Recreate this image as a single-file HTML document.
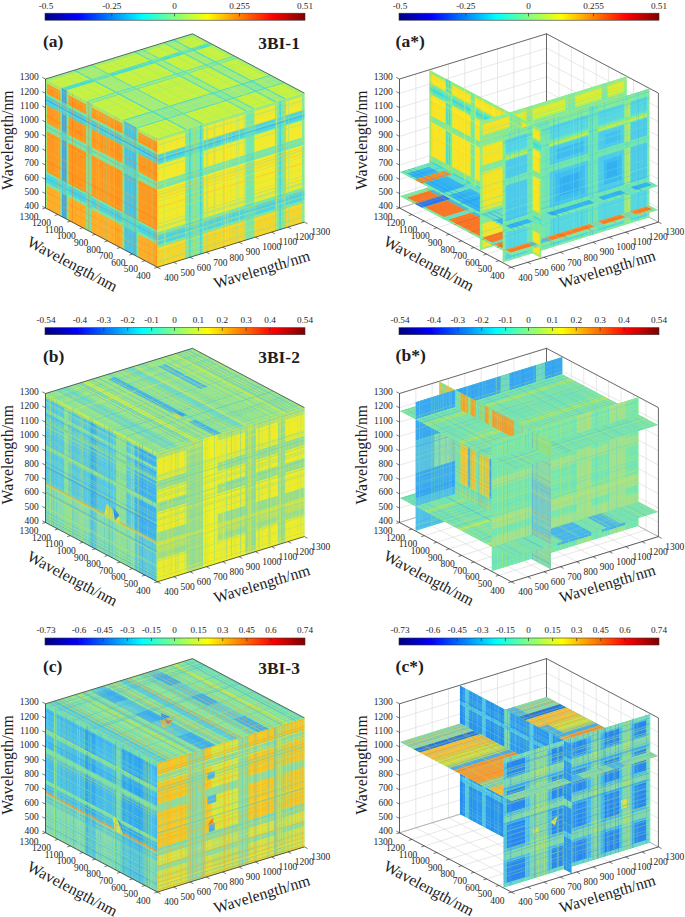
<!DOCTYPE html>
<html><head><meta charset="utf-8"><style>
html,body{margin:0;padding:0;background:#fff;}
svg{display:block;font-family:"Liberation Serif", serif;}
</style></head><body>
<svg width="685" height="917" viewBox="0 0 685 917">
<defs><linearGradient id="jetgrad" x1="0" x2="1" y1="0" y2="0"><stop offset="0" stop-color="#000080"/><stop offset="0.016" stop-color="#00008f"/><stop offset="0.031" stop-color="#00009f"/><stop offset="0.047" stop-color="#0000af"/><stop offset="0.062" stop-color="#0000bf"/><stop offset="0.078" stop-color="#0000cf"/><stop offset="0.094" stop-color="#0000df"/><stop offset="0.109" stop-color="#0000ef"/><stop offset="0.125" stop-color="#0000ff"/><stop offset="0.141" stop-color="#0010ff"/><stop offset="0.156" stop-color="#0020ff"/><stop offset="0.172" stop-color="#0030ff"/><stop offset="0.188" stop-color="#0040ff"/><stop offset="0.203" stop-color="#0050ff"/><stop offset="0.219" stop-color="#0060ff"/><stop offset="0.234" stop-color="#0070ff"/><stop offset="0.25" stop-color="#0080ff"/><stop offset="0.266" stop-color="#008fff"/><stop offset="0.281" stop-color="#009fff"/><stop offset="0.297" stop-color="#00afff"/><stop offset="0.312" stop-color="#00bfff"/><stop offset="0.328" stop-color="#00cfff"/><stop offset="0.344" stop-color="#00dfff"/><stop offset="0.359" stop-color="#00efff"/><stop offset="0.375" stop-color="#00ffff"/><stop offset="0.391" stop-color="#10ffef"/><stop offset="0.406" stop-color="#20ffdf"/><stop offset="0.422" stop-color="#30ffcf"/><stop offset="0.438" stop-color="#40ffbf"/><stop offset="0.453" stop-color="#50ffaf"/><stop offset="0.469" stop-color="#60ff9f"/><stop offset="0.484" stop-color="#70ff8f"/><stop offset="0.5" stop-color="#80ff80"/><stop offset="0.516" stop-color="#8fff70"/><stop offset="0.531" stop-color="#9fff60"/><stop offset="0.547" stop-color="#afff50"/><stop offset="0.562" stop-color="#bfff40"/><stop offset="0.578" stop-color="#cfff30"/><stop offset="0.594" stop-color="#dfff20"/><stop offset="0.609" stop-color="#efff10"/><stop offset="0.625" stop-color="#ffff00"/><stop offset="0.641" stop-color="#ffef00"/><stop offset="0.656" stop-color="#ffdf00"/><stop offset="0.672" stop-color="#ffcf00"/><stop offset="0.688" stop-color="#ffbf00"/><stop offset="0.703" stop-color="#ffaf00"/><stop offset="0.719" stop-color="#ff9f00"/><stop offset="0.734" stop-color="#ff8f00"/><stop offset="0.75" stop-color="#ff8000"/><stop offset="0.766" stop-color="#ff7000"/><stop offset="0.781" stop-color="#ff6000"/><stop offset="0.797" stop-color="#ff5000"/><stop offset="0.812" stop-color="#ff4000"/><stop offset="0.828" stop-color="#ff3000"/><stop offset="0.844" stop-color="#ff2000"/><stop offset="0.859" stop-color="#ff1000"/><stop offset="0.875" stop-color="#ff0000"/><stop offset="0.891" stop-color="#ef0000"/><stop offset="0.906" stop-color="#df0000"/><stop offset="0.922" stop-color="#cf0000"/><stop offset="0.938" stop-color="#bf0000"/><stop offset="0.953" stop-color="#af0000"/><stop offset="0.969" stop-color="#9f0000"/><stop offset="0.984" stop-color="#8f0000"/><stop offset="1" stop-color="#800000"/></linearGradient>
<g id="t1"><rect x="0" y="0" width="1" height="1" fill="#80ff80"/><rect x="0" y="0" width="0.012" height="0.03" fill="#a8ee70"/><rect x="0" y="0.03" width="0.012" height="0.08" fill="#a8ee70"/><rect x="0" y="0.11" width="0.012" height="0.015" fill="#74e6b0"/><rect x="0" y="0.125" width="0.012" height="0.075" fill="#4cd4e2"/><rect x="0" y="0.2" width="0.012" height="0.14" fill="#a8ee70"/><rect x="0" y="0.34" width="0.012" height="0.06" fill="#74e6b0"/><rect x="0" y="0.4" width="0.012" height="0.315" fill="#a8ee70"/><rect x="0" y="0.715" width="0.012" height="0.015" fill="#74e6b0"/><rect x="0" y="0.73" width="0.012" height="0.07" fill="#4cd4e2"/><rect x="0" y="0.8" width="0.012" height="0.02" fill="#74e6b0"/><rect x="0" y="0.82" width="0.012" height="0.18" fill="#a8ee70"/><rect x="0.012" y="0" width="0.123" height="0.03" fill="#a8ee70"/><rect x="0.012" y="0.03" width="0.123" height="0.08" fill="#ff9820"/><rect x="0.012" y="0.11" width="0.123" height="0.015" fill="#74e6b0"/><rect x="0.012" y="0.125" width="0.123" height="0.075" fill="#4cd4e2"/><rect x="0.012" y="0.2" width="0.123" height="0.14" fill="#ff9820"/><rect x="0.012" y="0.34" width="0.123" height="0.06" fill="#74e6b0"/><rect x="0.012" y="0.4" width="0.123" height="0.315" fill="#ff9820"/><rect x="0.012" y="0.715" width="0.123" height="0.015" fill="#74e6b0"/><rect x="0.012" y="0.73" width="0.123" height="0.07" fill="#4cd4e2"/><rect x="0.012" y="0.8" width="0.123" height="0.02" fill="#74e6b0"/><rect x="0.012" y="0.82" width="0.123" height="0.18" fill="#ffac28"/><rect x="0.135" y="0" width="0.012" height="0.03" fill="#74e6b0"/><rect x="0.135" y="0.03" width="0.012" height="0.08" fill="#74e6b0"/><rect x="0.135" y="0.11" width="0.012" height="0.015" fill="#5edcc4"/><rect x="0.135" y="0.125" width="0.012" height="0.075" fill="#60dcc8"/><rect x="0.135" y="0.2" width="0.012" height="0.14" fill="#74e6b0"/><rect x="0.135" y="0.34" width="0.012" height="0.06" fill="#5edcc4"/><rect x="0.135" y="0.4" width="0.012" height="0.315" fill="#74e6b0"/><rect x="0.135" y="0.715" width="0.012" height="0.015" fill="#5edcc4"/><rect x="0.135" y="0.73" width="0.012" height="0.07" fill="#60dcc8"/><rect x="0.135" y="0.8" width="0.012" height="0.02" fill="#5edcc4"/><rect x="0.135" y="0.82" width="0.012" height="0.18" fill="#74e6b0"/><rect x="0.147" y="0" width="0.043" height="0.03" fill="#2f9cf2"/><rect x="0.147" y="0.03" width="0.043" height="0.08" fill="#2f9cf2"/><rect x="0.147" y="0.11" width="0.043" height="0.015" fill="#48c8e8"/><rect x="0.147" y="0.125" width="0.043" height="0.075" fill="#48c8e8"/><rect x="0.147" y="0.2" width="0.043" height="0.14" fill="#2f9cf2"/><rect x="0.147" y="0.34" width="0.043" height="0.06" fill="#48c8e8"/><rect x="0.147" y="0.4" width="0.043" height="0.315" fill="#2f9cf2"/><rect x="0.147" y="0.715" width="0.043" height="0.015" fill="#48c8e8"/><rect x="0.147" y="0.73" width="0.043" height="0.07" fill="#48c8e8"/><rect x="0.147" y="0.8" width="0.043" height="0.02" fill="#48c8e8"/><rect x="0.147" y="0.82" width="0.043" height="0.18" fill="#2f9cf2"/><rect x="0.19" y="0" width="0.015" height="0.03" fill="#74e6b0"/><rect x="0.19" y="0.03" width="0.015" height="0.08" fill="#74e6b0"/><rect x="0.19" y="0.11" width="0.015" height="0.015" fill="#5edcc4"/><rect x="0.19" y="0.125" width="0.015" height="0.075" fill="#60dcc8"/><rect x="0.19" y="0.2" width="0.015" height="0.14" fill="#74e6b0"/><rect x="0.19" y="0.34" width="0.015" height="0.06" fill="#5edcc4"/><rect x="0.19" y="0.4" width="0.015" height="0.315" fill="#74e6b0"/><rect x="0.19" y="0.715" width="0.015" height="0.015" fill="#5edcc4"/><rect x="0.19" y="0.73" width="0.015" height="0.07" fill="#60dcc8"/><rect x="0.19" y="0.8" width="0.015" height="0.02" fill="#5edcc4"/><rect x="0.19" y="0.82" width="0.015" height="0.18" fill="#74e6b0"/><rect x="0.205" y="0" width="0.16" height="0.03" fill="#a8ee70"/><rect x="0.205" y="0.03" width="0.16" height="0.08" fill="#ff9820"/><rect x="0.205" y="0.11" width="0.16" height="0.015" fill="#74e6b0"/><rect x="0.205" y="0.125" width="0.16" height="0.075" fill="#4cd4e2"/><rect x="0.205" y="0.2" width="0.16" height="0.14" fill="#ff9820"/><rect x="0.205" y="0.34" width="0.16" height="0.06" fill="#74e6b0"/><rect x="0.205" y="0.4" width="0.16" height="0.315" fill="#ff9820"/><rect x="0.205" y="0.715" width="0.16" height="0.015" fill="#74e6b0"/><rect x="0.205" y="0.73" width="0.16" height="0.07" fill="#4cd4e2"/><rect x="0.205" y="0.8" width="0.16" height="0.02" fill="#74e6b0"/><rect x="0.205" y="0.82" width="0.16" height="0.18" fill="#ffac28"/><rect x="0.365" y="0" width="0.05" height="0.03" fill="#74e6b0"/><rect x="0.365" y="0.03" width="0.05" height="0.08" fill="#74e6b0"/><rect x="0.365" y="0.11" width="0.05" height="0.015" fill="#5edcc4"/><rect x="0.365" y="0.125" width="0.05" height="0.075" fill="#60dcc8"/><rect x="0.365" y="0.2" width="0.05" height="0.14" fill="#74e6b0"/><rect x="0.365" y="0.34" width="0.05" height="0.06" fill="#5edcc4"/><rect x="0.365" y="0.4" width="0.05" height="0.315" fill="#74e6b0"/><rect x="0.365" y="0.715" width="0.05" height="0.015" fill="#5edcc4"/><rect x="0.365" y="0.73" width="0.05" height="0.07" fill="#60dcc8"/><rect x="0.365" y="0.8" width="0.05" height="0.02" fill="#5edcc4"/><rect x="0.365" y="0.82" width="0.05" height="0.18" fill="#74e6b0"/><rect x="0.415" y="0" width="0.275" height="0.03" fill="#a8ee70"/><rect x="0.415" y="0.03" width="0.275" height="0.08" fill="#ff9820"/><rect x="0.415" y="0.11" width="0.275" height="0.015" fill="#74e6b0"/><rect x="0.415" y="0.125" width="0.275" height="0.075" fill="#4cd4e2"/><rect x="0.415" y="0.2" width="0.275" height="0.14" fill="#ff9820"/><rect x="0.415" y="0.34" width="0.275" height="0.06" fill="#74e6b0"/><rect x="0.415" y="0.4" width="0.275" height="0.315" fill="#ff9820"/><rect x="0.415" y="0.715" width="0.275" height="0.015" fill="#74e6b0"/><rect x="0.415" y="0.73" width="0.275" height="0.07" fill="#4cd4e2"/><rect x="0.415" y="0.8" width="0.275" height="0.02" fill="#74e6b0"/><rect x="0.415" y="0.82" width="0.275" height="0.18" fill="#ffac28"/><rect x="0.69" y="0" width="0.015" height="0.03" fill="#74e6b0"/><rect x="0.69" y="0.03" width="0.015" height="0.08" fill="#74e6b0"/><rect x="0.69" y="0.11" width="0.015" height="0.015" fill="#5edcc4"/><rect x="0.69" y="0.125" width="0.015" height="0.075" fill="#60dcc8"/><rect x="0.69" y="0.2" width="0.015" height="0.14" fill="#74e6b0"/><rect x="0.69" y="0.34" width="0.015" height="0.06" fill="#5edcc4"/><rect x="0.69" y="0.4" width="0.015" height="0.315" fill="#74e6b0"/><rect x="0.69" y="0.715" width="0.015" height="0.015" fill="#5edcc4"/><rect x="0.69" y="0.73" width="0.015" height="0.07" fill="#60dcc8"/><rect x="0.69" y="0.8" width="0.015" height="0.02" fill="#5edcc4"/><rect x="0.69" y="0.82" width="0.015" height="0.18" fill="#74e6b0"/><rect x="0.705" y="0" width="0.11" height="0.03" fill="#40c4ee"/><rect x="0.705" y="0.03" width="0.11" height="0.08" fill="#40c4ee"/><rect x="0.705" y="0.11" width="0.11" height="0.015" fill="#58d8d0"/><rect x="0.705" y="0.125" width="0.11" height="0.075" fill="#58d8d0"/><rect x="0.705" y="0.2" width="0.11" height="0.14" fill="#40c4ee"/><rect x="0.705" y="0.34" width="0.11" height="0.06" fill="#58d8d0"/><rect x="0.705" y="0.4" width="0.11" height="0.315" fill="#40c4ee"/><rect x="0.705" y="0.715" width="0.11" height="0.015" fill="#58d8d0"/><rect x="0.705" y="0.73" width="0.11" height="0.07" fill="#58d8d0"/><rect x="0.705" y="0.8" width="0.11" height="0.02" fill="#58d8d0"/><rect x="0.705" y="0.82" width="0.11" height="0.18" fill="#40c4ee"/><rect x="0.815" y="0" width="0.015" height="0.03" fill="#74e6b0"/><rect x="0.815" y="0.03" width="0.015" height="0.08" fill="#74e6b0"/><rect x="0.815" y="0.11" width="0.015" height="0.015" fill="#5edcc4"/><rect x="0.815" y="0.125" width="0.015" height="0.075" fill="#60dcc8"/><rect x="0.815" y="0.2" width="0.015" height="0.14" fill="#74e6b0"/><rect x="0.815" y="0.34" width="0.015" height="0.06" fill="#5edcc4"/><rect x="0.815" y="0.4" width="0.015" height="0.315" fill="#74e6b0"/><rect x="0.815" y="0.715" width="0.015" height="0.015" fill="#5edcc4"/><rect x="0.815" y="0.73" width="0.015" height="0.07" fill="#60dcc8"/><rect x="0.815" y="0.8" width="0.015" height="0.02" fill="#5edcc4"/><rect x="0.815" y="0.82" width="0.015" height="0.18" fill="#74e6b0"/><rect x="0.83" y="0" width="0.17" height="0.03" fill="#a8ee70"/><rect x="0.83" y="0.03" width="0.17" height="0.08" fill="#ff9820"/><rect x="0.83" y="0.11" width="0.17" height="0.015" fill="#74e6b0"/><rect x="0.83" y="0.125" width="0.17" height="0.075" fill="#4cd4e2"/><rect x="0.83" y="0.2" width="0.17" height="0.14" fill="#ff9820"/><rect x="0.83" y="0.34" width="0.17" height="0.06" fill="#74e6b0"/><rect x="0.83" y="0.4" width="0.17" height="0.315" fill="#ff9820"/><rect x="0.83" y="0.715" width="0.17" height="0.015" fill="#74e6b0"/><rect x="0.83" y="0.73" width="0.17" height="0.07" fill="#4cd4e2"/><rect x="0.83" y="0.8" width="0.17" height="0.02" fill="#74e6b0"/><rect x="0.83" y="0.82" width="0.17" height="0.18" fill="#ffac28"/><rect x="0" y="0.155" width="1" height="0.01" fill="#34a8f0"/><rect x="0" y="0.76" width="1" height="0.01" fill="#40c4ea"/><rect x="0" y="0.36" width="1" height="0.01" fill="#50d8d0"/><g opacity="0.5"><rect x="0.452" y="0" width="0.005" height="1" fill="#ffc040"/><rect x="0.855" y="0" width="0.003" height="1" fill="#80e8a0"/><rect x="0.614" y="0" width="0.003" height="1" fill="#ffc040"/><rect x="0" y="0.091" width="1" height="0.006" fill="#ff8010"/><rect x="0" y="0.396" width="1" height="0.004" fill="#80e8a0"/><rect x="0.623" y="0" width="0.006" height="1" fill="#ff8010"/><rect x="0" y="0.19" width="1" height="0.003" fill="#ff8010"/><rect x="0" y="0.326" width="1" height="0.005" fill="#ffb030"/><rect x="0.64" y="0" width="0.004" height="1" fill="#ff8010"/><rect x="0" y="0.278" width="1" height="0.007" fill="#ff8010"/><rect x="0.315" y="0" width="0.003" height="1" fill="#ff7808"/><rect x="0" y="0.563" width="1" height="0.003" fill="#ff8010"/><rect x="0.387" y="0" width="0.007" height="1" fill="#ff8010"/><rect x="0" y="0.927" width="1" height="0.002" fill="#ffc040"/><rect x="0" y="0.397" width="1" height="0.002" fill="#ffb030"/><rect x="0.27" y="0" width="0.002" height="1" fill="#ff7808"/><rect x="0.41" y="0" width="0.007" height="1" fill="#ffb030"/><rect x="0.101" y="0" width="0.002" height="1" fill="#ffc040"/><rect x="0" y="0.559" width="1" height="0.004" fill="#ffb030"/><rect x="0.77" y="0" width="0.004" height="1" fill="#ffc040"/><rect x="0" y="0.421" width="1" height="0.003" fill="#ff7808"/><rect x="0.975" y="0" width="0.005" height="1" fill="#ff8010"/><rect x="0.394" y="0" width="0.006" height="1" fill="#80e8a0"/><rect x="0.989" y="0" width="0.003" height="1" fill="#ff7808"/><rect x="0.61" y="0" width="0.006" height="1" fill="#ffc040"/><rect x="0.09" y="0" width="0.005" height="1" fill="#ffb030"/><rect x="0" y="0.369" width="1" height="0.005" fill="#ffb030"/><rect x="0.484" y="0" width="0.005" height="1" fill="#ffc040"/><rect x="0.154" y="0" width="0.007" height="1" fill="#80e8a0"/><rect x="0.19" y="0" width="0.006" height="1" fill="#80e8a0"/><rect x="0.95" y="0" width="0.006" height="1" fill="#80e8a0"/><rect x="0" y="0.047" width="1" height="0.003" fill="#80e8a0"/><rect x="0.238" y="0" width="0.006" height="1" fill="#ff7808"/><rect x="0.905" y="0" width="0.004" height="1" fill="#80e8a0"/><rect x="0.72" y="0" width="0.002" height="1" fill="#ffb030"/><rect x="0.654" y="0" width="0.005" height="1" fill="#ff8010"/><rect x="0.917" y="0" width="0.003" height="1" fill="#ff8010"/><rect x="0.411" y="0" width="0.003" height="1" fill="#ff8010"/><rect x="0.369" y="0" width="0.005" height="1" fill="#ffb030"/><rect x="0" y="0.138" width="1" height="0.004" fill="#ff7808"/><rect x="0" y="0.691" width="1" height="0.005" fill="#ffb030"/><rect x="0" y="0.924" width="1" height="0.004" fill="#ff7808"/><rect x="0.963" y="0" width="0.002" height="1" fill="#ff8010"/><rect x="0.73" y="0" width="0.004" height="1" fill="#ff8010"/><rect x="0" y="0.546" width="1" height="0.006" fill="#ffb030"/><rect x="0" y="0.915" width="1" height="0.004" fill="#ffc040"/><rect x="0" y="0.871" width="1" height="0.004" fill="#ff8010"/><rect x="0.573" y="0" width="0.005" height="1" fill="#ffc040"/><rect x="0" y="0.012" width="1" height="0.002" fill="#ff8010"/><rect x="0.993" y="0" width="0.006" height="1" fill="#ff7808"/><rect x="0.735" y="0" width="0.005" height="1" fill="#ffc040"/><rect x="0.541" y="0" width="0.005" height="1" fill="#80e8a0"/><rect x="0" y="0.601" width="1" height="0.004" fill="#ffb030"/><rect x="0.113" y="0" width="0.006" height="1" fill="#ffc040"/><rect x="0.011" y="0" width="0.004" height="1" fill="#80e8a0"/><rect x="0.17" y="0" width="0.007" height="1" fill="#ffc040"/><rect x="0.241" y="0" width="0.004" height="1" fill="#ff7808"/><rect x="0" y="0.431" width="1" height="0.006" fill="#ffb030"/><rect x="0.384" y="0" width="0.005" height="1" fill="#ff7808"/><rect x="0" y="0.135" width="1" height="0.004" fill="#ff8010"/><rect x="0.95" y="0" width="0.003" height="1" fill="#ffb030"/><rect x="0.471" y="0" width="0.007" height="1" fill="#ffc040"/><rect x="0.52" y="0" width="0.005" height="1" fill="#80e8a0"/><rect x="0.075" y="0" width="0.002" height="1" fill="#80e8a0"/><rect x="0" y="0.709" width="1" height="0.005" fill="#ff7808"/><rect x="0.564" y="0" width="0.005" height="1" fill="#ffc040"/><rect x="0" y="0.025" width="1" height="0.006" fill="#ffb030"/><rect x="0.797" y="0" width="0.007" height="1" fill="#ff8010"/><rect x="0" y="0.63" width="1" height="0.005" fill="#ff7808"/><rect x="0.684" y="0" width="0.003" height="1" fill="#ffc040"/></g></g>
<g id="t2"><rect x="0" y="0" width="1" height="1" fill="#80ff80"/><rect x="0" y="0" width="0.19" height="0.02" fill="#90e890"/><rect x="0" y="0.02" width="0.19" height="0.11" fill="#f2ea2c"/><rect x="0" y="0.13" width="0.19" height="0.07" fill="#4cd4e2"/><rect x="0" y="0.2" width="0.19" height="0.01" fill="#74e6b0"/><rect x="0" y="0.21" width="0.19" height="0.13" fill="#f2ea2c"/><rect x="0" y="0.34" width="0.19" height="0.06" fill="#74e6b0"/><rect x="0" y="0.4" width="0.19" height="0.33" fill="#f2ea2c"/><rect x="0" y="0.73" width="0.19" height="0.02" fill="#74e6b0"/><rect x="0" y="0.75" width="0.19" height="0.08" fill="#4cd4e2"/><rect x="0" y="0.83" width="0.19" height="0.02" fill="#74e6b0"/><rect x="0" y="0.85" width="0.19" height="0.15" fill="#f8d428"/><rect x="0.19" y="0" width="0.125" height="0.02" fill="#74e6b0"/><rect x="0.19" y="0.02" width="0.125" height="0.11" fill="#74e6b0"/><rect x="0.19" y="0.13" width="0.125" height="0.07" fill="#60dcc8"/><rect x="0.19" y="0.2" width="0.125" height="0.01" fill="#5edcc4"/><rect x="0.19" y="0.21" width="0.125" height="0.13" fill="#74e6b0"/><rect x="0.19" y="0.34" width="0.125" height="0.06" fill="#5edcc4"/><rect x="0.19" y="0.4" width="0.125" height="0.33" fill="#74e6b0"/><rect x="0.19" y="0.73" width="0.125" height="0.02" fill="#5edcc4"/><rect x="0.19" y="0.75" width="0.125" height="0.08" fill="#60dcc8"/><rect x="0.19" y="0.83" width="0.125" height="0.02" fill="#5edcc4"/><rect x="0.19" y="0.85" width="0.125" height="0.15" fill="#74e6b0"/><rect x="0.315" y="0" width="0.285" height="0.02" fill="#90e890"/><rect x="0.315" y="0.02" width="0.285" height="0.11" fill="#f2ea2c"/><rect x="0.315" y="0.13" width="0.285" height="0.07" fill="#4cd4e2"/><rect x="0.315" y="0.2" width="0.285" height="0.01" fill="#74e6b0"/><rect x="0.315" y="0.21" width="0.285" height="0.13" fill="#f2ea2c"/><rect x="0.315" y="0.34" width="0.285" height="0.06" fill="#74e6b0"/><rect x="0.315" y="0.4" width="0.285" height="0.33" fill="#f2ea2c"/><rect x="0.315" y="0.73" width="0.285" height="0.02" fill="#74e6b0"/><rect x="0.315" y="0.75" width="0.285" height="0.08" fill="#4cd4e2"/><rect x="0.315" y="0.83" width="0.285" height="0.02" fill="#74e6b0"/><rect x="0.315" y="0.85" width="0.285" height="0.15" fill="#f8d428"/><rect x="0.6" y="0" width="0.06" height="0.02" fill="#74e6b0"/><rect x="0.6" y="0.02" width="0.06" height="0.11" fill="#74e6b0"/><rect x="0.6" y="0.13" width="0.06" height="0.07" fill="#60dcc8"/><rect x="0.6" y="0.2" width="0.06" height="0.01" fill="#5edcc4"/><rect x="0.6" y="0.21" width="0.06" height="0.13" fill="#74e6b0"/><rect x="0.6" y="0.34" width="0.06" height="0.06" fill="#5edcc4"/><rect x="0.6" y="0.4" width="0.06" height="0.33" fill="#74e6b0"/><rect x="0.6" y="0.73" width="0.06" height="0.02" fill="#5edcc4"/><rect x="0.6" y="0.75" width="0.06" height="0.08" fill="#60dcc8"/><rect x="0.6" y="0.83" width="0.06" height="0.02" fill="#5edcc4"/><rect x="0.6" y="0.85" width="0.06" height="0.15" fill="#74e6b0"/><rect x="0.66" y="0" width="0.14" height="0.02" fill="#90e890"/><rect x="0.66" y="0.02" width="0.14" height="0.11" fill="#f2ea2c"/><rect x="0.66" y="0.13" width="0.14" height="0.07" fill="#4cd4e2"/><rect x="0.66" y="0.2" width="0.14" height="0.01" fill="#74e6b0"/><rect x="0.66" y="0.21" width="0.14" height="0.13" fill="#f2ea2c"/><rect x="0.66" y="0.34" width="0.14" height="0.06" fill="#74e6b0"/><rect x="0.66" y="0.4" width="0.14" height="0.33" fill="#f2ea2c"/><rect x="0.66" y="0.73" width="0.14" height="0.02" fill="#74e6b0"/><rect x="0.66" y="0.75" width="0.14" height="0.08" fill="#4cd4e2"/><rect x="0.66" y="0.83" width="0.14" height="0.02" fill="#74e6b0"/><rect x="0.66" y="0.85" width="0.14" height="0.15" fill="#f8d428"/><rect x="0.8" y="0" width="0.075" height="0.02" fill="#74e6b0"/><rect x="0.8" y="0.02" width="0.075" height="0.11" fill="#74e6b0"/><rect x="0.8" y="0.13" width="0.075" height="0.07" fill="#60dcc8"/><rect x="0.8" y="0.2" width="0.075" height="0.01" fill="#5edcc4"/><rect x="0.8" y="0.21" width="0.075" height="0.13" fill="#74e6b0"/><rect x="0.8" y="0.34" width="0.075" height="0.06" fill="#5edcc4"/><rect x="0.8" y="0.4" width="0.075" height="0.33" fill="#74e6b0"/><rect x="0.8" y="0.73" width="0.075" height="0.02" fill="#5edcc4"/><rect x="0.8" y="0.75" width="0.075" height="0.08" fill="#60dcc8"/><rect x="0.8" y="0.83" width="0.075" height="0.02" fill="#5edcc4"/><rect x="0.8" y="0.85" width="0.075" height="0.15" fill="#74e6b0"/><rect x="0.875" y="0" width="0.11" height="0.02" fill="#90e890"/><rect x="0.875" y="0.02" width="0.11" height="0.11" fill="#f2ea2c"/><rect x="0.875" y="0.13" width="0.11" height="0.07" fill="#4cd4e2"/><rect x="0.875" y="0.2" width="0.11" height="0.01" fill="#74e6b0"/><rect x="0.875" y="0.21" width="0.11" height="0.13" fill="#f2ea2c"/><rect x="0.875" y="0.34" width="0.11" height="0.06" fill="#74e6b0"/><rect x="0.875" y="0.4" width="0.11" height="0.33" fill="#f2ea2c"/><rect x="0.875" y="0.73" width="0.11" height="0.02" fill="#74e6b0"/><rect x="0.875" y="0.75" width="0.11" height="0.08" fill="#4cd4e2"/><rect x="0.875" y="0.83" width="0.11" height="0.02" fill="#74e6b0"/><rect x="0.875" y="0.85" width="0.11" height="0.15" fill="#f8d428"/><rect x="0.985" y="0" width="0.015" height="0.02" fill="#90e890"/><rect x="0.985" y="0.02" width="0.015" height="0.11" fill="#90e890"/><rect x="0.985" y="0.13" width="0.015" height="0.07" fill="#4cd4e2"/><rect x="0.985" y="0.2" width="0.015" height="0.01" fill="#74e6b0"/><rect x="0.985" y="0.21" width="0.015" height="0.13" fill="#90e890"/><rect x="0.985" y="0.34" width="0.015" height="0.06" fill="#74e6b0"/><rect x="0.985" y="0.4" width="0.015" height="0.33" fill="#90e890"/><rect x="0.985" y="0.73" width="0.015" height="0.02" fill="#74e6b0"/><rect x="0.985" y="0.75" width="0.015" height="0.08" fill="#4cd4e2"/><rect x="0.985" y="0.83" width="0.015" height="0.02" fill="#74e6b0"/><rect x="0.985" y="0.85" width="0.015" height="0.15" fill="#90e890"/><rect x="0.215" y="0" width="0.01" height="1" fill="#3cd4e4"/><rect x="0.29" y="0" width="0.01" height="1" fill="#3cd4e4"/><rect x="0.83" y="0" width="0.01" height="1" fill="#3cd4e4"/><rect x="0" y="0.165" width="1" height="0.01" fill="#3cb4ee"/><rect x="0" y="0.78" width="1" height="0.01" fill="#44c8e8"/><g opacity="0.55"><rect x="0.475" y="0" width="0.005" height="1" fill="#80e4a8"/><rect x="0.382" y="0" width="0.007" height="1" fill="#ffc028"/><rect x="0.81" y="0" width="0.005" height="1" fill="#88e4a8"/><rect x="0.002" y="0" width="0.005" height="1" fill="#ffc028"/><rect x="0" y="0.34" width="1" height="0.003" fill="#88e4a8"/><rect x="0" y="0.075" width="1" height="0.005" fill="#c8ec50"/><rect x="0" y="0.798" width="1" height="0.002" fill="#ffd020"/><rect x="0" y="0.662" width="1" height="0.003" fill="#ffc028"/><rect x="0" y="0.113" width="1" height="0.004" fill="#f8f038"/><rect x="0" y="0.882" width="1" height="0.005" fill="#80e4a8"/><rect x="0.555" y="0" width="0.005" height="1" fill="#ffd020"/><rect x="0" y="0.419" width="1" height="0.005" fill="#ffc028"/><rect x="0" y="0.541" width="1" height="0.005" fill="#ffd020"/><rect x="0" y="0.976" width="1" height="0.005" fill="#c8ec50"/><rect x="0.866" y="0" width="0.004" height="1" fill="#c8ec50"/><rect x="0" y="0.235" width="1" height="0.004" fill="#88e4a8"/><rect x="0" y="0.765" width="1" height="0.003" fill="#ffc028"/><rect x="0" y="0.43" width="1" height="0.005" fill="#f8f038"/><rect x="0.043" y="0" width="0.003" height="1" fill="#88e4a8"/><rect x="0.55" y="0" width="0.003" height="1" fill="#80e4a8"/><rect x="0" y="0.433" width="1" height="0.004" fill="#88e4a8"/><rect x="0.052" y="0" width="0.004" height="1" fill="#f8f038"/><rect x="0.456" y="0" width="0.005" height="1" fill="#ffc028"/><rect x="0.989" y="0" width="0.004" height="1" fill="#88e4a8"/><rect x="0.189" y="0" width="0.006" height="1" fill="#88e4a8"/><rect x="0.268" y="0" width="0.006" height="1" fill="#c8ec50"/><rect x="0" y="0.795" width="1" height="0.005" fill="#f8f038"/><rect x="0.984" y="0" width="0.007" height="1" fill="#88e4a8"/><rect x="0" y="0.928" width="1" height="0.006" fill="#80e4a8"/><rect x="0" y="0.639" width="1" height="0.003" fill="#88e4a8"/><rect x="0" y="0.49" width="1" height="0.004" fill="#80e4a8"/><rect x="0" y="0.894" width="1" height="0.003" fill="#c8ec50"/><rect x="0" y="0.046" width="1" height="0.004" fill="#88e4a8"/><rect x="0.445" y="0" width="0.006" height="1" fill="#80e4a8"/><rect x="0.255" y="0" width="0.005" height="1" fill="#80e4a8"/><rect x="0.558" y="0" width="0.003" height="1" fill="#f8f038"/><rect x="0" y="0.435" width="1" height="0.007" fill="#88e4a8"/><rect x="0" y="0.719" width="1" height="0.007" fill="#c8ec50"/><rect x="0" y="0.418" width="1" height="0.005" fill="#ffc028"/><rect x="0" y="0.58" width="1" height="0.004" fill="#c8ec50"/><rect x="0" y="0.385" width="1" height="0.003" fill="#80e4a8"/><rect x="0" y="0.904" width="1" height="0.006" fill="#ffd020"/><rect x="0" y="0.535" width="1" height="0.006" fill="#ffc028"/><rect x="0" y="0.71" width="1" height="0.003" fill="#c8ec50"/><rect x="0" y="0.689" width="1" height="0.005" fill="#88e4a8"/><rect x="0.212" y="0" width="0.005" height="1" fill="#80e4a8"/><rect x="0.246" y="0" width="0.004" height="1" fill="#c8ec50"/><rect x="0.332" y="0" width="0.005" height="1" fill="#80e4a8"/><rect x="0" y="0.696" width="1" height="0.006" fill="#80e4a8"/><rect x="0.436" y="0" width="0.003" height="1" fill="#f8f038"/><rect x="0" y="0.444" width="1" height="0.003" fill="#80e4a8"/><rect x="0" y="0.457" width="1" height="0.006" fill="#ffd020"/><rect x="0" y="0.008" width="1" height="0.004" fill="#c8ec50"/><rect x="0" y="0.688" width="1" height="0.003" fill="#88e4a8"/><rect x="0" y="0.501" width="1" height="0.005" fill="#f8f038"/><rect x="0.389" y="0" width="0.005" height="1" fill="#80e4a8"/><rect x="0.46" y="0" width="0.006" height="1" fill="#f8f038"/><rect x="0" y="0.699" width="1" height="0.006" fill="#88e4a8"/><rect x="0" y="0.663" width="1" height="0.007" fill="#88e4a8"/><rect x="0.312" y="0" width="0.006" height="1" fill="#ffd020"/><rect x="0.5" y="0" width="0.004" height="1" fill="#c8ec50"/><rect x="0.477" y="0" width="0.006" height="1" fill="#f8f038"/><rect x="0.046" y="0" width="0.006" height="1" fill="#c8ec50"/><rect x="0.627" y="0" width="0.003" height="1" fill="#88e4a8"/><rect x="0" y="0.126" width="1" height="0.005" fill="#80e4a8"/><rect x="0" y="0.784" width="1" height="0.004" fill="#88e4a8"/><rect x="0.34" y="0" width="0.006" height="1" fill="#ffc028"/><rect x="0" y="0.4" width="1" height="0.006" fill="#f8f038"/><rect x="0" y="0.836" width="1" height="0.003" fill="#c8ec50"/><rect x="0" y="0.053" width="1" height="0.006" fill="#80e4a8"/><rect x="0" y="0.359" width="1" height="0.006" fill="#c8ec50"/><rect x="0" y="0.859" width="1" height="0.004" fill="#f8f038"/><rect x="0.86" y="0" width="0.005" height="1" fill="#ffd020"/><rect x="0" y="0.171" width="1" height="0.003" fill="#80e4a8"/><rect x="0" y="0.927" width="1" height="0.007" fill="#c8ec50"/><rect x="0" y="0.022" width="1" height="0.007" fill="#c8ec50"/><rect x="0.536" y="0" width="0.004" height="1" fill="#88e4a8"/><rect x="0" y="0.127" width="1" height="0.004" fill="#ffc028"/><rect x="0" y="0.467" width="1" height="0.005" fill="#ffc028"/><rect x="0.893" y="0" width="0.002" height="1" fill="#c8ec50"/><rect x="0" y="0.155" width="1" height="0.006" fill="#c8ec50"/><rect x="0" y="0.956" width="1" height="0.005" fill="#ffc028"/><rect x="0" y="0.963" width="1" height="0.004" fill="#ffd020"/><rect x="0.129" y="0" width="0.002" height="1" fill="#ffd020"/><rect x="0.806" y="0" width="0.006" height="1" fill="#f8f038"/><rect x="0" y="0.687" width="1" height="0.005" fill="#80e4a8"/><rect x="0" y="0.747" width="1" height="0.007" fill="#ffd020"/><rect x="0.587" y="0" width="0.006" height="1" fill="#80e4a8"/><rect x="0" y="0.757" width="1" height="0.004" fill="#88e4a8"/><rect x="0" y="0.8" width="1" height="0.004" fill="#80e4a8"/><rect x="0" y="0.953" width="1" height="0.007" fill="#80e4a8"/><rect x="0" y="0.362" width="1" height="0.003" fill="#ffc028"/><rect x="0.669" y="0" width="0.002" height="1" fill="#f8f038"/><rect x="0" y="0.436" width="1" height="0.004" fill="#ffc028"/><rect x="0.34" y="0" width="0.004" height="1" fill="#ffc028"/><rect x="0.889" y="0" width="0.005" height="1" fill="#88e4a8"/><rect x="0" y="0.231" width="1" height="0.004" fill="#88e4a8"/><rect x="0" y="0.838" width="1" height="0.005" fill="#ffc028"/><rect x="0.252" y="0" width="0.004" height="1" fill="#ffd020"/><rect x="0" y="0.587" width="1" height="0.004" fill="#c8ec50"/></g></g>
<g id="t3"><rect x="0" y="0" width="1" height="1" fill="#80ff80"/><rect x="0" y="0" width="0.19" height="0.174" fill="#c6f244"/><rect x="0" y="0.174" width="0.19" height="0.133" fill="#a0ec80"/><rect x="0" y="0.307" width="0.19" height="0.283" fill="#c6f244"/><rect x="0" y="0.59" width="0.19" height="0.04" fill="#a0ec80"/><rect x="0" y="0.63" width="0.19" height="0.18" fill="#c6f244"/><rect x="0" y="0.81" width="0.19" height="0.043" fill="#40dcd8"/><rect x="0" y="0.853" width="0.19" height="0.117" fill="#c6f244"/><rect x="0" y="0.97" width="0.19" height="0.03" fill="#a0ec80"/><rect x="0.19" y="0" width="0.125" height="0.174" fill="#a0ec80"/><rect x="0.19" y="0.174" width="0.125" height="0.133" fill="#88e8a0"/><rect x="0.19" y="0.307" width="0.125" height="0.283" fill="#a0ec80"/><rect x="0.19" y="0.59" width="0.125" height="0.04" fill="#88e8a0"/><rect x="0.19" y="0.63" width="0.125" height="0.18" fill="#a0ec80"/><rect x="0.19" y="0.81" width="0.125" height="0.043" fill="#60e0c0"/><rect x="0.19" y="0.853" width="0.125" height="0.117" fill="#a0ec80"/><rect x="0.19" y="0.97" width="0.125" height="0.03" fill="#88e8a0"/><rect x="0.315" y="0" width="0.285" height="0.174" fill="#c6f244"/><rect x="0.315" y="0.174" width="0.285" height="0.133" fill="#a0ec80"/><rect x="0.315" y="0.307" width="0.285" height="0.283" fill="#c6f244"/><rect x="0.315" y="0.59" width="0.285" height="0.04" fill="#a0ec80"/><rect x="0.315" y="0.63" width="0.285" height="0.18" fill="#c6f244"/><rect x="0.315" y="0.81" width="0.285" height="0.043" fill="#40dcd8"/><rect x="0.315" y="0.853" width="0.285" height="0.117" fill="#c6f244"/><rect x="0.315" y="0.97" width="0.285" height="0.03" fill="#a0ec80"/><rect x="0.6" y="0" width="0.06" height="0.174" fill="#a0ec80"/><rect x="0.6" y="0.174" width="0.06" height="0.133" fill="#88e8a0"/><rect x="0.6" y="0.307" width="0.06" height="0.283" fill="#a0ec80"/><rect x="0.6" y="0.59" width="0.06" height="0.04" fill="#88e8a0"/><rect x="0.6" y="0.63" width="0.06" height="0.18" fill="#a0ec80"/><rect x="0.6" y="0.81" width="0.06" height="0.043" fill="#60e0c0"/><rect x="0.6" y="0.853" width="0.06" height="0.117" fill="#a0ec80"/><rect x="0.6" y="0.97" width="0.06" height="0.03" fill="#88e8a0"/><rect x="0.66" y="0" width="0.14" height="0.174" fill="#c6f244"/><rect x="0.66" y="0.174" width="0.14" height="0.133" fill="#a0ec80"/><rect x="0.66" y="0.307" width="0.14" height="0.283" fill="#c6f244"/><rect x="0.66" y="0.59" width="0.14" height="0.04" fill="#a0ec80"/><rect x="0.66" y="0.63" width="0.14" height="0.18" fill="#c6f244"/><rect x="0.66" y="0.81" width="0.14" height="0.043" fill="#40dcd8"/><rect x="0.66" y="0.853" width="0.14" height="0.117" fill="#c6f244"/><rect x="0.66" y="0.97" width="0.14" height="0.03" fill="#a0ec80"/><rect x="0.8" y="0" width="0.075" height="0.174" fill="#a0ec80"/><rect x="0.8" y="0.174" width="0.075" height="0.133" fill="#88e8a0"/><rect x="0.8" y="0.307" width="0.075" height="0.283" fill="#a0ec80"/><rect x="0.8" y="0.59" width="0.075" height="0.04" fill="#88e8a0"/><rect x="0.8" y="0.63" width="0.075" height="0.18" fill="#a0ec80"/><rect x="0.8" y="0.81" width="0.075" height="0.043" fill="#60e0c0"/><rect x="0.8" y="0.853" width="0.075" height="0.117" fill="#a0ec80"/><rect x="0.8" y="0.97" width="0.075" height="0.03" fill="#88e8a0"/><rect x="0.875" y="0" width="0.11" height="0.174" fill="#c6f244"/><rect x="0.875" y="0.174" width="0.11" height="0.133" fill="#a0ec80"/><rect x="0.875" y="0.307" width="0.11" height="0.283" fill="#c6f244"/><rect x="0.875" y="0.59" width="0.11" height="0.04" fill="#a0ec80"/><rect x="0.875" y="0.63" width="0.11" height="0.18" fill="#c6f244"/><rect x="0.875" y="0.81" width="0.11" height="0.043" fill="#40dcd8"/><rect x="0.875" y="0.853" width="0.11" height="0.117" fill="#c6f244"/><rect x="0.875" y="0.97" width="0.11" height="0.03" fill="#a0ec80"/><rect x="0.985" y="0" width="0.015" height="0.174" fill="#a0ec80"/><rect x="0.985" y="0.174" width="0.015" height="0.133" fill="#88e8a0"/><rect x="0.985" y="0.307" width="0.015" height="0.283" fill="#a0ec80"/><rect x="0.985" y="0.59" width="0.015" height="0.04" fill="#88e8a0"/><rect x="0.985" y="0.63" width="0.015" height="0.18" fill="#a0ec80"/><rect x="0.985" y="0.81" width="0.015" height="0.043" fill="#60e0c0"/><rect x="0.985" y="0.853" width="0.015" height="0.117" fill="#a0ec80"/><rect x="0.985" y="0.97" width="0.015" height="0.03" fill="#88e8a0"/><rect x="0.19" y="0" width="0.01" height="1" fill="#50d8c8"/><rect x="0.305" y="0" width="0.01" height="1" fill="#50d8c8"/><rect x="0.6" y="0" width="0.01" height="1" fill="#58dcc0"/><rect x="0.65" y="0" width="0.01" height="1" fill="#58dcc0"/><rect x="0.8" y="0" width="0.01" height="1" fill="#50d8c8"/><rect x="0.865" y="0" width="0.01" height="1" fill="#50d8c8"/><rect x="0" y="0.174" width="1" height="0.01" fill="#50d8c8"/><rect x="0" y="0.297" width="1" height="0.01" fill="#50d8c8"/><rect x="0" y="0.59" width="1" height="0.01" fill="#58dcc0"/><rect x="0" y="0.62" width="1" height="0.01" fill="#58dcc0"/><g opacity="0.5"><rect x="0" y="0.259" width="1" height="0.005" fill="#a8ee68"/><rect x="0.666" y="0" width="0.005" height="1" fill="#a8ee68"/><rect x="0.531" y="0" width="0.003" height="1" fill="#d8f038"/><rect x="0" y="0.126" width="1" height="0.005" fill="#d0f040"/><rect x="0" y="0.834" width="1" height="0.002" fill="#d8f038"/><rect x="0.745" y="0" width="0.006" height="1" fill="#d8f038"/><rect x="0" y="0.234" width="1" height="0.006" fill="#70e4b0"/><rect x="0.889" y="0" width="0.005" height="1" fill="#d0f040"/><rect x="0" y="0.595" width="1" height="0.005" fill="#d8f038"/><rect x="0.554" y="0" width="0.005" height="1" fill="#a8ee68"/><rect x="0.729" y="0" width="0.004" height="1" fill="#d8f038"/><rect x="0.523" y="0" width="0.003" height="1" fill="#70e4b0"/><rect x="0" y="0.28" width="1" height="0.006" fill="#70e4b0"/><rect x="0.565" y="0" width="0.006" height="1" fill="#d8f038"/><rect x="0.43" y="0" width="0.005" height="1" fill="#70e4b0"/><rect x="0.719" y="0" width="0.006" height="1" fill="#d0f040"/><rect x="0" y="0.498" width="1" height="0.005" fill="#70e4b0"/><rect x="0" y="0.16" width="1" height="0.004" fill="#d8f038"/><rect x="0" y="0.803" width="1" height="0.003" fill="#d8f038"/><rect x="0" y="0.657" width="1" height="0.006" fill="#a8ee68"/><rect x="0.212" y="0" width="0.004" height="1" fill="#d0f040"/><rect x="0.728" y="0" width="0.003" height="1" fill="#d8f038"/><rect x="0.787" y="0" width="0.004" height="1" fill="#a8ee68"/><rect x="0" y="0.429" width="1" height="0.004" fill="#d0f040"/><rect x="0.825" y="0" width="0.005" height="1" fill="#d0f040"/><rect x="0" y="0.311" width="1" height="0.004" fill="#d8f038"/><rect x="0" y="0.699" width="1" height="0.006" fill="#d8f038"/><rect x="0.036" y="0" width="0.003" height="1" fill="#a8ee68"/><rect x="0.97" y="0" width="0.004" height="1" fill="#70e4b0"/><rect x="0" y="0.207" width="1" height="0.005" fill="#70e4b0"/><rect x="0.91" y="0" width="0.005" height="1" fill="#d8f038"/><rect x="0" y="0.824" width="1" height="0.003" fill="#70e4b0"/><rect x="0.356" y="0" width="0.003" height="1" fill="#d8f038"/><rect x="0.641" y="0" width="0.004" height="1" fill="#d8f038"/><rect x="0" y="0.087" width="1" height="0.005" fill="#d0f040"/><rect x="0.306" y="0" width="0.004" height="1" fill="#70e4b0"/><rect x="0.289" y="0" width="0.004" height="1" fill="#a8ee68"/><rect x="0.053" y="0" width="0.003" height="1" fill="#a8ee68"/><rect x="0.303" y="0" width="0.004" height="1" fill="#d0f040"/><rect x="0.1" y="0" width="0.004" height="1" fill="#70e4b0"/><rect x="0.535" y="0" width="0.003" height="1" fill="#d0f040"/><rect x="0" y="0.893" width="1" height="0.004" fill="#a8ee68"/><rect x="0.895" y="0" width="0.006" height="1" fill="#a8ee68"/><rect x="0" y="0.932" width="1" height="0.002" fill="#d8f038"/><rect x="0" y="0.214" width="1" height="0.005" fill="#a8ee68"/><rect x="0" y="0.92" width="1" height="0.004" fill="#70e4b0"/><rect x="0" y="0.84" width="1" height="0.006" fill="#d0f040"/><rect x="0" y="0.943" width="1" height="0.005" fill="#d8f038"/><rect x="0.3" y="0" width="0.006" height="1" fill="#d8f038"/><rect x="0" y="0.373" width="1" height="0.006" fill="#a8ee68"/><rect x="0" y="0.107" width="1" height="0.005" fill="#d0f040"/><rect x="0" y="0.809" width="1" height="0.004" fill="#d8f038"/><rect x="0" y="0.041" width="1" height="0.002" fill="#70e4b0"/><rect x="0.471" y="0" width="0.003" height="1" fill="#a8ee68"/><rect x="0.004" y="0" width="0.002" height="1" fill="#d8f038"/><rect x="0.226" y="0" width="0.006" height="1" fill="#d8f038"/><rect x="0.993" y="0" width="0.005" height="1" fill="#70e4b0"/><rect x="0.155" y="0" width="0.004" height="1" fill="#70e4b0"/><rect x="0.376" y="0" width="0.004" height="1" fill="#a8ee68"/><rect x="0.906" y="0" width="0.004" height="1" fill="#a8ee68"/><rect x="0" y="0.006" width="1" height="0.003" fill="#d0f040"/><rect x="0.497" y="0" width="0.004" height="1" fill="#d0f040"/><rect x="0.745" y="0" width="0.005" height="1" fill="#70e4b0"/><rect x="0.532" y="0" width="0.005" height="1" fill="#a8ee68"/><rect x="0" y="0.619" width="1" height="0.005" fill="#70e4b0"/><rect x="0.257" y="0" width="0.004" height="1" fill="#d0f040"/><rect x="0" y="0.53" width="1" height="0.002" fill="#70e4b0"/><rect x="0" y="0.907" width="1" height="0.005" fill="#d0f040"/><rect x="0.993" y="0" width="0.003" height="1" fill="#d0f040"/><rect x="0" y="0.914" width="1" height="0.006" fill="#d8f038"/></g></g>
<g id="t4"><rect x="0" y="0" width="1" height="1" fill="#80ff80"/><rect x="0" y="0" width="0.17" height="0.035" fill="#c0ea58"/><rect x="0" y="0.035" width="0.17" height="0.085" fill="#58c8e4"/><rect x="0" y="0.12" width="0.17" height="0.02" fill="#90e098"/><rect x="0" y="0.14" width="0.17" height="0.06" fill="#58c8e4"/><rect x="0" y="0.2" width="0.17" height="0.025" fill="#90e098"/><rect x="0" y="0.225" width="0.17" height="0.175" fill="#58c8e4"/><rect x="0" y="0.4" width="0.17" height="0.03" fill="#90e098"/><rect x="0" y="0.43" width="0.17" height="0.26" fill="#58c8e4"/><rect x="0" y="0.69" width="0.17" height="0.015" fill="#f0a040"/><rect x="0" y="0.705" width="0.17" height="0.295" fill="#86dcb0"/><rect x="0.17" y="0" width="0.03" height="0.035" fill="#c0ea58"/><rect x="0.17" y="0.035" width="0.03" height="0.085" fill="#90e098"/><rect x="0.17" y="0.12" width="0.03" height="0.02" fill="#90e098"/><rect x="0.17" y="0.14" width="0.03" height="0.06" fill="#90e098"/><rect x="0.17" y="0.2" width="0.03" height="0.025" fill="#90e098"/><rect x="0.17" y="0.225" width="0.03" height="0.175" fill="#90e098"/><rect x="0.17" y="0.4" width="0.03" height="0.03" fill="#90e098"/><rect x="0.17" y="0.43" width="0.03" height="0.26" fill="#90e098"/><rect x="0.17" y="0.69" width="0.03" height="0.015" fill="#f0a040"/><rect x="0.17" y="0.705" width="0.03" height="0.295" fill="#90e098"/><rect x="0.2" y="0" width="0.2" height="0.035" fill="#c0ea58"/><rect x="0.2" y="0.035" width="0.2" height="0.085" fill="#58c8e4"/><rect x="0.2" y="0.12" width="0.2" height="0.02" fill="#90e098"/><rect x="0.2" y="0.14" width="0.2" height="0.06" fill="#58c8e4"/><rect x="0.2" y="0.2" width="0.2" height="0.025" fill="#90e098"/><rect x="0.2" y="0.225" width="0.2" height="0.175" fill="#58c8e4"/><rect x="0.2" y="0.4" width="0.2" height="0.03" fill="#90e098"/><rect x="0.2" y="0.43" width="0.2" height="0.26" fill="#58c8e4"/><rect x="0.2" y="0.69" width="0.2" height="0.015" fill="#f0a040"/><rect x="0.2" y="0.705" width="0.2" height="0.295" fill="#86dcb0"/><rect x="0.4" y="0" width="0.06" height="0.035" fill="#c0ea58"/><rect x="0.4" y="0.035" width="0.06" height="0.085" fill="#40b0f0"/><rect x="0.4" y="0.12" width="0.06" height="0.02" fill="#90e098"/><rect x="0.4" y="0.14" width="0.06" height="0.06" fill="#40b0f0"/><rect x="0.4" y="0.2" width="0.06" height="0.025" fill="#90e098"/><rect x="0.4" y="0.225" width="0.06" height="0.175" fill="#40b0f0"/><rect x="0.4" y="0.4" width="0.06" height="0.03" fill="#90e098"/><rect x="0.4" y="0.43" width="0.06" height="0.26" fill="#40b0f0"/><rect x="0.4" y="0.69" width="0.06" height="0.015" fill="#f0a040"/><rect x="0.4" y="0.705" width="0.06" height="0.295" fill="#60c8dc"/><rect x="0.46" y="0" width="0.17" height="0.035" fill="#c0ea58"/><rect x="0.46" y="0.035" width="0.17" height="0.085" fill="#58c8e4"/><rect x="0.46" y="0.12" width="0.17" height="0.02" fill="#90e098"/><rect x="0.46" y="0.14" width="0.17" height="0.06" fill="#58c8e4"/><rect x="0.46" y="0.2" width="0.17" height="0.025" fill="#90e098"/><rect x="0.46" y="0.225" width="0.17" height="0.175" fill="#58c8e4"/><rect x="0.46" y="0.4" width="0.17" height="0.03" fill="#90e098"/><rect x="0.46" y="0.43" width="0.17" height="0.26" fill="#58c8e4"/><rect x="0.46" y="0.69" width="0.17" height="0.015" fill="#f0a040"/><rect x="0.46" y="0.705" width="0.17" height="0.295" fill="#86dcb0"/><rect x="0.63" y="0" width="0.09" height="0.035" fill="#c0ea58"/><rect x="0.63" y="0.035" width="0.09" height="0.085" fill="#90e098"/><rect x="0.63" y="0.12" width="0.09" height="0.02" fill="#90e098"/><rect x="0.63" y="0.14" width="0.09" height="0.06" fill="#90e098"/><rect x="0.63" y="0.2" width="0.09" height="0.025" fill="#90e098"/><rect x="0.63" y="0.225" width="0.09" height="0.175" fill="#90e098"/><rect x="0.63" y="0.4" width="0.09" height="0.03" fill="#90e098"/><rect x="0.63" y="0.43" width="0.09" height="0.26" fill="#90e098"/><rect x="0.63" y="0.69" width="0.09" height="0.015" fill="#f0a040"/><rect x="0.63" y="0.705" width="0.09" height="0.295" fill="#90e098"/><rect x="0.72" y="0" width="0.08" height="0.035" fill="#c0ea58"/><rect x="0.72" y="0.035" width="0.08" height="0.085" fill="#58c8e4"/><rect x="0.72" y="0.12" width="0.08" height="0.02" fill="#90e098"/><rect x="0.72" y="0.14" width="0.08" height="0.06" fill="#58c8e4"/><rect x="0.72" y="0.2" width="0.08" height="0.025" fill="#90e098"/><rect x="0.72" y="0.225" width="0.08" height="0.175" fill="#58c8e4"/><rect x="0.72" y="0.4" width="0.08" height="0.03" fill="#90e098"/><rect x="0.72" y="0.43" width="0.08" height="0.26" fill="#58c8e4"/><rect x="0.72" y="0.69" width="0.08" height="0.015" fill="#f0a040"/><rect x="0.72" y="0.705" width="0.08" height="0.295" fill="#86dcb0"/><rect x="0.8" y="0" width="0.19" height="0.035" fill="#c0ea58"/><rect x="0.8" y="0.035" width="0.19" height="0.085" fill="#40b0f0"/><rect x="0.8" y="0.12" width="0.19" height="0.02" fill="#90e098"/><rect x="0.8" y="0.14" width="0.19" height="0.06" fill="#40b0f0"/><rect x="0.8" y="0.2" width="0.19" height="0.025" fill="#90e098"/><rect x="0.8" y="0.225" width="0.19" height="0.175" fill="#40b0f0"/><rect x="0.8" y="0.4" width="0.19" height="0.03" fill="#90e098"/><rect x="0.8" y="0.43" width="0.19" height="0.26" fill="#40b0f0"/><rect x="0.8" y="0.69" width="0.19" height="0.015" fill="#f0a040"/><rect x="0.8" y="0.705" width="0.19" height="0.295" fill="#60c8dc"/><rect x="0.99" y="0" width="0.01" height="0.035" fill="#c0ea58"/><rect x="0.99" y="0.035" width="0.01" height="0.085" fill="#58c8e4"/><rect x="0.99" y="0.12" width="0.01" height="0.02" fill="#90e098"/><rect x="0.99" y="0.14" width="0.01" height="0.06" fill="#58c8e4"/><rect x="0.99" y="0.2" width="0.01" height="0.025" fill="#90e098"/><rect x="0.99" y="0.225" width="0.01" height="0.175" fill="#58c8e4"/><rect x="0.99" y="0.4" width="0.01" height="0.03" fill="#90e098"/><rect x="0.99" y="0.43" width="0.01" height="0.26" fill="#58c8e4"/><rect x="0.99" y="0.69" width="0.01" height="0.015" fill="#f0a040"/><rect x="0.99" y="0.705" width="0.01" height="0.295" fill="#86dcb0"/><polygon points="0.55,0.6 0.66,0.66 0.66,0.705 0.52,0.7" fill="#f0e030"/><polygon points="0.6,0.6 0.66,0.64 0.62,0.7" fill="#2a90f0"/><g opacity="0.55"><rect x="0.012" y="0" width="0.003" height="1" fill="#40c0f0"/><rect x="0.043" y="0" width="0.007" height="1" fill="#d8e848"/><rect x="0.758" y="0" width="0.003" height="1" fill="#88e0a8"/><rect x="0" y="0.061" width="1" height="0.003" fill="#88e0a8"/><rect x="0.413" y="0" width="0.007" height="1" fill="#2a9cf0"/><rect x="0.77" y="0" width="0.006" height="1" fill="#c8ec50"/><rect x="0.33" y="0" width="0.004" height="1" fill="#98e090"/><rect x="0.217" y="0" width="0.005" height="1" fill="#d8e848"/><rect x="0.052" y="0" width="0.003" height="1" fill="#98e090"/><rect x="0.836" y="0" width="0.007" height="1" fill="#2a9cf0"/><rect x="0.531" y="0" width="0.004" height="1" fill="#98e090"/><rect x="0" y="0.432" width="1" height="0.004" fill="#c8ec50"/><rect x="0.219" y="0" width="0.002" height="1" fill="#c8ec50"/><rect x="0" y="0.572" width="1" height="0.004" fill="#88e0a8"/><rect x="0" y="0.961" width="1" height="0.007" fill="#2a9cf0"/><rect x="0" y="0.306" width="1" height="0.003" fill="#d8e848"/><rect x="0.838" y="0" width="0.003" height="1" fill="#98e090"/><rect x="0" y="0.921" width="1" height="0.005" fill="#88e0a8"/><rect x="0" y="0.67" width="1" height="0.003" fill="#c8ec50"/><rect x="0.992" y="0" width="0.003" height="1" fill="#40c0f0"/><rect x="0" y="0.334" width="1" height="0.004" fill="#2a9cf0"/><rect x="0.118" y="0" width="0.002" height="1" fill="#88e0a8"/><rect x="0" y="0.194" width="1" height="0.004" fill="#88e0a8"/><rect x="0" y="0.152" width="1" height="0.002" fill="#d8e848"/><rect x="0" y="0.278" width="1" height="0.004" fill="#d8e848"/><rect x="0.591" y="0" width="0.006" height="1" fill="#40c0f0"/><rect x="0.725" y="0" width="0.005" height="1" fill="#2a9cf0"/><rect x="0.765" y="0" width="0.007" height="1" fill="#c8ec50"/><rect x="0.097" y="0" width="0.005" height="1" fill="#40c0f0"/><rect x="0.045" y="0" width="0.003" height="1" fill="#d8e848"/><rect x="0" y="0.614" width="1" height="0.003" fill="#98e090"/><rect x="0" y="0.867" width="1" height="0.005" fill="#d8e848"/><rect x="0" y="0.695" width="1" height="0.005" fill="#d8e848"/><rect x="0.524" y="0" width="0.006" height="1" fill="#40c0f0"/><rect x="0.819" y="0" width="0.004" height="1" fill="#c8ec50"/><rect x="0" y="0.783" width="1" height="0.006" fill="#c8ec50"/><rect x="0.58" y="0" width="0.003" height="1" fill="#88e0a8"/><rect x="0" y="0.425" width="1" height="0.003" fill="#40c0f0"/><rect x="0" y="0.205" width="1" height="0.006" fill="#c8ec50"/><rect x="0" y="0.243" width="1" height="0.006" fill="#88e0a8"/><rect x="0.038" y="0" width="0.004" height="1" fill="#c8ec50"/><rect x="0.202" y="0" width="0.006" height="1" fill="#c8ec50"/><rect x="0.033" y="0" width="0.004" height="1" fill="#88e0a8"/><rect x="0" y="0.214" width="1" height="0.004" fill="#88e0a8"/><rect x="0" y="0.112" width="1" height="0.003" fill="#98e090"/><rect x="0" y="0.694" width="1" height="0.006" fill="#40c0f0"/><rect x="0.277" y="0" width="0.003" height="1" fill="#2a9cf0"/><rect x="0" y="0.154" width="1" height="0.006" fill="#2a9cf0"/><rect x="0.277" y="0" width="0.003" height="1" fill="#c8ec50"/><rect x="0" y="0.913" width="1" height="0.005" fill="#40c0f0"/><rect x="0" y="0.969" width="1" height="0.003" fill="#98e090"/><rect x="0" y="0.541" width="1" height="0.004" fill="#2a9cf0"/><rect x="0" y="0.708" width="1" height="0.002" fill="#d8e848"/><rect x="0.306" y="0" width="0.004" height="1" fill="#c8ec50"/><rect x="0" y="0.388" width="1" height="0.005" fill="#d8e848"/><rect x="0.767" y="0" width="0.002" height="1" fill="#d8e848"/><rect x="0" y="0.706" width="1" height="0.002" fill="#40c0f0"/><rect x="0.324" y="0" width="0.007" height="1" fill="#d8e848"/><rect x="0.248" y="0" width="0.004" height="1" fill="#40c0f0"/><rect x="0" y="0.048" width="1" height="0.004" fill="#2a9cf0"/><rect x="0.225" y="0" width="0.006" height="1" fill="#d8e848"/><rect x="0.023" y="0" width="0.006" height="1" fill="#40c0f0"/><rect x="0" y="0.759" width="1" height="0.005" fill="#2a9cf0"/><rect x="0.827" y="0" width="0.006" height="1" fill="#c8ec50"/><rect x="0.993" y="0" width="0.004" height="1" fill="#c8ec50"/><rect x="0" y="0.569" width="1" height="0.007" fill="#c8ec50"/><rect x="0" y="0.202" width="1" height="0.003" fill="#2a9cf0"/><rect x="0" y="0.839" width="1" height="0.002" fill="#88e0a8"/><rect x="0" y="0.752" width="1" height="0.003" fill="#88e0a8"/><rect x="0" y="0.956" width="1" height="0.005" fill="#c8ec50"/><rect x="0.556" y="0" width="0.006" height="1" fill="#40c0f0"/><rect x="0" y="0.871" width="1" height="0.004" fill="#88e0a8"/><rect x="0.125" y="0" width="0.004" height="1" fill="#98e090"/><rect x="0" y="0.341" width="1" height="0.007" fill="#c8ec50"/><rect x="0.598" y="0" width="0.006" height="1" fill="#40c0f0"/><rect x="0" y="0.186" width="1" height="0.003" fill="#c8ec50"/><rect x="0" y="0.965" width="1" height="0.003" fill="#2a9cf0"/><rect x="0" y="0.31" width="1" height="0.005" fill="#40c0f0"/><rect x="0" y="0.078" width="1" height="0.002" fill="#d8e848"/><rect x="0" y="0.477" width="1" height="0.003" fill="#40c0f0"/><rect x="0" y="0.062" width="1" height="0.005" fill="#c8ec50"/><rect x="0.308" y="0" width="0.002" height="1" fill="#c8ec50"/><rect x="0" y="0.707" width="1" height="0.005" fill="#88e0a8"/><rect x="0.551" y="0" width="0.005" height="1" fill="#98e090"/><rect x="0" y="0.545" width="1" height="0.006" fill="#d8e848"/><rect x="0.318" y="0" width="0.005" height="1" fill="#88e0a8"/><rect x="0" y="0.075" width="1" height="0.005" fill="#98e090"/><rect x="0" y="0.143" width="1" height="0.007" fill="#88e0a8"/><rect x="0" y="0.87" width="1" height="0.003" fill="#40c0f0"/><rect x="0" y="0.172" width="1" height="0.005" fill="#88e0a8"/><rect x="0" y="0.356" width="1" height="0.004" fill="#98e090"/><rect x="0" y="0.336" width="1" height="0.004" fill="#88e0a8"/><rect x="0.721" y="0" width="0.004" height="1" fill="#c8ec50"/><rect x="0" y="0.708" width="1" height="0.006" fill="#d8e848"/><rect x="0" y="0.942" width="1" height="0.003" fill="#2a9cf0"/><rect x="0.907" y="0" width="0.005" height="1" fill="#98e090"/><rect x="0" y="0.019" width="1" height="0.002" fill="#c8ec50"/><rect x="0.238" y="0" width="0.004" height="1" fill="#40c0f0"/><rect x="0.052" y="0" width="0.003" height="1" fill="#2a9cf0"/><rect x="0" y="0.404" width="1" height="0.005" fill="#98e090"/><rect x="0" y="0.344" width="1" height="0.005" fill="#40c0f0"/><rect x="0.862" y="0" width="0.006" height="1" fill="#2a9cf0"/><rect x="0" y="0.249" width="1" height="0.006" fill="#d8e848"/><rect x="0" y="0.776" width="1" height="0.005" fill="#40c0f0"/><rect x="0" y="0.882" width="1" height="0.003" fill="#c8ec50"/><rect x="0" y="0.632" width="1" height="0.003" fill="#98e090"/><rect x="0" y="0.149" width="1" height="0.005" fill="#88e0a8"/><rect x="0" y="0.898" width="1" height="0.003" fill="#98e090"/><rect x="0" y="0.344" width="1" height="0.003" fill="#40c0f0"/><rect x="0" y="0.939" width="1" height="0.003" fill="#c8ec50"/><rect x="0.954" y="0" width="0.007" height="1" fill="#40c0f0"/><rect x="0" y="0.646" width="1" height="0.003" fill="#40c0f0"/><rect x="0" y="0.981" width="1" height="0.002" fill="#40c0f0"/><rect x="0" y="0.53" width="1" height="0.005" fill="#40c0f0"/><rect x="0" y="0.511" width="1" height="0.006" fill="#88e0a8"/><rect x="0" y="0.767" width="1" height="0.004" fill="#d8e848"/><rect x="0.027" y="0" width="0.003" height="1" fill="#88e0a8"/><rect x="0.394" y="0" width="0.006" height="1" fill="#40c0f0"/><rect x="0.453" y="0" width="0.003" height="1" fill="#d8e848"/><rect x="0.187" y="0" width="0.004" height="1" fill="#98e090"/><rect x="0.657" y="0" width="0.005" height="1" fill="#c8ec50"/><rect x="0" y="0.26" width="1" height="0.003" fill="#88e0a8"/><rect x="0" y="0.026" width="1" height="0.004" fill="#2a9cf0"/><rect x="0" y="0.556" width="1" height="0.004" fill="#d8e848"/><rect x="0.678" y="0" width="0.006" height="1" fill="#98e090"/><rect x="0.371" y="0" width="0.003" height="1" fill="#c8ec50"/><rect x="0" y="0.881" width="1" height="0.003" fill="#c8ec50"/><rect x="0.068" y="0" width="0.003" height="1" fill="#2a9cf0"/><rect x="0.44" y="0" width="0.003" height="1" fill="#88e0a8"/><rect x="0.569" y="0" width="0.005" height="1" fill="#2a9cf0"/><rect x="0" y="0.566" width="1" height="0.003" fill="#2a9cf0"/><rect x="0.081" y="0" width="0.002" height="1" fill="#98e090"/><rect x="0.781" y="0" width="0.007" height="1" fill="#c8ec50"/><rect x="0" y="0.768" width="1" height="0.006" fill="#2a9cf0"/><rect x="0" y="0.877" width="1" height="0.006" fill="#d8e848"/><rect x="0" y="0.497" width="1" height="0.005" fill="#88e0a8"/><rect x="0" y="0.564" width="1" height="0.005" fill="#2a9cf0"/><rect x="0" y="0.697" width="1" height="0.006" fill="#d8e848"/><rect x="0" y="0.624" width="1" height="0.003" fill="#40c0f0"/><rect x="0" y="0.571" width="1" height="0.005" fill="#2a9cf0"/><rect x="0" y="0.392" width="1" height="0.005" fill="#2a9cf0"/><rect x="0" y="0.482" width="1" height="0.005" fill="#c8ec50"/><rect x="0.604" y="0" width="0.004" height="1" fill="#c8ec50"/><rect x="0" y="0.561" width="1" height="0.003" fill="#2a9cf0"/><rect x="0.815" y="0" width="0.003" height="1" fill="#40c0f0"/><rect x="0" y="0.777" width="1" height="0.005" fill="#d8e848"/><rect x="0" y="0.704" width="1" height="0.004" fill="#c8ec50"/><rect x="0" y="0.397" width="1" height="0.003" fill="#d8e848"/><rect x="0" y="0.211" width="1" height="0.004" fill="#2a9cf0"/><rect x="0" y="0.683" width="1" height="0.005" fill="#88e0a8"/></g></g>
<g id="t5"><rect x="0" y="0" width="1" height="1" fill="#80ff80"/><rect x="0" y="0" width="0.2" height="0.05" fill="#98dc90"/><rect x="0" y="0.05" width="0.2" height="0.17" fill="#eeec2a"/><rect x="0" y="0.22" width="0.2" height="0.07" fill="#98dc90"/><rect x="0" y="0.29" width="0.2" height="0.1" fill="#eeec2a"/><rect x="0" y="0.39" width="0.2" height="0.07" fill="#98dc90"/><rect x="0" y="0.46" width="0.2" height="0.16" fill="#eeec2a"/><rect x="0" y="0.62" width="0.2" height="0.07" fill="#98dc90"/><rect x="0" y="0.69" width="0.2" height="0.09" fill="#b8e068"/><rect x="0" y="0.78" width="0.2" height="0.05" fill="#98dc90"/><rect x="0" y="0.83" width="0.2" height="0.17" fill="#eeec2a"/><rect x="0.2" y="0" width="0.11" height="0.05" fill="#98dc90"/><rect x="0.2" y="0.05" width="0.11" height="0.17" fill="#98dc90"/><rect x="0.2" y="0.22" width="0.11" height="0.07" fill="#98dc90"/><rect x="0.2" y="0.29" width="0.11" height="0.1" fill="#98dc90"/><rect x="0.2" y="0.39" width="0.11" height="0.07" fill="#98dc90"/><rect x="0.2" y="0.46" width="0.11" height="0.16" fill="#98dc90"/><rect x="0.2" y="0.62" width="0.11" height="0.07" fill="#98dc90"/><rect x="0.2" y="0.69" width="0.11" height="0.09" fill="#98dc90"/><rect x="0.2" y="0.78" width="0.11" height="0.05" fill="#98dc90"/><rect x="0.2" y="0.83" width="0.11" height="0.17" fill="#98dc90"/><rect x="0.31" y="0" width="0.1" height="0.05" fill="#f4f020"/><rect x="0.31" y="0.05" width="0.1" height="0.17" fill="#f4f020"/><rect x="0.31" y="0.22" width="0.1" height="0.07" fill="#f4f020"/><rect x="0.31" y="0.29" width="0.1" height="0.1" fill="#f4f020"/><rect x="0.31" y="0.39" width="0.1" height="0.07" fill="#f4f020"/><rect x="0.31" y="0.46" width="0.1" height="0.16" fill="#f4f020"/><rect x="0.31" y="0.62" width="0.1" height="0.07" fill="#f4f020"/><rect x="0.31" y="0.69" width="0.1" height="0.09" fill="#f4f020"/><rect x="0.31" y="0.78" width="0.1" height="0.05" fill="#f4f020"/><rect x="0.31" y="0.83" width="0.1" height="0.17" fill="#f4f020"/><rect x="0.41" y="0" width="0.19" height="0.05" fill="#98dc90"/><rect x="0.41" y="0.05" width="0.19" height="0.17" fill="#eeec2a"/><rect x="0.41" y="0.22" width="0.19" height="0.07" fill="#98dc90"/><rect x="0.41" y="0.29" width="0.19" height="0.1" fill="#eeec2a"/><rect x="0.41" y="0.39" width="0.19" height="0.07" fill="#98dc90"/><rect x="0.41" y="0.46" width="0.19" height="0.16" fill="#eeec2a"/><rect x="0.41" y="0.62" width="0.19" height="0.07" fill="#98dc90"/><rect x="0.41" y="0.69" width="0.19" height="0.09" fill="#b8e068"/><rect x="0.41" y="0.78" width="0.19" height="0.05" fill="#98dc90"/><rect x="0.41" y="0.83" width="0.19" height="0.17" fill="#eeec2a"/><rect x="0.6" y="0" width="0.07" height="0.05" fill="#98dc90"/><rect x="0.6" y="0.05" width="0.07" height="0.17" fill="#98dc90"/><rect x="0.6" y="0.22" width="0.07" height="0.07" fill="#98dc90"/><rect x="0.6" y="0.29" width="0.07" height="0.1" fill="#98dc90"/><rect x="0.6" y="0.39" width="0.07" height="0.07" fill="#98dc90"/><rect x="0.6" y="0.46" width="0.07" height="0.16" fill="#98dc90"/><rect x="0.6" y="0.62" width="0.07" height="0.07" fill="#98dc90"/><rect x="0.6" y="0.69" width="0.07" height="0.09" fill="#98dc90"/><rect x="0.6" y="0.78" width="0.07" height="0.05" fill="#98dc90"/><rect x="0.6" y="0.83" width="0.07" height="0.17" fill="#98dc90"/><rect x="0.67" y="0" width="0.15" height="0.05" fill="#98dc90"/><rect x="0.67" y="0.05" width="0.15" height="0.17" fill="#eeec2a"/><rect x="0.67" y="0.22" width="0.15" height="0.07" fill="#98dc90"/><rect x="0.67" y="0.29" width="0.15" height="0.1" fill="#eeec2a"/><rect x="0.67" y="0.39" width="0.15" height="0.07" fill="#98dc90"/><rect x="0.67" y="0.46" width="0.15" height="0.16" fill="#eeec2a"/><rect x="0.67" y="0.62" width="0.15" height="0.07" fill="#98dc90"/><rect x="0.67" y="0.69" width="0.15" height="0.09" fill="#b8e068"/><rect x="0.67" y="0.78" width="0.15" height="0.05" fill="#98dc90"/><rect x="0.67" y="0.83" width="0.15" height="0.17" fill="#eeec2a"/><rect x="0.82" y="0" width="0.05" height="0.05" fill="#98dc90"/><rect x="0.82" y="0.05" width="0.05" height="0.17" fill="#98dc90"/><rect x="0.82" y="0.22" width="0.05" height="0.07" fill="#98dc90"/><rect x="0.82" y="0.29" width="0.05" height="0.1" fill="#98dc90"/><rect x="0.82" y="0.39" width="0.05" height="0.07" fill="#98dc90"/><rect x="0.82" y="0.46" width="0.05" height="0.16" fill="#98dc90"/><rect x="0.82" y="0.62" width="0.05" height="0.07" fill="#98dc90"/><rect x="0.82" y="0.69" width="0.05" height="0.09" fill="#98dc90"/><rect x="0.82" y="0.78" width="0.05" height="0.05" fill="#98dc90"/><rect x="0.82" y="0.83" width="0.05" height="0.17" fill="#98dc90"/><rect x="0.87" y="0" width="0.13" height="0.05" fill="#98dc90"/><rect x="0.87" y="0.05" width="0.13" height="0.17" fill="#eeec2a"/><rect x="0.87" y="0.22" width="0.13" height="0.07" fill="#98dc90"/><rect x="0.87" y="0.29" width="0.13" height="0.1" fill="#eeec2a"/><rect x="0.87" y="0.39" width="0.13" height="0.07" fill="#98dc90"/><rect x="0.87" y="0.46" width="0.13" height="0.16" fill="#eeec2a"/><rect x="0.87" y="0.62" width="0.13" height="0.07" fill="#98dc90"/><rect x="0.87" y="0.69" width="0.13" height="0.09" fill="#b8e068"/><rect x="0.87" y="0.78" width="0.13" height="0.05" fill="#98dc90"/><rect x="0.87" y="0.83" width="0.13" height="0.17" fill="#eeec2a"/><g opacity="0.55"><rect x="0" y="0.077" width="1" height="0.003" fill="#a0e080"/><rect x="0.238" y="0" width="0.002" height="1" fill="#70d8b8"/><rect x="0" y="0.509" width="1" height="0.006" fill="#e0e830"/><rect x="0.993" y="0" width="0.004" height="1" fill="#e0e830"/><rect x="0.755" y="0" width="0.003" height="1" fill="#70d8b8"/><rect x="0" y="0.773" width="1" height="0.003" fill="#a0e080"/><rect x="0.202" y="0" width="0.002" height="1" fill="#70d8b8"/><rect x="0.525" y="0" width="0.006" height="1" fill="#60d0c8"/><rect x="0.049" y="0" width="0.002" height="1" fill="#a0e080"/><rect x="0.468" y="0" width="0.006" height="1" fill="#60d0c8"/><rect x="0" y="0.814" width="1" height="0.006" fill="#e0e830"/><rect x="0.082" y="0" width="0.002" height="1" fill="#a0e080"/><rect x="0" y="0.329" width="1" height="0.003" fill="#60d0c8"/><rect x="0.289" y="0" width="0.005" height="1" fill="#60d0c8"/><rect x="0" y="0.18" width="1" height="0.003" fill="#70d8b8"/><rect x="0.132" y="0" width="0.003" height="1" fill="#e0e830"/><rect x="0.385" y="0" width="0.003" height="1" fill="#70d8b8"/><rect x="0" y="0.504" width="1" height="0.005" fill="#a0e080"/><rect x="0" y="0.492" width="1" height="0.007" fill="#f8f028"/><rect x="0.525" y="0" width="0.005" height="1" fill="#f8f028"/><rect x="0.581" y="0" width="0.004" height="1" fill="#e0e830"/><rect x="0.684" y="0" width="0.004" height="1" fill="#a0e080"/><rect x="0.248" y="0" width="0.002" height="1" fill="#70d8b8"/><rect x="0" y="0.001" width="1" height="0.006" fill="#f8f028"/><rect x="0.316" y="0" width="0.007" height="1" fill="#f8f028"/><rect x="0" y="0.083" width="1" height="0.004" fill="#f8f028"/><rect x="0" y="0.303" width="1" height="0.007" fill="#e0e830"/><rect x="0.211" y="0" width="0.006" height="1" fill="#e0e830"/><rect x="0" y="0.68" width="1" height="0.004" fill="#70d8b8"/><rect x="0" y="0.035" width="1" height="0.007" fill="#f8f028"/><rect x="0" y="0.048" width="1" height="0.005" fill="#f8f028"/><rect x="0.766" y="0" width="0.004" height="1" fill="#70d8b8"/><rect x="0.191" y="0" width="0.005" height="1" fill="#f8f028"/><rect x="0.442" y="0" width="0.004" height="1" fill="#70d8b8"/><rect x="0.829" y="0" width="0.003" height="1" fill="#e0e830"/><rect x="0" y="0.348" width="1" height="0.006" fill="#70d8b8"/><rect x="0.972" y="0" width="0.006" height="1" fill="#70d8b8"/><rect x="0.182" y="0" width="0.003" height="1" fill="#70d8b8"/><rect x="0.955" y="0" width="0.002" height="1" fill="#70d8b8"/><rect x="0.318" y="0" width="0.006" height="1" fill="#e0e830"/><rect x="0.616" y="0" width="0.002" height="1" fill="#a0e080"/><rect x="0.561" y="0" width="0.002" height="1" fill="#f8f028"/><rect x="0.682" y="0" width="0.005" height="1" fill="#f8f028"/><rect x="0" y="0.473" width="1" height="0.005" fill="#e0e830"/><rect x="0.447" y="0" width="0.006" height="1" fill="#f8f028"/><rect x="0.657" y="0" width="0.006" height="1" fill="#70d8b8"/><rect x="0" y="0.963" width="1" height="0.006" fill="#a0e080"/><rect x="0" y="0.842" width="1" height="0.003" fill="#a0e080"/><rect x="0.123" y="0" width="0.005" height="1" fill="#60d0c8"/><rect x="0.966" y="0" width="0.003" height="1" fill="#f8f028"/><rect x="0.447" y="0" width="0.003" height="1" fill="#f8f028"/><rect x="0" y="0.086" width="1" height="0.007" fill="#e0e830"/><rect x="0.767" y="0" width="0.003" height="1" fill="#f8f028"/><rect x="0" y="0.524" width="1" height="0.004" fill="#60d0c8"/><rect x="0.563" y="0" width="0.006" height="1" fill="#60d0c8"/><rect x="0" y="0.711" width="1" height="0.007" fill="#f8f028"/><rect x="0.35" y="0" width="0.003" height="1" fill="#a0e080"/><rect x="0" y="0.198" width="1" height="0.005" fill="#70d8b8"/><rect x="0" y="0.601" width="1" height="0.005" fill="#e0e830"/><rect x="0.851" y="0" width="0.005" height="1" fill="#a0e080"/><rect x="0.612" y="0" width="0.006" height="1" fill="#a0e080"/><rect x="0" y="0.017" width="1" height="0.003" fill="#60d0c8"/><rect x="0.696" y="0" width="0.002" height="1" fill="#e0e830"/><rect x="0.973" y="0" width="0.003" height="1" fill="#f8f028"/><rect x="0" y="0.74" width="1" height="0.006" fill="#e0e830"/><rect x="0" y="0.404" width="1" height="0.006" fill="#70d8b8"/><rect x="0.833" y="0" width="0.005" height="1" fill="#f8f028"/><rect x="0" y="0.409" width="1" height="0.005" fill="#60d0c8"/><rect x="0" y="0.186" width="1" height="0.005" fill="#60d0c8"/><rect x="0" y="0.865" width="1" height="0.002" fill="#f8f028"/><rect x="0.268" y="0" width="0.003" height="1" fill="#f8f028"/><rect x="0.138" y="0" width="0.005" height="1" fill="#70d8b8"/><rect x="0.411" y="0" width="0.003" height="1" fill="#f8f028"/><rect x="0.67" y="0" width="0.004" height="1" fill="#e0e830"/><rect x="0.464" y="0" width="0.003" height="1" fill="#f8f028"/><rect x="0.041" y="0" width="0.004" height="1" fill="#a0e080"/><rect x="0" y="0.518" width="1" height="0.005" fill="#60d0c8"/><rect x="0.091" y="0" width="0.007" height="1" fill="#a0e080"/><rect x="0.101" y="0" width="0.004" height="1" fill="#e0e830"/><rect x="0" y="0.471" width="1" height="0.007" fill="#70d8b8"/><rect x="0" y="0.45" width="1" height="0.006" fill="#70d8b8"/><rect x="0" y="0.952" width="1" height="0.006" fill="#f8f028"/><rect x="0.325" y="0" width="0.003" height="1" fill="#60d0c8"/><rect x="0.843" y="0" width="0.006" height="1" fill="#70d8b8"/><rect x="0.687" y="0" width="0.007" height="1" fill="#70d8b8"/><rect x="0" y="0.092" width="1" height="0.003" fill="#f8f028"/><rect x="0.303" y="0" width="0.004" height="1" fill="#70d8b8"/><rect x="0.671" y="0" width="0.002" height="1" fill="#f8f028"/><rect x="0.068" y="0" width="0.007" height="1" fill="#e0e830"/><rect x="0.194" y="0" width="0.003" height="1" fill="#60d0c8"/><rect x="0" y="0.207" width="1" height="0.002" fill="#60d0c8"/><rect x="0.71" y="0" width="0.004" height="1" fill="#a0e080"/><rect x="0.761" y="0" width="0.004" height="1" fill="#60d0c8"/><rect x="0" y="0.699" width="1" height="0.006" fill="#e0e830"/><rect x="0.072" y="0" width="0.003" height="1" fill="#e0e830"/><rect x="0.892" y="0" width="0.003" height="1" fill="#e0e830"/><rect x="0.774" y="0" width="0.002" height="1" fill="#e0e830"/><rect x="0.599" y="0" width="0.006" height="1" fill="#70d8b8"/><rect x="0.442" y="0" width="0.003" height="1" fill="#70d8b8"/><rect x="0.619" y="0" width="0.006" height="1" fill="#f8f028"/><rect x="0.008" y="0" width="0.005" height="1" fill="#e0e830"/><rect x="0" y="0.839" width="1" height="0.003" fill="#60d0c8"/><rect x="0" y="0.226" width="1" height="0.004" fill="#70d8b8"/><rect x="0" y="0.022" width="1" height="0.006" fill="#f8f028"/><rect x="0.759" y="0" width="0.002" height="1" fill="#60d0c8"/><rect x="0.12" y="0" width="0.004" height="1" fill="#a0e080"/><rect x="0.386" y="0" width="0.005" height="1" fill="#70d8b8"/><rect x="0" y="0.99" width="1" height="0.004" fill="#60d0c8"/><rect x="0.806" y="0" width="0.004" height="1" fill="#f8f028"/><rect x="0" y="0.438" width="1" height="0.005" fill="#a0e080"/><rect x="0" y="0.175" width="1" height="0.003" fill="#70d8b8"/><rect x="0" y="0.899" width="1" height="0.006" fill="#a0e080"/><rect x="0" y="0.299" width="1" height="0.006" fill="#a0e080"/><rect x="0" y="0.145" width="1" height="0.003" fill="#f8f028"/><rect x="0" y="0.992" width="1" height="0.007" fill="#f8f028"/><rect x="0" y="0.57" width="1" height="0.003" fill="#60d0c8"/><rect x="0" y="0.704" width="1" height="0.006" fill="#e0e830"/><rect x="0" y="0.301" width="1" height="0.004" fill="#60d0c8"/><rect x="0.292" y="0" width="0.004" height="1" fill="#e0e830"/><rect x="0" y="0.736" width="1" height="0.003" fill="#e0e830"/><rect x="0.501" y="0" width="0.005" height="1" fill="#60d0c8"/><rect x="0.398" y="0" width="0.005" height="1" fill="#e0e830"/><rect x="0" y="0.255" width="1" height="0.005" fill="#a0e080"/><rect x="0.336" y="0" width="0.003" height="1" fill="#60d0c8"/><rect x="0" y="0.978" width="1" height="0.006" fill="#f8f028"/><rect x="0" y="0.519" width="1" height="0.003" fill="#70d8b8"/><rect x="0.457" y="0" width="0.006" height="1" fill="#e0e830"/><rect x="0.438" y="0" width="0.005" height="1" fill="#f8f028"/><rect x="0.244" y="0" width="0.003" height="1" fill="#a0e080"/><rect x="0" y="0.735" width="1" height="0.005" fill="#a0e080"/><rect x="0.63" y="0" width="0.005" height="1" fill="#f8f028"/><rect x="0" y="0.197" width="1" height="0.004" fill="#f8f028"/><rect x="0.918" y="0" width="0.002" height="1" fill="#f8f028"/><rect x="0.427" y="0" width="0.004" height="1" fill="#e0e830"/><rect x="0" y="0.336" width="1" height="0.006" fill="#a0e080"/><rect x="0" y="0.733" width="1" height="0.003" fill="#70d8b8"/><rect x="0" y="0.987" width="1" height="0.006" fill="#f8f028"/><rect x="0.748" y="0" width="0.005" height="1" fill="#e0e830"/><rect x="0" y="0.248" width="1" height="0.007" fill="#60d0c8"/><rect x="0" y="0.522" width="1" height="0.004" fill="#e0e830"/></g></g>
<g id="t6"><rect x="0" y="0" width="1" height="1" fill="#80ff80"/><rect x="0" y="0" width="0.08" height="0.23" fill="#98e490"/><rect x="0" y="0.23" width="0.08" height="0.07" fill="#98e490"/><rect x="0" y="0.3" width="0.08" height="0.24" fill="#98e490"/><rect x="0" y="0.54" width="0.08" height="0.38" fill="#98e490"/><rect x="0" y="0.92" width="0.08" height="0.03" fill="#98e490"/><rect x="0" y="0.95" width="0.08" height="0.05" fill="#98e490"/><rect x="0.08" y="0" width="0.06" height="0.23" fill="#70d8c8"/><rect x="0.08" y="0.23" width="0.06" height="0.07" fill="#70d8c8"/><rect x="0.08" y="0.3" width="0.06" height="0.24" fill="#70d8c8"/><rect x="0.08" y="0.54" width="0.06" height="0.38" fill="#70d8c8"/><rect x="0.08" y="0.92" width="0.06" height="0.03" fill="#70d8c8"/><rect x="0.08" y="0.95" width="0.06" height="0.05" fill="#70d8c8"/><rect x="0.14" y="0" width="0.11" height="0.23" fill="#98e490"/><rect x="0.14" y="0.23" width="0.11" height="0.07" fill="#98e490"/><rect x="0.14" y="0.3" width="0.11" height="0.24" fill="#98e490"/><rect x="0.14" y="0.54" width="0.11" height="0.38" fill="#98e490"/><rect x="0.14" y="0.92" width="0.11" height="0.03" fill="#98e490"/><rect x="0.14" y="0.95" width="0.11" height="0.05" fill="#98e490"/><rect x="0.25" y="0" width="0.03" height="0.23" fill="#c8ea50"/><rect x="0.25" y="0.23" width="0.03" height="0.07" fill="#c8ea50"/><rect x="0.25" y="0.3" width="0.03" height="0.24" fill="#c8ea50"/><rect x="0.25" y="0.54" width="0.03" height="0.38" fill="#c8ea50"/><rect x="0.25" y="0.92" width="0.03" height="0.03" fill="#c8ea50"/><rect x="0.25" y="0.95" width="0.03" height="0.05" fill="#c8ea50"/><rect x="0.28" y="0" width="0.105" height="0.23" fill="#98e490"/><rect x="0.28" y="0.23" width="0.105" height="0.07" fill="#98e490"/><rect x="0.28" y="0.3" width="0.105" height="0.24" fill="#98e490"/><rect x="0.28" y="0.54" width="0.105" height="0.38" fill="#98e490"/><rect x="0.28" y="0.92" width="0.105" height="0.03" fill="#98e490"/><rect x="0.28" y="0.95" width="0.105" height="0.05" fill="#98e490"/><rect x="0.385" y="0" width="0.05" height="0.23" fill="#3eaaf0"/><rect x="0.385" y="0.23" width="0.05" height="0.07" fill="#98e490"/><rect x="0.385" y="0.3" width="0.05" height="0.24" fill="#3eaaf0"/><rect x="0.385" y="0.54" width="0.05" height="0.38" fill="#3eaaf0"/><rect x="0.385" y="0.92" width="0.05" height="0.03" fill="#3eaaf0"/><rect x="0.385" y="0.95" width="0.05" height="0.05" fill="#98e490"/><rect x="0.435" y="0" width="0.115" height="0.23" fill="#98e490"/><rect x="0.435" y="0.23" width="0.115" height="0.07" fill="#98e490"/><rect x="0.435" y="0.3" width="0.115" height="0.24" fill="#98e490"/><rect x="0.435" y="0.54" width="0.115" height="0.38" fill="#98e490"/><rect x="0.435" y="0.92" width="0.115" height="0.03" fill="#98e490"/><rect x="0.435" y="0.95" width="0.115" height="0.05" fill="#98e490"/><rect x="0.55" y="0" width="0.05" height="0.23" fill="#70d8c8"/><rect x="0.55" y="0.23" width="0.05" height="0.07" fill="#70d8c8"/><rect x="0.55" y="0.3" width="0.05" height="0.24" fill="#70d8c8"/><rect x="0.55" y="0.54" width="0.05" height="0.38" fill="#70d8c8"/><rect x="0.55" y="0.92" width="0.05" height="0.03" fill="#70d8c8"/><rect x="0.55" y="0.95" width="0.05" height="0.05" fill="#70d8c8"/><rect x="0.6" y="0" width="0.105" height="0.23" fill="#98e490"/><rect x="0.6" y="0.23" width="0.105" height="0.07" fill="#98e490"/><rect x="0.6" y="0.3" width="0.105" height="0.24" fill="#98e490"/><rect x="0.6" y="0.54" width="0.105" height="0.38" fill="#98e490"/><rect x="0.6" y="0.92" width="0.105" height="0.03" fill="#98e490"/><rect x="0.6" y="0.95" width="0.105" height="0.05" fill="#98e490"/><rect x="0.705" y="0" width="0.05" height="0.23" fill="#98e490"/><rect x="0.705" y="0.23" width="0.05" height="0.07" fill="#98e490"/><rect x="0.705" y="0.3" width="0.05" height="0.24" fill="#98e490"/><rect x="0.705" y="0.54" width="0.05" height="0.38" fill="#48b4ee"/><rect x="0.705" y="0.92" width="0.05" height="0.03" fill="#98e490"/><rect x="0.705" y="0.95" width="0.05" height="0.05" fill="#98e490"/><rect x="0.755" y="0" width="0.105" height="0.23" fill="#98e490"/><rect x="0.755" y="0.23" width="0.105" height="0.07" fill="#98e490"/><rect x="0.755" y="0.3" width="0.105" height="0.24" fill="#98e490"/><rect x="0.755" y="0.54" width="0.105" height="0.38" fill="#98e490"/><rect x="0.755" y="0.92" width="0.105" height="0.03" fill="#98e490"/><rect x="0.755" y="0.95" width="0.105" height="0.05" fill="#98e490"/><rect x="0.86" y="0" width="0.03" height="0.23" fill="#c8ea50"/><rect x="0.86" y="0.23" width="0.03" height="0.07" fill="#c8ea50"/><rect x="0.86" y="0.3" width="0.03" height="0.24" fill="#c8ea50"/><rect x="0.86" y="0.54" width="0.03" height="0.38" fill="#c8ea50"/><rect x="0.86" y="0.92" width="0.03" height="0.03" fill="#c8ea50"/><rect x="0.86" y="0.95" width="0.03" height="0.05" fill="#c8ea50"/><rect x="0.89" y="0" width="0.11" height="0.23" fill="#98e490"/><rect x="0.89" y="0.23" width="0.11" height="0.07" fill="#98e490"/><rect x="0.89" y="0.3" width="0.11" height="0.24" fill="#98e490"/><rect x="0.89" y="0.54" width="0.11" height="0.38" fill="#98e490"/><rect x="0.89" y="0.92" width="0.11" height="0.03" fill="#98e490"/><rect x="0.89" y="0.95" width="0.11" height="0.05" fill="#98e490"/><polygon points="0.36,0.3 0.4,0.3 0.4,0.4" fill="#f0e030"/><polygon points="0.4,0.3 0.44,0.33 0.4,0.4" fill="#2a90f0"/><g opacity="0.65"><rect x="0.57" y="0" width="0.005" height="1" fill="#60d8d0"/><rect x="0.88" y="0" width="0.004" height="1" fill="#58c8e0"/><rect x="0.652" y="0" width="0.004" height="1" fill="#58c8e0"/><rect x="0" y="0.687" width="1" height="0.004" fill="#60d8d0"/><rect x="0.636" y="0" width="0.003" height="1" fill="#60d8d0"/><rect x="0.899" y="0" width="0.005" height="1" fill="#88e0a0"/><rect x="0.815" y="0" width="0.003" height="1" fill="#60d8d0"/><rect x="0.681" y="0" width="0.002" height="1" fill="#40b0f0"/><rect x="0.888" y="0" width="0.006" height="1" fill="#40b0f0"/><rect x="0.123" y="0" width="0.003" height="1" fill="#d0ec48"/><rect x="0.32" y="0" width="0.003" height="1" fill="#88e0a0"/><rect x="0" y="0.394" width="1" height="0.003" fill="#40b0f0"/><rect x="0.365" y="0" width="0.005" height="1" fill="#88e0a0"/><rect x="0" y="0.124" width="1" height="0.003" fill="#40b0f0"/><rect x="0.003" y="0" width="0.004" height="1" fill="#60d8d0"/><rect x="0.193" y="0" width="0.005" height="1" fill="#e8e840"/><rect x="0.79" y="0" width="0.004" height="1" fill="#e8e840"/><rect x="0.308" y="0" width="0.002" height="1" fill="#e8e840"/><rect x="0" y="0.758" width="1" height="0.003" fill="#88e0a0"/><rect x="0.015" y="0" width="0.004" height="1" fill="#e8e840"/><rect x="0" y="0.873" width="1" height="0.005" fill="#d0ec48"/><rect x="0.729" y="0" width="0.004" height="1" fill="#88e0a0"/><rect x="0.602" y="0" width="0.005" height="1" fill="#e8e840"/><rect x="0" y="0.947" width="1" height="0.004" fill="#e8e840"/><rect x="0.962" y="0" width="0.004" height="1" fill="#40b0f0"/><rect x="0.318" y="0" width="0.006" height="1" fill="#d0ec48"/><rect x="0" y="0.185" width="1" height="0.005" fill="#58c8e0"/><rect x="0" y="0.908" width="1" height="0.003" fill="#88e0a0"/><rect x="0" y="0.831" width="1" height="0.004" fill="#60d8d0"/><rect x="0.869" y="0" width="0.005" height="1" fill="#58c8e0"/><rect x="0.035" y="0" width="0.005" height="1" fill="#88e0a0"/><rect x="0.481" y="0" width="0.005" height="1" fill="#58c8e0"/><rect x="0" y="0.117" width="1" height="0.005" fill="#d0ec48"/><rect x="0.072" y="0" width="0.006" height="1" fill="#40b0f0"/><rect x="0" y="0.996" width="1" height="0.005" fill="#40b0f0"/><rect x="0" y="0.156" width="1" height="0.002" fill="#40b0f0"/><rect x="0.138" y="0" width="0.002" height="1" fill="#40b0f0"/><rect x="0.21" y="0" width="0.004" height="1" fill="#88e0a0"/><rect x="0.366" y="0" width="0.005" height="1" fill="#88e0a0"/><rect x="0" y="0.309" width="1" height="0.002" fill="#88e0a0"/><rect x="0.016" y="0" width="0.002" height="1" fill="#60d8d0"/><rect x="0.327" y="0" width="0.003" height="1" fill="#60d8d0"/><rect x="0.387" y="0" width="0.005" height="1" fill="#60d8d0"/><rect x="0.082" y="0" width="0.003" height="1" fill="#d0ec48"/><rect x="0" y="0.174" width="1" height="0.004" fill="#d0ec48"/><rect x="0.545" y="0" width="0.004" height="1" fill="#88e0a0"/><rect x="0.007" y="0" width="0.002" height="1" fill="#d0ec48"/><rect x="0.361" y="0" width="0.003" height="1" fill="#60d8d0"/><rect x="0.815" y="0" width="0.004" height="1" fill="#58c8e0"/><rect x="0.282" y="0" width="0.005" height="1" fill="#d0ec48"/><rect x="0.286" y="0" width="0.004" height="1" fill="#40b0f0"/><rect x="0" y="0.117" width="1" height="0.006" fill="#88e0a0"/><rect x="0.383" y="0" width="0.003" height="1" fill="#e8e840"/><rect x="0.238" y="0" width="0.005" height="1" fill="#58c8e0"/><rect x="0" y="0.916" width="1" height="0.004" fill="#40b0f0"/><rect x="0" y="0.498" width="1" height="0.005" fill="#e8e840"/><rect x="0" y="0.708" width="1" height="0.003" fill="#e8e840"/><rect x="0.627" y="0" width="0.003" height="1" fill="#88e0a0"/><rect x="0.379" y="0" width="0.004" height="1" fill="#88e0a0"/><rect x="0.099" y="0" width="0.005" height="1" fill="#d0ec48"/><rect x="0.825" y="0" width="0.002" height="1" fill="#d0ec48"/><rect x="0.477" y="0" width="0.003" height="1" fill="#e8e840"/><rect x="0.237" y="0" width="0.005" height="1" fill="#58c8e0"/><rect x="0.147" y="0" width="0.006" height="1" fill="#58c8e0"/><rect x="0.874" y="0" width="0.006" height="1" fill="#58c8e0"/><rect x="0.383" y="0" width="0.004" height="1" fill="#e8e840"/><rect x="0" y="0.507" width="1" height="0.003" fill="#58c8e0"/><rect x="0.433" y="0" width="0.004" height="1" fill="#88e0a0"/><rect x="0.254" y="0" width="0.003" height="1" fill="#e8e840"/><rect x="0" y="0.827" width="1" height="0.006" fill="#60d8d0"/><rect x="0.195" y="0" width="0.004" height="1" fill="#d0ec48"/><rect x="0.434" y="0" width="0.004" height="1" fill="#60d8d0"/><rect x="0.119" y="0" width="0.002" height="1" fill="#60d8d0"/><rect x="0.727" y="0" width="0.005" height="1" fill="#88e0a0"/><rect x="0.97" y="0" width="0.004" height="1" fill="#88e0a0"/><rect x="0.029" y="0" width="0.005" height="1" fill="#d0ec48"/><rect x="0.9" y="0" width="0.002" height="1" fill="#88e0a0"/><rect x="0" y="0.824" width="1" height="0.004" fill="#60d8d0"/><rect x="0" y="0.433" width="1" height="0.004" fill="#60d8d0"/><rect x="0.351" y="0" width="0.006" height="1" fill="#58c8e0"/><rect x="0.55" y="0" width="0.005" height="1" fill="#88e0a0"/><rect x="0.449" y="0" width="0.003" height="1" fill="#60d8d0"/><rect x="0.334" y="0" width="0.003" height="1" fill="#d0ec48"/><rect x="0.131" y="0" width="0.003" height="1" fill="#60d8d0"/><rect x="0.75" y="0" width="0.003" height="1" fill="#88e0a0"/><rect x="0.312" y="0" width="0.004" height="1" fill="#40b0f0"/><rect x="0" y="0.732" width="1" height="0.005" fill="#d0ec48"/><rect x="0.928" y="0" width="0.005" height="1" fill="#e8e840"/><rect x="0.965" y="0" width="0.005" height="1" fill="#58c8e0"/><rect x="0.532" y="0" width="0.003" height="1" fill="#88e0a0"/><rect x="0.124" y="0" width="0.004" height="1" fill="#58c8e0"/><rect x="0.337" y="0" width="0.005" height="1" fill="#58c8e0"/><rect x="0.755" y="0" width="0.003" height="1" fill="#60d8d0"/><rect x="0.665" y="0" width="0.002" height="1" fill="#58c8e0"/><rect x="0.028" y="0" width="0.003" height="1" fill="#d0ec48"/><rect x="0.4" y="0" width="0.005" height="1" fill="#88e0a0"/><rect x="0.201" y="0" width="0.002" height="1" fill="#58c8e0"/><rect x="0" y="0.557" width="1" height="0.004" fill="#40b0f0"/><rect x="0" y="0.365" width="1" height="0.005" fill="#40b0f0"/><rect x="0.91" y="0" width="0.005" height="1" fill="#e8e840"/><rect x="0.977" y="0" width="0.003" height="1" fill="#60d8d0"/><rect x="0.517" y="0" width="0.005" height="1" fill="#d0ec48"/><rect x="0" y="0.139" width="1" height="0.002" fill="#58c8e0"/><rect x="0.789" y="0" width="0.006" height="1" fill="#d0ec48"/><rect x="0.209" y="0" width="0.004" height="1" fill="#e8e840"/><rect x="0.688" y="0" width="0.003" height="1" fill="#e8e840"/><rect x="0.506" y="0" width="0.002" height="1" fill="#60d8d0"/><rect x="0" y="0.274" width="1" height="0.005" fill="#40b0f0"/><rect x="0.651" y="0" width="0.004" height="1" fill="#58c8e0"/><rect x="0.817" y="0" width="0.004" height="1" fill="#58c8e0"/><rect x="0.03" y="0" width="0.004" height="1" fill="#60d8d0"/><rect x="0.365" y="0" width="0.006" height="1" fill="#d0ec48"/><rect x="0.52" y="0" width="0.004" height="1" fill="#40b0f0"/><rect x="0.913" y="0" width="0.004" height="1" fill="#40b0f0"/><rect x="0" y="0.853" width="1" height="0.004" fill="#e8e840"/><rect x="0.978" y="0" width="0.004" height="1" fill="#e8e840"/><rect x="0.197" y="0" width="0.006" height="1" fill="#58c8e0"/><rect x="0.723" y="0" width="0.006" height="1" fill="#e8e840"/><rect x="0" y="0.371" width="1" height="0.002" fill="#88e0a0"/><rect x="0.873" y="0" width="0.003" height="1" fill="#e8e840"/><rect x="0.302" y="0" width="0.003" height="1" fill="#60d8d0"/><rect x="0" y="0.206" width="1" height="0.003" fill="#88e0a0"/><rect x="0" y="0.592" width="1" height="0.004" fill="#58c8e0"/><rect x="0.224" y="0" width="0.005" height="1" fill="#40b0f0"/><rect x="0.541" y="0" width="0.005" height="1" fill="#58c8e0"/><rect x="0" y="0.822" width="1" height="0.005" fill="#60d8d0"/><rect x="0" y="0.583" width="1" height="0.003" fill="#d0ec48"/><rect x="0" y="0.02" width="1" height="0.006" fill="#e8e840"/><rect x="0.809" y="0" width="0.004" height="1" fill="#d0ec48"/><rect x="0.891" y="0" width="0.005" height="1" fill="#60d8d0"/><rect x="0" y="0.007" width="1" height="0.004" fill="#58c8e0"/><rect x="0.836" y="0" width="0.002" height="1" fill="#d0ec48"/><rect x="0" y="0.176" width="1" height="0.004" fill="#40b0f0"/><rect x="0.018" y="0" width="0.004" height="1" fill="#60d8d0"/><rect x="0.888" y="0" width="0.003" height="1" fill="#58c8e0"/><rect x="0.714" y="0" width="0.004" height="1" fill="#88e0a0"/><rect x="0.774" y="0" width="0.005" height="1" fill="#60d8d0"/><rect x="0" y="0.894" width="1" height="0.006" fill="#60d8d0"/><rect x="0.479" y="0" width="0.002" height="1" fill="#58c8e0"/><rect x="0" y="0.163" width="1" height="0.002" fill="#88e0a0"/><rect x="0.728" y="0" width="0.003" height="1" fill="#60d8d0"/><rect x="0" y="0.155" width="1" height="0.004" fill="#88e0a0"/><rect x="0" y="0.002" width="1" height="0.004" fill="#d0ec48"/><rect x="0" y="0.732" width="1" height="0.005" fill="#e8e840"/><rect x="0.934" y="0" width="0.003" height="1" fill="#40b0f0"/><rect x="0.51" y="0" width="0.003" height="1" fill="#e8e840"/><rect x="0.415" y="0" width="0.005" height="1" fill="#60d8d0"/><rect x="0.873" y="0" width="0.006" height="1" fill="#88e0a0"/><rect x="0.462" y="0" width="0.004" height="1" fill="#88e0a0"/><rect x="0.426" y="0" width="0.003" height="1" fill="#58c8e0"/><rect x="0.384" y="0" width="0.004" height="1" fill="#60d8d0"/><rect x="0.334" y="0" width="0.006" height="1" fill="#e8e840"/><rect x="0.012" y="0" width="0.002" height="1" fill="#60d8d0"/><rect x="0" y="0.153" width="1" height="0.004" fill="#58c8e0"/><rect x="0" y="0.278" width="1" height="0.003" fill="#40b0f0"/><rect x="0.936" y="0" width="0.002" height="1" fill="#40b0f0"/><rect x="0.4" y="0" width="0.004" height="1" fill="#e8e840"/><rect x="0.323" y="0" width="0.003" height="1" fill="#88e0a0"/><rect x="0.766" y="0" width="0.002" height="1" fill="#60d8d0"/><rect x="0.867" y="0" width="0.006" height="1" fill="#d0ec48"/><rect x="0.428" y="0" width="0.004" height="1" fill="#58c8e0"/><rect x="0.76" y="0" width="0.005" height="1" fill="#e8e840"/><rect x="0" y="0.043" width="1" height="0.006" fill="#60d8d0"/><rect x="0.27" y="0" width="0.005" height="1" fill="#d0ec48"/><rect x="0.602" y="0" width="0.005" height="1" fill="#e8e840"/><rect x="0.363" y="0" width="0.004" height="1" fill="#d0ec48"/><rect x="0.593" y="0" width="0.005" height="1" fill="#e8e840"/><rect x="0.257" y="0" width="0.003" height="1" fill="#e8e840"/><rect x="0.925" y="0" width="0.002" height="1" fill="#d0ec48"/><rect x="0.263" y="0" width="0.004" height="1" fill="#60d8d0"/></g></g>
<g id="t7"><rect x="0" y="0" width="1" height="1" fill="#80ff80"/><rect x="0" y="0" width="0.08" height="0.03" fill="#78dcb0"/><rect x="0" y="0.03" width="0.08" height="0.17" fill="#48bcee"/><rect x="0" y="0.2" width="0.08" height="0.03" fill="#78dcb0"/><rect x="0" y="0.23" width="0.08" height="0.11" fill="#48bcee"/><rect x="0" y="0.34" width="0.08" height="0.04" fill="#78dcb0"/><rect x="0" y="0.38" width="0.08" height="0.21" fill="#48bcee"/><rect x="0" y="0.59" width="0.08" height="0.03" fill="#78dcb0"/><rect x="0" y="0.62" width="0.08" height="0.06" fill="#48bcee"/><rect x="0" y="0.68" width="0.08" height="0.015" fill="#f09048"/><rect x="0" y="0.695" width="0.08" height="0.305" fill="#84dab4"/><rect x="0.08" y="0" width="0.02" height="0.03" fill="#78dcb0"/><rect x="0.08" y="0.03" width="0.02" height="0.17" fill="#78dcb0"/><rect x="0.08" y="0.2" width="0.02" height="0.03" fill="#78dcb0"/><rect x="0.08" y="0.23" width="0.02" height="0.11" fill="#78dcb0"/><rect x="0.08" y="0.34" width="0.02" height="0.04" fill="#78dcb0"/><rect x="0.08" y="0.38" width="0.02" height="0.21" fill="#78dcb0"/><rect x="0.08" y="0.59" width="0.02" height="0.03" fill="#78dcb0"/><rect x="0.08" y="0.62" width="0.02" height="0.06" fill="#78dcb0"/><rect x="0.08" y="0.68" width="0.02" height="0.015" fill="#f09048"/><rect x="0.08" y="0.695" width="0.02" height="0.305" fill="#78dcb0"/><rect x="0.1" y="0" width="0.25" height="0.03" fill="#78dcb0"/><rect x="0.1" y="0.03" width="0.25" height="0.17" fill="#48bcee"/><rect x="0.1" y="0.2" width="0.25" height="0.03" fill="#78dcb0"/><rect x="0.1" y="0.23" width="0.25" height="0.11" fill="#48bcee"/><rect x="0.1" y="0.34" width="0.25" height="0.04" fill="#78dcb0"/><rect x="0.1" y="0.38" width="0.25" height="0.21" fill="#48bcee"/><rect x="0.1" y="0.59" width="0.25" height="0.03" fill="#78dcb0"/><rect x="0.1" y="0.62" width="0.25" height="0.06" fill="#48bcee"/><rect x="0.1" y="0.68" width="0.25" height="0.015" fill="#f09048"/><rect x="0.1" y="0.695" width="0.25" height="0.305" fill="#84dab4"/><rect x="0.35" y="0" width="0.1" height="0.03" fill="#78dcb0"/><rect x="0.35" y="0.03" width="0.1" height="0.17" fill="#34a8f0"/><rect x="0.35" y="0.2" width="0.1" height="0.03" fill="#78dcb0"/><rect x="0.35" y="0.23" width="0.1" height="0.11" fill="#34a8f0"/><rect x="0.35" y="0.34" width="0.1" height="0.04" fill="#78dcb0"/><rect x="0.35" y="0.38" width="0.1" height="0.21" fill="#34a8f0"/><rect x="0.35" y="0.59" width="0.1" height="0.03" fill="#78dcb0"/><rect x="0.35" y="0.62" width="0.1" height="0.06" fill="#34a8f0"/><rect x="0.35" y="0.68" width="0.1" height="0.015" fill="#f09048"/><rect x="0.35" y="0.695" width="0.1" height="0.305" fill="#58c4dc"/><rect x="0.45" y="0" width="0.18" height="0.03" fill="#78dcb0"/><rect x="0.45" y="0.03" width="0.18" height="0.17" fill="#48bcee"/><rect x="0.45" y="0.2" width="0.18" height="0.03" fill="#78dcb0"/><rect x="0.45" y="0.23" width="0.18" height="0.11" fill="#48bcee"/><rect x="0.45" y="0.34" width="0.18" height="0.04" fill="#78dcb0"/><rect x="0.45" y="0.38" width="0.18" height="0.21" fill="#48bcee"/><rect x="0.45" y="0.59" width="0.18" height="0.03" fill="#78dcb0"/><rect x="0.45" y="0.62" width="0.18" height="0.06" fill="#48bcee"/><rect x="0.45" y="0.68" width="0.18" height="0.015" fill="#f09048"/><rect x="0.45" y="0.695" width="0.18" height="0.305" fill="#84dab4"/><rect x="0.63" y="0" width="0.05" height="0.03" fill="#78dcb0"/><rect x="0.63" y="0.03" width="0.05" height="0.17" fill="#78dcb0"/><rect x="0.63" y="0.2" width="0.05" height="0.03" fill="#78dcb0"/><rect x="0.63" y="0.23" width="0.05" height="0.11" fill="#78dcb0"/><rect x="0.63" y="0.34" width="0.05" height="0.04" fill="#78dcb0"/><rect x="0.63" y="0.38" width="0.05" height="0.21" fill="#78dcb0"/><rect x="0.63" y="0.59" width="0.05" height="0.03" fill="#78dcb0"/><rect x="0.63" y="0.62" width="0.05" height="0.06" fill="#78dcb0"/><rect x="0.63" y="0.68" width="0.05" height="0.015" fill="#f09048"/><rect x="0.63" y="0.695" width="0.05" height="0.305" fill="#78dcb0"/><rect x="0.68" y="0" width="0.24" height="0.03" fill="#78dcb0"/><rect x="0.68" y="0.03" width="0.24" height="0.17" fill="#34a8f0"/><rect x="0.68" y="0.2" width="0.24" height="0.03" fill="#78dcb0"/><rect x="0.68" y="0.23" width="0.24" height="0.11" fill="#34a8f0"/><rect x="0.68" y="0.34" width="0.24" height="0.04" fill="#78dcb0"/><rect x="0.68" y="0.38" width="0.24" height="0.21" fill="#34a8f0"/><rect x="0.68" y="0.59" width="0.24" height="0.03" fill="#78dcb0"/><rect x="0.68" y="0.62" width="0.24" height="0.06" fill="#34a8f0"/><rect x="0.68" y="0.68" width="0.24" height="0.015" fill="#f09048"/><rect x="0.68" y="0.695" width="0.24" height="0.305" fill="#58c4dc"/><rect x="0.92" y="0" width="0.08" height="0.03" fill="#78dcb0"/><rect x="0.92" y="0.03" width="0.08" height="0.17" fill="#48bcee"/><rect x="0.92" y="0.2" width="0.08" height="0.03" fill="#78dcb0"/><rect x="0.92" y="0.23" width="0.08" height="0.11" fill="#48bcee"/><rect x="0.92" y="0.34" width="0.08" height="0.04" fill="#78dcb0"/><rect x="0.92" y="0.38" width="0.08" height="0.21" fill="#48bcee"/><rect x="0.92" y="0.59" width="0.08" height="0.03" fill="#78dcb0"/><rect x="0.92" y="0.62" width="0.08" height="0.06" fill="#48bcee"/><rect x="0.92" y="0.68" width="0.08" height="0.015" fill="#f09048"/><rect x="0.92" y="0.695" width="0.08" height="0.305" fill="#84dab4"/><polygon points="0.6,0.6 0.64,0.6 0.7,0.7 0.62,0.7" fill="#e8e040"/><polygon points="0.64,0.6 0.68,0.62 0.7,0.7" fill="#3090f0"/><g opacity="0.55"><rect x="0" y="0.381" width="1" height="0.003" fill="#80e0a8"/><rect x="0" y="0.386" width="1" height="0.006" fill="#c0e858"/><rect x="0.384" y="0" width="0.006" height="1" fill="#60d4d0"/><rect x="0.249" y="0" width="0.007" height="1" fill="#2a98f0"/><rect x="0.155" y="0" width="0.003" height="1" fill="#d0e848"/><rect x="0.258" y="0" width="0.005" height="1" fill="#60d4d0"/><rect x="0" y="0.784" width="1" height="0.002" fill="#c0e858"/><rect x="0" y="0.216" width="1" height="0.006" fill="#d0e848"/><rect x="0" y="0.555" width="1" height="0.002" fill="#2a98f0"/><rect x="0.689" y="0" width="0.007" height="1" fill="#2a98f0"/><rect x="0.225" y="0" width="0.002" height="1" fill="#60d4d0"/><rect x="0.888" y="0" width="0.006" height="1" fill="#c0e858"/><rect x="0" y="0.107" width="1" height="0.002" fill="#2a98f0"/><rect x="0.493" y="0" width="0.004" height="1" fill="#2a98f0"/><rect x="0.078" y="0" width="0.007" height="1" fill="#40bcf0"/><rect x="0" y="0.744" width="1" height="0.005" fill="#2a98f0"/><rect x="0" y="0.322" width="1" height="0.003" fill="#2a98f0"/><rect x="0" y="0.72" width="1" height="0.005" fill="#2a98f0"/><rect x="0" y="0.705" width="1" height="0.006" fill="#40bcf0"/><rect x="0" y="0.75" width="1" height="0.005" fill="#40bcf0"/><rect x="0.099" y="0" width="0.007" height="1" fill="#80e0a8"/><rect x="0" y="0.733" width="1" height="0.005" fill="#40bcf0"/><rect x="0.083" y="0" width="0.005" height="1" fill="#60d4d0"/><rect x="0.686" y="0" width="0.003" height="1" fill="#d0e848"/><rect x="0" y="0.925" width="1" height="0.004" fill="#c0e858"/><rect x="0.732" y="0" width="0.003" height="1" fill="#80e0a8"/><rect x="0.226" y="0" width="0.004" height="1" fill="#80e0a8"/><rect x="0" y="0.237" width="1" height="0.005" fill="#80e0a8"/><rect x="0.122" y="0" width="0.004" height="1" fill="#d0e848"/><rect x="0.998" y="0" width="0.005" height="1" fill="#d0e848"/><rect x="0" y="0.774" width="1" height="0.004" fill="#c0e858"/><rect x="0" y="0.822" width="1" height="0.002" fill="#60d4d0"/><rect x="0" y="0.154" width="1" height="0.003" fill="#60d4d0"/><rect x="0.177" y="0" width="0.006" height="1" fill="#2a98f0"/><rect x="0" y="0.666" width="1" height="0.005" fill="#80e0a8"/><rect x="0.922" y="0" width="0.007" height="1" fill="#c0e858"/><rect x="0" y="0.259" width="1" height="0.004" fill="#80e0a8"/><rect x="0.869" y="0" width="0.003" height="1" fill="#60d4d0"/><rect x="0.403" y="0" width="0.004" height="1" fill="#80e0a8"/><rect x="0.47" y="0" width="0.004" height="1" fill="#40bcf0"/><rect x="0" y="0.474" width="1" height="0.002" fill="#40bcf0"/><rect x="0" y="0.569" width="1" height="0.004" fill="#60d4d0"/><rect x="0" y="0.716" width="1" height="0.006" fill="#2a98f0"/><rect x="0.63" y="0" width="0.004" height="1" fill="#40bcf0"/><rect x="0.367" y="0" width="0.003" height="1" fill="#2a98f0"/><rect x="0.873" y="0" width="0.005" height="1" fill="#80e0a8"/><rect x="0" y="0.59" width="1" height="0.004" fill="#80e0a8"/><rect x="0" y="0.271" width="1" height="0.002" fill="#60d4d0"/><rect x="0.386" y="0" width="0.003" height="1" fill="#60d4d0"/><rect x="0" y="0.51" width="1" height="0.003" fill="#2a98f0"/><rect x="0.721" y="0" width="0.003" height="1" fill="#80e0a8"/><rect x="0.087" y="0" width="0.005" height="1" fill="#40bcf0"/><rect x="0" y="0.31" width="1" height="0.004" fill="#2a98f0"/><rect x="0" y="0.892" width="1" height="0.004" fill="#40bcf0"/><rect x="0.372" y="0" width="0.006" height="1" fill="#2a98f0"/><rect x="0.389" y="0" width="0.003" height="1" fill="#40bcf0"/><rect x="0.159" y="0" width="0.002" height="1" fill="#2a98f0"/><rect x="0.903" y="0" width="0.004" height="1" fill="#2a98f0"/><rect x="0.902" y="0" width="0.007" height="1" fill="#d0e848"/><rect x="0.016" y="0" width="0.003" height="1" fill="#d0e848"/><rect x="0" y="0.85" width="1" height="0.006" fill="#c0e858"/><rect x="0" y="0.753" width="1" height="0.006" fill="#60d4d0"/><rect x="0" y="0.404" width="1" height="0.005" fill="#d0e848"/><rect x="0.532" y="0" width="0.003" height="1" fill="#d0e848"/><rect x="0" y="0.938" width="1" height="0.006" fill="#2a98f0"/><rect x="0.522" y="0" width="0.003" height="1" fill="#d0e848"/><rect x="0.284" y="0" width="0.007" height="1" fill="#c0e858"/><rect x="0.092" y="0" width="0.006" height="1" fill="#60d4d0"/><rect x="0.405" y="0" width="0.005" height="1" fill="#d0e848"/><rect x="0" y="0.648" width="1" height="0.003" fill="#40bcf0"/><rect x="0.665" y="0" width="0.004" height="1" fill="#80e0a8"/><rect x="0.203" y="0" width="0.003" height="1" fill="#c0e858"/><rect x="0" y="0.495" width="1" height="0.005" fill="#60d4d0"/><rect x="0.963" y="0" width="0.006" height="1" fill="#60d4d0"/><rect x="0" y="0.846" width="1" height="0.003" fill="#40bcf0"/><rect x="0.082" y="0" width="0.006" height="1" fill="#d0e848"/><rect x="0.758" y="0" width="0.005" height="1" fill="#2a98f0"/><rect x="0.682" y="0" width="0.003" height="1" fill="#40bcf0"/><rect x="0" y="0.895" width="1" height="0.003" fill="#60d4d0"/><rect x="0.926" y="0" width="0.006" height="1" fill="#60d4d0"/><rect x="0" y="0.354" width="1" height="0.003" fill="#d0e848"/><rect x="0" y="0.919" width="1" height="0.006" fill="#60d4d0"/><rect x="0.159" y="0" width="0.005" height="1" fill="#80e0a8"/><rect x="0" y="0.985" width="1" height="0.003" fill="#c0e858"/><rect x="0.736" y="0" width="0.003" height="1" fill="#80e0a8"/><rect x="0" y="0.829" width="1" height="0.002" fill="#c0e858"/><rect x="0.326" y="0" width="0.003" height="1" fill="#80e0a8"/><rect x="0.252" y="0" width="0.003" height="1" fill="#60d4d0"/><rect x="0" y="0.494" width="1" height="0.002" fill="#60d4d0"/><rect x="0.112" y="0" width="0.004" height="1" fill="#80e0a8"/><rect x="0.986" y="0" width="0.004" height="1" fill="#2a98f0"/><rect x="0.299" y="0" width="0.007" height="1" fill="#d0e848"/><rect x="0.717" y="0" width="0.003" height="1" fill="#80e0a8"/><rect x="0" y="0.219" width="1" height="0.002" fill="#60d4d0"/><rect x="0" y="0.497" width="1" height="0.004" fill="#c0e858"/><rect x="0.624" y="0" width="0.004" height="1" fill="#2a98f0"/><rect x="0" y="0.152" width="1" height="0.004" fill="#40bcf0"/><rect x="0.946" y="0" width="0.006" height="1" fill="#c0e858"/><rect x="0.346" y="0" width="0.003" height="1" fill="#c0e858"/><rect x="0" y="0.856" width="1" height="0.007" fill="#80e0a8"/><rect x="0" y="0.515" width="1" height="0.006" fill="#60d4d0"/><rect x="0" y="0.864" width="1" height="0.006" fill="#40bcf0"/><rect x="0" y="0.594" width="1" height="0.005" fill="#80e0a8"/><rect x="0.613" y="0" width="0.003" height="1" fill="#d0e848"/><rect x="0" y="0.952" width="1" height="0.002" fill="#40bcf0"/><rect x="0" y="0.195" width="1" height="0.007" fill="#c0e858"/><rect x="0.399" y="0" width="0.006" height="1" fill="#40bcf0"/><rect x="0.397" y="0" width="0.004" height="1" fill="#d0e848"/><rect x="0" y="0.897" width="1" height="0.003" fill="#d0e848"/><rect x="0" y="0.171" width="1" height="0.006" fill="#60d4d0"/><rect x="0.402" y="0" width="0.002" height="1" fill="#40bcf0"/><rect x="0" y="0.599" width="1" height="0.006" fill="#c0e858"/><rect x="0.671" y="0" width="0.004" height="1" fill="#40bcf0"/><rect x="0" y="0.115" width="1" height="0.006" fill="#60d4d0"/><rect x="0.09" y="0" width="0.003" height="1" fill="#2a98f0"/><rect x="0" y="0.357" width="1" height="0.006" fill="#d0e848"/><rect x="0" y="0.032" width="1" height="0.004" fill="#40bcf0"/><rect x="0" y="0.828" width="1" height="0.004" fill="#80e0a8"/><rect x="0.931" y="0" width="0.003" height="1" fill="#2a98f0"/><rect x="0" y="0.402" width="1" height="0.006" fill="#d0e848"/><rect x="0" y="0.127" width="1" height="0.005" fill="#60d4d0"/><rect x="0" y="0.638" width="1" height="0.007" fill="#40bcf0"/><rect x="0" y="0.05" width="1" height="0.005" fill="#2a98f0"/><rect x="0.132" y="0" width="0.005" height="1" fill="#60d4d0"/><rect x="0" y="0.838" width="1" height="0.003" fill="#40bcf0"/><rect x="0" y="0.157" width="1" height="0.006" fill="#80e0a8"/><rect x="0.837" y="0" width="0.005" height="1" fill="#2a98f0"/><rect x="0.078" y="0" width="0.007" height="1" fill="#c0e858"/><rect x="0.186" y="0" width="0.003" height="1" fill="#40bcf0"/><rect x="0.941" y="0" width="0.004" height="1" fill="#80e0a8"/><rect x="0" y="0.995" width="1" height="0.002" fill="#40bcf0"/><rect x="0.596" y="0" width="0.007" height="1" fill="#60d4d0"/><rect x="0" y="0.196" width="1" height="0.007" fill="#d0e848"/><rect x="0" y="0.699" width="1" height="0.003" fill="#d0e848"/><rect x="0" y="0.639" width="1" height="0.004" fill="#80e0a8"/><rect x="0" y="0.758" width="1" height="0.003" fill="#40bcf0"/><rect x="0" y="0.771" width="1" height="0.003" fill="#80e0a8"/><rect x="0.068" y="0" width="0.002" height="1" fill="#c0e858"/><rect x="0" y="0.64" width="1" height="0.004" fill="#2a98f0"/><rect x="0" y="0.287" width="1" height="0.005" fill="#2a98f0"/><rect x="0.172" y="0" width="0.006" height="1" fill="#d0e848"/><rect x="0" y="0.637" width="1" height="0.006" fill="#c0e858"/><rect x="0.787" y="0" width="0.005" height="1" fill="#40bcf0"/><rect x="0" y="0.426" width="1" height="0.003" fill="#d0e848"/><rect x="0" y="0.547" width="1" height="0.006" fill="#60d4d0"/><rect x="0.777" y="0" width="0.007" height="1" fill="#60d4d0"/><rect x="0" y="0.351" width="1" height="0.007" fill="#c0e858"/><rect x="0" y="0.335" width="1" height="0.005" fill="#80e0a8"/><rect x="0.886" y="0" width="0.006" height="1" fill="#c0e858"/><rect x="0" y="0.355" width="1" height="0.007" fill="#80e0a8"/></g></g>
<g id="t8"><rect x="0" y="0" width="1" height="1" fill="#80ff80"/><rect x="0" y="0" width="0.2" height="0.1" fill="#f8c824"/><rect x="0" y="0.1" width="0.2" height="0.05" fill="#90dca0"/><rect x="0" y="0.15" width="0.2" height="0.17" fill="#f8c824"/><rect x="0" y="0.32" width="0.2" height="0.06" fill="#90dca0"/><rect x="0" y="0.38" width="0.2" height="0.28" fill="#f8c824"/><rect x="0" y="0.66" width="0.2" height="0.06" fill="#90dca0"/><rect x="0" y="0.72" width="0.2" height="0.08" fill="#d8e048"/><rect x="0" y="0.8" width="0.2" height="0.04" fill="#90dca0"/><rect x="0" y="0.84" width="0.2" height="0.16" fill="#d8e048"/><rect x="0.2" y="0" width="0.13" height="0.1" fill="#90dca0"/><rect x="0.2" y="0.1" width="0.13" height="0.05" fill="#90dca0"/><rect x="0.2" y="0.15" width="0.13" height="0.17" fill="#90dca0"/><rect x="0.2" y="0.32" width="0.13" height="0.06" fill="#90dca0"/><rect x="0.2" y="0.38" width="0.13" height="0.28" fill="#90dca0"/><rect x="0.2" y="0.66" width="0.13" height="0.06" fill="#90dca0"/><rect x="0.2" y="0.72" width="0.13" height="0.08" fill="#98dca0"/><rect x="0.2" y="0.8" width="0.13" height="0.04" fill="#90dca0"/><rect x="0.2" y="0.84" width="0.13" height="0.16" fill="#98dca0"/><rect x="0.33" y="0" width="0.04" height="0.1" fill="#f8c824"/><rect x="0.33" y="0.1" width="0.04" height="0.05" fill="#90dca0"/><rect x="0.33" y="0.15" width="0.04" height="0.17" fill="#f8c824"/><rect x="0.33" y="0.32" width="0.04" height="0.06" fill="#90dca0"/><rect x="0.33" y="0.38" width="0.04" height="0.28" fill="#f8c824"/><rect x="0.33" y="0.66" width="0.04" height="0.06" fill="#90dca0"/><rect x="0.33" y="0.72" width="0.04" height="0.08" fill="#d8e048"/><rect x="0.33" y="0.8" width="0.04" height="0.04" fill="#90dca0"/><rect x="0.33" y="0.84" width="0.04" height="0.16" fill="#d8e048"/><rect x="0.37" y="0" width="0.18" height="0.1" fill="#d8e840"/><rect x="0.37" y="0.1" width="0.18" height="0.05" fill="#90dca0"/><rect x="0.37" y="0.15" width="0.18" height="0.17" fill="#d8e840"/><rect x="0.37" y="0.32" width="0.18" height="0.06" fill="#90dca0"/><rect x="0.37" y="0.38" width="0.18" height="0.28" fill="#d8e840"/><rect x="0.37" y="0.66" width="0.18" height="0.06" fill="#90dca0"/><rect x="0.37" y="0.72" width="0.18" height="0.08" fill="#c0e060"/><rect x="0.37" y="0.8" width="0.18" height="0.04" fill="#90dca0"/><rect x="0.37" y="0.84" width="0.18" height="0.16" fill="#c0e060"/><rect x="0.55" y="0" width="0.07" height="0.1" fill="#90dca0"/><rect x="0.55" y="0.1" width="0.07" height="0.05" fill="#90dca0"/><rect x="0.55" y="0.15" width="0.07" height="0.17" fill="#90dca0"/><rect x="0.55" y="0.32" width="0.07" height="0.06" fill="#90dca0"/><rect x="0.55" y="0.38" width="0.07" height="0.28" fill="#90dca0"/><rect x="0.55" y="0.66" width="0.07" height="0.06" fill="#90dca0"/><rect x="0.55" y="0.72" width="0.07" height="0.08" fill="#98dca0"/><rect x="0.55" y="0.8" width="0.07" height="0.04" fill="#90dca0"/><rect x="0.55" y="0.84" width="0.07" height="0.16" fill="#98dca0"/><rect x="0.62" y="0" width="0.18" height="0.1" fill="#f8c824"/><rect x="0.62" y="0.1" width="0.18" height="0.05" fill="#90dca0"/><rect x="0.62" y="0.15" width="0.18" height="0.17" fill="#f8c824"/><rect x="0.62" y="0.32" width="0.18" height="0.06" fill="#90dca0"/><rect x="0.62" y="0.38" width="0.18" height="0.28" fill="#f8c824"/><rect x="0.62" y="0.66" width="0.18" height="0.06" fill="#90dca0"/><rect x="0.62" y="0.72" width="0.18" height="0.08" fill="#d8e048"/><rect x="0.62" y="0.8" width="0.18" height="0.04" fill="#90dca0"/><rect x="0.62" y="0.84" width="0.18" height="0.16" fill="#d8e048"/><rect x="0.8" y="0" width="0.05" height="0.1" fill="#90dca0"/><rect x="0.8" y="0.1" width="0.05" height="0.05" fill="#90dca0"/><rect x="0.8" y="0.15" width="0.05" height="0.17" fill="#90dca0"/><rect x="0.8" y="0.32" width="0.05" height="0.06" fill="#90dca0"/><rect x="0.8" y="0.38" width="0.05" height="0.28" fill="#90dca0"/><rect x="0.8" y="0.66" width="0.05" height="0.06" fill="#90dca0"/><rect x="0.8" y="0.72" width="0.05" height="0.08" fill="#98dca0"/><rect x="0.8" y="0.8" width="0.05" height="0.04" fill="#90dca0"/><rect x="0.8" y="0.84" width="0.05" height="0.16" fill="#98dca0"/><rect x="0.85" y="0" width="0.15" height="0.1" fill="#f8c824"/><rect x="0.85" y="0.1" width="0.15" height="0.05" fill="#90dca0"/><rect x="0.85" y="0.15" width="0.15" height="0.17" fill="#f8c824"/><rect x="0.85" y="0.32" width="0.15" height="0.06" fill="#90dca0"/><rect x="0.85" y="0.38" width="0.15" height="0.28" fill="#f8c824"/><rect x="0.85" y="0.66" width="0.15" height="0.06" fill="#90dca0"/><rect x="0.85" y="0.72" width="0.15" height="0.08" fill="#d8e048"/><rect x="0.85" y="0.8" width="0.15" height="0.04" fill="#90dca0"/><rect x="0.85" y="0.84" width="0.15" height="0.16" fill="#d8e048"/><rect x="0.34" y="0.2" width="0.05" height="0.05" fill="#40b0f0"/><rect x="0.34" y="0.38" width="0.06" height="0.06" fill="#48b8f0"/><rect x="0.35" y="0.6" width="0.04" height="0.06" fill="#40b0f0"/><polygon points="0.34,0.6 0.38,0.55 0.38,0.6" fill="#f08020"/><g opacity="0.55"><rect x="0.639" y="0" width="0.002" height="1" fill="#70d8b8"/><rect x="0" y="0.14" width="1" height="0.003" fill="#40c0e8"/><rect x="0.087" y="0" width="0.004" height="1" fill="#ffb020"/><rect x="0.233" y="0" width="0.005" height="1" fill="#a0e080"/><rect x="0.65" y="0" width="0.005" height="1" fill="#f8e830"/><rect x="0" y="0.278" width="1" height="0.006" fill="#f8e830"/><rect x="0.34" y="0" width="0.003" height="1" fill="#70d8b8"/><rect x="0" y="0.38" width="1" height="0.004" fill="#70d8b8"/><rect x="0.807" y="0" width="0.006" height="1" fill="#a0e080"/><rect x="0" y="0.922" width="1" height="0.002" fill="#70d8b8"/><rect x="0.619" y="0" width="0.006" height="1" fill="#a0e080"/><rect x="0" y="0.07" width="1" height="0.005" fill="#70d8b8"/><rect x="0.855" y="0" width="0.006" height="1" fill="#ff9818"/><rect x="0.636" y="0" width="0.004" height="1" fill="#70d8b8"/><rect x="0" y="0.67" width="1" height="0.006" fill="#40c0e8"/><rect x="0.609" y="0" width="0.003" height="1" fill="#40c0e8"/><rect x="0" y="0.462" width="1" height="0.003" fill="#40c0e8"/><rect x="0.22" y="0" width="0.004" height="1" fill="#ffb020"/><rect x="0.032" y="0" width="0.004" height="1" fill="#70d8b8"/><rect x="0.913" y="0" width="0.005" height="1" fill="#40c0e8"/><rect x="0.655" y="0" width="0.004" height="1" fill="#40c0e8"/><rect x="0" y="0.265" width="1" height="0.003" fill="#a0e080"/><rect x="0.747" y="0" width="0.004" height="1" fill="#a0e080"/><rect x="0.219" y="0" width="0.007" height="1" fill="#a0e080"/><rect x="0" y="0.756" width="1" height="0.006" fill="#f8e830"/><rect x="0.792" y="0" width="0.004" height="1" fill="#ffb020"/><rect x="0" y="0.596" width="1" height="0.004" fill="#70d8b8"/><rect x="0.861" y="0" width="0.002" height="1" fill="#40c0e8"/><rect x="0.885" y="0" width="0.006" height="1" fill="#40c0e8"/><rect x="0" y="0.294" width="1" height="0.003" fill="#ffb020"/><rect x="0" y="0.876" width="1" height="0.003" fill="#a0e080"/><rect x="0.508" y="0" width="0.003" height="1" fill="#40c0e8"/><rect x="0.639" y="0" width="0.005" height="1" fill="#f8e830"/><rect x="0" y="0.162" width="1" height="0.007" fill="#a0e080"/><rect x="0" y="0.599" width="1" height="0.004" fill="#ffb020"/><rect x="0.879" y="0" width="0.006" height="1" fill="#70d8b8"/><rect x="0.241" y="0" width="0.005" height="1" fill="#ffb020"/><rect x="0" y="0.486" width="1" height="0.002" fill="#a0e080"/><rect x="0.128" y="0" width="0.004" height="1" fill="#a0e080"/><rect x="0" y="0.528" width="1" height="0.005" fill="#f8e830"/><rect x="0.755" y="0" width="0.005" height="1" fill="#40c0e8"/><rect x="0" y="0.995" width="1" height="0.005" fill="#ff9818"/><rect x="0.451" y="0" width="0.003" height="1" fill="#ffb020"/><rect x="0.588" y="0" width="0.003" height="1" fill="#f8e830"/><rect x="0" y="0.708" width="1" height="0.002" fill="#ffb020"/><rect x="0.86" y="0" width="0.002" height="1" fill="#f8e830"/><rect x="0" y="0.485" width="1" height="0.005" fill="#40c0e8"/><rect x="0" y="0.571" width="1" height="0.004" fill="#ff9818"/><rect x="0.19" y="0" width="0.002" height="1" fill="#ff9818"/><rect x="0" y="0.411" width="1" height="0.006" fill="#ffb020"/><rect x="0" y="0.984" width="1" height="0.002" fill="#ff9818"/><rect x="0.801" y="0" width="0.003" height="1" fill="#f8e830"/><rect x="0.449" y="0" width="0.004" height="1" fill="#70d8b8"/><rect x="0.874" y="0" width="0.002" height="1" fill="#a0e080"/><rect x="0" y="0.652" width="1" height="0.005" fill="#ffb020"/><rect x="0.926" y="0" width="0.006" height="1" fill="#f8e830"/><rect x="0.481" y="0" width="0.006" height="1" fill="#ffb020"/><rect x="0.002" y="0" width="0.004" height="1" fill="#ff9818"/><rect x="0" y="0.697" width="1" height="0.006" fill="#a0e080"/><rect x="0" y="0.487" width="1" height="0.003" fill="#f8e830"/><rect x="0.579" y="0" width="0.005" height="1" fill="#40c0e8"/><rect x="0.05" y="0" width="0.004" height="1" fill="#a0e080"/><rect x="0.961" y="0" width="0.002" height="1" fill="#f8e830"/><rect x="0.068" y="0" width="0.006" height="1" fill="#ff9818"/><rect x="0.89" y="0" width="0.003" height="1" fill="#a0e080"/><rect x="0" y="0.082" width="1" height="0.005" fill="#a0e080"/><rect x="0.935" y="0" width="0.003" height="1" fill="#40c0e8"/><rect x="0.266" y="0" width="0.003" height="1" fill="#40c0e8"/><rect x="0.316" y="0" width="0.006" height="1" fill="#ffb020"/><rect x="0.621" y="0" width="0.005" height="1" fill="#ffb020"/><rect x="0" y="0.213" width="1" height="0.003" fill="#70d8b8"/><rect x="0.879" y="0" width="0.004" height="1" fill="#f8e830"/><rect x="0" y="0.543" width="1" height="0.004" fill="#40c0e8"/><rect x="0.668" y="0" width="0.005" height="1" fill="#40c0e8"/><rect x="0" y="0.878" width="1" height="0.003" fill="#ffb020"/><rect x="0" y="0.155" width="1" height="0.003" fill="#f8e830"/><rect x="0" y="0.204" width="1" height="0.005" fill="#70d8b8"/><rect x="0.251" y="0" width="0.007" height="1" fill="#ffb020"/><rect x="0.424" y="0" width="0.003" height="1" fill="#ffb020"/><rect x="0" y="0.131" width="1" height="0.007" fill="#f8e830"/><rect x="0.552" y="0" width="0.004" height="1" fill="#ffb020"/><rect x="0" y="0.945" width="1" height="0.005" fill="#f8e830"/><rect x="0.835" y="0" width="0.005" height="1" fill="#f8e830"/><rect x="0" y="0.042" width="1" height="0.004" fill="#ffb020"/><rect x="0.21" y="0" width="0.003" height="1" fill="#ffb020"/><rect x="0" y="0.56" width="1" height="0.006" fill="#a0e080"/><rect x="0" y="0.926" width="1" height="0.003" fill="#f8e830"/><rect x="0.811" y="0" width="0.006" height="1" fill="#ffb020"/><rect x="0" y="0.924" width="1" height="0.006" fill="#ff9818"/><rect x="0.864" y="0" width="0.006" height="1" fill="#70d8b8"/><rect x="0" y="0.701" width="1" height="0.004" fill="#ffb020"/><rect x="0.222" y="0" width="0.006" height="1" fill="#ff9818"/><rect x="0.821" y="0" width="0.006" height="1" fill="#f8e830"/><rect x="0" y="0.193" width="1" height="0.004" fill="#ffb020"/><rect x="0" y="0.279" width="1" height="0.005" fill="#ff9818"/><rect x="0.844" y="0" width="0.004" height="1" fill="#ffb020"/><rect x="0.97" y="0" width="0.003" height="1" fill="#70d8b8"/><rect x="0.597" y="0" width="0.004" height="1" fill="#70d8b8"/><rect x="0.984" y="0" width="0.003" height="1" fill="#a0e080"/><rect x="0" y="0.044" width="1" height="0.004" fill="#a0e080"/><rect x="0" y="0.538" width="1" height="0.006" fill="#40c0e8"/><rect x="0" y="0.197" width="1" height="0.004" fill="#40c0e8"/><rect x="0" y="0.623" width="1" height="0.005" fill="#ffb020"/><rect x="0.3" y="0" width="0.004" height="1" fill="#ff9818"/><rect x="0.697" y="0" width="0.005" height="1" fill="#f8e830"/><rect x="0" y="0.94" width="1" height="0.005" fill="#f8e830"/><rect x="0.301" y="0" width="0.005" height="1" fill="#ffb020"/><rect x="0" y="0.21" width="1" height="0.006" fill="#a0e080"/><rect x="0" y="0.465" width="1" height="0.004" fill="#f8e830"/><rect x="0.794" y="0" width="0.007" height="1" fill="#40c0e8"/><rect x="0" y="0.085" width="1" height="0.005" fill="#40c0e8"/><rect x="0" y="0.093" width="1" height="0.007" fill="#f8e830"/><rect x="0.225" y="0" width="0.003" height="1" fill="#ffb020"/><rect x="0.984" y="0" width="0.005" height="1" fill="#ffb020"/><rect x="0" y="0.886" width="1" height="0.005" fill="#40c0e8"/><rect x="0" y="0.494" width="1" height="0.003" fill="#40c0e8"/><rect x="0" y="0.893" width="1" height="0.006" fill="#ffb020"/><rect x="0" y="0.219" width="1" height="0.006" fill="#40c0e8"/><rect x="0.05" y="0" width="0.003" height="1" fill="#ffb020"/><rect x="0" y="0.801" width="1" height="0.005" fill="#a0e080"/><rect x="0" y="0.95" width="1" height="0.006" fill="#a0e080"/><rect x="0.892" y="0" width="0.004" height="1" fill="#a0e080"/><rect x="0.159" y="0" width="0.006" height="1" fill="#ff9818"/><rect x="0.247" y="0" width="0.005" height="1" fill="#a0e080"/><rect x="0.239" y="0" width="0.004" height="1" fill="#40c0e8"/><rect x="0.272" y="0" width="0.004" height="1" fill="#a0e080"/><rect x="0" y="0.151" width="1" height="0.004" fill="#f8e830"/><rect x="0.064" y="0" width="0.004" height="1" fill="#a0e080"/><rect x="0" y="0.062" width="1" height="0.006" fill="#ff9818"/><rect x="0.584" y="0" width="0.005" height="1" fill="#a0e080"/><rect x="0" y="0.006" width="1" height="0.004" fill="#ff9818"/><rect x="0" y="0.953" width="1" height="0.004" fill="#40c0e8"/><rect x="0.8" y="0" width="0.006" height="1" fill="#ff9818"/><rect x="0" y="0.436" width="1" height="0.002" fill="#70d8b8"/><rect x="0" y="0.798" width="1" height="0.006" fill="#ff9818"/><rect x="0" y="0.981" width="1" height="0.005" fill="#ff9818"/><rect x="0.663" y="0" width="0.002" height="1" fill="#ff9818"/><rect x="0.462" y="0" width="0.002" height="1" fill="#ff9818"/><rect x="0.455" y="0" width="0.004" height="1" fill="#ff9818"/><rect x="0.951" y="0" width="0.004" height="1" fill="#ffb020"/><rect x="0.749" y="0" width="0.002" height="1" fill="#70d8b8"/><rect x="0" y="0.069" width="1" height="0.007" fill="#ffb020"/><rect x="0" y="0.95" width="1" height="0.003" fill="#ffb020"/><rect x="0" y="0.239" width="1" height="0.004" fill="#ffb020"/><rect x="0.218" y="0" width="0.005" height="1" fill="#70d8b8"/><rect x="0" y="0.607" width="1" height="0.006" fill="#ffb020"/><rect x="0.164" y="0" width="0.004" height="1" fill="#a0e080"/><rect x="0.312" y="0" width="0.005" height="1" fill="#ff9818"/><rect x="0" y="0.715" width="1" height="0.002" fill="#40c0e8"/><rect x="0" y="0.243" width="1" height="0.005" fill="#70d8b8"/></g></g>
<g id="t9"><rect x="0" y="0" width="1" height="1" fill="#80ff80"/><rect x="0" y="0" width="0.06" height="0.22" fill="#5cd0dc"/><rect x="0" y="0.22" width="0.06" height="0.23" fill="#5cd0dc"/><rect x="0" y="0.45" width="0.06" height="0.15" fill="#5cd0dc"/><rect x="0" y="0.6" width="0.06" height="0.18" fill="#5cd0dc"/><rect x="0" y="0.78" width="0.06" height="0.17" fill="#5cd0dc"/><rect x="0" y="0.95" width="0.06" height="0.05" fill="#5cd0dc"/><rect x="0.06" y="0" width="0.14" height="0.22" fill="#84e4a8"/><rect x="0.06" y="0.22" width="0.14" height="0.23" fill="#84e4a8"/><rect x="0.06" y="0.45" width="0.14" height="0.15" fill="#84e4a8"/><rect x="0.06" y="0.6" width="0.14" height="0.18" fill="#84e4a8"/><rect x="0.06" y="0.78" width="0.14" height="0.17" fill="#84e4a8"/><rect x="0.06" y="0.95" width="0.14" height="0.05" fill="#84e4a8"/><rect x="0.2" y="0" width="0.03" height="0.22" fill="#c0e858"/><rect x="0.2" y="0.22" width="0.03" height="0.23" fill="#c0e858"/><rect x="0.2" y="0.45" width="0.03" height="0.15" fill="#c0e858"/><rect x="0.2" y="0.6" width="0.03" height="0.18" fill="#c0e858"/><rect x="0.2" y="0.78" width="0.03" height="0.17" fill="#c0e858"/><rect x="0.2" y="0.95" width="0.03" height="0.05" fill="#c0e858"/><rect x="0.23" y="0" width="0.07" height="0.22" fill="#84e4a8"/><rect x="0.23" y="0.22" width="0.07" height="0.23" fill="#84e4a8"/><rect x="0.23" y="0.45" width="0.07" height="0.15" fill="#84e4a8"/><rect x="0.23" y="0.6" width="0.07" height="0.18" fill="#84e4a8"/><rect x="0.23" y="0.78" width="0.07" height="0.17" fill="#84e4a8"/><rect x="0.23" y="0.95" width="0.07" height="0.05" fill="#84e4a8"/><rect x="0.3" y="0" width="0.1" height="0.22" fill="#40acf0"/><rect x="0.3" y="0.22" width="0.1" height="0.23" fill="#66d0d8"/><rect x="0.3" y="0.45" width="0.1" height="0.15" fill="#40acf0"/><rect x="0.3" y="0.6" width="0.1" height="0.18" fill="#66d0d8"/><rect x="0.3" y="0.78" width="0.1" height="0.17" fill="#40acf0"/><rect x="0.3" y="0.95" width="0.1" height="0.05" fill="#66d0d8"/><rect x="0.4" y="0" width="0.1" height="0.22" fill="#84e4a8"/><rect x="0.4" y="0.22" width="0.1" height="0.23" fill="#84e4a8"/><rect x="0.4" y="0.45" width="0.1" height="0.15" fill="#84e4a8"/><rect x="0.4" y="0.6" width="0.1" height="0.18" fill="#84e4a8"/><rect x="0.4" y="0.78" width="0.1" height="0.17" fill="#84e4a8"/><rect x="0.4" y="0.95" width="0.1" height="0.05" fill="#84e4a8"/><rect x="0.5" y="0" width="0.05" height="0.22" fill="#5cd0dc"/><rect x="0.5" y="0.22" width="0.05" height="0.23" fill="#5cd0dc"/><rect x="0.5" y="0.45" width="0.05" height="0.15" fill="#5cd0dc"/><rect x="0.5" y="0.6" width="0.05" height="0.18" fill="#5cd0dc"/><rect x="0.5" y="0.78" width="0.05" height="0.17" fill="#5cd0dc"/><rect x="0.5" y="0.95" width="0.05" height="0.05" fill="#5cd0dc"/><rect x="0.55" y="0" width="0.13" height="0.22" fill="#84e4a8"/><rect x="0.55" y="0.22" width="0.13" height="0.23" fill="#84e4a8"/><rect x="0.55" y="0.45" width="0.13" height="0.15" fill="#84e4a8"/><rect x="0.55" y="0.6" width="0.13" height="0.18" fill="#84e4a8"/><rect x="0.55" y="0.78" width="0.13" height="0.17" fill="#84e4a8"/><rect x="0.55" y="0.95" width="0.13" height="0.05" fill="#84e4a8"/><rect x="0.68" y="0" width="0.08" height="0.22" fill="#40acf0"/><rect x="0.68" y="0.22" width="0.08" height="0.23" fill="#66d0d8"/><rect x="0.68" y="0.45" width="0.08" height="0.15" fill="#40acf0"/><rect x="0.68" y="0.6" width="0.08" height="0.18" fill="#66d0d8"/><rect x="0.68" y="0.78" width="0.08" height="0.17" fill="#40acf0"/><rect x="0.68" y="0.95" width="0.08" height="0.05" fill="#66d0d8"/><rect x="0.76" y="0" width="0.1" height="0.22" fill="#84e4a8"/><rect x="0.76" y="0.22" width="0.1" height="0.23" fill="#84e4a8"/><rect x="0.76" y="0.45" width="0.1" height="0.15" fill="#84e4a8"/><rect x="0.76" y="0.6" width="0.1" height="0.18" fill="#84e4a8"/><rect x="0.76" y="0.78" width="0.1" height="0.17" fill="#84e4a8"/><rect x="0.76" y="0.95" width="0.1" height="0.05" fill="#84e4a8"/><rect x="0.86" y="0" width="0.03" height="0.22" fill="#c0e858"/><rect x="0.86" y="0.22" width="0.03" height="0.23" fill="#c0e858"/><rect x="0.86" y="0.45" width="0.03" height="0.15" fill="#c0e858"/><rect x="0.86" y="0.6" width="0.03" height="0.18" fill="#c0e858"/><rect x="0.86" y="0.78" width="0.03" height="0.17" fill="#c0e858"/><rect x="0.86" y="0.95" width="0.03" height="0.05" fill="#c0e858"/><rect x="0.89" y="0" width="0.11" height="0.22" fill="#84e4a8"/><rect x="0.89" y="0.22" width="0.11" height="0.23" fill="#84e4a8"/><rect x="0.89" y="0.45" width="0.11" height="0.15" fill="#84e4a8"/><rect x="0.89" y="0.6" width="0.11" height="0.18" fill="#84e4a8"/><rect x="0.89" y="0.78" width="0.11" height="0.17" fill="#84e4a8"/><rect x="0.89" y="0.95" width="0.11" height="0.05" fill="#84e4a8"/><polygon points="0.31,0.36 0.37,0.36 0.42,0.45 0.36,0.45" fill="#f8c030"/><polygon points="0.36,0.38 0.41,0.4 0.39,0.45" fill="#f06028"/><polygon points="0.37,0.45 0.43,0.45 0.42,0.52" fill="#2a88f0"/><g opacity="0.65"><rect x="0" y="0.039" width="1" height="0.005" fill="#d0ea48"/><rect x="0.37" y="0" width="0.005" height="1" fill="#3aa8f0"/><rect x="0.498" y="0" width="0.002" height="1" fill="#e8e040"/><rect x="0.625" y="0" width="0.006" height="1" fill="#e8e040"/><rect x="0.058" y="0" width="0.002" height="1" fill="#3aa8f0"/><rect x="0.096" y="0" width="0.004" height="1" fill="#e8e040"/><rect x="0.387" y="0" width="0.006" height="1" fill="#60d8d0"/><rect x="0.377" y="0" width="0.002" height="1" fill="#3aa8f0"/><rect x="0" y="0.061" width="1" height="0.003" fill="#60d8d0"/><rect x="0.522" y="0" width="0.002" height="1" fill="#48b8e8"/><rect x="0.65" y="0" width="0.002" height="1" fill="#48b8e8"/><rect x="0.647" y="0" width="0.005" height="1" fill="#60d8d0"/><rect x="0.701" y="0" width="0.003" height="1" fill="#3aa8f0"/><rect x="0.05" y="0" width="0.004" height="1" fill="#60d8d0"/><rect x="0.672" y="0" width="0.002" height="1" fill="#48b8e8"/><rect x="0" y="0.297" width="1" height="0.006" fill="#f0a040"/><rect x="0.715" y="0" width="0.002" height="1" fill="#e8e040"/><rect x="0" y="0.084" width="1" height="0.003" fill="#3aa8f0"/><rect x="0.731" y="0" width="0.004" height="1" fill="#60d8d0"/><rect x="0.535" y="0" width="0.004" height="1" fill="#3aa8f0"/><rect x="0.106" y="0" width="0.005" height="1" fill="#3aa8f0"/><rect x="0.017" y="0" width="0.005" height="1" fill="#60d8d0"/><rect x="0.532" y="0" width="0.003" height="1" fill="#f0a040"/><rect x="0.34" y="0" width="0.006" height="1" fill="#3aa8f0"/><rect x="0.093" y="0" width="0.003" height="1" fill="#f0a040"/><rect x="0.685" y="0" width="0.004" height="1" fill="#60d8d0"/><rect x="0.409" y="0" width="0.005" height="1" fill="#e8e040"/><rect x="0.186" y="0" width="0.003" height="1" fill="#d0ea48"/><rect x="0.965" y="0" width="0.005" height="1" fill="#60d8d0"/><rect x="0" y="0.188" width="1" height="0.003" fill="#e8e040"/><rect x="0.389" y="0" width="0.002" height="1" fill="#48b8e8"/><rect x="0" y="0.027" width="1" height="0.004" fill="#48b8e8"/><rect x="0" y="0.888" width="1" height="0.004" fill="#48b8e8"/><rect x="0.579" y="0" width="0.003" height="1" fill="#d0ea48"/><rect x="0.391" y="0" width="0.003" height="1" fill="#3aa8f0"/><rect x="0.125" y="0" width="0.004" height="1" fill="#d0ea48"/><rect x="0.106" y="0" width="0.003" height="1" fill="#3aa8f0"/><rect x="0.261" y="0" width="0.003" height="1" fill="#48b8e8"/><rect x="0.243" y="0" width="0.003" height="1" fill="#3aa8f0"/><rect x="0.699" y="0" width="0.003" height="1" fill="#f0a040"/><rect x="0.482" y="0" width="0.003" height="1" fill="#60d8d0"/><rect x="0.73" y="0" width="0.004" height="1" fill="#f0a040"/><rect x="0.569" y="0" width="0.004" height="1" fill="#f0a040"/><rect x="0.444" y="0" width="0.006" height="1" fill="#f0a040"/><rect x="0.845" y="0" width="0.004" height="1" fill="#f0a040"/><rect x="0" y="0.815" width="1" height="0.002" fill="#48b8e8"/><rect x="0.639" y="0" width="0.005" height="1" fill="#48b8e8"/><rect x="0.646" y="0" width="0.005" height="1" fill="#f0a040"/><rect x="0.904" y="0" width="0.006" height="1" fill="#d0ea48"/><rect x="0.197" y="0" width="0.005" height="1" fill="#48b8e8"/><rect x="0.17" y="0" width="0.006" height="1" fill="#e8e040"/><rect x="0.342" y="0" width="0.004" height="1" fill="#60d8d0"/><rect x="0.114" y="0" width="0.003" height="1" fill="#60d8d0"/><rect x="0.783" y="0" width="0.005" height="1" fill="#e8e040"/><rect x="0.836" y="0" width="0.003" height="1" fill="#e8e040"/><rect x="0.301" y="0" width="0.004" height="1" fill="#48b8e8"/><rect x="0" y="0.637" width="1" height="0.006" fill="#60d8d0"/><rect x="0.789" y="0" width="0.003" height="1" fill="#d0ea48"/><rect x="0" y="0.642" width="1" height="0.004" fill="#f0a040"/><rect x="0.261" y="0" width="0.004" height="1" fill="#48b8e8"/><rect x="0.255" y="0" width="0.006" height="1" fill="#f0a040"/><rect x="0.134" y="0" width="0.005" height="1" fill="#60d8d0"/><rect x="0.986" y="0" width="0.002" height="1" fill="#48b8e8"/><rect x="0.393" y="0" width="0.004" height="1" fill="#e8e040"/><rect x="0.562" y="0" width="0.004" height="1" fill="#3aa8f0"/><rect x="0.718" y="0" width="0.004" height="1" fill="#3aa8f0"/><rect x="0.667" y="0" width="0.003" height="1" fill="#f0a040"/><rect x="0" y="0.675" width="1" height="0.004" fill="#d0ea48"/><rect x="0" y="0.359" width="1" height="0.002" fill="#60d8d0"/><rect x="0.089" y="0" width="0.004" height="1" fill="#60d8d0"/><rect x="0.629" y="0" width="0.003" height="1" fill="#3aa8f0"/><rect x="0.059" y="0" width="0.005" height="1" fill="#3aa8f0"/><rect x="0.104" y="0" width="0.003" height="1" fill="#d0ea48"/><rect x="0.775" y="0" width="0.002" height="1" fill="#3aa8f0"/><rect x="0.026" y="0" width="0.004" height="1" fill="#48b8e8"/><rect x="0.808" y="0" width="0.005" height="1" fill="#d0ea48"/><rect x="0.398" y="0" width="0.003" height="1" fill="#d0ea48"/><rect x="0" y="0.321" width="1" height="0.005" fill="#e8e040"/><rect x="0.706" y="0" width="0.004" height="1" fill="#60d8d0"/><rect x="0.591" y="0" width="0.003" height="1" fill="#e8e040"/><rect x="0" y="0.911" width="1" height="0.005" fill="#48b8e8"/><rect x="0.155" y="0" width="0.002" height="1" fill="#48b8e8"/><rect x="0.867" y="0" width="0.002" height="1" fill="#3aa8f0"/><rect x="0" y="0.123" width="1" height="0.005" fill="#60d8d0"/><rect x="0.655" y="0" width="0.005" height="1" fill="#e8e040"/><rect x="0.763" y="0" width="0.002" height="1" fill="#60d8d0"/><rect x="0.391" y="0" width="0.003" height="1" fill="#48b8e8"/><rect x="0.656" y="0" width="0.005" height="1" fill="#3aa8f0"/><rect x="0.202" y="0" width="0.005" height="1" fill="#48b8e8"/><rect x="0.43" y="0" width="0.004" height="1" fill="#3aa8f0"/><rect x="0.885" y="0" width="0.003" height="1" fill="#60d8d0"/><rect x="0.543" y="0" width="0.004" height="1" fill="#f0a040"/><rect x="0.613" y="0" width="0.002" height="1" fill="#e8e040"/><rect x="0.845" y="0" width="0.004" height="1" fill="#3aa8f0"/><rect x="0.307" y="0" width="0.002" height="1" fill="#f0a040"/><rect x="0.783" y="0" width="0.005" height="1" fill="#3aa8f0"/><rect x="0.793" y="0" width="0.003" height="1" fill="#3aa8f0"/><rect x="0.36" y="0" width="0.004" height="1" fill="#3aa8f0"/><rect x="0.503" y="0" width="0.003" height="1" fill="#3aa8f0"/><rect x="0.433" y="0" width="0.003" height="1" fill="#f0a040"/><rect x="0.267" y="0" width="0.004" height="1" fill="#e8e040"/><rect x="0.315" y="0" width="0.003" height="1" fill="#48b8e8"/><rect x="0.706" y="0" width="0.005" height="1" fill="#e8e040"/><rect x="0.777" y="0" width="0.005" height="1" fill="#e8e040"/><rect x="0.859" y="0" width="0.002" height="1" fill="#f0a040"/><rect x="0" y="0.169" width="1" height="0.003" fill="#60d8d0"/><rect x="0.651" y="0" width="0.003" height="1" fill="#48b8e8"/><rect x="0" y="0.92" width="1" height="0.004" fill="#60d8d0"/><rect x="0.25" y="0" width="0.003" height="1" fill="#48b8e8"/><rect x="0.009" y="0" width="0.006" height="1" fill="#d0ea48"/><rect x="0.711" y="0" width="0.003" height="1" fill="#3aa8f0"/><rect x="0.746" y="0" width="0.003" height="1" fill="#f0a040"/><rect x="0.681" y="0" width="0.002" height="1" fill="#60d8d0"/><rect x="0" y="0.441" width="1" height="0.004" fill="#3aa8f0"/><rect x="0.092" y="0" width="0.003" height="1" fill="#f0a040"/><rect x="0.135" y="0" width="0.005" height="1" fill="#60d8d0"/><rect x="0.069" y="0" width="0.004" height="1" fill="#f0a040"/><rect x="0.081" y="0" width="0.006" height="1" fill="#48b8e8"/><rect x="0.11" y="0" width="0.003" height="1" fill="#e8e040"/><rect x="0" y="0.272" width="1" height="0.004" fill="#f0a040"/><rect x="0" y="0.594" width="1" height="0.005" fill="#48b8e8"/><rect x="0.999" y="0" width="0.004" height="1" fill="#60d8d0"/><rect x="0" y="0.935" width="1" height="0.004" fill="#d0ea48"/><rect x="0.897" y="0" width="0.006" height="1" fill="#60d8d0"/><rect x="0.547" y="0" width="0.006" height="1" fill="#f0a040"/><rect x="0.381" y="0" width="0.006" height="1" fill="#48b8e8"/><rect x="0.199" y="0" width="0.004" height="1" fill="#48b8e8"/><rect x="0.328" y="0" width="0.005" height="1" fill="#60d8d0"/><rect x="0" y="0.888" width="1" height="0.003" fill="#3aa8f0"/><rect x="0.696" y="0" width="0.002" height="1" fill="#3aa8f0"/><rect x="0.99" y="0" width="0.003" height="1" fill="#3aa8f0"/><rect x="0" y="0.852" width="1" height="0.005" fill="#60d8d0"/><rect x="0.058" y="0" width="0.004" height="1" fill="#3aa8f0"/><rect x="0.132" y="0" width="0.002" height="1" fill="#f0a040"/><rect x="0" y="0.57" width="1" height="0.005" fill="#3aa8f0"/><rect x="0.249" y="0" width="0.005" height="1" fill="#3aa8f0"/><rect x="0.785" y="0" width="0.003" height="1" fill="#f0a040"/><rect x="0" y="0.421" width="1" height="0.004" fill="#f0a040"/><rect x="0.353" y="0" width="0.003" height="1" fill="#3aa8f0"/><rect x="0.312" y="0" width="0.005" height="1" fill="#60d8d0"/><rect x="0.469" y="0" width="0.006" height="1" fill="#f0a040"/><rect x="0.047" y="0" width="0.002" height="1" fill="#60d8d0"/><rect x="0.456" y="0" width="0.006" height="1" fill="#d0ea48"/><rect x="0" y="0.731" width="1" height="0.004" fill="#3aa8f0"/><rect x="0.931" y="0" width="0.003" height="1" fill="#e8e040"/><rect x="0.017" y="0" width="0.003" height="1" fill="#60d8d0"/><rect x="0.416" y="0" width="0.004" height="1" fill="#3aa8f0"/><rect x="0.789" y="0" width="0.005" height="1" fill="#e8e040"/><rect x="0.71" y="0" width="0.003" height="1" fill="#f0a040"/><rect x="0.27" y="0" width="0.005" height="1" fill="#60d8d0"/><rect x="0" y="0.874" width="1" height="0.004" fill="#48b8e8"/><rect x="0" y="0.577" width="1" height="0.005" fill="#48b8e8"/><rect x="0" y="0.385" width="1" height="0.003" fill="#60d8d0"/><rect x="0.359" y="0" width="0.003" height="1" fill="#48b8e8"/><rect x="0" y="0.952" width="1" height="0.004" fill="#3aa8f0"/><rect x="0.16" y="0" width="0.002" height="1" fill="#e8e040"/><rect x="0.568" y="0" width="0.006" height="1" fill="#f0a040"/><rect x="0.032" y="0" width="0.006" height="1" fill="#e8e040"/><rect x="0.959" y="0" width="0.003" height="1" fill="#48b8e8"/><rect x="0.217" y="0" width="0.003" height="1" fill="#48b8e8"/><rect x="0.089" y="0" width="0.002" height="1" fill="#60d8d0"/><rect x="0.935" y="0" width="0.003" height="1" fill="#3aa8f0"/><rect x="0.033" y="0" width="0.002" height="1" fill="#3aa8f0"/><rect x="0.298" y="0" width="0.002" height="1" fill="#f0a040"/><rect x="0.264" y="0" width="0.002" height="1" fill="#60d8d0"/><rect x="0.938" y="0" width="0.006" height="1" fill="#3aa8f0"/><rect x="0" y="0.216" width="1" height="0.005" fill="#48b8e8"/><rect x="0.196" y="0" width="0.003" height="1" fill="#60d8d0"/><rect x="0" y="0.08" width="1" height="0.005" fill="#d0ea48"/><rect x="0" y="0.998" width="1" height="0.003" fill="#e8e040"/></g></g>
<g id="t10"><rect x="0" y="0" width="1" height="1" fill="#80ff80"/><rect x="0" y="0" width="0.02" height="0.025" fill="#90ec80"/><rect x="0" y="0.025" width="0.02" height="0.075" fill="#90ec80"/><rect x="0" y="0.1" width="0.02" height="0.02" fill="#78e8a0"/><rect x="0" y="0.12" width="0.02" height="0.05" fill="#38dce0"/><rect x="0" y="0.17" width="0.02" height="0.015" fill="#78e8a0"/><rect x="0" y="0.185" width="0.02" height="0.165" fill="#90ec80"/><rect x="0" y="0.35" width="0.02" height="0.05" fill="#78e8a0"/><rect x="0" y="0.4" width="0.02" height="0.26" fill="#90ec80"/><rect x="0" y="0.66" width="0.02" height="0.04" fill="#78e8a0"/><rect x="0" y="0.7" width="0.02" height="0.04" fill="#38dce0"/><rect x="0" y="0.74" width="0.02" height="0.08" fill="#78e8a0"/><rect x="0" y="0.82" width="0.02" height="0.165" fill="#90ec80"/><rect x="0" y="0.985" width="0.02" height="0.015" fill="#90ec80"/><rect x="0.02" y="0" width="0.127" height="0.025" fill="#90ec80"/><rect x="0.02" y="0.025" width="0.127" height="0.075" fill="#f8e424"/><rect x="0.02" y="0.1" width="0.127" height="0.02" fill="#78e8a0"/><rect x="0.02" y="0.12" width="0.127" height="0.05" fill="#38dce0"/><rect x="0.02" y="0.17" width="0.127" height="0.015" fill="#78e8a0"/><rect x="0.02" y="0.185" width="0.127" height="0.165" fill="#f8e424"/><rect x="0.02" y="0.35" width="0.127" height="0.05" fill="#78e8a0"/><rect x="0.02" y="0.4" width="0.127" height="0.26" fill="#f8e424"/><rect x="0.02" y="0.66" width="0.127" height="0.04" fill="#78e8a0"/><rect x="0.02" y="0.7" width="0.127" height="0.04" fill="#38dce0"/><rect x="0.02" y="0.74" width="0.127" height="0.08" fill="#78e8a0"/><rect x="0.02" y="0.82" width="0.127" height="0.165" fill="#f8e424"/><rect x="0.02" y="0.985" width="0.127" height="0.015" fill="#90ec80"/><rect x="0.147" y="0" width="0.043" height="0.025" fill="#38dce0"/><rect x="0.147" y="0.025" width="0.043" height="0.075" fill="#38dce0"/><rect x="0.147" y="0.1" width="0.043" height="0.02" fill="#78e8a0"/><rect x="0.147" y="0.12" width="0.043" height="0.05" fill="#38dce0"/><rect x="0.147" y="0.17" width="0.043" height="0.015" fill="#78e8a0"/><rect x="0.147" y="0.185" width="0.043" height="0.165" fill="#38dce0"/><rect x="0.147" y="0.35" width="0.043" height="0.05" fill="#78e8a0"/><rect x="0.147" y="0.4" width="0.043" height="0.26" fill="#38dce0"/><rect x="0.147" y="0.66" width="0.043" height="0.04" fill="#78e8a0"/><rect x="0.147" y="0.7" width="0.043" height="0.04" fill="#38dce0"/><rect x="0.147" y="0.74" width="0.043" height="0.08" fill="#78e8a0"/><rect x="0.147" y="0.82" width="0.043" height="0.165" fill="#38dce0"/><rect x="0.147" y="0.985" width="0.043" height="0.015" fill="#38dce0"/><rect x="0.19" y="0" width="0.015" height="0.025" fill="#78e8a0"/><rect x="0.19" y="0.025" width="0.015" height="0.075" fill="#78e8a0"/><rect x="0.19" y="0.1" width="0.015" height="0.02" fill="#78e8a0"/><rect x="0.19" y="0.12" width="0.015" height="0.05" fill="#78e8a0"/><rect x="0.19" y="0.17" width="0.015" height="0.015" fill="#78e8a0"/><rect x="0.19" y="0.185" width="0.015" height="0.165" fill="#78e8a0"/><rect x="0.19" y="0.35" width="0.015" height="0.05" fill="#78e8a0"/><rect x="0.19" y="0.4" width="0.015" height="0.26" fill="#78e8a0"/><rect x="0.19" y="0.66" width="0.015" height="0.04" fill="#78e8a0"/><rect x="0.19" y="0.7" width="0.015" height="0.04" fill="#78e8a0"/><rect x="0.19" y="0.74" width="0.015" height="0.08" fill="#78e8a0"/><rect x="0.19" y="0.82" width="0.015" height="0.165" fill="#78e8a0"/><rect x="0.19" y="0.985" width="0.015" height="0.015" fill="#78e8a0"/><rect x="0.205" y="0" width="0.165" height="0.025" fill="#90ec80"/><rect x="0.205" y="0.025" width="0.165" height="0.075" fill="#f8e424"/><rect x="0.205" y="0.1" width="0.165" height="0.02" fill="#78e8a0"/><rect x="0.205" y="0.12" width="0.165" height="0.05" fill="#38dce0"/><rect x="0.205" y="0.17" width="0.165" height="0.015" fill="#78e8a0"/><rect x="0.205" y="0.185" width="0.165" height="0.165" fill="#f8e424"/><rect x="0.205" y="0.35" width="0.165" height="0.05" fill="#78e8a0"/><rect x="0.205" y="0.4" width="0.165" height="0.26" fill="#f8e424"/><rect x="0.205" y="0.66" width="0.165" height="0.04" fill="#78e8a0"/><rect x="0.205" y="0.7" width="0.165" height="0.04" fill="#38dce0"/><rect x="0.205" y="0.74" width="0.165" height="0.08" fill="#78e8a0"/><rect x="0.205" y="0.82" width="0.165" height="0.165" fill="#f8e424"/><rect x="0.205" y="0.985" width="0.165" height="0.015" fill="#90ec80"/><rect x="0.37" y="0" width="0.04" height="0.025" fill="#78e8a0"/><rect x="0.37" y="0.025" width="0.04" height="0.075" fill="#78e8a0"/><rect x="0.37" y="0.1" width="0.04" height="0.02" fill="#78e8a0"/><rect x="0.37" y="0.12" width="0.04" height="0.05" fill="#78e8a0"/><rect x="0.37" y="0.17" width="0.04" height="0.015" fill="#78e8a0"/><rect x="0.37" y="0.185" width="0.04" height="0.165" fill="#78e8a0"/><rect x="0.37" y="0.35" width="0.04" height="0.05" fill="#78e8a0"/><rect x="0.37" y="0.4" width="0.04" height="0.26" fill="#78e8a0"/><rect x="0.37" y="0.66" width="0.04" height="0.04" fill="#78e8a0"/><rect x="0.37" y="0.7" width="0.04" height="0.04" fill="#78e8a0"/><rect x="0.37" y="0.74" width="0.04" height="0.08" fill="#78e8a0"/><rect x="0.37" y="0.82" width="0.04" height="0.165" fill="#78e8a0"/><rect x="0.37" y="0.985" width="0.04" height="0.015" fill="#78e8a0"/><rect x="0.41" y="0" width="0.28" height="0.025" fill="#90ec80"/><rect x="0.41" y="0.025" width="0.28" height="0.075" fill="#f8e424"/><rect x="0.41" y="0.1" width="0.28" height="0.02" fill="#78e8a0"/><rect x="0.41" y="0.12" width="0.28" height="0.05" fill="#38dce0"/><rect x="0.41" y="0.17" width="0.28" height="0.015" fill="#78e8a0"/><rect x="0.41" y="0.185" width="0.28" height="0.165" fill="#f8e424"/><rect x="0.41" y="0.35" width="0.28" height="0.05" fill="#78e8a0"/><rect x="0.41" y="0.4" width="0.28" height="0.26" fill="#f8e424"/><rect x="0.41" y="0.66" width="0.28" height="0.04" fill="#78e8a0"/><rect x="0.41" y="0.7" width="0.28" height="0.04" fill="#38dce0"/><rect x="0.41" y="0.74" width="0.28" height="0.08" fill="#78e8a0"/><rect x="0.41" y="0.82" width="0.28" height="0.165" fill="#f8e424"/><rect x="0.41" y="0.985" width="0.28" height="0.015" fill="#90ec80"/><rect x="0.69" y="0" width="0.14" height="0.025" fill="#78e8a0"/><rect x="0.69" y="0.025" width="0.14" height="0.075" fill="#78e8a0"/><rect x="0.69" y="0.1" width="0.14" height="0.02" fill="#78e8a0"/><rect x="0.69" y="0.12" width="0.14" height="0.05" fill="#78e8a0"/><rect x="0.69" y="0.17" width="0.14" height="0.015" fill="#78e8a0"/><rect x="0.69" y="0.185" width="0.14" height="0.165" fill="#78e8a0"/><rect x="0.69" y="0.35" width="0.14" height="0.05" fill="#78e8a0"/><rect x="0.69" y="0.4" width="0.14" height="0.26" fill="#78e8a0"/><rect x="0.69" y="0.66" width="0.14" height="0.04" fill="#78e8a0"/><rect x="0.69" y="0.7" width="0.14" height="0.04" fill="#78e8a0"/><rect x="0.69" y="0.74" width="0.14" height="0.08" fill="#78e8a0"/><rect x="0.69" y="0.82" width="0.14" height="0.165" fill="#78e8a0"/><rect x="0.69" y="0.985" width="0.14" height="0.015" fill="#78e8a0"/><rect x="0.83" y="0" width="0.155" height="0.025" fill="#90ec80"/><rect x="0.83" y="0.025" width="0.155" height="0.075" fill="#f8e424"/><rect x="0.83" y="0.1" width="0.155" height="0.02" fill="#78e8a0"/><rect x="0.83" y="0.12" width="0.155" height="0.05" fill="#38dce0"/><rect x="0.83" y="0.17" width="0.155" height="0.015" fill="#78e8a0"/><rect x="0.83" y="0.185" width="0.155" height="0.165" fill="#f8e424"/><rect x="0.83" y="0.35" width="0.155" height="0.05" fill="#78e8a0"/><rect x="0.83" y="0.4" width="0.155" height="0.26" fill="#f8e424"/><rect x="0.83" y="0.66" width="0.155" height="0.04" fill="#78e8a0"/><rect x="0.83" y="0.7" width="0.155" height="0.04" fill="#38dce0"/><rect x="0.83" y="0.74" width="0.155" height="0.08" fill="#78e8a0"/><rect x="0.83" y="0.82" width="0.155" height="0.165" fill="#f8e424"/><rect x="0.83" y="0.985" width="0.155" height="0.015" fill="#90ec80"/><rect x="0.985" y="0" width="0.015" height="0.025" fill="#90ec80"/><rect x="0.985" y="0.025" width="0.015" height="0.075" fill="#90ec80"/><rect x="0.985" y="0.1" width="0.015" height="0.02" fill="#78e8a0"/><rect x="0.985" y="0.12" width="0.015" height="0.05" fill="#38dce0"/><rect x="0.985" y="0.17" width="0.015" height="0.015" fill="#78e8a0"/><rect x="0.985" y="0.185" width="0.015" height="0.165" fill="#90ec80"/><rect x="0.985" y="0.35" width="0.015" height="0.05" fill="#78e8a0"/><rect x="0.985" y="0.4" width="0.015" height="0.26" fill="#90ec80"/><rect x="0.985" y="0.66" width="0.015" height="0.04" fill="#78e8a0"/><rect x="0.985" y="0.7" width="0.015" height="0.04" fill="#38dce0"/><rect x="0.985" y="0.74" width="0.015" height="0.08" fill="#78e8a0"/><rect x="0.985" y="0.82" width="0.015" height="0.165" fill="#90ec80"/><rect x="0.985" y="0.985" width="0.015" height="0.015" fill="#90ec80"/><g opacity="0.5"><rect x="0.165" y="0" width="0.006" height="1" fill="#e8e838"/><rect x="0" y="0.216" width="1" height="0.007" fill="#fff040"/><rect x="0" y="0.236" width="1" height="0.002" fill="#e8e838"/><rect x="0" y="0.428" width="1" height="0.003" fill="#fff040"/><rect x="0" y="0.694" width="1" height="0.005" fill="#f8c828"/><rect x="0" y="0.034" width="1" height="0.004" fill="#f8c828"/><rect x="0.649" y="0" width="0.008" height="1" fill="#f0d020"/><rect x="0.818" y="0" width="0.003" height="1" fill="#f0d020"/><rect x="0.552" y="0" width="0.004" height="1" fill="#f8c828"/><rect x="0.665" y="0" width="0.005" height="1" fill="#fff040"/><rect x="0.197" y="0" width="0.006" height="1" fill="#f0d020"/><rect x="0.476" y="0" width="0.007" height="1" fill="#fff040"/><rect x="0.146" y="0" width="0.005" height="1" fill="#e8e838"/><rect x="0.451" y="0" width="0.004" height="1" fill="#f8c828"/><rect x="0.027" y="0" width="0.003" height="1" fill="#f8c828"/><rect x="0" y="0.07" width="1" height="0.006" fill="#fff040"/><rect x="0.319" y="0" width="0.008" height="1" fill="#f0d020"/><rect x="0.17" y="0" width="0.004" height="1" fill="#e8e838"/><rect x="0.597" y="0" width="0.004" height="1" fill="#f0d020"/><rect x="0.923" y="0" width="0.003" height="1" fill="#f8c828"/><rect x="0.683" y="0" width="0.006" height="1" fill="#fff040"/><rect x="0" y="0.989" width="1" height="0.008" fill="#f0d020"/><rect x="0" y="0.491" width="1" height="0.004" fill="#fff040"/><rect x="0" y="0.246" width="1" height="0.005" fill="#f8c828"/><rect x="0.774" y="0" width="0.005" height="1" fill="#e8e838"/><rect x="0.258" y="0" width="0.004" height="1" fill="#f8c828"/><rect x="0" y="0.395" width="1" height="0.007" fill="#fff040"/><rect x="0.746" y="0" width="0.005" height="1" fill="#e8e838"/><rect x="0.65" y="0" width="0.007" height="1" fill="#f8c828"/><rect x="0" y="0.212" width="1" height="0.007" fill="#fff040"/><rect x="0.601" y="0" width="0.005" height="1" fill="#f8c828"/><rect x="0.534" y="0" width="0.004" height="1" fill="#f0d020"/><rect x="0" y="0.126" width="1" height="0.006" fill="#e8e838"/><rect x="0.644" y="0" width="0.007" height="1" fill="#f8c828"/><rect x="0.406" y="0" width="0.008" height="1" fill="#fff040"/><rect x="0" y="0.095" width="1" height="0.003" fill="#f0d020"/><rect x="0" y="0.786" width="1" height="0.002" fill="#f0d020"/><rect x="0.127" y="0" width="0.005" height="1" fill="#e8e838"/><rect x="0.888" y="0" width="0.006" height="1" fill="#fff040"/><rect x="0" y="0.378" width="1" height="0.006" fill="#f0d020"/><rect x="0" y="0.505" width="1" height="0.006" fill="#f0d020"/><rect x="0.008" y="0" width="0.005" height="1" fill="#f0d020"/><rect x="0.567" y="0" width="0.007" height="1" fill="#fff040"/><rect x="0.697" y="0" width="0.004" height="1" fill="#f0d020"/><rect x="0" y="0.156" width="1" height="0.006" fill="#e8e838"/><rect x="0" y="0.803" width="1" height="0.005" fill="#f0d020"/><rect x="0" y="0.06" width="1" height="0.006" fill="#e8e838"/><rect x="0.31" y="0" width="0.006" height="1" fill="#fff040"/><rect x="0.815" y="0" width="0.008" height="1" fill="#e8e838"/><rect x="0" y="0.658" width="1" height="0.005" fill="#f0d020"/></g></g>
<g id="t11"><rect x="0" y="0" width="1" height="1" fill="#80ff80"/><rect x="0" y="0" width="0.02" height="0.055" fill="#88ea98"/><rect x="0" y="0.055" width="0.02" height="0.115" fill="#88ea98"/><rect x="0" y="0.17" width="0.02" height="0.015" fill="#74e6b0"/><rect x="0" y="0.185" width="0.02" height="0.025" fill="#88ea98"/><rect x="0" y="0.21" width="0.02" height="0.01" fill="#74e6b0"/><rect x="0" y="0.22" width="0.02" height="0.14" fill="#88ea98"/><rect x="0" y="0.36" width="0.02" height="0.05" fill="#74e6b0"/><rect x="0" y="0.41" width="0.02" height="0.28" fill="#88ea98"/><rect x="0" y="0.69" width="0.02" height="0.08" fill="#74e6b0"/><rect x="0" y="0.77" width="0.02" height="0.215" fill="#88ea98"/><rect x="0" y="0.985" width="0.02" height="0.015" fill="#88ea98"/><rect x="0.02" y="0" width="0.15" height="0.055" fill="#88ea98"/><rect x="0.02" y="0.055" width="0.15" height="0.115" fill="#58d8e0"/><rect x="0.02" y="0.17" width="0.15" height="0.015" fill="#74e6b0"/><rect x="0.02" y="0.185" width="0.15" height="0.025" fill="#c8f040"/><rect x="0.02" y="0.21" width="0.15" height="0.01" fill="#74e6b0"/><rect x="0.02" y="0.22" width="0.15" height="0.14" fill="#50cce8"/><rect x="0.02" y="0.36" width="0.15" height="0.05" fill="#74e6b0"/><rect x="0.02" y="0.41" width="0.15" height="0.28" fill="#50cce8"/><rect x="0.02" y="0.69" width="0.15" height="0.08" fill="#74e6b0"/><rect x="0.02" y="0.77" width="0.15" height="0.215" fill="#58d8e0"/><rect x="0.02" y="0.985" width="0.15" height="0.015" fill="#88ea98"/><rect x="0.17" y="0" width="0.15" height="0.055" fill="#74e6b0"/><rect x="0.17" y="0.055" width="0.15" height="0.115" fill="#74e6b0"/><rect x="0.17" y="0.17" width="0.15" height="0.015" fill="#74e6b0"/><rect x="0.17" y="0.185" width="0.15" height="0.025" fill="#74e6b0"/><rect x="0.17" y="0.21" width="0.15" height="0.01" fill="#74e6b0"/><rect x="0.17" y="0.22" width="0.15" height="0.14" fill="#74e6b0"/><rect x="0.17" y="0.36" width="0.15" height="0.05" fill="#74e6b0"/><rect x="0.17" y="0.41" width="0.15" height="0.28" fill="#74e6b0"/><rect x="0.17" y="0.69" width="0.15" height="0.08" fill="#74e6b0"/><rect x="0.17" y="0.77" width="0.15" height="0.215" fill="#74e6b0"/><rect x="0.17" y="0.985" width="0.15" height="0.015" fill="#74e6b0"/><rect x="0.32" y="0" width="0.265" height="0.055" fill="#88ea98"/><rect x="0.32" y="0.055" width="0.265" height="0.115" fill="#58d8e0"/><rect x="0.32" y="0.17" width="0.265" height="0.015" fill="#74e6b0"/><rect x="0.32" y="0.185" width="0.265" height="0.025" fill="#c8f040"/><rect x="0.32" y="0.21" width="0.265" height="0.01" fill="#74e6b0"/><rect x="0.32" y="0.22" width="0.265" height="0.14" fill="#50cce8"/><rect x="0.32" y="0.36" width="0.265" height="0.05" fill="#74e6b0"/><rect x="0.32" y="0.41" width="0.265" height="0.28" fill="#50cce8"/><rect x="0.32" y="0.69" width="0.265" height="0.08" fill="#74e6b0"/><rect x="0.32" y="0.77" width="0.265" height="0.215" fill="#58d8e0"/><rect x="0.32" y="0.985" width="0.265" height="0.015" fill="#88ea98"/><rect x="0.585" y="0" width="0.065" height="0.055" fill="#74e6b0"/><rect x="0.585" y="0.055" width="0.065" height="0.115" fill="#74e6b0"/><rect x="0.585" y="0.17" width="0.065" height="0.015" fill="#74e6b0"/><rect x="0.585" y="0.185" width="0.065" height="0.025" fill="#74e6b0"/><rect x="0.585" y="0.21" width="0.065" height="0.01" fill="#74e6b0"/><rect x="0.585" y="0.22" width="0.065" height="0.14" fill="#74e6b0"/><rect x="0.585" y="0.36" width="0.065" height="0.05" fill="#74e6b0"/><rect x="0.585" y="0.41" width="0.065" height="0.28" fill="#74e6b0"/><rect x="0.585" y="0.69" width="0.065" height="0.08" fill="#74e6b0"/><rect x="0.585" y="0.77" width="0.065" height="0.215" fill="#74e6b0"/><rect x="0.585" y="0.985" width="0.065" height="0.015" fill="#74e6b0"/><rect x="0.65" y="0" width="0.18" height="0.055" fill="#88ea98"/><rect x="0.65" y="0.055" width="0.18" height="0.115" fill="#58d8e0"/><rect x="0.65" y="0.17" width="0.18" height="0.015" fill="#74e6b0"/><rect x="0.65" y="0.185" width="0.18" height="0.025" fill="#c8f040"/><rect x="0.65" y="0.21" width="0.18" height="0.01" fill="#74e6b0"/><rect x="0.65" y="0.22" width="0.18" height="0.14" fill="#50cce8"/><rect x="0.65" y="0.36" width="0.18" height="0.05" fill="#74e6b0"/><rect x="0.65" y="0.41" width="0.18" height="0.28" fill="#50cce8"/><rect x="0.65" y="0.69" width="0.18" height="0.08" fill="#74e6b0"/><rect x="0.65" y="0.77" width="0.18" height="0.215" fill="#58d8e0"/><rect x="0.65" y="0.985" width="0.18" height="0.015" fill="#88ea98"/><rect x="0.83" y="0" width="0.04" height="0.055" fill="#88ea98"/><rect x="0.83" y="0.055" width="0.04" height="0.115" fill="#b8ea60"/><rect x="0.83" y="0.17" width="0.04" height="0.015" fill="#74e6b0"/><rect x="0.83" y="0.185" width="0.04" height="0.025" fill="#c8f040"/><rect x="0.83" y="0.21" width="0.04" height="0.01" fill="#74e6b0"/><rect x="0.83" y="0.22" width="0.04" height="0.14" fill="#b8ea60"/><rect x="0.83" y="0.36" width="0.04" height="0.05" fill="#74e6b0"/><rect x="0.83" y="0.41" width="0.04" height="0.28" fill="#b8ea60"/><rect x="0.83" y="0.69" width="0.04" height="0.08" fill="#74e6b0"/><rect x="0.83" y="0.77" width="0.04" height="0.215" fill="#b8ea60"/><rect x="0.83" y="0.985" width="0.04" height="0.015" fill="#88ea98"/><rect x="0.87" y="0" width="0.115" height="0.055" fill="#88ea98"/><rect x="0.87" y="0.055" width="0.115" height="0.115" fill="#58d8e0"/><rect x="0.87" y="0.17" width="0.115" height="0.015" fill="#74e6b0"/><rect x="0.87" y="0.185" width="0.115" height="0.025" fill="#c8f040"/><rect x="0.87" y="0.21" width="0.115" height="0.01" fill="#74e6b0"/><rect x="0.87" y="0.22" width="0.115" height="0.14" fill="#50cce8"/><rect x="0.87" y="0.36" width="0.115" height="0.05" fill="#74e6b0"/><rect x="0.87" y="0.41" width="0.115" height="0.28" fill="#50cce8"/><rect x="0.87" y="0.69" width="0.115" height="0.08" fill="#74e6b0"/><rect x="0.87" y="0.77" width="0.115" height="0.215" fill="#58d8e0"/><rect x="0.87" y="0.985" width="0.115" height="0.015" fill="#88ea98"/><rect x="0.985" y="0" width="0.015" height="0.055" fill="#88ea98"/><rect x="0.985" y="0.055" width="0.015" height="0.115" fill="#88ea98"/><rect x="0.985" y="0.17" width="0.015" height="0.015" fill="#74e6b0"/><rect x="0.985" y="0.185" width="0.015" height="0.025" fill="#88ea98"/><rect x="0.985" y="0.21" width="0.015" height="0.01" fill="#74e6b0"/><rect x="0.985" y="0.22" width="0.015" height="0.14" fill="#88ea98"/><rect x="0.985" y="0.36" width="0.015" height="0.05" fill="#74e6b0"/><rect x="0.985" y="0.41" width="0.015" height="0.28" fill="#88ea98"/><rect x="0.985" y="0.69" width="0.015" height="0.08" fill="#74e6b0"/><rect x="0.985" y="0.77" width="0.015" height="0.215" fill="#88ea98"/><rect x="0.985" y="0.985" width="0.015" height="0.015" fill="#88ea98"/><rect x="0.36" y="0.44" width="0.2" height="0.22" fill="#40bff0"/><rect x="0.39" y="0.48" width="0.14" height="0.14" fill="#34b0f2"/><rect x="0.69" y="0.45" width="0.12" height="0.19" fill="#3cbcf0"/><rect x="0.71" y="0.48" width="0.08" height="0.12" fill="#34b0f2"/><rect x="0.37" y="0.25" width="0.18" height="0.08" fill="#40bcf0"/><rect x="0.7" y="0.25" width="0.1" height="0.08" fill="#44c0f0"/><g opacity="0.45"><rect x="0" y="0.958" width="1" height="0.003" fill="#30b0f0"/><rect x="0" y="0.447" width="1" height="0.005" fill="#40c0f0"/><rect x="0.08" y="0" width="0.003" height="1" fill="#30b0f0"/><rect x="0" y="0.601" width="1" height="0.006" fill="#88ecb0"/><rect x="0.048" y="0" width="0.006" height="1" fill="#40c0f0"/><rect x="0" y="0.19" width="1" height="0.005" fill="#30b0f0"/><rect x="0.612" y="0" width="0.003" height="1" fill="#88ecb0"/><rect x="0.781" y="0" width="0.006" height="1" fill="#60e0d0"/><rect x="0.271" y="0" width="0.005" height="1" fill="#88ecb0"/><rect x="0" y="0.532" width="1" height="0.002" fill="#40c0f0"/><rect x="0.517" y="0" width="0.004" height="1" fill="#60e0d0"/><rect x="0" y="0.374" width="1" height="0.004" fill="#40c0f0"/><rect x="0.561" y="0" width="0.004" height="1" fill="#88ecb0"/><rect x="0" y="0.996" width="1" height="0.003" fill="#88ecb0"/><rect x="0" y="0.058" width="1" height="0.005" fill="#60e0d0"/><rect x="0.401" y="0" width="0.002" height="1" fill="#60e0d0"/><rect x="0" y="0.547" width="1" height="0.003" fill="#40c0f0"/><rect x="0" y="0.63" width="1" height="0.004" fill="#30b0f0"/><rect x="0" y="0.796" width="1" height="0.005" fill="#60e0d0"/><rect x="0" y="0.101" width="1" height="0.003" fill="#30b0f0"/><rect x="0.921" y="0" width="0.004" height="1" fill="#30b0f0"/><rect x="0.524" y="0" width="0.004" height="1" fill="#88ecb0"/><rect x="0" y="0.066" width="1" height="0.005" fill="#30b0f0"/><rect x="0.608" y="0" width="0.006" height="1" fill="#30b0f0"/><rect x="0.35" y="0" width="0.002" height="1" fill="#30b0f0"/><rect x="0.692" y="0" width="0.004" height="1" fill="#40c0f0"/><rect x="0" y="0.076" width="1" height="0.003" fill="#30b0f0"/><rect x="0.534" y="0" width="0.004" height="1" fill="#30b0f0"/><rect x="0" y="0.276" width="1" height="0.002" fill="#88ecb0"/><rect x="0.403" y="0" width="0.002" height="1" fill="#60e0d0"/><rect x="0.378" y="0" width="0.005" height="1" fill="#30b0f0"/><rect x="0" y="0.754" width="1" height="0.005" fill="#30b0f0"/><rect x="0" y="0.718" width="1" height="0.004" fill="#60e0d0"/><rect x="0.113" y="0" width="0.006" height="1" fill="#60e0d0"/><rect x="0.962" y="0" width="0.003" height="1" fill="#30b0f0"/><rect x="0" y="0.604" width="1" height="0.002" fill="#88ecb0"/><rect x="0" y="0.277" width="1" height="0.005" fill="#60e0d0"/><rect x="0.986" y="0" width="0.005" height="1" fill="#60e0d0"/><rect x="0" y="0.43" width="1" height="0.003" fill="#40c0f0"/><rect x="0" y="0.818" width="1" height="0.002" fill="#88ecb0"/><rect x="0.107" y="0" width="0.005" height="1" fill="#40c0f0"/><rect x="0.844" y="0" width="0.003" height="1" fill="#40c0f0"/><rect x="0" y="0.159" width="1" height="0.005" fill="#88ecb0"/><rect x="0.817" y="0" width="0.006" height="1" fill="#60e0d0"/><rect x="0.343" y="0" width="0.006" height="1" fill="#30b0f0"/><rect x="0.656" y="0" width="0.003" height="1" fill="#60e0d0"/><rect x="0" y="0.921" width="1" height="0.003" fill="#30b0f0"/><rect x="0" y="0.97" width="1" height="0.003" fill="#40c0f0"/><rect x="0.598" y="0" width="0.004" height="1" fill="#30b0f0"/><rect x="0.507" y="0" width="0.002" height="1" fill="#30b0f0"/><rect x="0" y="0.067" width="1" height="0.003" fill="#40c0f0"/><rect x="0.909" y="0" width="0.004" height="1" fill="#40c0f0"/><rect x="0" y="0.676" width="1" height="0.005" fill="#30b0f0"/><rect x="0" y="0.801" width="1" height="0.005" fill="#40c0f0"/><rect x="0" y="0.003" width="1" height="0.003" fill="#30b0f0"/><rect x="0.298" y="0" width="0.002" height="1" fill="#40c0f0"/><rect x="0.907" y="0" width="0.005" height="1" fill="#60e0d0"/><rect x="0" y="0.284" width="1" height="0.004" fill="#60e0d0"/><rect x="0" y="0.307" width="1" height="0.004" fill="#40c0f0"/><rect x="0.464" y="0" width="0.003" height="1" fill="#60e0d0"/><rect x="0.823" y="0" width="0.005" height="1" fill="#60e0d0"/><rect x="0.257" y="0" width="0.003" height="1" fill="#60e0d0"/><rect x="0.481" y="0" width="0.005" height="1" fill="#88ecb0"/><rect x="0.34" y="0" width="0.004" height="1" fill="#88ecb0"/><rect x="0" y="0.539" width="1" height="0.004" fill="#88ecb0"/><rect x="0" y="0.671" width="1" height="0.003" fill="#40c0f0"/><rect x="0" y="0.936" width="1" height="0.002" fill="#88ecb0"/><rect x="0" y="0.08" width="1" height="0.004" fill="#40c0f0"/><rect x="0" y="0.021" width="1" height="0.006" fill="#40c0f0"/><rect x="0" y="0.586" width="1" height="0.003" fill="#40c0f0"/></g></g>
<g id="t12"><rect x="0" y="0" width="1" height="1" fill="#80ff80"/><rect x="0" y="0" width="0.02" height="0.03" fill="#90ec90"/><rect x="0" y="0.03" width="0.02" height="0.09" fill="#90ec90"/><rect x="0" y="0.12" width="0.02" height="0.08" fill="#80e8a0"/><rect x="0" y="0.2" width="0.02" height="0.15" fill="#90ec90"/><rect x="0" y="0.35" width="0.02" height="0.05" fill="#80e8a0"/><rect x="0" y="0.4" width="0.02" height="0.3" fill="#90ec90"/><rect x="0" y="0.7" width="0.02" height="0.1" fill="#80e8a0"/><rect x="0" y="0.8" width="0.02" height="0.185" fill="#90ec90"/><rect x="0" y="0.985" width="0.02" height="0.015" fill="#90ec90"/><rect x="0.02" y="0" width="0.183" height="0.03" fill="#90ec90"/><rect x="0.02" y="0.03" width="0.183" height="0.09" fill="#f4e428"/><rect x="0.02" y="0.12" width="0.183" height="0.08" fill="#80e8a0"/><rect x="0.02" y="0.2" width="0.183" height="0.15" fill="#f4e428"/><rect x="0.02" y="0.35" width="0.183" height="0.05" fill="#80e8a0"/><rect x="0.02" y="0.4" width="0.183" height="0.3" fill="#f4e428"/><rect x="0.02" y="0.7" width="0.183" height="0.1" fill="#80e8a0"/><rect x="0.02" y="0.8" width="0.183" height="0.185" fill="#f4e428"/><rect x="0.02" y="0.985" width="0.183" height="0.015" fill="#90ec90"/><rect x="0.203" y="0" width="0.117" height="0.03" fill="#90ec90"/><rect x="0.203" y="0.03" width="0.117" height="0.09" fill="#d4f038"/><rect x="0.203" y="0.12" width="0.117" height="0.08" fill="#80e8a0"/><rect x="0.203" y="0.2" width="0.117" height="0.15" fill="#d4f038"/><rect x="0.203" y="0.35" width="0.117" height="0.05" fill="#80e8a0"/><rect x="0.203" y="0.4" width="0.117" height="0.3" fill="#d4f038"/><rect x="0.203" y="0.7" width="0.117" height="0.1" fill="#80e8a0"/><rect x="0.203" y="0.8" width="0.117" height="0.185" fill="#d4f038"/><rect x="0.203" y="0.985" width="0.117" height="0.015" fill="#90ec90"/><rect x="0.32" y="0" width="0.04" height="0.03" fill="#80e8a0"/><rect x="0.32" y="0.03" width="0.04" height="0.09" fill="#80e8a0"/><rect x="0.32" y="0.12" width="0.04" height="0.08" fill="#80e8a0"/><rect x="0.32" y="0.2" width="0.04" height="0.15" fill="#80e8a0"/><rect x="0.32" y="0.35" width="0.04" height="0.05" fill="#80e8a0"/><rect x="0.32" y="0.4" width="0.04" height="0.3" fill="#80e8a0"/><rect x="0.32" y="0.7" width="0.04" height="0.1" fill="#80e8a0"/><rect x="0.32" y="0.8" width="0.04" height="0.185" fill="#80e8a0"/><rect x="0.32" y="0.985" width="0.04" height="0.015" fill="#80e8a0"/><rect x="0.36" y="0" width="0.225" height="0.03" fill="#90ec90"/><rect x="0.36" y="0.03" width="0.225" height="0.09" fill="#d4f038"/><rect x="0.36" y="0.12" width="0.225" height="0.08" fill="#80e8a0"/><rect x="0.36" y="0.2" width="0.225" height="0.15" fill="#d4f038"/><rect x="0.36" y="0.35" width="0.225" height="0.05" fill="#80e8a0"/><rect x="0.36" y="0.4" width="0.225" height="0.3" fill="#d4f038"/><rect x="0.36" y="0.7" width="0.225" height="0.1" fill="#80e8a0"/><rect x="0.36" y="0.8" width="0.225" height="0.185" fill="#d4f038"/><rect x="0.36" y="0.985" width="0.225" height="0.015" fill="#90ec90"/><rect x="0.585" y="0" width="0.065" height="0.03" fill="#80e8a0"/><rect x="0.585" y="0.03" width="0.065" height="0.09" fill="#80e8a0"/><rect x="0.585" y="0.12" width="0.065" height="0.08" fill="#80e8a0"/><rect x="0.585" y="0.2" width="0.065" height="0.15" fill="#80e8a0"/><rect x="0.585" y="0.35" width="0.065" height="0.05" fill="#80e8a0"/><rect x="0.585" y="0.4" width="0.065" height="0.3" fill="#80e8a0"/><rect x="0.585" y="0.7" width="0.065" height="0.1" fill="#80e8a0"/><rect x="0.585" y="0.8" width="0.065" height="0.185" fill="#80e8a0"/><rect x="0.585" y="0.985" width="0.065" height="0.015" fill="#80e8a0"/><rect x="0.65" y="0" width="0.18" height="0.03" fill="#90ec90"/><rect x="0.65" y="0.03" width="0.18" height="0.09" fill="#d4f038"/><rect x="0.65" y="0.12" width="0.18" height="0.08" fill="#80e8a0"/><rect x="0.65" y="0.2" width="0.18" height="0.15" fill="#d4f038"/><rect x="0.65" y="0.35" width="0.18" height="0.05" fill="#80e8a0"/><rect x="0.65" y="0.4" width="0.18" height="0.3" fill="#d4f038"/><rect x="0.65" y="0.7" width="0.18" height="0.1" fill="#80e8a0"/><rect x="0.65" y="0.8" width="0.18" height="0.185" fill="#d4f038"/><rect x="0.65" y="0.985" width="0.18" height="0.015" fill="#90ec90"/><rect x="0.83" y="0" width="0.04" height="0.03" fill="#80e8a0"/><rect x="0.83" y="0.03" width="0.04" height="0.09" fill="#80e8a0"/><rect x="0.83" y="0.12" width="0.04" height="0.08" fill="#80e8a0"/><rect x="0.83" y="0.2" width="0.04" height="0.15" fill="#80e8a0"/><rect x="0.83" y="0.35" width="0.04" height="0.05" fill="#80e8a0"/><rect x="0.83" y="0.4" width="0.04" height="0.3" fill="#80e8a0"/><rect x="0.83" y="0.7" width="0.04" height="0.1" fill="#80e8a0"/><rect x="0.83" y="0.8" width="0.04" height="0.185" fill="#80e8a0"/><rect x="0.83" y="0.985" width="0.04" height="0.015" fill="#80e8a0"/><rect x="0.87" y="0" width="0.115" height="0.03" fill="#90ec90"/><rect x="0.87" y="0.03" width="0.115" height="0.09" fill="#d4f038"/><rect x="0.87" y="0.12" width="0.115" height="0.08" fill="#80e8a0"/><rect x="0.87" y="0.2" width="0.115" height="0.15" fill="#d4f038"/><rect x="0.87" y="0.35" width="0.115" height="0.05" fill="#80e8a0"/><rect x="0.87" y="0.4" width="0.115" height="0.3" fill="#d4f038"/><rect x="0.87" y="0.7" width="0.115" height="0.1" fill="#80e8a0"/><rect x="0.87" y="0.8" width="0.115" height="0.185" fill="#d4f038"/><rect x="0.87" y="0.985" width="0.115" height="0.015" fill="#90ec90"/><rect x="0.985" y="0" width="0.015" height="0.03" fill="#90ec90"/><rect x="0.985" y="0.03" width="0.015" height="0.09" fill="#90ec90"/><rect x="0.985" y="0.12" width="0.015" height="0.08" fill="#80e8a0"/><rect x="0.985" y="0.2" width="0.015" height="0.15" fill="#90ec90"/><rect x="0.985" y="0.35" width="0.015" height="0.05" fill="#80e8a0"/><rect x="0.985" y="0.4" width="0.015" height="0.3" fill="#90ec90"/><rect x="0.985" y="0.7" width="0.015" height="0.1" fill="#80e8a0"/><rect x="0.985" y="0.8" width="0.015" height="0.185" fill="#90ec90"/><rect x="0.985" y="0.985" width="0.015" height="0.015" fill="#90ec90"/><g opacity="0.5"><rect x="0.925" y="0" width="0.008" height="1" fill="#f0e030"/><rect x="0.307" y="0" width="0.004" height="1" fill="#60e0c0"/><rect x="0" y="0.192" width="1" height="0.005" fill="#c0f050"/><rect x="0.902" y="0" width="0.003" height="1" fill="#f8d020"/><rect x="0" y="0.513" width="1" height="0.006" fill="#60e0c0"/><rect x="0" y="0.206" width="1" height="0.002" fill="#60e0c0"/><rect x="0" y="0.621" width="1" height="0.008" fill="#60e0c0"/><rect x="0" y="0.86" width="1" height="0.008" fill="#60e0c0"/><rect x="0.314" y="0" width="0.003" height="1" fill="#f8d020"/><rect x="0.483" y="0" width="0.007" height="1" fill="#c0f050"/><rect x="0" y="0.179" width="1" height="0.004" fill="#c0f050"/><rect x="0" y="0.082" width="1" height="0.005" fill="#60e0c0"/><rect x="0.281" y="0" width="0.006" height="1" fill="#f0e030"/><rect x="0" y="0.288" width="1" height="0.004" fill="#f8d020"/><rect x="0" y="0.258" width="1" height="0.003" fill="#f0e030"/><rect x="0" y="0.829" width="1" height="0.003" fill="#c0f050"/><rect x="0.593" y="0" width="0.008" height="1" fill="#c0f050"/><rect x="0.034" y="0" width="0.006" height="1" fill="#f8d020"/><rect x="0" y="0.81" width="1" height="0.006" fill="#c0f050"/><rect x="0" y="0.949" width="1" height="0.005" fill="#f8d020"/><rect x="0.346" y="0" width="0.008" height="1" fill="#f8d020"/><rect x="0" y="0.037" width="1" height="0.004" fill="#c0f050"/><rect x="0.459" y="0" width="0.004" height="1" fill="#f0e030"/><rect x="0.529" y="0" width="0.003" height="1" fill="#c0f050"/><rect x="0" y="0.422" width="1" height="0.007" fill="#f8d020"/><rect x="0" y="0.657" width="1" height="0.004" fill="#c0f050"/><rect x="0" y="0.688" width="1" height="0.004" fill="#c0f050"/><rect x="0" y="0.425" width="1" height="0.004" fill="#f0e030"/><rect x="0" y="0.108" width="1" height="0.006" fill="#60e0c0"/><rect x="0" y="0.729" width="1" height="0.005" fill="#c0f050"/><rect x="0.079" y="0" width="0.005" height="1" fill="#f0e030"/><rect x="0" y="0.561" width="1" height="0.005" fill="#f8d020"/><rect x="0" y="0.272" width="1" height="0.004" fill="#f0e030"/><rect x="0" y="0.142" width="1" height="0.007" fill="#c0f050"/><rect x="0" y="0.03" width="1" height="0.006" fill="#f8d020"/><rect x="0" y="0.42" width="1" height="0.004" fill="#c0f050"/><rect x="0.298" y="0" width="0.007" height="1" fill="#f0e030"/><rect x="0" y="0.062" width="1" height="0.007" fill="#f8d020"/><rect x="0" y="0.673" width="1" height="0.006" fill="#60e0c0"/><rect x="0" y="0.407" width="1" height="0.007" fill="#60e0c0"/><rect x="0" y="0.341" width="1" height="0.004" fill="#f8d020"/><rect x="0" y="0.668" width="1" height="0.007" fill="#60e0c0"/><rect x="0" y="0.691" width="1" height="0.004" fill="#60e0c0"/><rect x="0" y="0.146" width="1" height="0.004" fill="#f8d020"/><rect x="0" y="0.278" width="1" height="0.007" fill="#f0e030"/><rect x="0" y="0.259" width="1" height="0.007" fill="#c0f050"/><rect x="0" y="0.564" width="1" height="0.005" fill="#f8d020"/><rect x="0" y="0.276" width="1" height="0.004" fill="#c0f050"/><rect x="0" y="0.78" width="1" height="0.003" fill="#f8d020"/><rect x="0.361" y="0" width="0.008" height="1" fill="#c0f050"/></g></g>
<g id="t13"><rect x="0" y="0" width="1" height="1" fill="#80ff80"/><rect x="0" y="0" width="0.02" height="0.03" fill="#78e8b0"/><rect x="0" y="0.03" width="0.02" height="0.14" fill="#78e8b0"/><rect x="0" y="0.17" width="0.02" height="0.14" fill="#70e0c0"/><rect x="0" y="0.31" width="0.02" height="0.28" fill="#78e8b0"/><rect x="0" y="0.59" width="0.02" height="0.04" fill="#70e0c0"/><rect x="0" y="0.63" width="0.02" height="0.17" fill="#78e8b0"/><rect x="0" y="0.8" width="0.02" height="0.07" fill="#f88c28"/><rect x="0" y="0.87" width="0.02" height="0.09" fill="#78e8b0"/><rect x="0" y="0.96" width="0.02" height="0.04" fill="#78e8b0"/><rect x="0.02" y="0" width="0.15" height="0.03" fill="#78e8b0"/><rect x="0.02" y="0.03" width="0.15" height="0.14" fill="#34b4f0"/><rect x="0.02" y="0.17" width="0.15" height="0.14" fill="#70e0c0"/><rect x="0.02" y="0.31" width="0.15" height="0.28" fill="#34b4f0"/><rect x="0.02" y="0.59" width="0.15" height="0.04" fill="#70e0c0"/><rect x="0.02" y="0.63" width="0.15" height="0.17" fill="#34b4f0"/><rect x="0.02" y="0.8" width="0.15" height="0.07" fill="#f88c28"/><rect x="0.02" y="0.87" width="0.15" height="0.09" fill="#34b4f0"/><rect x="0.02" y="0.96" width="0.15" height="0.04" fill="#78e8b0"/><rect x="0.17" y="0" width="0.13" height="0.03" fill="#70e0c0"/><rect x="0.17" y="0.03" width="0.13" height="0.14" fill="#70e0c0"/><rect x="0.17" y="0.17" width="0.13" height="0.14" fill="#70e0c0"/><rect x="0.17" y="0.31" width="0.13" height="0.28" fill="#70e0c0"/><rect x="0.17" y="0.59" width="0.13" height="0.04" fill="#70e0c0"/><rect x="0.17" y="0.63" width="0.13" height="0.17" fill="#70e0c0"/><rect x="0.17" y="0.8" width="0.13" height="0.07" fill="#f88c28"/><rect x="0.17" y="0.87" width="0.13" height="0.09" fill="#70e0c0"/><rect x="0.17" y="0.96" width="0.13" height="0.04" fill="#70e0c0"/><rect x="0.3" y="0" width="0.29" height="0.03" fill="#78e8b0"/><rect x="0.3" y="0.03" width="0.29" height="0.14" fill="#34b4f0"/><rect x="0.3" y="0.17" width="0.29" height="0.14" fill="#70e0c0"/><rect x="0.3" y="0.31" width="0.29" height="0.28" fill="#34b4f0"/><rect x="0.3" y="0.59" width="0.29" height="0.04" fill="#70e0c0"/><rect x="0.3" y="0.63" width="0.29" height="0.17" fill="#34b4f0"/><rect x="0.3" y="0.8" width="0.29" height="0.07" fill="#f88c28"/><rect x="0.3" y="0.87" width="0.29" height="0.09" fill="#34b4f0"/><rect x="0.3" y="0.96" width="0.29" height="0.04" fill="#78e8b0"/><rect x="0.59" y="0" width="0.06" height="0.03" fill="#70e0c0"/><rect x="0.59" y="0.03" width="0.06" height="0.14" fill="#70e0c0"/><rect x="0.59" y="0.17" width="0.06" height="0.14" fill="#70e0c0"/><rect x="0.59" y="0.31" width="0.06" height="0.28" fill="#70e0c0"/><rect x="0.59" y="0.59" width="0.06" height="0.04" fill="#70e0c0"/><rect x="0.59" y="0.63" width="0.06" height="0.17" fill="#70e0c0"/><rect x="0.59" y="0.8" width="0.06" height="0.07" fill="#f88c28"/><rect x="0.59" y="0.87" width="0.06" height="0.09" fill="#70e0c0"/><rect x="0.59" y="0.96" width="0.06" height="0.04" fill="#70e0c0"/><rect x="0.65" y="0" width="0.15" height="0.03" fill="#78e8b0"/><rect x="0.65" y="0.03" width="0.15" height="0.14" fill="#34b4f0"/><rect x="0.65" y="0.17" width="0.15" height="0.14" fill="#70e0c0"/><rect x="0.65" y="0.31" width="0.15" height="0.28" fill="#34b4f0"/><rect x="0.65" y="0.59" width="0.15" height="0.04" fill="#70e0c0"/><rect x="0.65" y="0.63" width="0.15" height="0.17" fill="#34b4f0"/><rect x="0.65" y="0.8" width="0.15" height="0.07" fill="#f88c28"/><rect x="0.65" y="0.87" width="0.15" height="0.09" fill="#34b4f0"/><rect x="0.65" y="0.96" width="0.15" height="0.04" fill="#78e8b0"/><rect x="0.8" y="0" width="0.07" height="0.03" fill="#70e0c0"/><rect x="0.8" y="0.03" width="0.07" height="0.14" fill="#70e0c0"/><rect x="0.8" y="0.17" width="0.07" height="0.14" fill="#70e0c0"/><rect x="0.8" y="0.31" width="0.07" height="0.28" fill="#70e0c0"/><rect x="0.8" y="0.59" width="0.07" height="0.04" fill="#70e0c0"/><rect x="0.8" y="0.63" width="0.07" height="0.17" fill="#70e0c0"/><rect x="0.8" y="0.8" width="0.07" height="0.07" fill="#f88c28"/><rect x="0.8" y="0.87" width="0.07" height="0.09" fill="#70e0c0"/><rect x="0.8" y="0.96" width="0.07" height="0.04" fill="#70e0c0"/><rect x="0.87" y="0" width="0.11" height="0.03" fill="#78e8b0"/><rect x="0.87" y="0.03" width="0.11" height="0.14" fill="#34b4f0"/><rect x="0.87" y="0.17" width="0.11" height="0.14" fill="#70e0c0"/><rect x="0.87" y="0.31" width="0.11" height="0.28" fill="#34b4f0"/><rect x="0.87" y="0.59" width="0.11" height="0.04" fill="#70e0c0"/><rect x="0.87" y="0.63" width="0.11" height="0.17" fill="#34b4f0"/><rect x="0.87" y="0.8" width="0.11" height="0.07" fill="#f88c28"/><rect x="0.87" y="0.87" width="0.11" height="0.09" fill="#34b4f0"/><rect x="0.87" y="0.96" width="0.11" height="0.04" fill="#78e8b0"/><rect x="0.98" y="0" width="0.02" height="0.03" fill="#78e8b0"/><rect x="0.98" y="0.03" width="0.02" height="0.14" fill="#78e8b0"/><rect x="0.98" y="0.17" width="0.02" height="0.14" fill="#70e0c0"/><rect x="0.98" y="0.31" width="0.02" height="0.28" fill="#78e8b0"/><rect x="0.98" y="0.59" width="0.02" height="0.04" fill="#70e0c0"/><rect x="0.98" y="0.63" width="0.02" height="0.17" fill="#78e8b0"/><rect x="0.98" y="0.8" width="0.02" height="0.07" fill="#f88c28"/><rect x="0.98" y="0.87" width="0.02" height="0.09" fill="#78e8b0"/><rect x="0.98" y="0.96" width="0.02" height="0.04" fill="#78e8b0"/><g opacity="0.5"><rect x="0.712" y="0" width="0.007" height="1" fill="#40c8f0"/><rect x="0" y="0.167" width="1" height="0.003" fill="#2090f0"/><rect x="0" y="0.999" width="1" height="0.007" fill="#60d8e0"/><rect x="0.766" y="0" width="0.005" height="1" fill="#2090f0"/><rect x="0" y="0.169" width="1" height="0.005" fill="#1e88ff"/><rect x="0" y="0.5" width="1" height="0.008" fill="#60d8e0"/><rect x="0.158" y="0" width="0.004" height="1" fill="#60d8e0"/><rect x="0" y="0.649" width="1" height="0.006" fill="#2090f0"/><rect x="0.316" y="0" width="0.007" height="1" fill="#2090f0"/><rect x="0" y="0.246" width="1" height="0.006" fill="#40c8f0"/><rect x="0" y="0.992" width="1" height="0.007" fill="#60d8e0"/><rect x="0" y="0.274" width="1" height="0.003" fill="#1e88ff"/><rect x="0" y="0.653" width="1" height="0.004" fill="#40c8f0"/><rect x="0" y="0.974" width="1" height="0.003" fill="#60d8e0"/><rect x="0.765" y="0" width="0.005" height="1" fill="#40c8f0"/><rect x="0.137" y="0" width="0.004" height="1" fill="#40c8f0"/><rect x="0.795" y="0" width="0.004" height="1" fill="#1e88ff"/><rect x="0.326" y="0" width="0.007" height="1" fill="#1e88ff"/><rect x="0.886" y="0" width="0.007" height="1" fill="#2090f0"/><rect x="0" y="0.451" width="1" height="0.004" fill="#1e88ff"/><rect x="0" y="0.09" width="1" height="0.002" fill="#60d8e0"/><rect x="0" y="0.811" width="1" height="0.005" fill="#1e88ff"/><rect x="0.838" y="0" width="0.004" height="1" fill="#60d8e0"/><rect x="0" y="0.336" width="1" height="0.007" fill="#2090f0"/><rect x="0.925" y="0" width="0.002" height="1" fill="#1e88ff"/><rect x="0.393" y="0" width="0.004" height="1" fill="#1e88ff"/><rect x="0.76" y="0" width="0.004" height="1" fill="#2090f0"/><rect x="0.019" y="0" width="0.005" height="1" fill="#2090f0"/><rect x="0" y="0.232" width="1" height="0.003" fill="#40c8f0"/><rect x="0" y="0.134" width="1" height="0.007" fill="#2090f0"/><rect x="0.052" y="0" width="0.008" height="1" fill="#1e88ff"/><rect x="0" y="0.907" width="1" height="0.007" fill="#2090f0"/><rect x="0" y="0.111" width="1" height="0.007" fill="#2090f0"/><rect x="0.523" y="0" width="0.005" height="1" fill="#60d8e0"/><rect x="0.654" y="0" width="0.005" height="1" fill="#1e88ff"/><rect x="0.99" y="0" width="0.007" height="1" fill="#40c8f0"/><rect x="0.191" y="0" width="0.003" height="1" fill="#40c8f0"/><rect x="0" y="0.341" width="1" height="0.008" fill="#40c8f0"/><rect x="0" y="0.135" width="1" height="0.003" fill="#40c8f0"/><rect x="0" y="0.462" width="1" height="0.003" fill="#1e88ff"/><rect x="0" y="0.564" width="1" height="0.005" fill="#60d8e0"/><rect x="0" y="0.455" width="1" height="0.007" fill="#2090f0"/><rect x="0.169" y="0" width="0.003" height="1" fill="#40c8f0"/><rect x="0" y="0.276" width="1" height="0.005" fill="#40c8f0"/><rect x="0" y="0.264" width="1" height="0.004" fill="#1e88ff"/><rect x="0" y="0.94" width="1" height="0.003" fill="#60d8e0"/><rect x="0.364" y="0" width="0.003" height="1" fill="#1e88ff"/><rect x="0.085" y="0" width="0.005" height="1" fill="#1e88ff"/><rect x="0.449" y="0" width="0.005" height="1" fill="#40c8f0"/><rect x="0" y="0.163" width="1" height="0.002" fill="#60d8e0"/></g></g>
<g id="t14"><rect x="0" y="0" width="1" height="1" fill="#80ff80"/><rect x="0" y="0" width="0.02" height="0.03" fill="#80e8a8"/><rect x="0" y="0.03" width="0.02" height="0.14" fill="#80e8a8"/><rect x="0" y="0.17" width="0.02" height="0.03" fill="#68e0c8"/><rect x="0" y="0.2" width="0.02" height="0.39" fill="#80e8a8"/><rect x="0" y="0.59" width="0.02" height="0.04" fill="#68e0c8"/><rect x="0" y="0.63" width="0.02" height="0.17" fill="#80e8a8"/><rect x="0" y="0.8" width="0.02" height="0.07" fill="#2a78f0"/><rect x="0" y="0.87" width="0.02" height="0.09" fill="#80e8a8"/><rect x="0" y="0.96" width="0.02" height="0.04" fill="#80e8a8"/><rect x="0.02" y="0" width="0.15" height="0.03" fill="#80e8a8"/><rect x="0.02" y="0.03" width="0.15" height="0.14" fill="#f87828"/><rect x="0.02" y="0.17" width="0.15" height="0.03" fill="#68e0c8"/><rect x="0.02" y="0.2" width="0.15" height="0.39" fill="#f87828"/><rect x="0.02" y="0.59" width="0.15" height="0.04" fill="#68e0c8"/><rect x="0.02" y="0.63" width="0.15" height="0.17" fill="#f87828"/><rect x="0.02" y="0.8" width="0.15" height="0.07" fill="#2a78f0"/><rect x="0.02" y="0.87" width="0.15" height="0.09" fill="#f87828"/><rect x="0.02" y="0.96" width="0.15" height="0.04" fill="#80e8a8"/><rect x="0.17" y="0" width="0.13" height="0.03" fill="#80e8a8"/><rect x="0.17" y="0.03" width="0.13" height="0.14" fill="#40c0f0"/><rect x="0.17" y="0.17" width="0.13" height="0.03" fill="#68e0c8"/><rect x="0.17" y="0.2" width="0.13" height="0.39" fill="#40c0f0"/><rect x="0.17" y="0.59" width="0.13" height="0.04" fill="#68e0c8"/><rect x="0.17" y="0.63" width="0.13" height="0.17" fill="#40c0f0"/><rect x="0.17" y="0.8" width="0.13" height="0.07" fill="#2a78f0"/><rect x="0.17" y="0.87" width="0.13" height="0.09" fill="#40c0f0"/><rect x="0.17" y="0.96" width="0.13" height="0.04" fill="#80e8a8"/><rect x="0.3" y="0" width="0.29" height="0.03" fill="#80e8a8"/><rect x="0.3" y="0.03" width="0.29" height="0.14" fill="#f87828"/><rect x="0.3" y="0.17" width="0.29" height="0.03" fill="#68e0c8"/><rect x="0.3" y="0.2" width="0.29" height="0.39" fill="#f87828"/><rect x="0.3" y="0.59" width="0.29" height="0.04" fill="#68e0c8"/><rect x="0.3" y="0.63" width="0.29" height="0.17" fill="#f87828"/><rect x="0.3" y="0.8" width="0.29" height="0.07" fill="#2a78f0"/><rect x="0.3" y="0.87" width="0.29" height="0.09" fill="#f87828"/><rect x="0.3" y="0.96" width="0.29" height="0.04" fill="#80e8a8"/><rect x="0.59" y="0" width="0.06" height="0.03" fill="#68e0c8"/><rect x="0.59" y="0.03" width="0.06" height="0.14" fill="#68e0c8"/><rect x="0.59" y="0.17" width="0.06" height="0.03" fill="#68e0c8"/><rect x="0.59" y="0.2" width="0.06" height="0.39" fill="#68e0c8"/><rect x="0.59" y="0.59" width="0.06" height="0.04" fill="#68e0c8"/><rect x="0.59" y="0.63" width="0.06" height="0.17" fill="#68e0c8"/><rect x="0.59" y="0.8" width="0.06" height="0.07" fill="#2a78f0"/><rect x="0.59" y="0.87" width="0.06" height="0.09" fill="#68e0c8"/><rect x="0.59" y="0.96" width="0.06" height="0.04" fill="#68e0c8"/><rect x="0.65" y="0" width="0.15" height="0.03" fill="#80e8a8"/><rect x="0.65" y="0.03" width="0.15" height="0.14" fill="#f87828"/><rect x="0.65" y="0.17" width="0.15" height="0.03" fill="#68e0c8"/><rect x="0.65" y="0.2" width="0.15" height="0.39" fill="#f87828"/><rect x="0.65" y="0.59" width="0.15" height="0.04" fill="#68e0c8"/><rect x="0.65" y="0.63" width="0.15" height="0.17" fill="#f87828"/><rect x="0.65" y="0.8" width="0.15" height="0.07" fill="#2a78f0"/><rect x="0.65" y="0.87" width="0.15" height="0.09" fill="#f87828"/><rect x="0.65" y="0.96" width="0.15" height="0.04" fill="#80e8a8"/><rect x="0.8" y="0" width="0.07" height="0.03" fill="#68e0c8"/><rect x="0.8" y="0.03" width="0.07" height="0.14" fill="#68e0c8"/><rect x="0.8" y="0.17" width="0.07" height="0.03" fill="#68e0c8"/><rect x="0.8" y="0.2" width="0.07" height="0.39" fill="#68e0c8"/><rect x="0.8" y="0.59" width="0.07" height="0.04" fill="#68e0c8"/><rect x="0.8" y="0.63" width="0.07" height="0.17" fill="#68e0c8"/><rect x="0.8" y="0.8" width="0.07" height="0.07" fill="#2a78f0"/><rect x="0.8" y="0.87" width="0.07" height="0.09" fill="#68e0c8"/><rect x="0.8" y="0.96" width="0.07" height="0.04" fill="#68e0c8"/><rect x="0.87" y="0" width="0.11" height="0.03" fill="#80e8a8"/><rect x="0.87" y="0.03" width="0.11" height="0.14" fill="#f87828"/><rect x="0.87" y="0.17" width="0.11" height="0.03" fill="#68e0c8"/><rect x="0.87" y="0.2" width="0.11" height="0.39" fill="#f87828"/><rect x="0.87" y="0.59" width="0.11" height="0.04" fill="#68e0c8"/><rect x="0.87" y="0.63" width="0.11" height="0.17" fill="#f87828"/><rect x="0.87" y="0.8" width="0.11" height="0.07" fill="#2a78f0"/><rect x="0.87" y="0.87" width="0.11" height="0.09" fill="#f87828"/><rect x="0.87" y="0.96" width="0.11" height="0.04" fill="#80e8a8"/><rect x="0.98" y="0" width="0.02" height="0.03" fill="#80e8a8"/><rect x="0.98" y="0.03" width="0.02" height="0.14" fill="#80e8a8"/><rect x="0.98" y="0.17" width="0.02" height="0.03" fill="#68e0c8"/><rect x="0.98" y="0.2" width="0.02" height="0.39" fill="#80e8a8"/><rect x="0.98" y="0.59" width="0.02" height="0.04" fill="#68e0c8"/><rect x="0.98" y="0.63" width="0.02" height="0.17" fill="#80e8a8"/><rect x="0.98" y="0.8" width="0.02" height="0.07" fill="#2a78f0"/><rect x="0.98" y="0.87" width="0.02" height="0.09" fill="#80e8a8"/><rect x="0.98" y="0.96" width="0.02" height="0.04" fill="#80e8a8"/><g opacity="0.5"><rect x="0.377" y="0" width="0.008" height="1" fill="#f04818"/><rect x="0" y="0.872" width="1" height="0.006" fill="#f04818"/><rect x="0.757" y="0" width="0.002" height="1" fill="#ffb040"/><rect x="0" y="0.859" width="1" height="0.005" fill="#ff9030"/><rect x="0" y="0.794" width="1" height="0.006" fill="#ff9030"/><rect x="0" y="0.514" width="1" height="0.005" fill="#f04818"/><rect x="0" y="0.356" width="1" height="0.004" fill="#ff9030"/><rect x="0" y="0.072" width="1" height="0.004" fill="#f04818"/><rect x="0" y="0.127" width="1" height="0.007" fill="#f04818"/><rect x="0" y="0.077" width="1" height="0.005" fill="#ffb040"/><rect x="0.447" y="0" width="0.007" height="1" fill="#ffb040"/><rect x="0.82" y="0" width="0.005" height="1" fill="#ff9030"/><rect x="0.408" y="0" width="0.007" height="1" fill="#ffb040"/><rect x="0" y="0.938" width="1" height="0.005" fill="#f86020"/><rect x="0" y="0.839" width="1" height="0.003" fill="#ff9030"/><rect x="0" y="0.882" width="1" height="0.007" fill="#ff9030"/><rect x="0.884" y="0" width="0.007" height="1" fill="#ff9030"/><rect x="0.571" y="0" width="0.006" height="1" fill="#ffb040"/><rect x="0" y="0.363" width="1" height="0.005" fill="#ffb040"/><rect x="0" y="0.448" width="1" height="0.004" fill="#f04818"/><rect x="0" y="0.264" width="1" height="0.004" fill="#f04818"/><rect x="0" y="0.566" width="1" height="0.006" fill="#ff9030"/><rect x="0" y="0.176" width="1" height="0.006" fill="#f04818"/><rect x="0" y="0.26" width="1" height="0.007" fill="#f04818"/><rect x="0" y="0.164" width="1" height="0.007" fill="#f86020"/><rect x="0.174" y="0" width="0.004" height="1" fill="#f04818"/><rect x="0" y="0.966" width="1" height="0.006" fill="#ff9030"/><rect x="0" y="0.127" width="1" height="0.008" fill="#f04818"/><rect x="0.217" y="0" width="0.005" height="1" fill="#ff9030"/><rect x="0" y="0.615" width="1" height="0.002" fill="#ff9030"/><rect x="0" y="0.23" width="1" height="0.002" fill="#f04818"/><rect x="0" y="0.293" width="1" height="0.005" fill="#f86020"/><rect x="0" y="0.365" width="1" height="0.004" fill="#f04818"/><rect x="0.276" y="0" width="0.005" height="1" fill="#f86020"/><rect x="0.287" y="0" width="0.006" height="1" fill="#ff9030"/><rect x="0.477" y="0" width="0.002" height="1" fill="#ffb040"/><rect x="0.818" y="0" width="0.002" height="1" fill="#ffb040"/><rect x="0.913" y="0" width="0.007" height="1" fill="#f86020"/><rect x="0" y="0.237" width="1" height="0.006" fill="#ff9030"/><rect x="0" y="0.394" width="1" height="0.002" fill="#ff9030"/><rect x="0.71" y="0" width="0.007" height="1" fill="#f86020"/><rect x="0.542" y="0" width="0.007" height="1" fill="#f04818"/><rect x="0" y="0.375" width="1" height="0.008" fill="#f04818"/><rect x="0.815" y="0" width="0.002" height="1" fill="#ffb040"/><rect x="0.97" y="0" width="0.002" height="1" fill="#f04818"/><rect x="0" y="0.066" width="1" height="0.008" fill="#ffb040"/><rect x="0.892" y="0" width="0.006" height="1" fill="#ff9030"/><rect x="0.367" y="0" width="0.003" height="1" fill="#f04818"/><rect x="0.936" y="0" width="0.005" height="1" fill="#ff9030"/><rect x="0.503" y="0" width="0.003" height="1" fill="#ffb040"/><rect x="0.648" y="0" width="0.007" height="1" fill="#ffb040"/><rect x="0.788" y="0" width="0.003" height="1" fill="#ff9030"/><rect x="0.884" y="0" width="0.006" height="1" fill="#ff9030"/><rect x="0.871" y="0" width="0.005" height="1" fill="#ff9030"/><rect x="0.346" y="0" width="0.008" height="1" fill="#ff9030"/><rect x="0" y="0.039" width="1" height="0.005" fill="#ff9030"/><rect x="0.34" y="0" width="0.005" height="1" fill="#ffb040"/><rect x="0" y="0.865" width="1" height="0.003" fill="#ffb040"/><rect x="0" y="0.513" width="1" height="0.006" fill="#f04818"/><rect x="0" y="0.261" width="1" height="0.007" fill="#ff9030"/></g></g>
<clipPath id="c15"><rect x="0" y="0.907" width="0.717" height="0.093"/></clipPath>
<clipPath id="c16"><rect x="0.203" y="0.907" width="0.797" height="0.093"/></clipPath>
<clipPath id="c17"><rect x="0.203" y="0.283" width="0.797" height="0.717"/></clipPath>
<clipPath id="c18"><rect x="0.717" y="0.907" width="0.204" height="0.093"/></clipPath>
<clipPath id="c19"><rect x="0" y="0.72" width="0.717" height="0.187"/></clipPath>
<clipPath id="c20"><rect x="0.203" y="0.907" width="0.797" height="0.093"/></clipPath>
<clipPath id="c21"><rect x="0" y="0.907" width="0.203" height="0.093"/></clipPath>
<clipPath id="c22"><rect x="0.203" y="0.72" width="0.797" height="0.187"/></clipPath>
<clipPath id="c23"><rect x="0" y="0.283" width="0.203" height="0.717"/></clipPath>
<clipPath id="c24"><rect x="0.203" y="0.079" width="0.797" height="0.204"/></clipPath>
<clipPath id="c25"><rect x="0.203" y="0.283" width="0.797" height="0.717"/></clipPath>
<clipPath id="c26"><rect x="0.921" y="0.907" width="0.079" height="0.093"/></clipPath>
<clipPath id="c27"><rect x="0.717" y="0.72" width="0.204" height="0.187"/></clipPath>
<clipPath id="c28"><rect x="0" y="0" width="0.717" height="0.72"/></clipPath>
<clipPath id="c29"><rect x="0" y="0.907" width="0.203" height="0.093"/></clipPath>
<clipPath id="c30"><rect x="0.203" y="0.72" width="0.797" height="0.187"/></clipPath>
<clipPath id="c31"><rect x="0" y="0.72" width="0.203" height="0.187"/></clipPath>
<clipPath id="c32"><rect x="0.203" y="0" width="0.797" height="0.72"/></clipPath>
<clipPath id="c33"><rect x="0" y="0.079" width="0.203" height="0.204"/></clipPath>
<clipPath id="c34"><rect x="0.203" y="0" width="0.797" height="0.079"/></clipPath>
<clipPath id="c35"><rect x="0" y="0.283" width="0.203" height="0.717"/></clipPath>
<clipPath id="c36"><rect x="0.203" y="0.079" width="0.797" height="0.204"/></clipPath>
<clipPath id="c37"><rect x="0.921" y="0.72" width="0.079" height="0.187"/></clipPath>
<clipPath id="c38"><rect x="0.717" y="0" width="0.204" height="0.72"/></clipPath>
<clipPath id="c39"><rect x="0" y="0.72" width="0.203" height="0.187"/></clipPath>
<clipPath id="c40"><rect x="0.203" y="0" width="0.797" height="0.72"/></clipPath>
<clipPath id="c41"><rect x="0" y="0" width="0.203" height="0.72"/></clipPath>
<clipPath id="c42"><rect x="0" y="0" width="0.203" height="0.079"/></clipPath>
<clipPath id="c43"><rect x="0" y="0.079" width="0.203" height="0.204"/></clipPath>
<clipPath id="c44"><rect x="0.203" y="0" width="0.797" height="0.079"/></clipPath>
<clipPath id="c45"><rect x="0.921" y="0" width="0.079" height="0.72"/></clipPath>
<clipPath id="c46"><rect x="0" y="0" width="0.203" height="0.72"/></clipPath>
<clipPath id="c47"><rect x="0" y="0" width="0.203" height="0.079"/></clipPath>
<g id="t48"><rect x="0" y="0" width="1" height="1" fill="#80ff80"/><rect x="0" y="0" width="0.03" height="0.14" fill="#e8c040"/><rect x="0" y="0.14" width="0.03" height="0.24" fill="#7ae0b0"/><rect x="0" y="0.38" width="0.03" height="0.32" fill="#7ae0b0"/><rect x="0" y="0.7" width="0.03" height="0.11" fill="#7ae0b0"/><rect x="0" y="0.81" width="0.03" height="0.19" fill="#7ae0b0"/><rect x="0.03" y="0" width="0.02" height="0.14" fill="#78e0b0"/><rect x="0.03" y="0.14" width="0.02" height="0.24" fill="#7ae0b0"/><rect x="0.03" y="0.38" width="0.02" height="0.32" fill="#7ae0b0"/><rect x="0.03" y="0.7" width="0.02" height="0.11" fill="#7ae0b0"/><rect x="0.03" y="0.81" width="0.02" height="0.19" fill="#7ae0b0"/><rect x="0.05" y="0" width="0.08" height="0.14" fill="#e8c040"/><rect x="0.05" y="0.14" width="0.08" height="0.24" fill="#7ae0b0"/><rect x="0.05" y="0.38" width="0.08" height="0.32" fill="#7ae0b0"/><rect x="0.05" y="0.7" width="0.08" height="0.11" fill="#7ae0b0"/><rect x="0.05" y="0.81" width="0.08" height="0.19" fill="#7ae0b0"/><rect x="0.13" y="0" width="0.06" height="0.14" fill="#78e0b0"/><rect x="0.13" y="0.14" width="0.06" height="0.24" fill="#7ae0b0"/><rect x="0.13" y="0.38" width="0.06" height="0.32" fill="#7ae0b0"/><rect x="0.13" y="0.7" width="0.06" height="0.11" fill="#7ae0b0"/><rect x="0.13" y="0.81" width="0.06" height="0.19" fill="#7ae0b0"/><rect x="0.19" y="0" width="0.07" height="0.14" fill="#f0a030"/><rect x="0.19" y="0.14" width="0.07" height="0.24" fill="#7ae0b0"/><rect x="0.19" y="0.38" width="0.07" height="0.32" fill="#f0c038"/><rect x="0.19" y="0.7" width="0.07" height="0.11" fill="#7ae0b0"/><rect x="0.19" y="0.81" width="0.07" height="0.19" fill="#7ae0b0"/><rect x="0.26" y="0" width="0.02" height="0.14" fill="#90e088"/><rect x="0.26" y="0.14" width="0.02" height="0.24" fill="#7ae0b0"/><rect x="0.26" y="0.38" width="0.02" height="0.32" fill="#3a9ef0"/><rect x="0.26" y="0.7" width="0.02" height="0.11" fill="#7ae0b0"/><rect x="0.26" y="0.81" width="0.02" height="0.19" fill="#7ae0b0"/><rect x="0.28" y="0" width="0.05" height="0.14" fill="#f0a030"/><rect x="0.28" y="0.14" width="0.05" height="0.24" fill="#7ae0b0"/><rect x="0.28" y="0.38" width="0.05" height="0.32" fill="#f0c038"/><rect x="0.28" y="0.7" width="0.05" height="0.11" fill="#7ae0b0"/><rect x="0.28" y="0.81" width="0.05" height="0.19" fill="#7ae0b0"/><rect x="0.33" y="0" width="0.03" height="0.14" fill="#78e0b0"/><rect x="0.33" y="0.14" width="0.03" height="0.24" fill="#7ae0b0"/><rect x="0.33" y="0.38" width="0.03" height="0.32" fill="#7ae0b0"/><rect x="0.33" y="0.7" width="0.03" height="0.11" fill="#7ae0b0"/><rect x="0.33" y="0.81" width="0.03" height="0.19" fill="#7ae0b0"/><rect x="0.36" y="0" width="0.05" height="0.14" fill="#90e088"/><rect x="0.36" y="0.14" width="0.05" height="0.24" fill="#7ae0b0"/><rect x="0.36" y="0.38" width="0.05" height="0.32" fill="#d8d848"/><rect x="0.36" y="0.7" width="0.05" height="0.11" fill="#7ae0b0"/><rect x="0.36" y="0.81" width="0.05" height="0.19" fill="#7ae0b0"/><rect x="0.41" y="0" width="0.04" height="0.14" fill="#f0a030"/><rect x="0.41" y="0.14" width="0.04" height="0.24" fill="#7ae0b0"/><rect x="0.41" y="0.38" width="0.04" height="0.32" fill="#f0c038"/><rect x="0.41" y="0.7" width="0.04" height="0.11" fill="#7ae0b0"/><rect x="0.41" y="0.81" width="0.04" height="0.19" fill="#7ae0b0"/><rect x="0.45" y="0" width="0.02" height="0.14" fill="#90e088"/><rect x="0.45" y="0.14" width="0.02" height="0.24" fill="#7ae0b0"/><rect x="0.45" y="0.38" width="0.02" height="0.32" fill="#3a9ef0"/><rect x="0.45" y="0.7" width="0.02" height="0.11" fill="#7ae0b0"/><rect x="0.45" y="0.81" width="0.02" height="0.19" fill="#7ae0b0"/><rect x="0.47" y="0" width="0.2" height="0.14" fill="#f0a030"/><rect x="0.47" y="0.14" width="0.2" height="0.24" fill="#7ae0b0"/><rect x="0.47" y="0.38" width="0.2" height="0.32" fill="#f0c038"/><rect x="0.47" y="0.7" width="0.2" height="0.11" fill="#7ae0b0"/><rect x="0.47" y="0.81" width="0.2" height="0.19" fill="#7ae0b0"/><rect x="0.67" y="0" width="0.153" height="0.14" fill="#78e0b0"/><rect x="0.67" y="0.14" width="0.153" height="0.24" fill="#7ae0b0"/><rect x="0.67" y="0.38" width="0.153" height="0.32" fill="#7ae0b0"/><rect x="0.67" y="0.7" width="0.153" height="0.11" fill="#7ae0b0"/><rect x="0.67" y="0.81" width="0.153" height="0.19" fill="#7ae0b0"/><rect x="0.823" y="0" width="0.177" height="0.14" fill="#90e088"/><rect x="0.823" y="0.14" width="0.177" height="0.24" fill="#8cd8a8"/><rect x="0.823" y="0.38" width="0.177" height="0.32" fill="#78c8c8"/><rect x="0.823" y="0.7" width="0.177" height="0.11" fill="#78c8c8"/><rect x="0.823" y="0.81" width="0.177" height="0.19" fill="#8cd8a8"/><g opacity="0.5"><rect x="0.244" y="0" width="0.004" height="1" fill="#f0e040"/><rect x="0" y="0.994" width="1" height="0.005" fill="#88e4a0"/><rect x="0" y="0.397" width="1" height="0.006" fill="#c8e850"/><rect x="0.524" y="0" width="0.003" height="1" fill="#c8e850"/><rect x="0" y="0.997" width="1" height="0.004" fill="#3aa0f0"/><rect x="0" y="0.028" width="1" height="0.003" fill="#60d8c8"/><rect x="0.943" y="0" width="0.003" height="1" fill="#88e4a0"/><rect x="0.786" y="0" width="0.006" height="1" fill="#c8e850"/><rect x="0.76" y="0" width="0.004" height="1" fill="#f0e040"/><rect x="0" y="0.907" width="1" height="0.006" fill="#c8e850"/><rect x="0" y="0.592" width="1" height="0.003" fill="#60d8c8"/><rect x="0" y="0.683" width="1" height="0.006" fill="#f0e040"/><rect x="0" y="0.37" width="1" height="0.004" fill="#f09030"/><rect x="0.589" y="0" width="0.006" height="1" fill="#60d8c8"/><rect x="0" y="0.763" width="1" height="0.005" fill="#60d8c8"/><rect x="0" y="0.786" width="1" height="0.006" fill="#f09030"/><rect x="0" y="0.539" width="1" height="0.004" fill="#88e4a0"/><rect x="0.831" y="0" width="0.005" height="1" fill="#3aa0f0"/><rect x="0.529" y="0" width="0.006" height="1" fill="#f09030"/><rect x="0.895" y="0" width="0.003" height="1" fill="#c8e850"/><rect x="0.484" y="0" width="0.005" height="1" fill="#f09030"/><rect x="0.465" y="0" width="0.004" height="1" fill="#f09030"/><rect x="0.203" y="0" width="0.003" height="1" fill="#c8e850"/><rect x="0" y="0.481" width="1" height="0.003" fill="#c8e850"/><rect x="0.885" y="0" width="0.003" height="1" fill="#88e4a0"/><rect x="0.959" y="0" width="0.002" height="1" fill="#c8e850"/><rect x="0" y="0.421" width="1" height="0.002" fill="#f09030"/><rect x="0" y="0.959" width="1" height="0.003" fill="#c8e850"/><rect x="0.438" y="0" width="0.004" height="1" fill="#60d8c8"/><rect x="0" y="0.775" width="1" height="0.003" fill="#c8e850"/><rect x="0.777" y="0" width="0.004" height="1" fill="#c8e850"/><rect x="0" y="0.32" width="1" height="0.004" fill="#c8e850"/><rect x="0" y="0.33" width="1" height="0.004" fill="#f09030"/><rect x="0" y="0.324" width="1" height="0.004" fill="#3aa0f0"/><rect x="0.392" y="0" width="0.006" height="1" fill="#60d8c8"/><rect x="0" y="0.391" width="1" height="0.004" fill="#3aa0f0"/><rect x="0.033" y="0" width="0.003" height="1" fill="#3aa0f0"/><rect x="0" y="0.452" width="1" height="0.004" fill="#c8e850"/><rect x="0.783" y="0" width="0.003" height="1" fill="#88e4a0"/><rect x="0.485" y="0" width="0.004" height="1" fill="#3aa0f0"/><rect x="0" y="0.77" width="1" height="0.003" fill="#3aa0f0"/><rect x="0" y="0.939" width="1" height="0.005" fill="#3aa0f0"/><rect x="0" y="0.615" width="1" height="0.005" fill="#f0e040"/><rect x="0.77" y="0" width="0.004" height="1" fill="#f0e040"/><rect x="0.523" y="0" width="0.004" height="1" fill="#f0e040"/><rect x="0.054" y="0" width="0.004" height="1" fill="#60d8c8"/><rect x="0.984" y="0" width="0.002" height="1" fill="#f09030"/><rect x="0" y="0.194" width="1" height="0.003" fill="#3aa0f0"/><rect x="0.513" y="0" width="0.006" height="1" fill="#60d8c8"/><rect x="0.795" y="0" width="0.006" height="1" fill="#60d8c8"/><rect x="0.67" y="0" width="0.004" height="1" fill="#f09030"/><rect x="0.804" y="0" width="0.003" height="1" fill="#f0e040"/><rect x="0" y="0.896" width="1" height="0.004" fill="#60d8c8"/><rect x="0.471" y="0" width="0.002" height="1" fill="#f0e040"/><rect x="0.831" y="0" width="0.003" height="1" fill="#3aa0f0"/><rect x="0.867" y="0" width="0.005" height="1" fill="#3aa0f0"/><rect x="0.186" y="0" width="0.004" height="1" fill="#88e4a0"/><rect x="0" y="0.761" width="1" height="0.005" fill="#f09030"/><rect x="0.288" y="0" width="0.005" height="1" fill="#60d8c8"/><rect x="0.589" y="0" width="0.004" height="1" fill="#3aa0f0"/><rect x="0.487" y="0" width="0.002" height="1" fill="#f09030"/><rect x="0" y="0.638" width="1" height="0.006" fill="#c8e850"/><rect x="0" y="0.481" width="1" height="0.002" fill="#f09030"/><rect x="0" y="0.416" width="1" height="0.002" fill="#88e4a0"/><rect x="0" y="0.681" width="1" height="0.002" fill="#60d8c8"/><rect x="0" y="0.942" width="1" height="0.003" fill="#60d8c8"/><rect x="0.752" y="0" width="0.005" height="1" fill="#c8e850"/><rect x="0.807" y="0" width="0.006" height="1" fill="#3aa0f0"/><rect x="0.4" y="0" width="0.003" height="1" fill="#60d8c8"/><rect x="0" y="0.768" width="1" height="0.005" fill="#c8e850"/><rect x="0" y="0.648" width="1" height="0.002" fill="#3aa0f0"/><rect x="0" y="0.932" width="1" height="0.003" fill="#3aa0f0"/><rect x="0" y="0.939" width="1" height="0.005" fill="#f0e040"/><rect x="0" y="0.784" width="1" height="0.005" fill="#c8e850"/><rect x="0" y="0.213" width="1" height="0.002" fill="#c8e850"/><rect x="0.353" y="0" width="0.005" height="1" fill="#3aa0f0"/><rect x="0" y="0.051" width="1" height="0.003" fill="#88e4a0"/><rect x="0.876" y="0" width="0.002" height="1" fill="#60d8c8"/><rect x="0.463" y="0" width="0.004" height="1" fill="#c8e850"/><rect x="0.25" y="0" width="0.005" height="1" fill="#60d8c8"/><rect x="0.231" y="0" width="0.005" height="1" fill="#f0e040"/><rect x="0" y="0.713" width="1" height="0.006" fill="#3aa0f0"/><rect x="0.268" y="0" width="0.005" height="1" fill="#88e4a0"/><rect x="0.554" y="0" width="0.006" height="1" fill="#88e4a0"/><rect x="0" y="0.718" width="1" height="0.005" fill="#60d8c8"/><rect x="0" y="0.652" width="1" height="0.005" fill="#88e4a0"/><rect x="0.173" y="0" width="0.003" height="1" fill="#60d8c8"/><rect x="0" y="0.373" width="1" height="0.005" fill="#3aa0f0"/><rect x="0.274" y="0" width="0.004" height="1" fill="#c8e850"/><rect x="0.875" y="0" width="0.005" height="1" fill="#60d8c8"/><rect x="0" y="0.065" width="1" height="0.002" fill="#60d8c8"/><rect x="0.674" y="0" width="0.003" height="1" fill="#88e4a0"/><rect x="0" y="0.274" width="1" height="0.003" fill="#60d8c8"/><rect x="0.879" y="0" width="0.006" height="1" fill="#60d8c8"/><rect x="0" y="0.849" width="1" height="0.003" fill="#c8e850"/><rect x="0.371" y="0" width="0.004" height="1" fill="#f09030"/><rect x="0" y="0.96" width="1" height="0.006" fill="#3aa0f0"/><rect x="0.327" y="0" width="0.003" height="1" fill="#c8e850"/><rect x="0" y="0.178" width="1" height="0.003" fill="#88e4a0"/><rect x="0" y="0.854" width="1" height="0.002" fill="#f0e040"/><rect x="0.474" y="0" width="0.004" height="1" fill="#88e4a0"/><rect x="0.316" y="0" width="0.003" height="1" fill="#f0e040"/><rect x="0" y="0.815" width="1" height="0.004" fill="#88e4a0"/><rect x="0" y="0.972" width="1" height="0.004" fill="#88e4a0"/><rect x="0" y="0.548" width="1" height="0.003" fill="#60d8c8"/><rect x="0" y="0.932" width="1" height="0.005" fill="#88e4a0"/><rect x="0.534" y="0" width="0.004" height="1" fill="#88e4a0"/><rect x="0" y="0.466" width="1" height="0.006" fill="#f0e040"/><rect x="0" y="0.006" width="1" height="0.004" fill="#88e4a0"/><rect x="0.982" y="0" width="0.002" height="1" fill="#60d8c8"/><rect x="0" y="0.035" width="1" height="0.004" fill="#f0e040"/><rect x="0" y="0.953" width="1" height="0.003" fill="#3aa0f0"/><rect x="0" y="0.738" width="1" height="0.003" fill="#3aa0f0"/><rect x="0" y="0.355" width="1" height="0.003" fill="#3aa0f0"/><rect x="0" y="0.983" width="1" height="0.004" fill="#60d8c8"/><rect x="0.587" y="0" width="0.003" height="1" fill="#f09030"/><rect x="0.744" y="0" width="0.004" height="1" fill="#f09030"/><rect x="0.405" y="0" width="0.005" height="1" fill="#c8e850"/><rect x="0" y="0.566" width="1" height="0.003" fill="#88e4a0"/><rect x="0.791" y="0" width="0.005" height="1" fill="#60d8c8"/><rect x="0" y="0.293" width="1" height="0.006" fill="#c8e850"/><rect x="0.563" y="0" width="0.002" height="1" fill="#3aa0f0"/><rect x="0.057" y="0" width="0.006" height="1" fill="#60d8c8"/><rect x="0.016" y="0" width="0.002" height="1" fill="#f09030"/><rect x="0" y="0.288" width="1" height="0.003" fill="#60d8c8"/><rect x="0.436" y="0" width="0.005" height="1" fill="#c8e850"/><rect x="0.401" y="0" width="0.003" height="1" fill="#3aa0f0"/><rect x="0" y="0.821" width="1" height="0.003" fill="#60d8c8"/><rect x="0" y="0.62" width="1" height="0.006" fill="#f09030"/><rect x="0.209" y="0" width="0.003" height="1" fill="#f0e040"/><rect x="0.811" y="0" width="0.003" height="1" fill="#60d8c8"/><rect x="0.844" y="0" width="0.004" height="1" fill="#88e4a0"/><rect x="0.824" y="0" width="0.003" height="1" fill="#3aa0f0"/><rect x="0.867" y="0" width="0.003" height="1" fill="#88e4a0"/><rect x="0.377" y="0" width="0.004" height="1" fill="#f09030"/><rect x="0" y="0.59" width="1" height="0.004" fill="#60d8c8"/><rect x="0" y="0.072" width="1" height="0.003" fill="#f09030"/><rect x="0" y="0.413" width="1" height="0.003" fill="#3aa0f0"/><rect x="0.282" y="0" width="0.005" height="1" fill="#60d8c8"/><rect x="0.76" y="0" width="0.003" height="1" fill="#88e4a0"/></g></g>
<g id="t49"><rect x="0" y="0" width="1" height="1" fill="#80ff80"/><rect x="0" y="0" width="0.13" height="0.135" fill="#3aa8f0"/><rect x="0" y="0.135" width="0.13" height="0.165" fill="#3aa8f0"/><rect x="0" y="0.3" width="0.13" height="0.25" fill="#58c0e0"/><rect x="0" y="0.55" width="0.13" height="0.2" fill="#3aa8f0"/><rect x="0" y="0.75" width="0.13" height="0.25" fill="#50c0e8"/><rect x="0.13" y="0" width="0.14" height="0.135" fill="#3aa8f0"/><rect x="0.13" y="0.135" width="0.14" height="0.165" fill="#3aa8f0"/><rect x="0.13" y="0.3" width="0.14" height="0.25" fill="#98dca0"/><rect x="0.13" y="0.55" width="0.14" height="0.2" fill="#3aa8f0"/><rect x="0.13" y="0.75" width="0.14" height="0.25" fill="#50c0e8"/><rect x="0.27" y="0" width="0.31" height="0.135" fill="#3aa6f0"/><rect x="0.27" y="0.135" width="0.31" height="0.165" fill="#48b4ee"/><rect x="0.27" y="0.3" width="0.31" height="0.25" fill="#48b4ee"/><rect x="0.27" y="0.55" width="0.31" height="0.2" fill="#48b4ee"/><rect x="0.27" y="0.75" width="0.31" height="0.25" fill="#48b4ee"/><rect x="0.58" y="0" width="0.06" height="0.135" fill="#70d8c0"/><rect x="0.58" y="0.135" width="0.06" height="0.165" fill="#7ce0b0"/><rect x="0.58" y="0.3" width="0.06" height="0.25" fill="#7ce0b0"/><rect x="0.58" y="0.55" width="0.06" height="0.2" fill="#7ce0b0"/><rect x="0.58" y="0.75" width="0.06" height="0.25" fill="#7ce0b0"/><rect x="0.64" y="0" width="0.18" height="0.135" fill="#3aa6f0"/><rect x="0.64" y="0.135" width="0.18" height="0.165" fill="#48b4ee"/><rect x="0.64" y="0.3" width="0.18" height="0.25" fill="#48b4ee"/><rect x="0.64" y="0.55" width="0.18" height="0.2" fill="#48b4ee"/><rect x="0.64" y="0.75" width="0.18" height="0.25" fill="#48b4ee"/><rect x="0.82" y="0" width="0.06" height="0.135" fill="#70d8c0"/><rect x="0.82" y="0.135" width="0.06" height="0.165" fill="#7ce0b0"/><rect x="0.82" y="0.3" width="0.06" height="0.25" fill="#7ce0b0"/><rect x="0.82" y="0.55" width="0.06" height="0.2" fill="#7ce0b0"/><rect x="0.82" y="0.75" width="0.06" height="0.25" fill="#7ce0b0"/><rect x="0.88" y="0" width="0.12" height="0.135" fill="#3aa6f0"/><rect x="0.88" y="0.135" width="0.12" height="0.165" fill="#48b4ee"/><rect x="0.88" y="0.3" width="0.12" height="0.25" fill="#48b4ee"/><rect x="0.88" y="0.55" width="0.12" height="0.2" fill="#48b4ee"/><rect x="0.88" y="0.75" width="0.12" height="0.25" fill="#48b4ee"/><g opacity="0.5"><rect x="0" y="0.978" width="1" height="0.002" fill="#48b8f0"/><rect x="0.371" y="0" width="0.002" height="1" fill="#60d0e0"/><rect x="0" y="0.995" width="1" height="0.004" fill="#60d0e0"/><rect x="0.44" y="0" width="0.002" height="1" fill="#48b8f0"/><rect x="0.237" y="0" width="0.003" height="1" fill="#48b8f0"/><rect x="0.274" y="0" width="0.005" height="1" fill="#48b8f0"/><rect x="0" y="0.034" width="1" height="0.004" fill="#48b8f0"/><rect x="0" y="0.576" width="1" height="0.005" fill="#a0e080"/><rect x="0.142" y="0" width="0.004" height="1" fill="#60d0e0"/><rect x="0" y="0.322" width="1" height="0.005" fill="#48b8f0"/><rect x="0.657" y="0" width="0.004" height="1" fill="#2a98f0"/><rect x="0.204" y="0" width="0.005" height="1" fill="#48b8f0"/><rect x="0.172" y="0" width="0.002" height="1" fill="#60d0e0"/><rect x="0" y="0.631" width="1" height="0.003" fill="#60d0e0"/><rect x="0.429" y="0" width="0.004" height="1" fill="#60d0e0"/><rect x="0" y="0.96" width="1" height="0.005" fill="#48b8f0"/><rect x="0" y="0.154" width="1" height="0.006" fill="#48b8f0"/><rect x="0.671" y="0" width="0.002" height="1" fill="#60d0e0"/><rect x="0.622" y="0" width="0.002" height="1" fill="#a0e080"/><rect x="0.043" y="0" width="0.004" height="1" fill="#60d0e0"/><rect x="0.735" y="0" width="0.004" height="1" fill="#2a98f0"/><rect x="0" y="0.458" width="1" height="0.002" fill="#60d0e0"/><rect x="0.154" y="0" width="0.005" height="1" fill="#60d0e0"/><rect x="0.208" y="0" width="0.003" height="1" fill="#60d0e0"/><rect x="0" y="0.776" width="1" height="0.003" fill="#2a98f0"/><rect x="0.848" y="0" width="0.003" height="1" fill="#a0e080"/><rect x="0" y="0.875" width="1" height="0.003" fill="#60d0e0"/><rect x="0.258" y="0" width="0.004" height="1" fill="#2a98f0"/><rect x="0.185" y="0" width="0.006" height="1" fill="#a0e080"/><rect x="0" y="0.431" width="1" height="0.005" fill="#48b8f0"/><rect x="0.581" y="0" width="0.005" height="1" fill="#48b8f0"/><rect x="0.656" y="0" width="0.004" height="1" fill="#2a98f0"/><rect x="0" y="0.21" width="1" height="0.006" fill="#a0e080"/><rect x="0" y="0.609" width="1" height="0.002" fill="#a0e080"/><rect x="0.171" y="0" width="0.002" height="1" fill="#60d0e0"/><rect x="0" y="0.649" width="1" height="0.004" fill="#60d0e0"/><rect x="0" y="0.83" width="1" height="0.002" fill="#60d0e0"/><rect x="0" y="0.778" width="1" height="0.003" fill="#a0e080"/><rect x="0.999" y="0" width="0.006" height="1" fill="#48b8f0"/><rect x="0.025" y="0" width="0.004" height="1" fill="#60d0e0"/><rect x="0.243" y="0" width="0.005" height="1" fill="#60d0e0"/><rect x="0" y="0.123" width="1" height="0.005" fill="#48b8f0"/><rect x="0.16" y="0" width="0.004" height="1" fill="#60d0e0"/><rect x="0" y="0.412" width="1" height="0.004" fill="#48b8f0"/><rect x="0" y="0.082" width="1" height="0.004" fill="#48b8f0"/><rect x="0" y="0.69" width="1" height="0.004" fill="#60d0e0"/><rect x="0" y="0.11" width="1" height="0.006" fill="#a0e080"/><rect x="0" y="0.697" width="1" height="0.005" fill="#2a98f0"/><rect x="0.54" y="0" width="0.006" height="1" fill="#48b8f0"/><rect x="0" y="0.636" width="1" height="0.004" fill="#a0e080"/><rect x="0" y="0.003" width="1" height="0.004" fill="#48b8f0"/><rect x="0" y="0.173" width="1" height="0.003" fill="#48b8f0"/><rect x="0.272" y="0" width="0.002" height="1" fill="#a0e080"/><rect x="0.027" y="0" width="0.003" height="1" fill="#a0e080"/><rect x="0.442" y="0" width="0.004" height="1" fill="#2a98f0"/><rect x="0.931" y="0" width="0.002" height="1" fill="#2a98f0"/><rect x="0.253" y="0" width="0.003" height="1" fill="#2a98f0"/><rect x="0" y="0.964" width="1" height="0.006" fill="#60d0e0"/><rect x="0" y="0.975" width="1" height="0.004" fill="#2a98f0"/><rect x="0" y="0.614" width="1" height="0.003" fill="#48b8f0"/><rect x="0" y="0.395" width="1" height="0.005" fill="#60d0e0"/><rect x="0.383" y="0" width="0.004" height="1" fill="#2a98f0"/><rect x="0" y="0.646" width="1" height="0.004" fill="#48b8f0"/><rect x="0" y="0.955" width="1" height="0.004" fill="#a0e080"/><rect x="0.79" y="0" width="0.004" height="1" fill="#2a98f0"/><rect x="0.343" y="0" width="0.004" height="1" fill="#a0e080"/><rect x="0" y="0.345" width="1" height="0.005" fill="#2a98f0"/><rect x="0" y="0.24" width="1" height="0.003" fill="#60d0e0"/><rect x="0.341" y="0" width="0.005" height="1" fill="#2a98f0"/><rect x="0" y="0.036" width="1" height="0.004" fill="#48b8f0"/><rect x="0.477" y="0" width="0.003" height="1" fill="#60d0e0"/><rect x="0" y="0.393" width="1" height="0.005" fill="#60d0e0"/><rect x="0" y="0.468" width="1" height="0.003" fill="#a0e080"/><rect x="0" y="0.808" width="1" height="0.002" fill="#48b8f0"/><rect x="0" y="0.74" width="1" height="0.002" fill="#2a98f0"/><rect x="0.64" y="0" width="0.002" height="1" fill="#2a98f0"/><rect x="0.864" y="0" width="0.003" height="1" fill="#48b8f0"/><rect x="0" y="0.001" width="1" height="0.003" fill="#60d0e0"/><rect x="0.335" y="0" width="0.004" height="1" fill="#2a98f0"/><rect x="0.547" y="0" width="0.006" height="1" fill="#a0e080"/><rect x="0.586" y="0" width="0.006" height="1" fill="#a0e080"/><rect x="0" y="0.082" width="1" height="0.003" fill="#48b8f0"/><rect x="0" y="0.468" width="1" height="0.004" fill="#60d0e0"/><rect x="0.166" y="0" width="0.004" height="1" fill="#60d0e0"/><rect x="0.726" y="0" width="0.005" height="1" fill="#2a98f0"/><rect x="0.35" y="0" width="0.005" height="1" fill="#a0e080"/><rect x="0.934" y="0" width="0.005" height="1" fill="#2a98f0"/><rect x="0" y="0.454" width="1" height="0.004" fill="#48b8f0"/><rect x="0" y="0.71" width="1" height="0.005" fill="#2a98f0"/><rect x="0.263" y="0" width="0.003" height="1" fill="#48b8f0"/><rect x="0" y="0.754" width="1" height="0.006" fill="#48b8f0"/><rect x="0.269" y="0" width="0.005" height="1" fill="#a0e080"/><rect x="0.456" y="0" width="0.005" height="1" fill="#60d0e0"/><rect x="0" y="0.246" width="1" height="0.003" fill="#48b8f0"/><rect x="0.804" y="0" width="0.005" height="1" fill="#60d0e0"/><rect x="0.311" y="0" width="0.004" height="1" fill="#2a98f0"/><rect x="0.542" y="0" width="0.005" height="1" fill="#48b8f0"/><rect x="0" y="0.854" width="1" height="0.005" fill="#60d0e0"/><rect x="0.227" y="0" width="0.006" height="1" fill="#60d0e0"/><rect x="0" y="0.935" width="1" height="0.003" fill="#2a98f0"/><rect x="0.873" y="0" width="0.002" height="1" fill="#60d0e0"/><rect x="0" y="0.472" width="1" height="0.005" fill="#60d0e0"/><rect x="0.634" y="0" width="0.003" height="1" fill="#a0e080"/><rect x="0.109" y="0" width="0.005" height="1" fill="#a0e080"/><rect x="0.298" y="0" width="0.002" height="1" fill="#2a98f0"/><rect x="0.708" y="0" width="0.005" height="1" fill="#48b8f0"/><rect x="0" y="0.627" width="1" height="0.003" fill="#60d0e0"/><rect x="0" y="0.428" width="1" height="0.006" fill="#a0e080"/><rect x="0.164" y="0" width="0.003" height="1" fill="#2a98f0"/><rect x="0" y="0.213" width="1" height="0.004" fill="#48b8f0"/></g></g>
<g id="t50"><rect x="0" y="0" width="1" height="1" fill="#80ff80"/><rect x="0" y="0" width="0.45" height="0.29" fill="#76e6b2"/><rect x="0" y="0.29" width="0.45" height="0.07" fill="#a0e292"/><rect x="0" y="0.36" width="0.45" height="0.23" fill="#76e6b2"/><rect x="0" y="0.59" width="0.45" height="0.09" fill="#a0e292"/><rect x="0" y="0.68" width="0.45" height="0.06" fill="#76e6b2"/><rect x="0" y="0.74" width="0.45" height="0.08" fill="#a0e292"/><rect x="0" y="0.82" width="0.45" height="0.02" fill="#76e6b2"/><rect x="0" y="0.84" width="0.45" height="0.12" fill="#76e6b2"/><rect x="0" y="0.96" width="0.45" height="0.04" fill="#76e6b2"/><rect x="0.45" y="0" width="0.13" height="0.29" fill="#76e6b2"/><rect x="0.45" y="0.29" width="0.13" height="0.07" fill="#a0e292"/><rect x="0.45" y="0.36" width="0.13" height="0.23" fill="#76e6b2"/><rect x="0.45" y="0.59" width="0.13" height="0.09" fill="#a0e292"/><rect x="0.45" y="0.68" width="0.13" height="0.06" fill="#76e6b2"/><rect x="0.45" y="0.74" width="0.13" height="0.08" fill="#a0e292"/><rect x="0.45" y="0.82" width="0.13" height="0.02" fill="#76e6b2"/><rect x="0.45" y="0.84" width="0.13" height="0.12" fill="#40b0f0"/><rect x="0.45" y="0.96" width="0.13" height="0.04" fill="#76e6b2"/><rect x="0.58" y="0" width="0.1" height="0.29" fill="#a0e292"/><rect x="0.58" y="0.29" width="0.1" height="0.07" fill="#a0e292"/><rect x="0.58" y="0.36" width="0.1" height="0.23" fill="#a0e292"/><rect x="0.58" y="0.59" width="0.1" height="0.09" fill="#a0e292"/><rect x="0.58" y="0.68" width="0.1" height="0.06" fill="#a0e292"/><rect x="0.58" y="0.74" width="0.1" height="0.08" fill="#a0e292"/><rect x="0.58" y="0.82" width="0.1" height="0.02" fill="#a0e292"/><rect x="0.58" y="0.84" width="0.1" height="0.12" fill="#40b0f0"/><rect x="0.58" y="0.96" width="0.1" height="0.04" fill="#a0e292"/><rect x="0.68" y="0" width="0.07" height="0.29" fill="#76e6b2"/><rect x="0.68" y="0.29" width="0.07" height="0.07" fill="#a0e292"/><rect x="0.68" y="0.36" width="0.07" height="0.23" fill="#76e6b2"/><rect x="0.68" y="0.59" width="0.07" height="0.09" fill="#a0e292"/><rect x="0.68" y="0.68" width="0.07" height="0.06" fill="#76e6b2"/><rect x="0.68" y="0.74" width="0.07" height="0.08" fill="#a0e292"/><rect x="0.68" y="0.82" width="0.07" height="0.02" fill="#76e6b2"/><rect x="0.68" y="0.84" width="0.07" height="0.12" fill="#76e6b2"/><rect x="0.68" y="0.96" width="0.07" height="0.04" fill="#76e6b2"/><rect x="0.75" y="0" width="0.05" height="0.29" fill="#76e6b2"/><rect x="0.75" y="0.29" width="0.05" height="0.07" fill="#a0e292"/><rect x="0.75" y="0.36" width="0.05" height="0.23" fill="#76e6b2"/><rect x="0.75" y="0.59" width="0.05" height="0.09" fill="#a0e292"/><rect x="0.75" y="0.68" width="0.05" height="0.06" fill="#76e6b2"/><rect x="0.75" y="0.74" width="0.05" height="0.08" fill="#a0e292"/><rect x="0.75" y="0.82" width="0.05" height="0.02" fill="#76e6b2"/><rect x="0.75" y="0.84" width="0.05" height="0.12" fill="#40b0f0"/><rect x="0.75" y="0.96" width="0.05" height="0.04" fill="#76e6b2"/><rect x="0.8" y="0" width="0.11" height="0.29" fill="#a0e292"/><rect x="0.8" y="0.29" width="0.11" height="0.07" fill="#a0e292"/><rect x="0.8" y="0.36" width="0.11" height="0.23" fill="#a0e292"/><rect x="0.8" y="0.59" width="0.11" height="0.09" fill="#a0e292"/><rect x="0.8" y="0.68" width="0.11" height="0.06" fill="#a0e292"/><rect x="0.8" y="0.74" width="0.11" height="0.08" fill="#a0e292"/><rect x="0.8" y="0.82" width="0.11" height="0.02" fill="#a0e292"/><rect x="0.8" y="0.84" width="0.11" height="0.12" fill="#40b0f0"/><rect x="0.8" y="0.96" width="0.11" height="0.04" fill="#a0e292"/><rect x="0.91" y="0" width="0.09" height="0.29" fill="#76e6b2"/><rect x="0.91" y="0.29" width="0.09" height="0.07" fill="#a0e292"/><rect x="0.91" y="0.36" width="0.09" height="0.23" fill="#76e6b2"/><rect x="0.91" y="0.59" width="0.09" height="0.09" fill="#a0e292"/><rect x="0.91" y="0.68" width="0.09" height="0.06" fill="#76e6b2"/><rect x="0.91" y="0.74" width="0.09" height="0.08" fill="#a0e292"/><rect x="0.91" y="0.82" width="0.09" height="0.02" fill="#76e6b2"/><rect x="0.91" y="0.84" width="0.09" height="0.12" fill="#76e6b2"/><rect x="0.91" y="0.96" width="0.09" height="0.04" fill="#76e6b2"/><g opacity="0.45"><rect x="0" y="0.617" width="1" height="0.006" fill="#e0e840"/><rect x="0" y="0.483" width="1" height="0.005" fill="#90e498"/><rect x="0" y="0.728" width="1" height="0.005" fill="#c8e850"/><rect x="0.978" y="0" width="0.003" height="1" fill="#60d8c8"/><rect x="0.742" y="0" width="0.003" height="1" fill="#90e498"/><rect x="0" y="0.198" width="1" height="0.003" fill="#90e498"/><rect x="0" y="0.647" width="1" height="0.003" fill="#e0e840"/><rect x="0" y="0.055" width="1" height="0.003" fill="#c8e850"/><rect x="0" y="0.553" width="1" height="0.004" fill="#60d8c8"/><rect x="0.155" y="0" width="0.002" height="1" fill="#e0e840"/><rect x="0" y="0.344" width="1" height="0.006" fill="#60d8c8"/><rect x="0" y="0.079" width="1" height="0.005" fill="#c8e850"/><rect x="0" y="0.052" width="1" height="0.004" fill="#e0e840"/><rect x="0.257" y="0" width="0.002" height="1" fill="#e0e840"/><rect x="0.922" y="0" width="0.003" height="1" fill="#50c8e0"/><rect x="0" y="0.365" width="1" height="0.003" fill="#60d8c8"/><rect x="0" y="0.936" width="1" height="0.003" fill="#60d8c8"/><rect x="0.097" y="0" width="0.005" height="1" fill="#c8e850"/><rect x="0.077" y="0" width="0.003" height="1" fill="#e0e840"/><rect x="0.461" y="0" width="0.003" height="1" fill="#90e498"/><rect x="0.768" y="0" width="0.005" height="1" fill="#e0e840"/><rect x="0.229" y="0" width="0.005" height="1" fill="#50c8e0"/><rect x="0.761" y="0" width="0.003" height="1" fill="#e0e840"/><rect x="0.411" y="0" width="0.002" height="1" fill="#c8e850"/><rect x="0" y="0.564" width="1" height="0.005" fill="#50c8e0"/><rect x="0" y="0.36" width="1" height="0.003" fill="#90e498"/><rect x="0" y="0.473" width="1" height="0.005" fill="#90e498"/><rect x="0.158" y="0" width="0.005" height="1" fill="#90e498"/><rect x="0" y="0.643" width="1" height="0.004" fill="#c8e850"/><rect x="0.431" y="0" width="0.004" height="1" fill="#e0e840"/><rect x="0" y="0.681" width="1" height="0.004" fill="#60d8c8"/><rect x="0" y="0.368" width="1" height="0.003" fill="#e0e840"/><rect x="0.025" y="0" width="0.004" height="1" fill="#90e498"/><rect x="0" y="0.263" width="1" height="0.005" fill="#50c8e0"/><rect x="0" y="0.649" width="1" height="0.002" fill="#c8e850"/><rect x="0" y="0.552" width="1" height="0.005" fill="#c8e850"/><rect x="0" y="0.475" width="1" height="0.004" fill="#90e498"/><rect x="0" y="0.403" width="1" height="0.004" fill="#c8e850"/><rect x="0" y="0.583" width="1" height="0.002" fill="#50c8e0"/><rect x="0.217" y="0" width="0.005" height="1" fill="#c8e850"/><rect x="0.29" y="0" width="0.003" height="1" fill="#50c8e0"/><rect x="0.209" y="0" width="0.002" height="1" fill="#e0e840"/><rect x="0.407" y="0" width="0.002" height="1" fill="#e0e840"/><rect x="0.21" y="0" width="0.005" height="1" fill="#e0e840"/><rect x="0.69" y="0" width="0.003" height="1" fill="#e0e840"/><rect x="0" y="0.243" width="1" height="0.005" fill="#60d8c8"/><rect x="0.371" y="0" width="0.005" height="1" fill="#e0e840"/><rect x="0.174" y="0" width="0.003" height="1" fill="#c8e850"/><rect x="0" y="0.584" width="1" height="0.005" fill="#e0e840"/><rect x="0.07" y="0" width="0.002" height="1" fill="#c8e850"/><rect x="0.859" y="0" width="0.002" height="1" fill="#e0e840"/><rect x="0.592" y="0" width="0.005" height="1" fill="#c8e850"/><rect x="0" y="0.466" width="1" height="0.005" fill="#e0e840"/><rect x="0" y="0.173" width="1" height="0.005" fill="#90e498"/><rect x="0.925" y="0" width="0.006" height="1" fill="#c8e850"/><rect x="0.329" y="0" width="0.003" height="1" fill="#c8e850"/><rect x="0.255" y="0" width="0.004" height="1" fill="#e0e840"/><rect x="0" y="0.943" width="1" height="0.004" fill="#50c8e0"/><rect x="0" y="0.443" width="1" height="0.006" fill="#c8e850"/><rect x="0.602" y="0" width="0.002" height="1" fill="#60d8c8"/><rect x="0" y="0.481" width="1" height="0.005" fill="#90e498"/><rect x="0.165" y="0" width="0.003" height="1" fill="#60d8c8"/><rect x="0.175" y="0" width="0.003" height="1" fill="#e0e840"/><rect x="0" y="0.486" width="1" height="0.003" fill="#60d8c8"/><rect x="0.039" y="0" width="0.005" height="1" fill="#e0e840"/><rect x="0" y="0.369" width="1" height="0.003" fill="#60d8c8"/><rect x="0.854" y="0" width="0.003" height="1" fill="#90e498"/><rect x="0.333" y="0" width="0.003" height="1" fill="#90e498"/><rect x="0.326" y="0" width="0.003" height="1" fill="#50c8e0"/><rect x="0" y="0.912" width="1" height="0.002" fill="#90e498"/><rect x="0" y="0.914" width="1" height="0.005" fill="#90e498"/><rect x="0.789" y="0" width="0.003" height="1" fill="#e0e840"/><rect x="0" y="0.315" width="1" height="0.005" fill="#90e498"/><rect x="0" y="0.031" width="1" height="0.005" fill="#60d8c8"/><rect x="0" y="0.341" width="1" height="0.006" fill="#60d8c8"/><rect x="0" y="0.511" width="1" height="0.006" fill="#60d8c8"/><rect x="0" y="0.562" width="1" height="0.006" fill="#e0e840"/><rect x="0.848" y="0" width="0.006" height="1" fill="#60d8c8"/><rect x="0.106" y="0" width="0.005" height="1" fill="#50c8e0"/><rect x="0" y="0.905" width="1" height="0.004" fill="#50c8e0"/><rect x="0" y="0.961" width="1" height="0.005" fill="#90e498"/><rect x="0" y="0.106" width="1" height="0.004" fill="#60d8c8"/><rect x="0" y="0.925" width="1" height="0.005" fill="#50c8e0"/><rect x="0" y="0.473" width="1" height="0.006" fill="#90e498"/><rect x="0.659" y="0" width="0.003" height="1" fill="#e0e840"/><rect x="0" y="0.575" width="1" height="0.004" fill="#60d8c8"/><rect x="0.791" y="0" width="0.005" height="1" fill="#50c8e0"/><rect x="0" y="0.817" width="1" height="0.004" fill="#60d8c8"/><rect x="0.735" y="0" width="0.004" height="1" fill="#c8e850"/><rect x="0.469" y="0" width="0.003" height="1" fill="#c8e850"/><rect x="0.467" y="0" width="0.004" height="1" fill="#c8e850"/><rect x="0" y="0.906" width="1" height="0.004" fill="#60d8c8"/><rect x="0" y="0.606" width="1" height="0.005" fill="#e0e840"/><rect x="0" y="0.817" width="1" height="0.005" fill="#60d8c8"/><rect x="0" y="0.117" width="1" height="0.003" fill="#c8e850"/><rect x="0" y="0.013" width="1" height="0.003" fill="#c8e850"/><rect x="0.635" y="0" width="0.003" height="1" fill="#60d8c8"/><rect x="0.523" y="0" width="0.006" height="1" fill="#c8e850"/><rect x="0.565" y="0" width="0.003" height="1" fill="#50c8e0"/><rect x="0.189" y="0" width="0.003" height="1" fill="#60d8c8"/><rect x="0" y="0.105" width="1" height="0.003" fill="#e0e840"/><rect x="0" y="0.404" width="1" height="0.003" fill="#90e498"/><rect x="0" y="0.532" width="1" height="0.004" fill="#90e498"/><rect x="0.175" y="0" width="0.002" height="1" fill="#60d8c8"/><rect x="0.07" y="0" width="0.006" height="1" fill="#c8e850"/><rect x="0" y="0.067" width="1" height="0.003" fill="#90e498"/><rect x="0" y="0.559" width="1" height="0.003" fill="#90e498"/><rect x="0" y="0.644" width="1" height="0.003" fill="#50c8e0"/><rect x="0.277" y="0" width="0.005" height="1" fill="#e0e840"/><rect x="0" y="0.265" width="1" height="0.003" fill="#e0e840"/><rect x="0" y="0.592" width="1" height="0.006" fill="#90e498"/><rect x="0" y="0.005" width="1" height="0.005" fill="#e0e840"/><rect x="0.079" y="0" width="0.004" height="1" fill="#50c8e0"/><rect x="0.714" y="0" width="0.003" height="1" fill="#50c8e0"/><rect x="0.988" y="0" width="0.005" height="1" fill="#90e498"/><rect x="0.21" y="0" width="0.002" height="1" fill="#60d8c8"/><rect x="0.249" y="0" width="0.006" height="1" fill="#60d8c8"/><rect x="0.334" y="0" width="0.005" height="1" fill="#e0e840"/><rect x="0" y="0.208" width="1" height="0.006" fill="#60d8c8"/><rect x="0" y="0.965" width="1" height="0.003" fill="#60d8c8"/></g></g>
<g id="t51"><rect x="0" y="0" width="1" height="1" fill="#80ff80"/><rect x="0" y="0" width="1" height="0.2" fill="#78e2b0"/><rect x="0" y="0.2" width="1" height="0.03" fill="#b8e860"/><rect x="0" y="0.23" width="1" height="0.22" fill="#78e2b0"/><rect x="0" y="0.45" width="1" height="0.03" fill="#b8e860"/><rect x="0" y="0.48" width="1" height="0.27" fill="#78e2b0"/><rect x="0" y="0.75" width="1" height="0.03" fill="#b8e860"/><rect x="0" y="0.78" width="1" height="0.22" fill="#78e2b0"/><g opacity="0.5"><rect x="0.914" y="0" width="0.003" height="1" fill="#90e498"/><rect x="0.89" y="0" width="0.004" height="1" fill="#60d8c8"/><rect x="0" y="0.577" width="1" height="0.004" fill="#60d8c8"/><rect x="0.056" y="0" width="0.006" height="1" fill="#90e498"/><rect x="0" y="0.091" width="1" height="0.003" fill="#3aa8f0"/><rect x="0" y="0.273" width="1" height="0.003" fill="#3aa8f0"/><rect x="0.984" y="0" width="0.004" height="1" fill="#c8e850"/><rect x="0" y="0.013" width="1" height="0.003" fill="#60d8c8"/><rect x="0.17" y="0" width="0.006" height="1" fill="#60d8c8"/><rect x="0.943" y="0" width="0.002" height="1" fill="#60d8c8"/><rect x="0.579" y="0" width="0.006" height="1" fill="#60d8c8"/><rect x="0.597" y="0" width="0.005" height="1" fill="#90e498"/><rect x="0.34" y="0" width="0.004" height="1" fill="#e8e040"/><rect x="0" y="0.938" width="1" height="0.004" fill="#e8e040"/><rect x="0.843" y="0" width="0.003" height="1" fill="#3aa8f0"/><rect x="0.287" y="0" width="0.006" height="1" fill="#90e498"/><rect x="0" y="0.504" width="1" height="0.006" fill="#e8e040"/><rect x="0" y="0.502" width="1" height="0.003" fill="#c8e850"/><rect x="0.605" y="0" width="0.004" height="1" fill="#e8e040"/><rect x="0" y="0.43" width="1" height="0.003" fill="#e8e040"/><rect x="0" y="0.578" width="1" height="0.002" fill="#90e498"/><rect x="0" y="0.462" width="1" height="0.006" fill="#3aa8f0"/><rect x="0" y="0.658" width="1" height="0.004" fill="#3aa8f0"/><rect x="0" y="0.126" width="1" height="0.004" fill="#3aa8f0"/><rect x="0" y="0.106" width="1" height="0.006" fill="#c8e850"/><rect x="0" y="0.592" width="1" height="0.003" fill="#60d8c8"/><rect x="0.128" y="0" width="0.003" height="1" fill="#3aa8f0"/><rect x="0" y="0.216" width="1" height="0.005" fill="#3aa8f0"/><rect x="0.959" y="0" width="0.005" height="1" fill="#c8e850"/><rect x="0.628" y="0" width="0.003" height="1" fill="#e8e040"/><rect x="0.341" y="0" width="0.003" height="1" fill="#c8e850"/><rect x="0.891" y="0" width="0.004" height="1" fill="#60d8c8"/><rect x="0.41" y="0" width="0.005" height="1" fill="#90e498"/><rect x="0" y="0.67" width="1" height="0.006" fill="#3aa8f0"/><rect x="0.041" y="0" width="0.005" height="1" fill="#e8e040"/><rect x="0.149" y="0" width="0.006" height="1" fill="#e8e040"/><rect x="0.082" y="0" width="0.004" height="1" fill="#60d8c8"/><rect x="0" y="0.668" width="1" height="0.002" fill="#c8e850"/><rect x="0" y="0.805" width="1" height="0.002" fill="#3aa8f0"/><rect x="0" y="0.037" width="1" height="0.003" fill="#c8e850"/><rect x="0" y="0.685" width="1" height="0.003" fill="#c8e850"/><rect x="0" y="0.335" width="1" height="0.006" fill="#e8e040"/><rect x="0.698" y="0" width="0.004" height="1" fill="#3aa8f0"/><rect x="0" y="0.371" width="1" height="0.005" fill="#90e498"/><rect x="0.434" y="0" width="0.005" height="1" fill="#90e498"/><rect x="0" y="0.393" width="1" height="0.005" fill="#e8e040"/><rect x="0.872" y="0" width="0.006" height="1" fill="#60d8c8"/><rect x="0.389" y="0" width="0.002" height="1" fill="#3aa8f0"/><rect x="0" y="0.307" width="1" height="0.003" fill="#3aa8f0"/><rect x="0" y="0.984" width="1" height="0.004" fill="#3aa8f0"/><rect x="0.944" y="0" width="0.004" height="1" fill="#60d8c8"/><rect x="0.274" y="0" width="0.004" height="1" fill="#60d8c8"/><rect x="0.106" y="0" width="0.006" height="1" fill="#c8e850"/><rect x="0.675" y="0" width="0.004" height="1" fill="#60d8c8"/><rect x="0.007" y="0" width="0.004" height="1" fill="#90e498"/><rect x="0.054" y="0" width="0.003" height="1" fill="#60d8c8"/><rect x="0" y="0.97" width="1" height="0.003" fill="#c8e850"/><rect x="0.587" y="0" width="0.003" height="1" fill="#60d8c8"/><rect x="0" y="0.788" width="1" height="0.002" fill="#90e498"/><rect x="0.218" y="0" width="0.005" height="1" fill="#c8e850"/><rect x="0.83" y="0" width="0.004" height="1" fill="#60d8c8"/><rect x="0.574" y="0" width="0.003" height="1" fill="#60d8c8"/><rect x="0" y="0.193" width="1" height="0.003" fill="#60d8c8"/><rect x="0" y="0.768" width="1" height="0.003" fill="#3aa8f0"/><rect x="0.974" y="0" width="0.004" height="1" fill="#e8e040"/><rect x="0.269" y="0" width="0.004" height="1" fill="#90e498"/><rect x="0" y="0.345" width="1" height="0.003" fill="#60d8c8"/><rect x="0.467" y="0" width="0.004" height="1" fill="#90e498"/><rect x="0" y="0.297" width="1" height="0.003" fill="#3aa8f0"/><rect x="0" y="0.731" width="1" height="0.002" fill="#60d8c8"/><rect x="0.425" y="0" width="0.003" height="1" fill="#e8e040"/><rect x="0" y="0.754" width="1" height="0.003" fill="#3aa8f0"/><rect x="0.833" y="0" width="0.002" height="1" fill="#c8e850"/><rect x="0" y="0.042" width="1" height="0.002" fill="#90e498"/><rect x="0.478" y="0" width="0.003" height="1" fill="#3aa8f0"/><rect x="0.573" y="0" width="0.003" height="1" fill="#c8e850"/><rect x="0.013" y="0" width="0.002" height="1" fill="#c8e850"/><rect x="0.185" y="0" width="0.004" height="1" fill="#90e498"/><rect x="0" y="0.292" width="1" height="0.004" fill="#60d8c8"/><rect x="0.039" y="0" width="0.005" height="1" fill="#3aa8f0"/><rect x="0.324" y="0" width="0.002" height="1" fill="#3aa8f0"/><rect x="0" y="0.727" width="1" height="0.003" fill="#90e498"/><rect x="0.746" y="0" width="0.004" height="1" fill="#60d8c8"/><rect x="0.676" y="0" width="0.006" height="1" fill="#90e498"/><rect x="0" y="0.624" width="1" height="0.003" fill="#3aa8f0"/><rect x="0.708" y="0" width="0.002" height="1" fill="#e8e040"/><rect x="0" y="0.377" width="1" height="0.005" fill="#90e498"/><rect x="0.314" y="0" width="0.006" height="1" fill="#e8e040"/><rect x="0" y="0.104" width="1" height="0.005" fill="#c8e850"/><rect x="0" y="0.374" width="1" height="0.006" fill="#e8e040"/><rect x="0" y="0.66" width="1" height="0.006" fill="#90e498"/><rect x="0" y="0.685" width="1" height="0.003" fill="#90e498"/><rect x="0.351" y="0" width="0.006" height="1" fill="#90e498"/><rect x="0" y="0.3" width="1" height="0.004" fill="#3aa8f0"/><rect x="0" y="0.83" width="1" height="0.005" fill="#3aa8f0"/><rect x="0.067" y="0" width="0.004" height="1" fill="#60d8c8"/><rect x="0.932" y="0" width="0.006" height="1" fill="#c8e850"/><rect x="0.293" y="0" width="0.002" height="1" fill="#60d8c8"/><rect x="0" y="0.193" width="1" height="0.003" fill="#90e498"/><rect x="0" y="0.413" width="1" height="0.003" fill="#90e498"/><rect x="0.407" y="0" width="0.005" height="1" fill="#3aa8f0"/><rect x="0" y="0.976" width="1" height="0.005" fill="#e8e040"/><rect x="0" y="0.383" width="1" height="0.005" fill="#3aa8f0"/><rect x="0.712" y="0" width="0.005" height="1" fill="#90e498"/><rect x="0" y="0.331" width="1" height="0.003" fill="#e8e040"/><rect x="0" y="0.261" width="1" height="0.002" fill="#e8e040"/><rect x="0" y="0.028" width="1" height="0.004" fill="#90e498"/><rect x="0" y="0.942" width="1" height="0.005" fill="#3aa8f0"/><rect x="0" y="0.802" width="1" height="0.005" fill="#3aa8f0"/><rect x="0.764" y="0" width="0.003" height="1" fill="#3aa8f0"/><rect x="0.323" y="0" width="0.004" height="1" fill="#60d8c8"/><rect x="0" y="0.409" width="1" height="0.005" fill="#60d8c8"/><rect x="0" y="0.192" width="1" height="0.005" fill="#3aa8f0"/><rect x="0.49" y="0" width="0.003" height="1" fill="#60d8c8"/><rect x="0" y="0.239" width="1" height="0.004" fill="#90e498"/><rect x="0.652" y="0" width="0.005" height="1" fill="#90e498"/><rect x="0.962" y="0" width="0.005" height="1" fill="#60d8c8"/><rect x="0" y="0.949" width="1" height="0.006" fill="#90e498"/><rect x="0" y="0.698" width="1" height="0.005" fill="#90e498"/><rect x="0" y="0.325" width="1" height="0.005" fill="#90e498"/></g></g>
<g id="t52"><rect x="0" y="0" width="1" height="1" fill="#80ff80"/><rect x="0" y="0" width="0.35" height="0.2" fill="#78e2b0"/><rect x="0" y="0.2" width="0.35" height="0.03" fill="#b8e860"/><rect x="0" y="0.23" width="0.35" height="0.22" fill="#78e2b0"/><rect x="0" y="0.45" width="0.35" height="0.03" fill="#b8e860"/><rect x="0" y="0.48" width="0.35" height="0.27" fill="#78e2b0"/><rect x="0" y="0.75" width="0.35" height="0.03" fill="#b8e860"/><rect x="0" y="0.78" width="0.35" height="0.22" fill="#78e2b0"/><rect x="0.35" y="0" width="0.2" height="0.2" fill="#48b4ee"/><rect x="0.35" y="0.2" width="0.2" height="0.03" fill="#b8e860"/><rect x="0.35" y="0.23" width="0.2" height="0.22" fill="#48b4ee"/><rect x="0.35" y="0.45" width="0.2" height="0.03" fill="#b8e860"/><rect x="0.35" y="0.48" width="0.2" height="0.27" fill="#48b4ee"/><rect x="0.35" y="0.75" width="0.2" height="0.03" fill="#b8e860"/><rect x="0.35" y="0.78" width="0.2" height="0.22" fill="#48b4ee"/><rect x="0.55" y="0" width="0.1" height="0.2" fill="#78e2b0"/><rect x="0.55" y="0.2" width="0.1" height="0.03" fill="#b8e860"/><rect x="0.55" y="0.23" width="0.1" height="0.22" fill="#78e2b0"/><rect x="0.55" y="0.45" width="0.1" height="0.03" fill="#b8e860"/><rect x="0.55" y="0.48" width="0.1" height="0.27" fill="#78e2b0"/><rect x="0.55" y="0.75" width="0.1" height="0.03" fill="#b8e860"/><rect x="0.55" y="0.78" width="0.1" height="0.22" fill="#78e2b0"/><rect x="0.65" y="0" width="0.1" height="0.2" fill="#48b4ee"/><rect x="0.65" y="0.2" width="0.1" height="0.03" fill="#b8e860"/><rect x="0.65" y="0.23" width="0.1" height="0.22" fill="#48b4ee"/><rect x="0.65" y="0.45" width="0.1" height="0.03" fill="#b8e860"/><rect x="0.65" y="0.48" width="0.1" height="0.27" fill="#48b4ee"/><rect x="0.65" y="0.75" width="0.1" height="0.03" fill="#b8e860"/><rect x="0.65" y="0.78" width="0.1" height="0.22" fill="#48b4ee"/><rect x="0.75" y="0" width="0.25" height="0.2" fill="#78e2b0"/><rect x="0.75" y="0.2" width="0.25" height="0.03" fill="#b8e860"/><rect x="0.75" y="0.23" width="0.25" height="0.22" fill="#78e2b0"/><rect x="0.75" y="0.45" width="0.25" height="0.03" fill="#b8e860"/><rect x="0.75" y="0.48" width="0.25" height="0.27" fill="#78e2b0"/><rect x="0.75" y="0.75" width="0.25" height="0.03" fill="#b8e860"/><rect x="0.75" y="0.78" width="0.25" height="0.22" fill="#78e2b0"/><g opacity="0.5"><rect x="0" y="0.09" width="1" height="0.006" fill="#60d8c8"/><rect x="0.303" y="0" width="0.002" height="1" fill="#60d8c8"/><rect x="0" y="0.352" width="1" height="0.005" fill="#e8e040"/><rect x="0" y="0.388" width="1" height="0.004" fill="#e8e040"/><rect x="0.773" y="0" width="0.002" height="1" fill="#3aa8f0"/><rect x="0.231" y="0" width="0.005" height="1" fill="#90e498"/><rect x="0" y="0.224" width="1" height="0.004" fill="#c8e850"/><rect x="0.747" y="0" width="0.003" height="1" fill="#60d8c8"/><rect x="0" y="0.306" width="1" height="0.005" fill="#c8e850"/><rect x="0.41" y="0" width="0.003" height="1" fill="#90e498"/><rect x="0.468" y="0" width="0.005" height="1" fill="#60d8c8"/><rect x="0" y="0.162" width="1" height="0.003" fill="#60d8c8"/><rect x="0" y="0.718" width="1" height="0.005" fill="#90e498"/><rect x="0.107" y="0" width="0.005" height="1" fill="#c8e850"/><rect x="0.816" y="0" width="0.005" height="1" fill="#3aa8f0"/><rect x="0.125" y="0" width="0.004" height="1" fill="#e8e040"/><rect x="0.069" y="0" width="0.003" height="1" fill="#3aa8f0"/><rect x="0" y="0.225" width="1" height="0.004" fill="#e8e040"/><rect x="0" y="0.636" width="1" height="0.002" fill="#60d8c8"/><rect x="0.727" y="0" width="0.003" height="1" fill="#e8e040"/><rect x="0.353" y="0" width="0.006" height="1" fill="#c8e850"/><rect x="0.713" y="0" width="0.003" height="1" fill="#3aa8f0"/><rect x="0" y="0.291" width="1" height="0.004" fill="#3aa8f0"/><rect x="0.209" y="0" width="0.006" height="1" fill="#60d8c8"/><rect x="0.209" y="0" width="0.006" height="1" fill="#3aa8f0"/><rect x="0" y="0.647" width="1" height="0.002" fill="#c8e850"/><rect x="0.595" y="0" width="0.003" height="1" fill="#e8e040"/><rect x="0.669" y="0" width="0.006" height="1" fill="#e8e040"/><rect x="0.874" y="0" width="0.003" height="1" fill="#90e498"/><rect x="0.625" y="0" width="0.004" height="1" fill="#90e498"/><rect x="0.947" y="0" width="0.003" height="1" fill="#e8e040"/><rect x="0.438" y="0" width="0.002" height="1" fill="#3aa8f0"/><rect x="0.394" y="0" width="0.005" height="1" fill="#3aa8f0"/><rect x="0.838" y="0" width="0.003" height="1" fill="#60d8c8"/><rect x="0" y="0.755" width="1" height="0.005" fill="#3aa8f0"/><rect x="0.702" y="0" width="0.002" height="1" fill="#90e498"/><rect x="0" y="0.54" width="1" height="0.003" fill="#c8e850"/><rect x="0" y="0.081" width="1" height="0.003" fill="#c8e850"/><rect x="0.503" y="0" width="0.005" height="1" fill="#60d8c8"/><rect x="0" y="0.136" width="1" height="0.004" fill="#90e498"/><rect x="0" y="0.539" width="1" height="0.005" fill="#90e498"/><rect x="0" y="0.542" width="1" height="0.002" fill="#e8e040"/><rect x="0.318" y="0" width="0.002" height="1" fill="#90e498"/><rect x="0.597" y="0" width="0.005" height="1" fill="#3aa8f0"/><rect x="0.915" y="0" width="0.005" height="1" fill="#c8e850"/><rect x="0.71" y="0" width="0.004" height="1" fill="#c8e850"/><rect x="0.677" y="0" width="0.002" height="1" fill="#90e498"/><rect x="0" y="0.487" width="1" height="0.002" fill="#e8e040"/><rect x="0" y="0.072" width="1" height="0.002" fill="#90e498"/><rect x="0" y="0.992" width="1" height="0.002" fill="#3aa8f0"/><rect x="0.737" y="0" width="0.003" height="1" fill="#90e498"/><rect x="0.027" y="0" width="0.003" height="1" fill="#3aa8f0"/><rect x="0" y="0.348" width="1" height="0.002" fill="#60d8c8"/><rect x="0" y="0.724" width="1" height="0.004" fill="#3aa8f0"/><rect x="0" y="0.098" width="1" height="0.002" fill="#90e498"/><rect x="0" y="0.658" width="1" height="0.004" fill="#3aa8f0"/><rect x="0" y="0.264" width="1" height="0.004" fill="#c8e850"/><rect x="0.855" y="0" width="0.003" height="1" fill="#90e498"/><rect x="0" y="0.327" width="1" height="0.004" fill="#90e498"/><rect x="0" y="0.172" width="1" height="0.004" fill="#3aa8f0"/><rect x="0.935" y="0" width="0.005" height="1" fill="#90e498"/><rect x="0.018" y="0" width="0.005" height="1" fill="#c8e850"/><rect x="0.737" y="0" width="0.002" height="1" fill="#60d8c8"/><rect x="0" y="0.551" width="1" height="0.003" fill="#90e498"/><rect x="0.328" y="0" width="0.002" height="1" fill="#c8e850"/><rect x="0.965" y="0" width="0.004" height="1" fill="#90e498"/><rect x="0" y="0.973" width="1" height="0.003" fill="#3aa8f0"/><rect x="0" y="0.4" width="1" height="0.002" fill="#90e498"/><rect x="0" y="0.628" width="1" height="0.005" fill="#3aa8f0"/><rect x="0.345" y="0" width="0.003" height="1" fill="#c8e850"/><rect x="0.097" y="0" width="0.004" height="1" fill="#e8e040"/><rect x="0.738" y="0" width="0.005" height="1" fill="#e8e040"/><rect x="0" y="0.42" width="1" height="0.005" fill="#90e498"/><rect x="0.766" y="0" width="0.005" height="1" fill="#3aa8f0"/><rect x="0.641" y="0" width="0.002" height="1" fill="#e8e040"/><rect x="0" y="0.512" width="1" height="0.005" fill="#3aa8f0"/><rect x="0" y="0.688" width="1" height="0.003" fill="#60d8c8"/><rect x="0.866" y="0" width="0.003" height="1" fill="#3aa8f0"/><rect x="0.343" y="0" width="0.003" height="1" fill="#3aa8f0"/><rect x="0" y="0.523" width="1" height="0.006" fill="#c8e850"/><rect x="0.916" y="0" width="0.004" height="1" fill="#3aa8f0"/><rect x="0" y="0.902" width="1" height="0.005" fill="#3aa8f0"/><rect x="0.894" y="0" width="0.005" height="1" fill="#e8e040"/><rect x="0" y="0.425" width="1" height="0.004" fill="#e8e040"/><rect x="0" y="0.606" width="1" height="0.005" fill="#c8e850"/><rect x="0" y="0.217" width="1" height="0.004" fill="#e8e040"/><rect x="0.453" y="0" width="0.004" height="1" fill="#90e498"/><rect x="0" y="0.232" width="1" height="0.003" fill="#c8e850"/><rect x="0" y="0.078" width="1" height="0.003" fill="#60d8c8"/><rect x="0.982" y="0" width="0.004" height="1" fill="#90e498"/><rect x="0" y="0.986" width="1" height="0.005" fill="#3aa8f0"/><rect x="0.207" y="0" width="0.004" height="1" fill="#3aa8f0"/><rect x="0" y="0.586" width="1" height="0.003" fill="#3aa8f0"/><rect x="0.318" y="0" width="0.003" height="1" fill="#90e498"/><rect x="0" y="0.171" width="1" height="0.006" fill="#e8e040"/><rect x="0" y="0.201" width="1" height="0.005" fill="#60d8c8"/><rect x="0.411" y="0" width="0.004" height="1" fill="#3aa8f0"/><rect x="0" y="0.887" width="1" height="0.005" fill="#3aa8f0"/><rect x="0" y="0.691" width="1" height="0.002" fill="#3aa8f0"/><rect x="0.493" y="0" width="0.002" height="1" fill="#3aa8f0"/><rect x="0" y="0.39" width="1" height="0.004" fill="#c8e850"/><rect x="0" y="0.198" width="1" height="0.005" fill="#3aa8f0"/><rect x="0" y="0.257" width="1" height="0.002" fill="#90e498"/><rect x="0.155" y="0" width="0.003" height="1" fill="#60d8c8"/><rect x="0.393" y="0" width="0.003" height="1" fill="#c8e850"/><rect x="0" y="0.914" width="1" height="0.005" fill="#90e498"/><rect x="0" y="0.043" width="1" height="0.003" fill="#90e498"/><rect x="0.987" y="0" width="0.004" height="1" fill="#e8e040"/><rect x="0.77" y="0" width="0.003" height="1" fill="#e8e040"/><rect x="0.099" y="0" width="0.003" height="1" fill="#60d8c8"/><rect x="0.082" y="0" width="0.003" height="1" fill="#60d8c8"/><rect x="0.815" y="0" width="0.005" height="1" fill="#90e498"/><rect x="0" y="0.968" width="1" height="0.006" fill="#60d8c8"/><rect x="0" y="0.201" width="1" height="0.005" fill="#c8e850"/><rect x="0.602" y="0" width="0.003" height="1" fill="#e8e040"/><rect x="0" y="0.924" width="1" height="0.004" fill="#3aa8f0"/><rect x="0.955" y="0" width="0.003" height="1" fill="#60d8c8"/><rect x="0.453" y="0" width="0.005" height="1" fill="#c8e850"/><rect x="0" y="0.77" width="1" height="0.004" fill="#60d8c8"/><rect x="0" y="0.996" width="1" height="0.005" fill="#60d8c8"/></g></g>
<clipPath id="c53"><rect x="0" y="0.81" width="0.143" height="0.19"/></clipPath>
<clipPath id="c54"><rect x="0.27" y="0.81" width="0.73" height="0.19"/></clipPath>
<clipPath id="c55"><rect x="0.27" y="0.857" width="0.73" height="0.143"/></clipPath>
<clipPath id="c56"><rect x="0.143" y="0.81" width="0.68" height="0.19"/></clipPath>
<clipPath id="c57"><rect x="0" y="0.135" width="0.143" height="0.675"/></clipPath>
<clipPath id="c58"><rect x="0.27" y="0.81" width="0.73" height="0.19"/></clipPath>
<clipPath id="c59"><rect x="0" y="0.81" width="0.27" height="0.19"/></clipPath>
<clipPath id="c60"><rect x="0.27" y="0.135" width="0.73" height="0.675"/></clipPath>
<clipPath id="c61"><rect x="0" y="0.857" width="0.27" height="0.143"/></clipPath>
<clipPath id="c62"><rect x="0.27" y="0.177" width="0.73" height="0.68"/></clipPath>
<clipPath id="c63"><rect x="0.27" y="0.857" width="0.73" height="0.143"/></clipPath>
<clipPath id="c64"><rect x="0.823" y="0.81" width="0.177" height="0.19"/></clipPath>
<clipPath id="c65"><rect x="0.143" y="0.135" width="0.68" height="0.675"/></clipPath>
<clipPath id="c66"><rect x="0" y="0" width="0.143" height="0.135"/></clipPath>
<clipPath id="c67"><rect x="0" y="0.81" width="0.27" height="0.19"/></clipPath>
<clipPath id="c68"><rect x="0.27" y="0.135" width="0.73" height="0.675"/></clipPath>
<clipPath id="c69"><rect x="0" y="0.135" width="0.27" height="0.675"/></clipPath>
<clipPath id="c70"><rect x="0.27" y="0" width="0.73" height="0.135"/></clipPath>
<clipPath id="c71"><rect x="0" y="0.177" width="0.27" height="0.68"/></clipPath>
<clipPath id="c72"><rect x="0.27" y="0" width="0.73" height="0.177"/></clipPath>
<clipPath id="c73"><rect x="0" y="0.857" width="0.27" height="0.143"/></clipPath>
<clipPath id="c74"><rect x="0.27" y="0.177" width="0.73" height="0.68"/></clipPath>
<clipPath id="c75"><rect x="0.823" y="0.135" width="0.177" height="0.675"/></clipPath>
<clipPath id="c76"><rect x="0.143" y="0" width="0.68" height="0.135"/></clipPath>
<clipPath id="c77"><rect x="0" y="0.135" width="0.27" height="0.675"/></clipPath>
<clipPath id="c78"><rect x="0.27" y="0" width="0.73" height="0.135"/></clipPath>
<clipPath id="c79"><rect x="0" y="0" width="0.27" height="0.135"/></clipPath>
<clipPath id="c80"><rect x="0" y="0" width="0.27" height="0.177"/></clipPath>
<clipPath id="c81"><rect x="0" y="0.177" width="0.27" height="0.68"/></clipPath>
<clipPath id="c82"><rect x="0.27" y="0" width="0.73" height="0.177"/></clipPath>
<clipPath id="c83"><rect x="0.823" y="0" width="0.177" height="0.135"/></clipPath>
<clipPath id="c84"><rect x="0" y="0" width="0.27" height="0.135"/></clipPath>
<clipPath id="c85"><rect x="0" y="0" width="0.27" height="0.177"/></clipPath>
<g id="t86"><rect x="0" y="0" width="1" height="1" fill="#80ff80"/><rect x="0" y="0" width="0.05" height="0.12" fill="#2e94f0"/><rect x="0" y="0.12" width="0.05" height="0.03" fill="#58c8e8"/><rect x="0" y="0.15" width="0.05" height="0.3" fill="#2e94f0"/><rect x="0" y="0.45" width="0.05" height="0.05" fill="#88dca8"/><rect x="0" y="0.5" width="0.05" height="0.2" fill="#2e94f0"/><rect x="0" y="0.7" width="0.05" height="0.04" fill="#58c8e8"/><rect x="0" y="0.74" width="0.05" height="0.26" fill="#2e94f0"/><rect x="0.05" y="0" width="0.03" height="0.12" fill="#58c8e8"/><rect x="0.05" y="0.12" width="0.03" height="0.03" fill="#58c8e8"/><rect x="0.05" y="0.15" width="0.03" height="0.3" fill="#58c8e8"/><rect x="0.05" y="0.45" width="0.03" height="0.05" fill="#58c8e8"/><rect x="0.05" y="0.5" width="0.03" height="0.2" fill="#58c8e8"/><rect x="0.05" y="0.7" width="0.03" height="0.04" fill="#58c8e8"/><rect x="0.05" y="0.74" width="0.03" height="0.26" fill="#58c8e8"/><rect x="0.08" y="0" width="0.12" height="0.12" fill="#2e94f0"/><rect x="0.08" y="0.12" width="0.12" height="0.03" fill="#58c8e8"/><rect x="0.08" y="0.15" width="0.12" height="0.3" fill="#2e94f0"/><rect x="0.08" y="0.45" width="0.12" height="0.05" fill="#88dca8"/><rect x="0.08" y="0.5" width="0.12" height="0.2" fill="#2e94f0"/><rect x="0.08" y="0.7" width="0.12" height="0.04" fill="#58c8e8"/><rect x="0.08" y="0.74" width="0.12" height="0.26" fill="#2e94f0"/><rect x="0.2" y="0" width="0.03" height="0.12" fill="#58c8e8"/><rect x="0.2" y="0.12" width="0.03" height="0.03" fill="#58c8e8"/><rect x="0.2" y="0.15" width="0.03" height="0.3" fill="#58c8e8"/><rect x="0.2" y="0.45" width="0.03" height="0.05" fill="#58c8e8"/><rect x="0.2" y="0.5" width="0.03" height="0.2" fill="#58c8e8"/><rect x="0.2" y="0.7" width="0.03" height="0.04" fill="#58c8e8"/><rect x="0.2" y="0.74" width="0.03" height="0.26" fill="#58c8e8"/><rect x="0.23" y="0" width="0.17" height="0.12" fill="#2e94f0"/><rect x="0.23" y="0.12" width="0.17" height="0.03" fill="#58c8e8"/><rect x="0.23" y="0.15" width="0.17" height="0.3" fill="#2e94f0"/><rect x="0.23" y="0.45" width="0.17" height="0.05" fill="#88dca8"/><rect x="0.23" y="0.5" width="0.17" height="0.2" fill="#2e94f0"/><rect x="0.23" y="0.7" width="0.17" height="0.04" fill="#58c8e8"/><rect x="0.23" y="0.74" width="0.17" height="0.26" fill="#2e94f0"/><rect x="0.4" y="0" width="0.05" height="0.12" fill="#88dca8"/><rect x="0.4" y="0.12" width="0.05" height="0.03" fill="#58c8e8"/><rect x="0.4" y="0.15" width="0.05" height="0.3" fill="#88dca8"/><rect x="0.4" y="0.45" width="0.05" height="0.05" fill="#88dca8"/><rect x="0.4" y="0.5" width="0.05" height="0.2" fill="#88dca8"/><rect x="0.4" y="0.7" width="0.05" height="0.04" fill="#58c8e8"/><rect x="0.4" y="0.74" width="0.05" height="0.26" fill="#88dca8"/><rect x="0.45" y="0" width="0.17" height="0.12" fill="#2e94f0"/><rect x="0.45" y="0.12" width="0.17" height="0.03" fill="#58c8e8"/><rect x="0.45" y="0.15" width="0.17" height="0.3" fill="#2e94f0"/><rect x="0.45" y="0.45" width="0.17" height="0.05" fill="#88dca8"/><rect x="0.45" y="0.5" width="0.17" height="0.2" fill="#2e94f0"/><rect x="0.45" y="0.7" width="0.17" height="0.04" fill="#58c8e8"/><rect x="0.45" y="0.74" width="0.17" height="0.26" fill="#2e94f0"/><rect x="0.62" y="0" width="0.04" height="0.12" fill="#58c8e8"/><rect x="0.62" y="0.12" width="0.04" height="0.03" fill="#58c8e8"/><rect x="0.62" y="0.15" width="0.04" height="0.3" fill="#58c8e8"/><rect x="0.62" y="0.45" width="0.04" height="0.05" fill="#58c8e8"/><rect x="0.62" y="0.5" width="0.04" height="0.2" fill="#58c8e8"/><rect x="0.62" y="0.7" width="0.04" height="0.04" fill="#58c8e8"/><rect x="0.62" y="0.74" width="0.04" height="0.26" fill="#58c8e8"/><rect x="0.66" y="0" width="0.14" height="0.12" fill="#2e94f0"/><rect x="0.66" y="0.12" width="0.14" height="0.03" fill="#58c8e8"/><rect x="0.66" y="0.15" width="0.14" height="0.3" fill="#2e94f0"/><rect x="0.66" y="0.45" width="0.14" height="0.05" fill="#88dca8"/><rect x="0.66" y="0.5" width="0.14" height="0.2" fill="#2e94f0"/><rect x="0.66" y="0.7" width="0.14" height="0.04" fill="#58c8e8"/><rect x="0.66" y="0.74" width="0.14" height="0.26" fill="#2e94f0"/><rect x="0.8" y="0" width="0.03" height="0.12" fill="#58c8e8"/><rect x="0.8" y="0.12" width="0.03" height="0.03" fill="#58c8e8"/><rect x="0.8" y="0.15" width="0.03" height="0.3" fill="#58c8e8"/><rect x="0.8" y="0.45" width="0.03" height="0.05" fill="#58c8e8"/><rect x="0.8" y="0.5" width="0.03" height="0.2" fill="#58c8e8"/><rect x="0.8" y="0.7" width="0.03" height="0.04" fill="#58c8e8"/><rect x="0.8" y="0.74" width="0.03" height="0.26" fill="#58c8e8"/><rect x="0.83" y="0" width="0.17" height="0.12" fill="#2e94f0"/><rect x="0.83" y="0.12" width="0.17" height="0.03" fill="#58c8e8"/><rect x="0.83" y="0.15" width="0.17" height="0.3" fill="#2e94f0"/><rect x="0.83" y="0.45" width="0.17" height="0.05" fill="#88dca8"/><rect x="0.83" y="0.5" width="0.17" height="0.2" fill="#2e94f0"/><rect x="0.83" y="0.7" width="0.17" height="0.04" fill="#58c8e8"/><rect x="0.83" y="0.74" width="0.17" height="0.26" fill="#2e94f0"/><g opacity="0.55"><rect x="0.494" y="0" width="0.004" height="1" fill="#80e0b0"/><rect x="0.804" y="0" width="0.002" height="1" fill="#80e0b0"/><rect x="0.406" y="0" width="0.003" height="1" fill="#1e78f0"/><rect x="0" y="0.006" width="1" height="0.004" fill="#58c8f0"/><rect x="0.338" y="0" width="0.004" height="1" fill="#1e78f0"/><rect x="0.403" y="0" width="0.006" height="1" fill="#80e0b0"/><rect x="0" y="0.318" width="1" height="0.003" fill="#1e78f0"/><rect x="0.615" y="0" width="0.004" height="1" fill="#1e78f0"/><rect x="0" y="0.058" width="1" height="0.003" fill="#58c8f0"/><rect x="0.086" y="0" width="0.003" height="1" fill="#58c8f0"/><rect x="0.108" y="0" width="0.003" height="1" fill="#58c8f0"/><rect x="0.115" y="0" width="0.003" height="1" fill="#80e0b0"/><rect x="0.488" y="0" width="0.004" height="1" fill="#40b0f0"/><rect x="0" y="0.072" width="1" height="0.004" fill="#80e0b0"/><rect x="0" y="0.629" width="1" height="0.004" fill="#80e0b0"/><rect x="0" y="0.722" width="1" height="0.005" fill="#1e78f0"/><rect x="0" y="0.962" width="1" height="0.006" fill="#40b0f0"/><rect x="0" y="0.077" width="1" height="0.002" fill="#1e78f0"/><rect x="0.178" y="0" width="0.004" height="1" fill="#40b0f0"/><rect x="0.207" y="0" width="0.005" height="1" fill="#40b0f0"/><rect x="0.486" y="0" width="0.003" height="1" fill="#1e78f0"/><rect x="0" y="0.168" width="1" height="0.004" fill="#80e0b0"/><rect x="0" y="0.956" width="1" height="0.004" fill="#58c8f0"/><rect x="0.646" y="0" width="0.003" height="1" fill="#58c8f0"/><rect x="0.497" y="0" width="0.002" height="1" fill="#80e0b0"/><rect x="0" y="0.436" width="1" height="0.005" fill="#40b0f0"/><rect x="0" y="0.725" width="1" height="0.004" fill="#58c8f0"/><rect x="0" y="0.806" width="1" height="0.005" fill="#80e0b0"/><rect x="0.487" y="0" width="0.004" height="1" fill="#58c8f0"/><rect x="0" y="0.344" width="1" height="0.004" fill="#80e0b0"/><rect x="0" y="0.873" width="1" height="0.004" fill="#40b0f0"/><rect x="0" y="0.935" width="1" height="0.004" fill="#80e0b0"/><rect x="0.617" y="0" width="0.006" height="1" fill="#80e0b0"/><rect x="0.695" y="0" width="0.006" height="1" fill="#1e78f0"/><rect x="0" y="0.582" width="1" height="0.005" fill="#1e78f0"/><rect x="0" y="0.781" width="1" height="0.004" fill="#80e0b0"/><rect x="0.448" y="0" width="0.004" height="1" fill="#80e0b0"/><rect x="0.378" y="0" width="0.004" height="1" fill="#1e78f0"/><rect x="0" y="0.82" width="1" height="0.004" fill="#80e0b0"/><rect x="0.816" y="0" width="0.005" height="1" fill="#40b0f0"/><rect x="0.152" y="0" width="0.005" height="1" fill="#58c8f0"/><rect x="0" y="0.091" width="1" height="0.004" fill="#58c8f0"/><rect x="0.279" y="0" width="0.004" height="1" fill="#1e78f0"/><rect x="0.594" y="0" width="0.005" height="1" fill="#80e0b0"/><rect x="0.479" y="0" width="0.003" height="1" fill="#40b0f0"/><rect x="0" y="0.501" width="1" height="0.003" fill="#80e0b0"/><rect x="0.441" y="0" width="0.004" height="1" fill="#1e78f0"/><rect x="0.158" y="0" width="0.004" height="1" fill="#80e0b0"/><rect x="0" y="0.142" width="1" height="0.003" fill="#40b0f0"/><rect x="0" y="0.809" width="1" height="0.003" fill="#1e78f0"/><rect x="0.806" y="0" width="0.002" height="1" fill="#58c8f0"/><rect x="0" y="0.338" width="1" height="0.006" fill="#40b0f0"/><rect x="0.287" y="0" width="0.002" height="1" fill="#1e78f0"/><rect x="0.636" y="0" width="0.002" height="1" fill="#80e0b0"/><rect x="0.202" y="0" width="0.004" height="1" fill="#40b0f0"/><rect x="0.105" y="0" width="0.005" height="1" fill="#1e78f0"/><rect x="0.83" y="0" width="0.006" height="1" fill="#1e78f0"/><rect x="0" y="0.126" width="1" height="0.005" fill="#40b0f0"/><rect x="0.035" y="0" width="0.002" height="1" fill="#58c8f0"/><rect x="0.616" y="0" width="0.005" height="1" fill="#1e78f0"/><rect x="0.011" y="0" width="0.005" height="1" fill="#1e78f0"/><rect x="0" y="0.096" width="1" height="0.002" fill="#58c8f0"/><rect x="0.894" y="0" width="0.005" height="1" fill="#1e78f0"/><rect x="0" y="0.463" width="1" height="0.003" fill="#80e0b0"/><rect x="0" y="0.226" width="1" height="0.002" fill="#1e78f0"/><rect x="0.422" y="0" width="0.005" height="1" fill="#1e78f0"/><rect x="0" y="0.099" width="1" height="0.006" fill="#1e78f0"/><rect x="0.405" y="0" width="0.003" height="1" fill="#80e0b0"/><rect x="0.499" y="0" width="0.006" height="1" fill="#80e0b0"/><rect x="0" y="0.26" width="1" height="0.003" fill="#1e78f0"/><rect x="0.853" y="0" width="0.006" height="1" fill="#58c8f0"/><rect x="0.699" y="0" width="0.003" height="1" fill="#80e0b0"/><rect x="0.53" y="0" width="0.004" height="1" fill="#1e78f0"/><rect x="0" y="0.572" width="1" height="0.004" fill="#40b0f0"/><rect x="0.274" y="0" width="0.003" height="1" fill="#58c8f0"/><rect x="0" y="0.084" width="1" height="0.004" fill="#80e0b0"/><rect x="0.343" y="0" width="0.004" height="1" fill="#80e0b0"/><rect x="0.961" y="0" width="0.004" height="1" fill="#80e0b0"/><rect x="0.608" y="0" width="0.005" height="1" fill="#1e78f0"/><rect x="0.957" y="0" width="0.006" height="1" fill="#1e78f0"/><rect x="0.452" y="0" width="0.004" height="1" fill="#40b0f0"/><rect x="0" y="0.907" width="1" height="0.004" fill="#58c8f0"/><rect x="0" y="0.125" width="1" height="0.005" fill="#40b0f0"/><rect x="0.334" y="0" width="0.004" height="1" fill="#58c8f0"/><rect x="0" y="0.031" width="1" height="0.005" fill="#58c8f0"/><rect x="0.211" y="0" width="0.006" height="1" fill="#58c8f0"/><rect x="0" y="0.208" width="1" height="0.003" fill="#58c8f0"/><rect x="0.295" y="0" width="0.005" height="1" fill="#1e78f0"/><rect x="0" y="0.412" width="1" height="0.004" fill="#1e78f0"/><rect x="0.307" y="0" width="0.004" height="1" fill="#58c8f0"/><rect x="0" y="0.259" width="1" height="0.003" fill="#40b0f0"/><rect x="0" y="0.234" width="1" height="0.005" fill="#80e0b0"/><rect x="0.657" y="0" width="0.002" height="1" fill="#1e78f0"/><rect x="0.372" y="0" width="0.005" height="1" fill="#1e78f0"/><rect x="0.64" y="0" width="0.003" height="1" fill="#80e0b0"/><rect x="0.451" y="0" width="0.005" height="1" fill="#58c8f0"/><rect x="0" y="0.064" width="1" height="0.004" fill="#58c8f0"/><rect x="0.907" y="0" width="0.004" height="1" fill="#40b0f0"/><rect x="0.839" y="0" width="0.005" height="1" fill="#1e78f0"/><rect x="0.662" y="0" width="0.006" height="1" fill="#40b0f0"/><rect x="0" y="0.373" width="1" height="0.003" fill="#58c8f0"/><rect x="0" y="0.488" width="1" height="0.005" fill="#40b0f0"/><rect x="0.617" y="0" width="0.005" height="1" fill="#1e78f0"/><rect x="0.639" y="0" width="0.003" height="1" fill="#80e0b0"/><rect x="0.952" y="0" width="0.005" height="1" fill="#80e0b0"/><rect x="0.124" y="0" width="0.002" height="1" fill="#1e78f0"/><rect x="0.572" y="0" width="0.004" height="1" fill="#80e0b0"/><rect x="0.534" y="0" width="0.005" height="1" fill="#80e0b0"/><rect x="0" y="0.611" width="1" height="0.004" fill="#1e78f0"/><rect x="0.472" y="0" width="0.004" height="1" fill="#58c8f0"/><rect x="0.019" y="0" width="0.003" height="1" fill="#1e78f0"/><rect x="0" y="0.964" width="1" height="0.002" fill="#58c8f0"/><rect x="0.522" y="0" width="0.006" height="1" fill="#40b0f0"/><rect x="0.608" y="0" width="0.005" height="1" fill="#80e0b0"/><rect x="0.546" y="0" width="0.003" height="1" fill="#40b0f0"/><rect x="0" y="0.188" width="1" height="0.004" fill="#80e0b0"/><rect x="0.727" y="0" width="0.006" height="1" fill="#40b0f0"/><rect x="0.471" y="0" width="0.004" height="1" fill="#40b0f0"/><rect x="0.003" y="0" width="0.002" height="1" fill="#1e78f0"/><rect x="0.009" y="0" width="0.004" height="1" fill="#1e78f0"/><rect x="0" y="0.098" width="1" height="0.005" fill="#40b0f0"/><rect x="0.918" y="0" width="0.006" height="1" fill="#1e78f0"/><rect x="0.828" y="0" width="0.004" height="1" fill="#80e0b0"/><rect x="0.86" y="0" width="0.002" height="1" fill="#40b0f0"/><rect x="0.682" y="0" width="0.005" height="1" fill="#58c8f0"/><rect x="0.4" y="0" width="0.004" height="1" fill="#58c8f0"/><rect x="0" y="0.411" width="1" height="0.002" fill="#1e78f0"/><rect x="0" y="0.932" width="1" height="0.002" fill="#58c8f0"/><rect x="0" y="0.851" width="1" height="0.002" fill="#40b0f0"/><rect x="0" y="0.399" width="1" height="0.005" fill="#40b0f0"/></g></g>
<g id="t87"><rect x="0" y="0" width="1" height="1" fill="#80ff80"/><rect x="0" y="0" width="0.02" height="0.04" fill="#70d8c8"/><rect x="0" y="0.04" width="0.02" height="0.11" fill="#48b8f0"/><rect x="0" y="0.15" width="0.02" height="0.02" fill="#48b8f0"/><rect x="0" y="0.17" width="0.02" height="0.06" fill="#88d8a8"/><rect x="0" y="0.23" width="0.02" height="0.03" fill="#48b8f0"/><rect x="0" y="0.26" width="0.02" height="0.17" fill="#48b8f0"/><rect x="0" y="0.43" width="0.02" height="0.02" fill="#48b8f0"/><rect x="0" y="0.45" width="0.02" height="0.05" fill="#88d8a8"/><rect x="0" y="0.5" width="0.02" height="0.02" fill="#48b8f0"/><rect x="0" y="0.52" width="0.02" height="0.19" fill="#48b8f0"/><rect x="0" y="0.71" width="0.02" height="0.02" fill="#48b8f0"/><rect x="0" y="0.73" width="0.02" height="0.06" fill="#88d8a8"/><rect x="0" y="0.79" width="0.02" height="0.02" fill="#48b8f0"/><rect x="0" y="0.81" width="0.02" height="0.16" fill="#48b8f0"/><rect x="0" y="0.97" width="0.02" height="0.03" fill="#70d8c8"/><rect x="0.02" y="0" width="0.13" height="0.04" fill="#70d8c8"/><rect x="0.02" y="0.04" width="0.13" height="0.11" fill="#2a88f0"/><rect x="0.02" y="0.15" width="0.13" height="0.02" fill="#48b8f0"/><rect x="0.02" y="0.17" width="0.13" height="0.06" fill="#88d8a8"/><rect x="0.02" y="0.23" width="0.13" height="0.03" fill="#48b8f0"/><rect x="0.02" y="0.26" width="0.13" height="0.17" fill="#2a88f0"/><rect x="0.02" y="0.43" width="0.13" height="0.02" fill="#48b8f0"/><rect x="0.02" y="0.45" width="0.13" height="0.05" fill="#88d8a8"/><rect x="0.02" y="0.5" width="0.13" height="0.02" fill="#48b8f0"/><rect x="0.02" y="0.52" width="0.13" height="0.19" fill="#2a88f0"/><rect x="0.02" y="0.71" width="0.13" height="0.02" fill="#48b8f0"/><rect x="0.02" y="0.73" width="0.13" height="0.06" fill="#88d8a8"/><rect x="0.02" y="0.79" width="0.13" height="0.02" fill="#48b8f0"/><rect x="0.02" y="0.81" width="0.13" height="0.16" fill="#2a88f0"/><rect x="0.02" y="0.97" width="0.13" height="0.03" fill="#70d8c8"/><rect x="0.15" y="0" width="0.03" height="0.04" fill="#70d8c8"/><rect x="0.15" y="0.04" width="0.03" height="0.11" fill="#48b8f0"/><rect x="0.15" y="0.15" width="0.03" height="0.02" fill="#48b8f0"/><rect x="0.15" y="0.17" width="0.03" height="0.06" fill="#88d8a8"/><rect x="0.15" y="0.23" width="0.03" height="0.03" fill="#48b8f0"/><rect x="0.15" y="0.26" width="0.03" height="0.17" fill="#48b8f0"/><rect x="0.15" y="0.43" width="0.03" height="0.02" fill="#48b8f0"/><rect x="0.15" y="0.45" width="0.03" height="0.05" fill="#88d8a8"/><rect x="0.15" y="0.5" width="0.03" height="0.02" fill="#48b8f0"/><rect x="0.15" y="0.52" width="0.03" height="0.19" fill="#48b8f0"/><rect x="0.15" y="0.71" width="0.03" height="0.02" fill="#48b8f0"/><rect x="0.15" y="0.73" width="0.03" height="0.06" fill="#88d8a8"/><rect x="0.15" y="0.79" width="0.03" height="0.02" fill="#48b8f0"/><rect x="0.15" y="0.81" width="0.03" height="0.16" fill="#48b8f0"/><rect x="0.15" y="0.97" width="0.03" height="0.03" fill="#70d8c8"/><rect x="0.18" y="0" width="0.12" height="0.04" fill="#88d8a8"/><rect x="0.18" y="0.04" width="0.12" height="0.11" fill="#88d8a8"/><rect x="0.18" y="0.15" width="0.12" height="0.02" fill="#88d8a8"/><rect x="0.18" y="0.17" width="0.12" height="0.06" fill="#a8e080"/><rect x="0.18" y="0.23" width="0.12" height="0.03" fill="#88d8a8"/><rect x="0.18" y="0.26" width="0.12" height="0.17" fill="#88d8a8"/><rect x="0.18" y="0.43" width="0.12" height="0.02" fill="#88d8a8"/><rect x="0.18" y="0.45" width="0.12" height="0.05" fill="#a8e080"/><rect x="0.18" y="0.5" width="0.12" height="0.02" fill="#88d8a8"/><rect x="0.18" y="0.52" width="0.12" height="0.19" fill="#88d8a8"/><rect x="0.18" y="0.71" width="0.12" height="0.02" fill="#88d8a8"/><rect x="0.18" y="0.73" width="0.12" height="0.06" fill="#a8e080"/><rect x="0.18" y="0.79" width="0.12" height="0.02" fill="#88d8a8"/><rect x="0.18" y="0.81" width="0.12" height="0.16" fill="#88d8a8"/><rect x="0.18" y="0.97" width="0.12" height="0.03" fill="#88d8a8"/><rect x="0.3" y="0" width="0.03" height="0.04" fill="#70d8c8"/><rect x="0.3" y="0.04" width="0.03" height="0.11" fill="#48b8f0"/><rect x="0.3" y="0.15" width="0.03" height="0.02" fill="#48b8f0"/><rect x="0.3" y="0.17" width="0.03" height="0.06" fill="#88d8a8"/><rect x="0.3" y="0.23" width="0.03" height="0.03" fill="#48b8f0"/><rect x="0.3" y="0.26" width="0.03" height="0.17" fill="#48b8f0"/><rect x="0.3" y="0.43" width="0.03" height="0.02" fill="#48b8f0"/><rect x="0.3" y="0.45" width="0.03" height="0.05" fill="#88d8a8"/><rect x="0.3" y="0.5" width="0.03" height="0.02" fill="#48b8f0"/><rect x="0.3" y="0.52" width="0.03" height="0.19" fill="#48b8f0"/><rect x="0.3" y="0.71" width="0.03" height="0.02" fill="#48b8f0"/><rect x="0.3" y="0.73" width="0.03" height="0.06" fill="#88d8a8"/><rect x="0.3" y="0.79" width="0.03" height="0.02" fill="#48b8f0"/><rect x="0.3" y="0.81" width="0.03" height="0.16" fill="#48b8f0"/><rect x="0.3" y="0.97" width="0.03" height="0.03" fill="#70d8c8"/><rect x="0.33" y="0" width="0.24" height="0.04" fill="#70d8c8"/><rect x="0.33" y="0.04" width="0.24" height="0.11" fill="#2a88f0"/><rect x="0.33" y="0.15" width="0.24" height="0.02" fill="#48b8f0"/><rect x="0.33" y="0.17" width="0.24" height="0.06" fill="#88d8a8"/><rect x="0.33" y="0.23" width="0.24" height="0.03" fill="#48b8f0"/><rect x="0.33" y="0.26" width="0.24" height="0.17" fill="#2a88f0"/><rect x="0.33" y="0.43" width="0.24" height="0.02" fill="#48b8f0"/><rect x="0.33" y="0.45" width="0.24" height="0.05" fill="#88d8a8"/><rect x="0.33" y="0.5" width="0.24" height="0.02" fill="#48b8f0"/><rect x="0.33" y="0.52" width="0.24" height="0.19" fill="#2a88f0"/><rect x="0.33" y="0.71" width="0.24" height="0.02" fill="#48b8f0"/><rect x="0.33" y="0.73" width="0.24" height="0.06" fill="#88d8a8"/><rect x="0.33" y="0.79" width="0.24" height="0.02" fill="#48b8f0"/><rect x="0.33" y="0.81" width="0.24" height="0.16" fill="#2a88f0"/><rect x="0.33" y="0.97" width="0.24" height="0.03" fill="#70d8c8"/><rect x="0.57" y="0" width="0.03" height="0.04" fill="#70d8c8"/><rect x="0.57" y="0.04" width="0.03" height="0.11" fill="#48b8f0"/><rect x="0.57" y="0.15" width="0.03" height="0.02" fill="#48b8f0"/><rect x="0.57" y="0.17" width="0.03" height="0.06" fill="#88d8a8"/><rect x="0.57" y="0.23" width="0.03" height="0.03" fill="#48b8f0"/><rect x="0.57" y="0.26" width="0.03" height="0.17" fill="#48b8f0"/><rect x="0.57" y="0.43" width="0.03" height="0.02" fill="#48b8f0"/><rect x="0.57" y="0.45" width="0.03" height="0.05" fill="#88d8a8"/><rect x="0.57" y="0.5" width="0.03" height="0.02" fill="#48b8f0"/><rect x="0.57" y="0.52" width="0.03" height="0.19" fill="#48b8f0"/><rect x="0.57" y="0.71" width="0.03" height="0.02" fill="#48b8f0"/><rect x="0.57" y="0.73" width="0.03" height="0.06" fill="#88d8a8"/><rect x="0.57" y="0.79" width="0.03" height="0.02" fill="#48b8f0"/><rect x="0.57" y="0.81" width="0.03" height="0.16" fill="#48b8f0"/><rect x="0.57" y="0.97" width="0.03" height="0.03" fill="#70d8c8"/><rect x="0.6" y="0" width="0.06" height="0.04" fill="#88d8a8"/><rect x="0.6" y="0.04" width="0.06" height="0.11" fill="#88d8a8"/><rect x="0.6" y="0.15" width="0.06" height="0.02" fill="#88d8a8"/><rect x="0.6" y="0.17" width="0.06" height="0.06" fill="#a8e080"/><rect x="0.6" y="0.23" width="0.06" height="0.03" fill="#88d8a8"/><rect x="0.6" y="0.26" width="0.06" height="0.17" fill="#88d8a8"/><rect x="0.6" y="0.43" width="0.06" height="0.02" fill="#88d8a8"/><rect x="0.6" y="0.45" width="0.06" height="0.05" fill="#a8e080"/><rect x="0.6" y="0.5" width="0.06" height="0.02" fill="#88d8a8"/><rect x="0.6" y="0.52" width="0.06" height="0.19" fill="#88d8a8"/><rect x="0.6" y="0.71" width="0.06" height="0.02" fill="#88d8a8"/><rect x="0.6" y="0.73" width="0.06" height="0.06" fill="#a8e080"/><rect x="0.6" y="0.79" width="0.06" height="0.02" fill="#88d8a8"/><rect x="0.6" y="0.81" width="0.06" height="0.16" fill="#88d8a8"/><rect x="0.6" y="0.97" width="0.06" height="0.03" fill="#88d8a8"/><rect x="0.66" y="0" width="0.03" height="0.04" fill="#70d8c8"/><rect x="0.66" y="0.04" width="0.03" height="0.11" fill="#48b8f0"/><rect x="0.66" y="0.15" width="0.03" height="0.02" fill="#48b8f0"/><rect x="0.66" y="0.17" width="0.03" height="0.06" fill="#88d8a8"/><rect x="0.66" y="0.23" width="0.03" height="0.03" fill="#48b8f0"/><rect x="0.66" y="0.26" width="0.03" height="0.17" fill="#48b8f0"/><rect x="0.66" y="0.43" width="0.03" height="0.02" fill="#48b8f0"/><rect x="0.66" y="0.45" width="0.03" height="0.05" fill="#88d8a8"/><rect x="0.66" y="0.5" width="0.03" height="0.02" fill="#48b8f0"/><rect x="0.66" y="0.52" width="0.03" height="0.19" fill="#48b8f0"/><rect x="0.66" y="0.71" width="0.03" height="0.02" fill="#48b8f0"/><rect x="0.66" y="0.73" width="0.03" height="0.06" fill="#88d8a8"/><rect x="0.66" y="0.79" width="0.03" height="0.02" fill="#48b8f0"/><rect x="0.66" y="0.81" width="0.03" height="0.16" fill="#48b8f0"/><rect x="0.66" y="0.97" width="0.03" height="0.03" fill="#70d8c8"/><rect x="0.69" y="0" width="0.1" height="0.04" fill="#70d8c8"/><rect x="0.69" y="0.04" width="0.1" height="0.11" fill="#2a88f0"/><rect x="0.69" y="0.15" width="0.1" height="0.02" fill="#48b8f0"/><rect x="0.69" y="0.17" width="0.1" height="0.06" fill="#88d8a8"/><rect x="0.69" y="0.23" width="0.1" height="0.03" fill="#48b8f0"/><rect x="0.69" y="0.26" width="0.1" height="0.17" fill="#2a88f0"/><rect x="0.69" y="0.43" width="0.1" height="0.02" fill="#48b8f0"/><rect x="0.69" y="0.45" width="0.1" height="0.05" fill="#88d8a8"/><rect x="0.69" y="0.5" width="0.1" height="0.02" fill="#48b8f0"/><rect x="0.69" y="0.52" width="0.1" height="0.19" fill="#2a88f0"/><rect x="0.69" y="0.71" width="0.1" height="0.02" fill="#48b8f0"/><rect x="0.69" y="0.73" width="0.1" height="0.06" fill="#88d8a8"/><rect x="0.69" y="0.79" width="0.1" height="0.02" fill="#48b8f0"/><rect x="0.69" y="0.81" width="0.1" height="0.16" fill="#2a88f0"/><rect x="0.69" y="0.97" width="0.1" height="0.03" fill="#70d8c8"/><rect x="0.79" y="0" width="0.02" height="0.04" fill="#70d8c8"/><rect x="0.79" y="0.04" width="0.02" height="0.11" fill="#48b8f0"/><rect x="0.79" y="0.15" width="0.02" height="0.02" fill="#48b8f0"/><rect x="0.79" y="0.17" width="0.02" height="0.06" fill="#88d8a8"/><rect x="0.79" y="0.23" width="0.02" height="0.03" fill="#48b8f0"/><rect x="0.79" y="0.26" width="0.02" height="0.17" fill="#48b8f0"/><rect x="0.79" y="0.43" width="0.02" height="0.02" fill="#48b8f0"/><rect x="0.79" y="0.45" width="0.02" height="0.05" fill="#88d8a8"/><rect x="0.79" y="0.5" width="0.02" height="0.02" fill="#48b8f0"/><rect x="0.79" y="0.52" width="0.02" height="0.19" fill="#48b8f0"/><rect x="0.79" y="0.71" width="0.02" height="0.02" fill="#48b8f0"/><rect x="0.79" y="0.73" width="0.02" height="0.06" fill="#88d8a8"/><rect x="0.79" y="0.79" width="0.02" height="0.02" fill="#48b8f0"/><rect x="0.79" y="0.81" width="0.02" height="0.16" fill="#48b8f0"/><rect x="0.79" y="0.97" width="0.02" height="0.03" fill="#70d8c8"/><rect x="0.81" y="0" width="0.06" height="0.04" fill="#88d8a8"/><rect x="0.81" y="0.04" width="0.06" height="0.11" fill="#88d8a8"/><rect x="0.81" y="0.15" width="0.06" height="0.02" fill="#88d8a8"/><rect x="0.81" y="0.17" width="0.06" height="0.06" fill="#a8e080"/><rect x="0.81" y="0.23" width="0.06" height="0.03" fill="#88d8a8"/><rect x="0.81" y="0.26" width="0.06" height="0.17" fill="#88d8a8"/><rect x="0.81" y="0.43" width="0.06" height="0.02" fill="#88d8a8"/><rect x="0.81" y="0.45" width="0.06" height="0.05" fill="#a8e080"/><rect x="0.81" y="0.5" width="0.06" height="0.02" fill="#88d8a8"/><rect x="0.81" y="0.52" width="0.06" height="0.19" fill="#88d8a8"/><rect x="0.81" y="0.71" width="0.06" height="0.02" fill="#88d8a8"/><rect x="0.81" y="0.73" width="0.06" height="0.06" fill="#a8e080"/><rect x="0.81" y="0.79" width="0.06" height="0.02" fill="#88d8a8"/><rect x="0.81" y="0.81" width="0.06" height="0.16" fill="#88d8a8"/><rect x="0.81" y="0.97" width="0.06" height="0.03" fill="#88d8a8"/><rect x="0.87" y="0" width="0.02" height="0.04" fill="#70d8c8"/><rect x="0.87" y="0.04" width="0.02" height="0.11" fill="#48b8f0"/><rect x="0.87" y="0.15" width="0.02" height="0.02" fill="#48b8f0"/><rect x="0.87" y="0.17" width="0.02" height="0.06" fill="#88d8a8"/><rect x="0.87" y="0.23" width="0.02" height="0.03" fill="#48b8f0"/><rect x="0.87" y="0.26" width="0.02" height="0.17" fill="#48b8f0"/><rect x="0.87" y="0.43" width="0.02" height="0.02" fill="#48b8f0"/><rect x="0.87" y="0.45" width="0.02" height="0.05" fill="#88d8a8"/><rect x="0.87" y="0.5" width="0.02" height="0.02" fill="#48b8f0"/><rect x="0.87" y="0.52" width="0.02" height="0.19" fill="#48b8f0"/><rect x="0.87" y="0.71" width="0.02" height="0.02" fill="#48b8f0"/><rect x="0.87" y="0.73" width="0.02" height="0.06" fill="#88d8a8"/><rect x="0.87" y="0.79" width="0.02" height="0.02" fill="#48b8f0"/><rect x="0.87" y="0.81" width="0.02" height="0.16" fill="#48b8f0"/><rect x="0.87" y="0.97" width="0.02" height="0.03" fill="#70d8c8"/><rect x="0.89" y="0" width="0.08" height="0.04" fill="#70d8c8"/><rect x="0.89" y="0.04" width="0.08" height="0.11" fill="#2a88f0"/><rect x="0.89" y="0.15" width="0.08" height="0.02" fill="#48b8f0"/><rect x="0.89" y="0.17" width="0.08" height="0.06" fill="#88d8a8"/><rect x="0.89" y="0.23" width="0.08" height="0.03" fill="#48b8f0"/><rect x="0.89" y="0.26" width="0.08" height="0.17" fill="#2a88f0"/><rect x="0.89" y="0.43" width="0.08" height="0.02" fill="#48b8f0"/><rect x="0.89" y="0.45" width="0.08" height="0.05" fill="#88d8a8"/><rect x="0.89" y="0.5" width="0.08" height="0.02" fill="#48b8f0"/><rect x="0.89" y="0.52" width="0.08" height="0.19" fill="#2a88f0"/><rect x="0.89" y="0.71" width="0.08" height="0.02" fill="#48b8f0"/><rect x="0.89" y="0.73" width="0.08" height="0.06" fill="#88d8a8"/><rect x="0.89" y="0.79" width="0.08" height="0.02" fill="#48b8f0"/><rect x="0.89" y="0.81" width="0.08" height="0.16" fill="#2a88f0"/><rect x="0.89" y="0.97" width="0.08" height="0.03" fill="#70d8c8"/><rect x="0.97" y="0" width="0.03" height="0.04" fill="#70d8c8"/><rect x="0.97" y="0.04" width="0.03" height="0.11" fill="#70d8c8"/><rect x="0.97" y="0.15" width="0.03" height="0.02" fill="#70d8c8"/><rect x="0.97" y="0.17" width="0.03" height="0.06" fill="#88d8a8"/><rect x="0.97" y="0.23" width="0.03" height="0.03" fill="#70d8c8"/><rect x="0.97" y="0.26" width="0.03" height="0.17" fill="#70d8c8"/><rect x="0.97" y="0.43" width="0.03" height="0.02" fill="#70d8c8"/><rect x="0.97" y="0.45" width="0.03" height="0.05" fill="#88d8a8"/><rect x="0.97" y="0.5" width="0.03" height="0.02" fill="#70d8c8"/><rect x="0.97" y="0.52" width="0.03" height="0.19" fill="#70d8c8"/><rect x="0.97" y="0.71" width="0.03" height="0.02" fill="#70d8c8"/><rect x="0.97" y="0.73" width="0.03" height="0.06" fill="#88d8a8"/><rect x="0.97" y="0.79" width="0.03" height="0.02" fill="#70d8c8"/><rect x="0.97" y="0.81" width="0.03" height="0.16" fill="#70d8c8"/><rect x="0.97" y="0.97" width="0.03" height="0.03" fill="#70d8c8"/><polygon points="0.32,0.6 0.37,0.57 0.35,0.64" fill="#f0e830"/><rect x="0.8" y="0.6" width="0.04" height="0.07" fill="#e8e040"/><rect x="0.2" y="0.62" width="0.04" height="0.04" fill="#e0e040"/><g opacity="0.55"><rect x="0" y="0.928" width="1" height="0.003" fill="#1e70f0"/><rect x="0" y="0.31" width="1" height="0.005" fill="#1e70f0"/><rect x="0.162" y="0" width="0.006" height="1" fill="#90dca0"/><rect x="0.123" y="0" width="0.004" height="1" fill="#3aa0f0"/><rect x="0.868" y="0" width="0.006" height="1" fill="#90dca0"/><rect x="0.213" y="0" width="0.002" height="1" fill="#3aa0f0"/><rect x="0" y="0.019" width="1" height="0.004" fill="#c8e850"/><rect x="0.362" y="0" width="0.006" height="1" fill="#58c8f0"/><rect x="0" y="0.29" width="1" height="0.004" fill="#90dca0"/><rect x="0" y="0.195" width="1" height="0.004" fill="#58c8f0"/><rect x="0.579" y="0" width="0.002" height="1" fill="#1e70f0"/><rect x="0" y="0.647" width="1" height="0.004" fill="#60d8c8"/><rect x="0" y="0.847" width="1" height="0.003" fill="#3aa0f0"/><rect x="0" y="0.16" width="1" height="0.003" fill="#3aa0f0"/><rect x="0" y="0.343" width="1" height="0.004" fill="#c8e850"/><rect x="0" y="0.897" width="1" height="0.002" fill="#58c8f0"/><rect x="0" y="0.455" width="1" height="0.005" fill="#1e70f0"/><rect x="0" y="0.333" width="1" height="0.005" fill="#1e70f0"/><rect x="0" y="0.104" width="1" height="0.003" fill="#58c8f0"/><rect x="0" y="0.991" width="1" height="0.006" fill="#60d8c8"/><rect x="0" y="0.571" width="1" height="0.005" fill="#60d8c8"/><rect x="0.466" y="0" width="0.006" height="1" fill="#90dca0"/><rect x="0.375" y="0" width="0.003" height="1" fill="#90dca0"/><rect x="0.561" y="0" width="0.005" height="1" fill="#90dca0"/><rect x="0.782" y="0" width="0.004" height="1" fill="#1e70f0"/><rect x="0" y="0.172" width="1" height="0.003" fill="#c8e850"/><rect x="0" y="0.239" width="1" height="0.005" fill="#1e70f0"/><rect x="0" y="0.723" width="1" height="0.004" fill="#58c8f0"/><rect x="0" y="0.704" width="1" height="0.006" fill="#c8e850"/><rect x="0.4" y="0" width="0.003" height="1" fill="#c8e850"/><rect x="0.862" y="0" width="0.005" height="1" fill="#3aa0f0"/><rect x="0" y="0.15" width="1" height="0.004" fill="#3aa0f0"/><rect x="0.235" y="0" width="0.006" height="1" fill="#c8e850"/><rect x="0" y="0.135" width="1" height="0.005" fill="#c8e850"/><rect x="0.407" y="0" width="0.004" height="1" fill="#c8e850"/><rect x="0" y="0.436" width="1" height="0.004" fill="#c8e850"/><rect x="0" y="0.914" width="1" height="0.005" fill="#3aa0f0"/><rect x="0.762" y="0" width="0.005" height="1" fill="#90dca0"/><rect x="0.275" y="0" width="0.006" height="1" fill="#c8e850"/><rect x="0" y="0.651" width="1" height="0.004" fill="#1e70f0"/><rect x="0.72" y="0" width="0.002" height="1" fill="#60d8c8"/><rect x="0" y="0.916" width="1" height="0.003" fill="#c8e850"/><rect x="0.017" y="0" width="0.005" height="1" fill="#90dca0"/><rect x="0.862" y="0" width="0.005" height="1" fill="#3aa0f0"/><rect x="0" y="0.719" width="1" height="0.003" fill="#58c8f0"/><rect x="0" y="0.363" width="1" height="0.004" fill="#60d8c8"/><rect x="0.044" y="0" width="0.006" height="1" fill="#3aa0f0"/><rect x="0" y="0.569" width="1" height="0.004" fill="#90dca0"/><rect x="0.972" y="0" width="0.002" height="1" fill="#1e70f0"/><rect x="0.541" y="0" width="0.004" height="1" fill="#1e70f0"/><rect x="0.479" y="0" width="0.004" height="1" fill="#3aa0f0"/><rect x="0.348" y="0" width="0.002" height="1" fill="#3aa0f0"/><rect x="0" y="0.499" width="1" height="0.004" fill="#3aa0f0"/><rect x="0.054" y="0" width="0.003" height="1" fill="#3aa0f0"/><rect x="0" y="0.849" width="1" height="0.005" fill="#c8e850"/><rect x="0" y="0.493" width="1" height="0.004" fill="#90dca0"/><rect x="0" y="0.03" width="1" height="0.006" fill="#3aa0f0"/><rect x="0" y="0.296" width="1" height="0.003" fill="#60d8c8"/><rect x="0.037" y="0" width="0.003" height="1" fill="#58c8f0"/><rect x="0.477" y="0" width="0.003" height="1" fill="#60d8c8"/><rect x="0.417" y="0" width="0.006" height="1" fill="#c8e850"/><rect x="0.194" y="0" width="0.005" height="1" fill="#60d8c8"/><rect x="0.707" y="0" width="0.004" height="1" fill="#60d8c8"/><rect x="0.3" y="0" width="0.006" height="1" fill="#60d8c8"/><rect x="0" y="0.517" width="1" height="0.003" fill="#60d8c8"/><rect x="0.321" y="0" width="0.002" height="1" fill="#c8e850"/><rect x="0.212" y="0" width="0.003" height="1" fill="#c8e850"/><rect x="0" y="0.097" width="1" height="0.002" fill="#60d8c8"/><rect x="0.011" y="0" width="0.005" height="1" fill="#58c8f0"/><rect x="0" y="0.892" width="1" height="0.003" fill="#c8e850"/><rect x="0.886" y="0" width="0.004" height="1" fill="#58c8f0"/><rect x="0" y="0.083" width="1" height="0.003" fill="#3aa0f0"/><rect x="0.806" y="0" width="0.006" height="1" fill="#60d8c8"/><rect x="0.652" y="0" width="0.005" height="1" fill="#90dca0"/><rect x="0.75" y="0" width="0.005" height="1" fill="#c8e850"/><rect x="0.01" y="0" width="0.002" height="1" fill="#c8e850"/><rect x="0.607" y="0" width="0.005" height="1" fill="#3aa0f0"/><rect x="0" y="0.355" width="1" height="0.006" fill="#c8e850"/><rect x="0.862" y="0" width="0.004" height="1" fill="#90dca0"/><rect x="0.872" y="0" width="0.004" height="1" fill="#c8e850"/><rect x="0" y="0.742" width="1" height="0.005" fill="#c8e850"/><rect x="0.311" y="0" width="0.004" height="1" fill="#3aa0f0"/><rect x="0" y="0.07" width="1" height="0.004" fill="#1e70f0"/><rect x="0.499" y="0" width="0.004" height="1" fill="#58c8f0"/><rect x="0" y="0.786" width="1" height="0.004" fill="#60d8c8"/><rect x="0.652" y="0" width="0.006" height="1" fill="#60d8c8"/><rect x="0.68" y="0" width="0.006" height="1" fill="#3aa0f0"/><rect x="0.369" y="0" width="0.004" height="1" fill="#c8e850"/><rect x="0" y="0.506" width="1" height="0.005" fill="#1e70f0"/><rect x="0.572" y="0" width="0.004" height="1" fill="#1e70f0"/><rect x="0.847" y="0" width="0.004" height="1" fill="#c8e850"/><rect x="0.666" y="0" width="0.003" height="1" fill="#1e70f0"/><rect x="0" y="0.104" width="1" height="0.006" fill="#c8e850"/><rect x="0.15" y="0" width="0.005" height="1" fill="#c8e850"/><rect x="0" y="0.253" width="1" height="0.005" fill="#c8e850"/><rect x="0" y="0.218" width="1" height="0.003" fill="#58c8f0"/><rect x="0" y="0.333" width="1" height="0.005" fill="#3aa0f0"/><rect x="0.555" y="0" width="0.003" height="1" fill="#58c8f0"/><rect x="0.842" y="0" width="0.004" height="1" fill="#58c8f0"/><rect x="0.284" y="0" width="0.006" height="1" fill="#60d8c8"/><rect x="0" y="0.763" width="1" height="0.004" fill="#60d8c8"/><rect x="0" y="0.807" width="1" height="0.003" fill="#c8e850"/><rect x="0" y="0.966" width="1" height="0.005" fill="#3aa0f0"/><rect x="0.995" y="0" width="0.003" height="1" fill="#3aa0f0"/><rect x="0.285" y="0" width="0.006" height="1" fill="#60d8c8"/><rect x="0.461" y="0" width="0.004" height="1" fill="#c8e850"/><rect x="0" y="0.823" width="1" height="0.005" fill="#3aa0f0"/><rect x="0" y="0.33" width="1" height="0.005" fill="#90dca0"/><rect x="0.419" y="0" width="0.003" height="1" fill="#3aa0f0"/><rect x="0.181" y="0" width="0.006" height="1" fill="#58c8f0"/><rect x="0" y="0.216" width="1" height="0.002" fill="#1e70f0"/><rect x="0.212" y="0" width="0.005" height="1" fill="#1e70f0"/><rect x="0.246" y="0" width="0.005" height="1" fill="#58c8f0"/><rect x="0.905" y="0" width="0.003" height="1" fill="#58c8f0"/><rect x="0.311" y="0" width="0.003" height="1" fill="#1e70f0"/><rect x="0.688" y="0" width="0.006" height="1" fill="#1e70f0"/><rect x="0.015" y="0" width="0.006" height="1" fill="#60d8c8"/><rect x="0" y="0.164" width="1" height="0.005" fill="#c8e850"/><rect x="0.914" y="0" width="0.003" height="1" fill="#90dca0"/><rect x="0.539" y="0" width="0.005" height="1" fill="#58c8f0"/><rect x="0.179" y="0" width="0.005" height="1" fill="#90dca0"/><rect x="0" y="0.088" width="1" height="0.004" fill="#c8e850"/><rect x="0.641" y="0" width="0.005" height="1" fill="#1e70f0"/><rect x="0" y="0.57" width="1" height="0.004" fill="#58c8f0"/><rect x="0" y="0.544" width="1" height="0.005" fill="#58c8f0"/><rect x="0.503" y="0" width="0.003" height="1" fill="#3aa0f0"/><rect x="0.884" y="0" width="0.003" height="1" fill="#60d8c8"/><rect x="0.882" y="0" width="0.003" height="1" fill="#3aa0f0"/><rect x="0.004" y="0" width="0.005" height="1" fill="#58c8f0"/><rect x="0" y="0.231" width="1" height="0.004" fill="#58c8f0"/><rect x="0.874" y="0" width="0.004" height="1" fill="#1e70f0"/><rect x="0.662" y="0" width="0.006" height="1" fill="#58c8f0"/><rect x="0" y="0.236" width="1" height="0.006" fill="#3aa0f0"/><rect x="0" y="0.859" width="1" height="0.003" fill="#3aa0f0"/><rect x="0.488" y="0" width="0.006" height="1" fill="#58c8f0"/><rect x="0.714" y="0" width="0.002" height="1" fill="#90dca0"/><rect x="0" y="0.672" width="1" height="0.006" fill="#58c8f0"/><rect x="0" y="0.312" width="1" height="0.004" fill="#60d8c8"/><rect x="0.37" y="0" width="0.005" height="1" fill="#90dca0"/><rect x="0" y="0.703" width="1" height="0.005" fill="#c8e850"/><rect x="0" y="0.138" width="1" height="0.003" fill="#90dca0"/><rect x="0.311" y="0" width="0.002" height="1" fill="#90dca0"/><rect x="0.273" y="0" width="0.002" height="1" fill="#1e70f0"/><rect x="0" y="0.596" width="1" height="0.004" fill="#3aa0f0"/><rect x="0" y="0.087" width="1" height="0.003" fill="#90dca0"/><rect x="0" y="0.466" width="1" height="0.005" fill="#60d8c8"/><rect x="0.759" y="0" width="0.003" height="1" fill="#1e70f0"/><rect x="0.991" y="0" width="0.006" height="1" fill="#c8e850"/><rect x="0.802" y="0" width="0.003" height="1" fill="#58c8f0"/><rect x="0.637" y="0" width="0.003" height="1" fill="#1e70f0"/><rect x="0" y="0.252" width="1" height="0.004" fill="#c8e850"/><rect x="0" y="0.23" width="1" height="0.006" fill="#3aa0f0"/><rect x="0" y="0.819" width="1" height="0.005" fill="#58c8f0"/><rect x="0.706" y="0" width="0.002" height="1" fill="#58c8f0"/><rect x="0.455" y="0" width="0.005" height="1" fill="#1e70f0"/><rect x="0" y="0.743" width="1" height="0.006" fill="#3aa0f0"/><rect x="0" y="0.205" width="1" height="0.003" fill="#60d8c8"/><rect x="0" y="0.639" width="1" height="0.005" fill="#60d8c8"/><rect x="0.725" y="0" width="0.002" height="1" fill="#1e70f0"/><rect x="0.569" y="0" width="0.006" height="1" fill="#60d8c8"/><rect x="0" y="0.515" width="1" height="0.002" fill="#3aa0f0"/><rect x="0" y="0.419" width="1" height="0.004" fill="#3aa0f0"/><rect x="0" y="0.563" width="1" height="0.005" fill="#60d8c8"/><rect x="0" y="0.278" width="1" height="0.005" fill="#c8e850"/><rect x="0" y="0.078" width="1" height="0.005" fill="#3aa0f0"/><rect x="0" y="0.605" width="1" height="0.005" fill="#90dca0"/><rect x="0" y="0.255" width="1" height="0.004" fill="#3aa0f0"/><rect x="0" y="0.106" width="1" height="0.003" fill="#60d8c8"/><rect x="0.269" y="0" width="0.003" height="1" fill="#c8e850"/><rect x="0.44" y="0" width="0.005" height="1" fill="#3aa0f0"/></g></g>
<g id="t88"><rect x="0" y="0" width="1" height="1" fill="#80ff80"/><rect x="0" y="0" width="0.41" height="0.1" fill="#80dcb0"/><rect x="0" y="0.1" width="0.41" height="0.1" fill="#f8c038"/><rect x="0" y="0.2" width="0.41" height="0.1" fill="#80dcb0"/><rect x="0" y="0.3" width="0.41" height="0.22" fill="#f89a30"/><rect x="0" y="0.52" width="0.41" height="0.04" fill="#48b0f0"/><rect x="0" y="0.56" width="0.41" height="0.14" fill="#d0e448"/><rect x="0" y="0.7" width="0.41" height="0.12" fill="#f8c038"/><rect x="0" y="0.82" width="0.41" height="0.06" fill="#1e6ee8"/><rect x="0" y="0.88" width="0.41" height="0.12" fill="#90dca8"/><rect x="0.41" y="0" width="0.09" height="0.1" fill="#48b8f0"/><rect x="0.41" y="0.1" width="0.09" height="0.1" fill="#f8c038"/><rect x="0.41" y="0.2" width="0.09" height="0.1" fill="#48b8f0"/><rect x="0.41" y="0.3" width="0.09" height="0.22" fill="#f0b040"/><rect x="0.41" y="0.52" width="0.09" height="0.04" fill="#48b0f0"/><rect x="0.41" y="0.56" width="0.09" height="0.14" fill="#48b8f0"/><rect x="0.41" y="0.7" width="0.09" height="0.12" fill="#f8c038"/><rect x="0.41" y="0.82" width="0.09" height="0.06" fill="#1e6ee8"/><rect x="0.41" y="0.88" width="0.09" height="0.12" fill="#48b8f0"/><rect x="0.5" y="0" width="0.2" height="0.1" fill="#80dcb0"/><rect x="0.5" y="0.1" width="0.2" height="0.1" fill="#f8c038"/><rect x="0.5" y="0.2" width="0.2" height="0.1" fill="#80dcb0"/><rect x="0.5" y="0.3" width="0.2" height="0.22" fill="#f89a30"/><rect x="0.5" y="0.52" width="0.2" height="0.04" fill="#48b0f0"/><rect x="0.5" y="0.56" width="0.2" height="0.14" fill="#d0e448"/><rect x="0.5" y="0.7" width="0.2" height="0.12" fill="#f8c038"/><rect x="0.5" y="0.82" width="0.2" height="0.06" fill="#1e6ee8"/><rect x="0.5" y="0.88" width="0.2" height="0.12" fill="#90dca8"/><rect x="0.7" y="0" width="0.08" height="0.1" fill="#48b8f0"/><rect x="0.7" y="0.1" width="0.08" height="0.1" fill="#f8c038"/><rect x="0.7" y="0.2" width="0.08" height="0.1" fill="#48b8f0"/><rect x="0.7" y="0.3" width="0.08" height="0.22" fill="#f0b040"/><rect x="0.7" y="0.52" width="0.08" height="0.04" fill="#48b0f0"/><rect x="0.7" y="0.56" width="0.08" height="0.14" fill="#48b8f0"/><rect x="0.7" y="0.7" width="0.08" height="0.12" fill="#f8c038"/><rect x="0.7" y="0.82" width="0.08" height="0.06" fill="#1e6ee8"/><rect x="0.7" y="0.88" width="0.08" height="0.12" fill="#48b8f0"/><rect x="0.78" y="0" width="0.22" height="0.1" fill="#80dcb0"/><rect x="0.78" y="0.1" width="0.22" height="0.1" fill="#f8c038"/><rect x="0.78" y="0.2" width="0.22" height="0.1" fill="#80dcb0"/><rect x="0.78" y="0.3" width="0.22" height="0.22" fill="#f89a30"/><rect x="0.78" y="0.52" width="0.22" height="0.04" fill="#48b0f0"/><rect x="0.78" y="0.56" width="0.22" height="0.14" fill="#d0e448"/><rect x="0.78" y="0.7" width="0.22" height="0.12" fill="#f8c038"/><rect x="0.78" y="0.82" width="0.22" height="0.06" fill="#1e6ee8"/><rect x="0.78" y="0.88" width="0.22" height="0.12" fill="#90dca8"/><g opacity="0.5"><rect x="0" y="0.445" width="1" height="0.003" fill="#2a90f0"/><rect x="0" y="0.087" width="1" height="0.005" fill="#f0c040"/><rect x="0" y="0.291" width="1" height="0.005" fill="#2a90f0"/><rect x="0" y="0.611" width="1" height="0.003" fill="#58c8e8"/><rect x="0" y="0.274" width="1" height="0.005" fill="#f0c040"/><rect x="0" y="0.877" width="1" height="0.005" fill="#58c8e8"/><rect x="0" y="0.556" width="1" height="0.004" fill="#2a90f0"/><rect x="0" y="0.206" width="1" height="0.006" fill="#f0c040"/><rect x="0.624" y="0" width="0.005" height="1" fill="#f0c040"/><rect x="0" y="0.92" width="1" height="0.003" fill="#f0c040"/><rect x="0.394" y="0" width="0.004" height="1" fill="#2a90f0"/><rect x="0" y="0.052" width="1" height="0.004" fill="#2a90f0"/><rect x="0.734" y="0" width="0.005" height="1" fill="#a0e080"/><rect x="0" y="0.501" width="1" height="0.004" fill="#ff9030"/><rect x="0" y="0.456" width="1" height="0.005" fill="#f0c040"/><rect x="0" y="0.215" width="1" height="0.005" fill="#f06828"/><rect x="0.295" y="0" width="0.002" height="1" fill="#ff9030"/><rect x="0" y="0.361" width="1" height="0.003" fill="#f0c040"/><rect x="0" y="0.037" width="1" height="0.004" fill="#58c8e8"/><rect x="0" y="0.9" width="1" height="0.005" fill="#a0e080"/><rect x="0.252" y="0" width="0.004" height="1" fill="#ff9030"/><rect x="0.347" y="0" width="0.006" height="1" fill="#f06828"/><rect x="0.541" y="0" width="0.004" height="1" fill="#f0c040"/><rect x="0" y="0.696" width="1" height="0.004" fill="#ff9030"/><rect x="0.985" y="0" width="0.003" height="1" fill="#ff9030"/><rect x="0.352" y="0" width="0.003" height="1" fill="#a0e080"/><rect x="0" y="0.98" width="1" height="0.004" fill="#58c8e8"/><rect x="0.052" y="0" width="0.004" height="1" fill="#ff9030"/><rect x="0" y="0.826" width="1" height="0.005" fill="#2a90f0"/><rect x="0" y="0.482" width="1" height="0.005" fill="#ff9030"/><rect x="0" y="0.141" width="1" height="0.002" fill="#a0e080"/><rect x="0" y="0.183" width="1" height="0.003" fill="#a0e080"/><rect x="0" y="0.077" width="1" height="0.005" fill="#f0c040"/><rect x="0" y="0.806" width="1" height="0.002" fill="#2a90f0"/><rect x="0" y="0.505" width="1" height="0.004" fill="#f0c040"/><rect x="0" y="0.096" width="1" height="0.006" fill="#58c8e8"/><rect x="0" y="0.817" width="1" height="0.003" fill="#f0c040"/><rect x="0" y="0.66" width="1" height="0.002" fill="#ff9030"/><rect x="0" y="0.414" width="1" height="0.003" fill="#a0e080"/><rect x="0" y="0.564" width="1" height="0.004" fill="#58c8e8"/><rect x="0" y="0.595" width="1" height="0.005" fill="#f06828"/><rect x="0" y="0.274" width="1" height="0.003" fill="#f0c040"/><rect x="0" y="0.87" width="1" height="0.005" fill="#f0c040"/><rect x="0.782" y="0" width="0.002" height="1" fill="#2a90f0"/><rect x="0" y="0.648" width="1" height="0.005" fill="#ff9030"/><rect x="0" y="0.457" width="1" height="0.003" fill="#a0e080"/><rect x="0" y="0.444" width="1" height="0.003" fill="#f06828"/><rect x="0.225" y="0" width="0.006" height="1" fill="#a0e080"/><rect x="0" y="0.926" width="1" height="0.003" fill="#ff9030"/><rect x="0" y="0.175" width="1" height="0.004" fill="#a0e080"/><rect x="0" y="0.644" width="1" height="0.004" fill="#2a90f0"/><rect x="0" y="0.225" width="1" height="0.002" fill="#ff9030"/><rect x="0" y="0.993" width="1" height="0.005" fill="#f0c040"/><rect x="0" y="0.569" width="1" height="0.004" fill="#2a90f0"/><rect x="0" y="0.581" width="1" height="0.005" fill="#2a90f0"/><rect x="0.341" y="0" width="0.003" height="1" fill="#a0e080"/><rect x="0.131" y="0" width="0.005" height="1" fill="#f0c040"/><rect x="0" y="0.67" width="1" height="0.003" fill="#58c8e8"/><rect x="0" y="0.285" width="1" height="0.003" fill="#ff9030"/><rect x="0" y="0.005" width="1" height="0.004" fill="#f06828"/><rect x="0" y="0.919" width="1" height="0.005" fill="#58c8e8"/><rect x="0.09" y="0" width="0.004" height="1" fill="#f0c040"/><rect x="0" y="0.97" width="1" height="0.002" fill="#58c8e8"/><rect x="0" y="0.419" width="1" height="0.002" fill="#f0c040"/><rect x="0.273" y="0" width="0.004" height="1" fill="#a0e080"/><rect x="0" y="0.081" width="1" height="0.004" fill="#58c8e8"/><rect x="0" y="0.287" width="1" height="0.006" fill="#ff9030"/><rect x="0" y="0.94" width="1" height="0.006" fill="#f0c040"/><rect x="0" y="0.63" width="1" height="0.004" fill="#f06828"/><rect x="0" y="0.444" width="1" height="0.005" fill="#f0c040"/><rect x="0" y="0.59" width="1" height="0.004" fill="#58c8e8"/><rect x="0" y="0.495" width="1" height="0.005" fill="#2a90f0"/><rect x="0" y="0.769" width="1" height="0.004" fill="#f0c040"/><rect x="0.071" y="0" width="0.006" height="1" fill="#f0c040"/><rect x="0" y="0.685" width="1" height="0.004" fill="#f06828"/><rect x="0.061" y="0" width="0.003" height="1" fill="#58c8e8"/><rect x="0" y="0.19" width="1" height="0.004" fill="#f06828"/><rect x="0.638" y="0" width="0.006" height="1" fill="#2a90f0"/><rect x="0" y="0.372" width="1" height="0.002" fill="#a0e080"/><rect x="0" y="0.579" width="1" height="0.003" fill="#ff9030"/><rect x="0" y="0.325" width="1" height="0.005" fill="#ff9030"/><rect x="0" y="0.233" width="1" height="0.005" fill="#2a90f0"/><rect x="0" y="0.609" width="1" height="0.005" fill="#a0e080"/><rect x="0.257" y="0" width="0.003" height="1" fill="#a0e080"/><rect x="0" y="0.894" width="1" height="0.006" fill="#58c8e8"/><rect x="0.225" y="0" width="0.005" height="1" fill="#a0e080"/><rect x="0" y="0.36" width="1" height="0.006" fill="#f0c040"/><rect x="0" y="0.712" width="1" height="0.004" fill="#f06828"/><rect x="0" y="0.57" width="1" height="0.004" fill="#2a90f0"/><rect x="0.662" y="0" width="0.005" height="1" fill="#58c8e8"/><rect x="0" y="0.701" width="1" height="0.002" fill="#f06828"/><rect x="0" y="0.151" width="1" height="0.003" fill="#58c8e8"/><rect x="0" y="0.456" width="1" height="0.003" fill="#a0e080"/><rect x="0" y="0.929" width="1" height="0.004" fill="#f0c040"/><rect x="0" y="0.77" width="1" height="0.003" fill="#58c8e8"/><rect x="0" y="0.704" width="1" height="0.004" fill="#58c8e8"/><rect x="0.587" y="0" width="0.002" height="1" fill="#a0e080"/><rect x="0" y="0.581" width="1" height="0.003" fill="#58c8e8"/><rect x="0" y="0.56" width="1" height="0.003" fill="#f0c040"/><rect x="0" y="0.124" width="1" height="0.006" fill="#f0c040"/><rect x="0" y="0.251" width="1" height="0.004" fill="#a0e080"/><rect x="0" y="0.039" width="1" height="0.003" fill="#f06828"/><rect x="0.331" y="0" width="0.005" height="1" fill="#a0e080"/><rect x="0" y="0.126" width="1" height="0.005" fill="#ff9030"/><rect x="0" y="0.677" width="1" height="0.005" fill="#f06828"/><rect x="0" y="0.382" width="1" height="0.005" fill="#58c8e8"/><rect x="0" y="0.648" width="1" height="0.005" fill="#ff9030"/><rect x="0" y="0.263" width="1" height="0.003" fill="#2a90f0"/><rect x="0" y="0.833" width="1" height="0.005" fill="#2a90f0"/><rect x="0" y="0.932" width="1" height="0.003" fill="#58c8e8"/><rect x="0" y="0.755" width="1" height="0.004" fill="#f0c040"/><rect x="0" y="0.439" width="1" height="0.005" fill="#58c8e8"/><rect x="0" y="0.747" width="1" height="0.005" fill="#58c8e8"/><rect x="0" y="0.257" width="1" height="0.003" fill="#58c8e8"/><rect x="0" y="0.493" width="1" height="0.002" fill="#2a90f0"/><rect x="0" y="0.572" width="1" height="0.004" fill="#2a90f0"/><rect x="0" y="0.158" width="1" height="0.003" fill="#f0c040"/><rect x="0.737" y="0" width="0.003" height="1" fill="#a0e080"/><rect x="0" y="0.281" width="1" height="0.004" fill="#f0c040"/><rect x="0" y="0.357" width="1" height="0.006" fill="#f06828"/><rect x="0" y="0.553" width="1" height="0.004" fill="#ff9030"/><rect x="0" y="0.916" width="1" height="0.006" fill="#f06828"/><rect x="0" y="0.85" width="1" height="0.004" fill="#a0e080"/><rect x="0.998" y="0" width="0.005" height="1" fill="#58c8e8"/><rect x="0" y="0.368" width="1" height="0.004" fill="#ff9030"/><rect x="0" y="0.838" width="1" height="0.005" fill="#f0c040"/><rect x="0" y="0.839" width="1" height="0.005" fill="#a0e080"/><rect x="0.38" y="0" width="0.002" height="1" fill="#2a90f0"/><rect x="0" y="0.172" width="1" height="0.006" fill="#ff9030"/><rect x="0" y="0.477" width="1" height="0.003" fill="#f0c040"/><rect x="0.075" y="0" width="0.005" height="1" fill="#f0c040"/><rect x="0" y="0.763" width="1" height="0.005" fill="#58c8e8"/><rect x="0.684" y="0" width="0.002" height="1" fill="#f06828"/><rect x="0" y="0.721" width="1" height="0.004" fill="#a0e080"/><rect x="0.33" y="0" width="0.005" height="1" fill="#a0e080"/><rect x="0.63" y="0" width="0.005" height="1" fill="#ff9030"/><rect x="0" y="0.534" width="1" height="0.005" fill="#2a90f0"/><rect x="0.224" y="0" width="0.004" height="1" fill="#f0c040"/><rect x="0" y="0.011" width="1" height="0.004" fill="#a0e080"/><rect x="0" y="0.261" width="1" height="0.005" fill="#f06828"/><rect x="0.791" y="0" width="0.003" height="1" fill="#ff9030"/><rect x="0" y="0.93" width="1" height="0.004" fill="#2a90f0"/><rect x="0" y="0.957" width="1" height="0.003" fill="#f06828"/><rect x="0" y="0.776" width="1" height="0.005" fill="#f06828"/><rect x="0" y="0.963" width="1" height="0.005" fill="#ff9030"/><rect x="0.329" y="0" width="0.003" height="1" fill="#58c8e8"/><rect x="0" y="0.88" width="1" height="0.005" fill="#f0c040"/><rect x="0" y="0.977" width="1" height="0.006" fill="#58c8e8"/><rect x="0" y="0.517" width="1" height="0.005" fill="#f06828"/><rect x="0" y="0.272" width="1" height="0.005" fill="#f0c040"/></g></g>
<clipPath id="c89"><rect x="0" y="0.295" width="0.928" height="0.705"/></clipPath>
<clipPath id="c90"><rect x="0.41" y="0.295" width="0.59" height="0.705"/></clipPath>
<clipPath id="c91"><rect x="0.41" y="0.071" width="0.59" height="0.928"/></clipPath>
<clipPath id="c92"><rect x="0.928" y="0.295" width="0.072" height="0.705"/></clipPath>
<clipPath id="c93"><rect x="0" y="0" width="0.928" height="0.295"/></clipPath>
<clipPath id="c94"><rect x="0" y="0.295" width="0.41" height="0.705"/></clipPath>
<clipPath id="c95"><rect x="0.41" y="0" width="0.59" height="0.295"/></clipPath>
<clipPath id="c96"><rect x="0" y="0.071" width="0.41" height="0.928"/></clipPath>
<clipPath id="c97"><rect x="0.41" y="0" width="0.59" height="0.071"/></clipPath>
<clipPath id="c98"><rect x="0.928" y="0" width="0.072" height="0.295"/></clipPath>
<clipPath id="c99"><rect x="0" y="0" width="0.41" height="0.295"/></clipPath>
<clipPath id="c100"><rect x="0" y="0" width="0.41" height="0.071"/></clipPath></defs>
<rect width="685" height="917" fill="#fff"/>
<rect x="45" y="13.2" width="260" height="7" fill="url(#jetgrad)" stroke="#333" stroke-width="0.6"/>
<text x="46" y="8.5" font-size="9.2" text-anchor="middle" font-weight="normal" fill="#1e1e1e">-0.5</text>
<line x1="111.775" y1="13.2" x2="111.775" y2="16.4" stroke="#333" stroke-width="0.7" />
<text x="111.775" y="8.5" font-size="9.2" text-anchor="middle" font-weight="normal" fill="#1e1e1e">-0.25</text>
<line x1="174.5" y1="13.2" x2="174.5" y2="16.4" stroke="#333" stroke-width="0.7" />
<text x="174.5" y="8.5" font-size="9.2" text-anchor="middle" font-weight="normal" fill="#1e1e1e">0</text>
<line x1="239.5" y1="13.2" x2="239.5" y2="16.4" stroke="#333" stroke-width="0.7" />
<text x="239.5" y="8.5" font-size="9.2" text-anchor="middle" font-weight="normal" fill="#1e1e1e">0.255</text>
<text x="305" y="8.5" font-size="9.2" text-anchor="middle" font-weight="normal" fill="#1e1e1e">0.51</text>
<rect x="399" y="13.2" width="260" height="7" fill="url(#jetgrad)" stroke="#333" stroke-width="0.6"/>
<text x="400" y="8.5" font-size="9.2" text-anchor="middle" font-weight="normal" fill="#1e1e1e">-0.5</text>
<line x1="465.775" y1="13.2" x2="465.775" y2="16.4" stroke="#333" stroke-width="0.7" />
<text x="465.775" y="8.5" font-size="9.2" text-anchor="middle" font-weight="normal" fill="#1e1e1e">-0.25</text>
<line x1="528.5" y1="13.2" x2="528.5" y2="16.4" stroke="#333" stroke-width="0.7" />
<text x="528.5" y="8.5" font-size="9.2" text-anchor="middle" font-weight="normal" fill="#1e1e1e">0</text>
<line x1="593.5" y1="13.2" x2="593.5" y2="16.4" stroke="#333" stroke-width="0.7" />
<text x="593.5" y="8.5" font-size="9.2" text-anchor="middle" font-weight="normal" fill="#1e1e1e">0.255</text>
<text x="659" y="8.5" font-size="9.2" text-anchor="middle" font-weight="normal" fill="#1e1e1e">0.51</text>
<rect x="45" y="327.7" width="260" height="7" fill="url(#jetgrad)" stroke="#333" stroke-width="0.6"/>
<text x="46" y="323" font-size="9.2" text-anchor="middle" font-weight="normal" fill="#1e1e1e">-0.54</text>
<line x1="79.9" y1="327.7" x2="79.9" y2="330.9" stroke="#333" stroke-width="0.7" />
<text x="79.9" y="323" font-size="9.2" text-anchor="middle" font-weight="normal" fill="#1e1e1e">-0.4</text>
<line x1="103.8" y1="327.7" x2="103.8" y2="330.9" stroke="#333" stroke-width="0.7" />
<text x="103.8" y="323" font-size="9.2" text-anchor="middle" font-weight="normal" fill="#1e1e1e">-0.3</text>
<line x1="127.7" y1="327.7" x2="127.7" y2="330.9" stroke="#333" stroke-width="0.7" />
<text x="127.7" y="323" font-size="9.2" text-anchor="middle" font-weight="normal" fill="#1e1e1e">-0.2</text>
<line x1="151.6" y1="327.7" x2="151.6" y2="330.9" stroke="#333" stroke-width="0.7" />
<text x="151.6" y="323" font-size="9.2" text-anchor="middle" font-weight="normal" fill="#1e1e1e">-0.1</text>
<line x1="174.5" y1="327.7" x2="174.5" y2="330.9" stroke="#333" stroke-width="0.7" />
<text x="174.5" y="323" font-size="9.2" text-anchor="middle" font-weight="normal" fill="#1e1e1e">0</text>
<line x1="198.4" y1="327.7" x2="198.4" y2="330.9" stroke="#333" stroke-width="0.7" />
<text x="198.4" y="323" font-size="9.2" text-anchor="middle" font-weight="normal" fill="#1e1e1e">0.1</text>
<line x1="222.3" y1="327.7" x2="222.3" y2="330.9" stroke="#333" stroke-width="0.7" />
<text x="222.3" y="323" font-size="9.2" text-anchor="middle" font-weight="normal" fill="#1e1e1e">0.2</text>
<line x1="246.2" y1="327.7" x2="246.2" y2="330.9" stroke="#333" stroke-width="0.7" />
<text x="246.2" y="323" font-size="9.2" text-anchor="middle" font-weight="normal" fill="#1e1e1e">0.3</text>
<line x1="270.1" y1="327.7" x2="270.1" y2="330.9" stroke="#333" stroke-width="0.7" />
<text x="270.1" y="323" font-size="9.2" text-anchor="middle" font-weight="normal" fill="#1e1e1e">0.4</text>
<text x="305" y="323" font-size="9.2" text-anchor="middle" font-weight="normal" fill="#1e1e1e">0.54</text>
<rect x="399" y="327.7" width="260" height="7" fill="url(#jetgrad)" stroke="#333" stroke-width="0.6"/>
<text x="400" y="323" font-size="9.2" text-anchor="middle" font-weight="normal" fill="#1e1e1e">-0.54</text>
<line x1="433.9" y1="327.7" x2="433.9" y2="330.9" stroke="#333" stroke-width="0.7" />
<text x="433.9" y="323" font-size="9.2" text-anchor="middle" font-weight="normal" fill="#1e1e1e">-0.4</text>
<line x1="457.8" y1="327.7" x2="457.8" y2="330.9" stroke="#333" stroke-width="0.7" />
<text x="457.8" y="323" font-size="9.2" text-anchor="middle" font-weight="normal" fill="#1e1e1e">-0.3</text>
<line x1="481.7" y1="327.7" x2="481.7" y2="330.9" stroke="#333" stroke-width="0.7" />
<text x="481.7" y="323" font-size="9.2" text-anchor="middle" font-weight="normal" fill="#1e1e1e">-0.2</text>
<line x1="505.6" y1="327.7" x2="505.6" y2="330.9" stroke="#333" stroke-width="0.7" />
<text x="505.6" y="323" font-size="9.2" text-anchor="middle" font-weight="normal" fill="#1e1e1e">-0.1</text>
<line x1="528.5" y1="327.7" x2="528.5" y2="330.9" stroke="#333" stroke-width="0.7" />
<text x="528.5" y="323" font-size="9.2" text-anchor="middle" font-weight="normal" fill="#1e1e1e">0</text>
<line x1="552.4" y1="327.7" x2="552.4" y2="330.9" stroke="#333" stroke-width="0.7" />
<text x="552.4" y="323" font-size="9.2" text-anchor="middle" font-weight="normal" fill="#1e1e1e">0.1</text>
<line x1="576.3" y1="327.7" x2="576.3" y2="330.9" stroke="#333" stroke-width="0.7" />
<text x="576.3" y="323" font-size="9.2" text-anchor="middle" font-weight="normal" fill="#1e1e1e">0.2</text>
<line x1="600.2" y1="327.7" x2="600.2" y2="330.9" stroke="#333" stroke-width="0.7" />
<text x="600.2" y="323" font-size="9.2" text-anchor="middle" font-weight="normal" fill="#1e1e1e">0.3</text>
<line x1="624.1" y1="327.7" x2="624.1" y2="330.9" stroke="#333" stroke-width="0.7" />
<text x="624.1" y="323" font-size="9.2" text-anchor="middle" font-weight="normal" fill="#1e1e1e">0.4</text>
<text x="659" y="323" font-size="9.2" text-anchor="middle" font-weight="normal" fill="#1e1e1e">0.54</text>
<rect x="45" y="638" width="260" height="7" fill="url(#jetgrad)" stroke="#333" stroke-width="0.6"/>
<text x="46" y="633.3" font-size="9.2" text-anchor="middle" font-weight="normal" fill="#1e1e1e">-0.73</text>
<line x1="79.08" y1="638" x2="79.08" y2="641.2" stroke="#333" stroke-width="0.7" />
<text x="79.08" y="633.3" font-size="9.2" text-anchor="middle" font-weight="normal" fill="#1e1e1e">-0.6</text>
<line x1="103.185" y1="638" x2="103.185" y2="641.2" stroke="#333" stroke-width="0.7" />
<text x="103.185" y="633.3" font-size="9.2" text-anchor="middle" font-weight="normal" fill="#1e1e1e">-0.45</text>
<line x1="127.29" y1="638" x2="127.29" y2="641.2" stroke="#333" stroke-width="0.7" />
<text x="127.29" y="633.3" font-size="9.2" text-anchor="middle" font-weight="normal" fill="#1e1e1e">-0.3</text>
<line x1="151.395" y1="638" x2="151.395" y2="641.2" stroke="#333" stroke-width="0.7" />
<text x="151.395" y="633.3" font-size="9.2" text-anchor="middle" font-weight="normal" fill="#1e1e1e">-0.15</text>
<line x1="174.5" y1="638" x2="174.5" y2="641.2" stroke="#333" stroke-width="0.7" />
<text x="174.5" y="633.3" font-size="9.2" text-anchor="middle" font-weight="normal" fill="#1e1e1e">0</text>
<line x1="198.605" y1="638" x2="198.605" y2="641.2" stroke="#333" stroke-width="0.7" />
<text x="198.605" y="633.3" font-size="9.2" text-anchor="middle" font-weight="normal" fill="#1e1e1e">0.15</text>
<line x1="222.71" y1="638" x2="222.71" y2="641.2" stroke="#333" stroke-width="0.7" />
<text x="222.71" y="633.3" font-size="9.2" text-anchor="middle" font-weight="normal" fill="#1e1e1e">0.3</text>
<line x1="246.815" y1="638" x2="246.815" y2="641.2" stroke="#333" stroke-width="0.7" />
<text x="246.815" y="633.3" font-size="9.2" text-anchor="middle" font-weight="normal" fill="#1e1e1e">0.45</text>
<line x1="270.92" y1="638" x2="270.92" y2="641.2" stroke="#333" stroke-width="0.7" />
<text x="270.92" y="633.3" font-size="9.2" text-anchor="middle" font-weight="normal" fill="#1e1e1e">0.6</text>
<text x="305" y="633.3" font-size="9.2" text-anchor="middle" font-weight="normal" fill="#1e1e1e">0.74</text>
<rect x="399" y="638" width="260" height="7" fill="url(#jetgrad)" stroke="#333" stroke-width="0.6"/>
<text x="400" y="633.3" font-size="9.2" text-anchor="middle" font-weight="normal" fill="#1e1e1e">-0.73</text>
<line x1="433.08" y1="638" x2="433.08" y2="641.2" stroke="#333" stroke-width="0.7" />
<text x="433.08" y="633.3" font-size="9.2" text-anchor="middle" font-weight="normal" fill="#1e1e1e">-0.6</text>
<line x1="457.185" y1="638" x2="457.185" y2="641.2" stroke="#333" stroke-width="0.7" />
<text x="457.185" y="633.3" font-size="9.2" text-anchor="middle" font-weight="normal" fill="#1e1e1e">-0.45</text>
<line x1="481.29" y1="638" x2="481.29" y2="641.2" stroke="#333" stroke-width="0.7" />
<text x="481.29" y="633.3" font-size="9.2" text-anchor="middle" font-weight="normal" fill="#1e1e1e">-0.3</text>
<line x1="505.395" y1="638" x2="505.395" y2="641.2" stroke="#333" stroke-width="0.7" />
<text x="505.395" y="633.3" font-size="9.2" text-anchor="middle" font-weight="normal" fill="#1e1e1e">-0.15</text>
<line x1="528.5" y1="638" x2="528.5" y2="641.2" stroke="#333" stroke-width="0.7" />
<text x="528.5" y="633.3" font-size="9.2" text-anchor="middle" font-weight="normal" fill="#1e1e1e">0</text>
<line x1="552.605" y1="638" x2="552.605" y2="641.2" stroke="#333" stroke-width="0.7" />
<text x="552.605" y="633.3" font-size="9.2" text-anchor="middle" font-weight="normal" fill="#1e1e1e">0.15</text>
<line x1="576.71" y1="638" x2="576.71" y2="641.2" stroke="#333" stroke-width="0.7" />
<text x="576.71" y="633.3" font-size="9.2" text-anchor="middle" font-weight="normal" fill="#1e1e1e">0.3</text>
<line x1="600.815" y1="638" x2="600.815" y2="641.2" stroke="#333" stroke-width="0.7" />
<text x="600.815" y="633.3" font-size="9.2" text-anchor="middle" font-weight="normal" fill="#1e1e1e">0.45</text>
<line x1="624.92" y1="638" x2="624.92" y2="641.2" stroke="#333" stroke-width="0.7" />
<text x="624.92" y="633.3" font-size="9.2" text-anchor="middle" font-weight="normal" fill="#1e1e1e">0.6</text>
<text x="659" y="633.3" font-size="9.2" text-anchor="middle" font-weight="normal" fill="#1e1e1e">0.74</text>
<text x="43" y="47" font-size="17.5" text-anchor="start" font-weight="bold" fill="#1e1e1e">(a)</text>
<text x="395.6" y="46.8" font-size="17.5" text-anchor="start" font-weight="bold" fill="#1e1e1e">(a*)</text>
<text x="258.3" y="48.8" font-size="17.4" text-anchor="start" font-weight="bold" fill="#1e1e1e">3BI-1</text>
<text x="43" y="361.5" font-size="17.5" text-anchor="start" font-weight="bold" fill="#1e1e1e">(b)</text>
<text x="395.6" y="361.3" font-size="17.5" text-anchor="start" font-weight="bold" fill="#1e1e1e">(b*)</text>
<text x="258.3" y="363.3" font-size="17.4" text-anchor="start" font-weight="bold" fill="#1e1e1e">3BI-2</text>
<text x="43" y="671.8" font-size="17.5" text-anchor="start" font-weight="bold" fill="#1e1e1e">(c)</text>
<text x="395.6" y="671.6" font-size="17.5" text-anchor="start" font-weight="bold" fill="#1e1e1e">(c*)</text>
<text x="258.3" y="673.6" font-size="17.4" text-anchor="start" font-weight="bold" fill="#1e1e1e">3BI-3</text>
<g transform="matrix(111.9 59.3 0 129 45.5 79)"><use href="#t1"/></g>
<g transform="matrix(147 -45.2 0 129 157.4 138.3)"><use href="#t2"/></g>
<g transform="matrix(147 -45.2 -111.9 -59.3 157.4 138.3)"><use href="#t3"/></g>
<line x1="45.5" y1="79" x2="192.5" y2="33.8" stroke="#333" stroke-width="0.7" />
<line x1="192.5" y1="33.8" x2="304.4" y2="93.1" stroke="#333" stroke-width="0.7" />
<line x1="45.5" y1="79" x2="45.5" y2="208" stroke="#222" stroke-width="0.7" />
<line x1="45.5" y1="208" x2="157.4" y2="267.3" stroke="#222" stroke-width="0.7" />
<line x1="157.4" y1="267.3" x2="304.4" y2="222.1" stroke="#222" stroke-width="0.7" />
<line x1="42.3" y1="206.3" x2="45.5" y2="208" stroke="#222" stroke-width="0.6" />
<text x="38.7" y="209.4" font-size="9.5" text-anchor="end" font-weight="normal" fill="#1e1e1e">400</text>
<line x1="42.3" y1="191.967" x2="45.5" y2="193.667" stroke="#222" stroke-width="0.6" />
<text x="38.7" y="195.067" font-size="9.5" text-anchor="end" font-weight="normal" fill="#1e1e1e">500</text>
<line x1="42.3" y1="177.633" x2="45.5" y2="179.333" stroke="#222" stroke-width="0.6" />
<text x="38.7" y="180.733" font-size="9.5" text-anchor="end" font-weight="normal" fill="#1e1e1e">600</text>
<line x1="42.3" y1="163.3" x2="45.5" y2="165" stroke="#222" stroke-width="0.6" />
<text x="38.7" y="166.4" font-size="9.5" text-anchor="end" font-weight="normal" fill="#1e1e1e">700</text>
<line x1="42.3" y1="148.967" x2="45.5" y2="150.667" stroke="#222" stroke-width="0.6" />
<text x="38.7" y="152.067" font-size="9.5" text-anchor="end" font-weight="normal" fill="#1e1e1e">800</text>
<line x1="42.3" y1="134.633" x2="45.5" y2="136.333" stroke="#222" stroke-width="0.6" />
<text x="38.7" y="137.733" font-size="9.5" text-anchor="end" font-weight="normal" fill="#1e1e1e">900</text>
<line x1="42.3" y1="120.3" x2="45.5" y2="122" stroke="#222" stroke-width="0.6" />
<text x="38.7" y="123.4" font-size="9.5" text-anchor="end" font-weight="normal" fill="#1e1e1e">1000</text>
<line x1="42.3" y1="105.967" x2="45.5" y2="107.667" stroke="#222" stroke-width="0.6" />
<text x="38.7" y="109.067" font-size="9.5" text-anchor="end" font-weight="normal" fill="#1e1e1e">1100</text>
<line x1="42.3" y1="91.633" x2="45.5" y2="93.333" stroke="#222" stroke-width="0.6" />
<text x="38.7" y="94.733" font-size="9.5" text-anchor="end" font-weight="normal" fill="#1e1e1e">1200</text>
<line x1="42.3" y1="77.3" x2="45.5" y2="79" stroke="#222" stroke-width="0.6" />
<text x="38.7" y="80.4" font-size="9.5" text-anchor="end" font-weight="normal" fill="#1e1e1e">1300</text>
<line x1="157.4" y1="267.3" x2="154.2" y2="268.25" stroke="#222" stroke-width="0.6" />
<text x="150.4" y="279" font-size="9.5" text-anchor="end" font-weight="normal" fill="#1e1e1e">400</text>
<line x1="144.967" y1="260.711" x2="141.767" y2="261.661" stroke="#222" stroke-width="0.6" />
<text x="137.967" y="272.411" font-size="9.5" text-anchor="end" font-weight="normal" fill="#1e1e1e">500</text>
<line x1="132.533" y1="254.122" x2="129.333" y2="255.072" stroke="#222" stroke-width="0.6" />
<text x="125.533" y="265.822" font-size="9.5" text-anchor="end" font-weight="normal" fill="#1e1e1e">600</text>
<line x1="120.1" y1="247.533" x2="116.9" y2="248.483" stroke="#222" stroke-width="0.6" />
<text x="113.1" y="259.233" font-size="9.5" text-anchor="end" font-weight="normal" fill="#1e1e1e">700</text>
<line x1="107.667" y1="240.944" x2="104.467" y2="241.894" stroke="#222" stroke-width="0.6" />
<text x="100.667" y="252.644" font-size="9.5" text-anchor="end" font-weight="normal" fill="#1e1e1e">800</text>
<line x1="95.233" y1="234.356" x2="92.033" y2="235.306" stroke="#222" stroke-width="0.6" />
<text x="88.233" y="246.056" font-size="9.5" text-anchor="end" font-weight="normal" fill="#1e1e1e">900</text>
<line x1="82.8" y1="227.767" x2="79.6" y2="228.717" stroke="#222" stroke-width="0.6" />
<text x="75.8" y="239.467" font-size="9.5" text-anchor="end" font-weight="normal" fill="#1e1e1e">1000</text>
<line x1="70.367" y1="221.178" x2="67.167" y2="222.128" stroke="#222" stroke-width="0.6" />
<text x="63.367" y="232.878" font-size="9.5" text-anchor="end" font-weight="normal" fill="#1e1e1e">1100</text>
<line x1="57.933" y1="214.589" x2="54.733" y2="215.539" stroke="#222" stroke-width="0.6" />
<text x="50.933" y="226.289" font-size="9.5" text-anchor="end" font-weight="normal" fill="#1e1e1e">1200</text>
<line x1="45.5" y1="208" x2="42.3" y2="208.95" stroke="#222" stroke-width="0.6" />
<text x="38.5" y="219.7" font-size="9.5" text-anchor="end" font-weight="normal" fill="#1e1e1e">1300</text>
<line x1="157.4" y1="267.3" x2="160.6" y2="269" stroke="#222" stroke-width="0.6" />
<text x="164.2" y="280.6" font-size="9.5" text-anchor="start" font-weight="normal" fill="#1e1e1e">400</text>
<line x1="173.733" y1="262.278" x2="176.933" y2="263.978" stroke="#222" stroke-width="0.6" />
<text x="180.533" y="275.578" font-size="9.5" text-anchor="start" font-weight="normal" fill="#1e1e1e">500</text>
<line x1="190.067" y1="257.256" x2="193.267" y2="258.956" stroke="#222" stroke-width="0.6" />
<text x="196.867" y="270.556" font-size="9.5" text-anchor="start" font-weight="normal" fill="#1e1e1e">600</text>
<line x1="206.4" y1="252.233" x2="209.6" y2="253.933" stroke="#222" stroke-width="0.6" />
<text x="213.2" y="265.533" font-size="9.5" text-anchor="start" font-weight="normal" fill="#1e1e1e">700</text>
<line x1="222.733" y1="247.211" x2="225.933" y2="248.911" stroke="#222" stroke-width="0.6" />
<text x="229.533" y="260.511" font-size="9.5" text-anchor="start" font-weight="normal" fill="#1e1e1e">800</text>
<line x1="239.067" y1="242.189" x2="242.267" y2="243.889" stroke="#222" stroke-width="0.6" />
<text x="245.867" y="255.489" font-size="9.5" text-anchor="start" font-weight="normal" fill="#1e1e1e">900</text>
<line x1="255.4" y1="237.167" x2="258.6" y2="238.867" stroke="#222" stroke-width="0.6" />
<text x="262.2" y="250.467" font-size="9.5" text-anchor="start" font-weight="normal" fill="#1e1e1e">1000</text>
<line x1="271.733" y1="232.144" x2="274.933" y2="233.844" stroke="#222" stroke-width="0.6" />
<text x="278.533" y="245.444" font-size="9.5" text-anchor="start" font-weight="normal" fill="#1e1e1e">1100</text>
<line x1="288.067" y1="227.122" x2="291.267" y2="228.822" stroke="#222" stroke-width="0.6" />
<text x="294.867" y="240.422" font-size="9.5" text-anchor="start" font-weight="normal" fill="#1e1e1e">1200</text>
<line x1="304.4" y1="222.1" x2="307.6" y2="223.8" stroke="#222" stroke-width="0.6" />
<text x="311.2" y="235.4" font-size="9.5" text-anchor="start" font-weight="normal" fill="#1e1e1e">1300</text>
<text x="12.7" y="140.2" font-size="15.8" text-anchor="middle" font-weight="normal" fill="#1e1e1e" transform="rotate(-90 12.7 140.2)">Wavelength/nm</text>
<text x="69.95" y="268.65" font-size="15.8" text-anchor="middle" font-weight="normal" fill="#1e1e1e" transform="rotate(27.9 69.95 268.65)">Wavelength/nm</text>
<text x="263.4" y="274.5" font-size="15.8" text-anchor="middle" font-weight="normal" fill="#1e1e1e" transform="rotate(-16.6 263.4 274.5)">Wavelength/nm</text>
<g transform="matrix(111.9 59.3 0 129 45.5 393.5)"><use href="#t4"/></g>
<g transform="matrix(147 -45.2 0 129 157.4 452.8)"><use href="#t5"/></g>
<g transform="matrix(147 -45.2 -111.9 -59.3 157.4 452.8)"><use href="#t6"/></g>
<line x1="45.5" y1="393.5" x2="192.5" y2="348.3" stroke="#333" stroke-width="0.7" />
<line x1="192.5" y1="348.3" x2="304.4" y2="407.6" stroke="#333" stroke-width="0.7" />
<line x1="45.5" y1="393.5" x2="45.5" y2="522.5" stroke="#222" stroke-width="0.7" />
<line x1="45.5" y1="522.5" x2="157.4" y2="581.8" stroke="#222" stroke-width="0.7" />
<line x1="157.4" y1="581.8" x2="304.4" y2="536.6" stroke="#222" stroke-width="0.7" />
<line x1="42.3" y1="520.8" x2="45.5" y2="522.5" stroke="#222" stroke-width="0.6" />
<text x="38.7" y="523.9" font-size="9.5" text-anchor="end" font-weight="normal" fill="#1e1e1e">400</text>
<line x1="42.3" y1="506.467" x2="45.5" y2="508.167" stroke="#222" stroke-width="0.6" />
<text x="38.7" y="509.567" font-size="9.5" text-anchor="end" font-weight="normal" fill="#1e1e1e">500</text>
<line x1="42.3" y1="492.133" x2="45.5" y2="493.833" stroke="#222" stroke-width="0.6" />
<text x="38.7" y="495.233" font-size="9.5" text-anchor="end" font-weight="normal" fill="#1e1e1e">600</text>
<line x1="42.3" y1="477.8" x2="45.5" y2="479.5" stroke="#222" stroke-width="0.6" />
<text x="38.7" y="480.9" font-size="9.5" text-anchor="end" font-weight="normal" fill="#1e1e1e">700</text>
<line x1="42.3" y1="463.467" x2="45.5" y2="465.167" stroke="#222" stroke-width="0.6" />
<text x="38.7" y="466.567" font-size="9.5" text-anchor="end" font-weight="normal" fill="#1e1e1e">800</text>
<line x1="42.3" y1="449.133" x2="45.5" y2="450.833" stroke="#222" stroke-width="0.6" />
<text x="38.7" y="452.233" font-size="9.5" text-anchor="end" font-weight="normal" fill="#1e1e1e">900</text>
<line x1="42.3" y1="434.8" x2="45.5" y2="436.5" stroke="#222" stroke-width="0.6" />
<text x="38.7" y="437.9" font-size="9.5" text-anchor="end" font-weight="normal" fill="#1e1e1e">1000</text>
<line x1="42.3" y1="420.467" x2="45.5" y2="422.167" stroke="#222" stroke-width="0.6" />
<text x="38.7" y="423.567" font-size="9.5" text-anchor="end" font-weight="normal" fill="#1e1e1e">1100</text>
<line x1="42.3" y1="406.133" x2="45.5" y2="407.833" stroke="#222" stroke-width="0.6" />
<text x="38.7" y="409.233" font-size="9.5" text-anchor="end" font-weight="normal" fill="#1e1e1e">1200</text>
<line x1="42.3" y1="391.8" x2="45.5" y2="393.5" stroke="#222" stroke-width="0.6" />
<text x="38.7" y="394.9" font-size="9.5" text-anchor="end" font-weight="normal" fill="#1e1e1e">1300</text>
<line x1="157.4" y1="581.8" x2="154.2" y2="582.75" stroke="#222" stroke-width="0.6" />
<text x="150.4" y="593.5" font-size="9.5" text-anchor="end" font-weight="normal" fill="#1e1e1e">400</text>
<line x1="144.967" y1="575.211" x2="141.767" y2="576.161" stroke="#222" stroke-width="0.6" />
<text x="137.967" y="586.911" font-size="9.5" text-anchor="end" font-weight="normal" fill="#1e1e1e">500</text>
<line x1="132.533" y1="568.622" x2="129.333" y2="569.572" stroke="#222" stroke-width="0.6" />
<text x="125.533" y="580.322" font-size="9.5" text-anchor="end" font-weight="normal" fill="#1e1e1e">600</text>
<line x1="120.1" y1="562.033" x2="116.9" y2="562.983" stroke="#222" stroke-width="0.6" />
<text x="113.1" y="573.733" font-size="9.5" text-anchor="end" font-weight="normal" fill="#1e1e1e">700</text>
<line x1="107.667" y1="555.444" x2="104.467" y2="556.394" stroke="#222" stroke-width="0.6" />
<text x="100.667" y="567.144" font-size="9.5" text-anchor="end" font-weight="normal" fill="#1e1e1e">800</text>
<line x1="95.233" y1="548.856" x2="92.033" y2="549.806" stroke="#222" stroke-width="0.6" />
<text x="88.233" y="560.556" font-size="9.5" text-anchor="end" font-weight="normal" fill="#1e1e1e">900</text>
<line x1="82.8" y1="542.267" x2="79.6" y2="543.217" stroke="#222" stroke-width="0.6" />
<text x="75.8" y="553.967" font-size="9.5" text-anchor="end" font-weight="normal" fill="#1e1e1e">1000</text>
<line x1="70.367" y1="535.678" x2="67.167" y2="536.628" stroke="#222" stroke-width="0.6" />
<text x="63.367" y="547.378" font-size="9.5" text-anchor="end" font-weight="normal" fill="#1e1e1e">1100</text>
<line x1="57.933" y1="529.089" x2="54.733" y2="530.039" stroke="#222" stroke-width="0.6" />
<text x="50.933" y="540.789" font-size="9.5" text-anchor="end" font-weight="normal" fill="#1e1e1e">1200</text>
<line x1="45.5" y1="522.5" x2="42.3" y2="523.45" stroke="#222" stroke-width="0.6" />
<text x="38.5" y="534.2" font-size="9.5" text-anchor="end" font-weight="normal" fill="#1e1e1e">1300</text>
<line x1="157.4" y1="581.8" x2="160.6" y2="583.5" stroke="#222" stroke-width="0.6" />
<text x="164.2" y="595.1" font-size="9.5" text-anchor="start" font-weight="normal" fill="#1e1e1e">400</text>
<line x1="173.733" y1="576.778" x2="176.933" y2="578.478" stroke="#222" stroke-width="0.6" />
<text x="180.533" y="590.078" font-size="9.5" text-anchor="start" font-weight="normal" fill="#1e1e1e">500</text>
<line x1="190.067" y1="571.756" x2="193.267" y2="573.456" stroke="#222" stroke-width="0.6" />
<text x="196.867" y="585.056" font-size="9.5" text-anchor="start" font-weight="normal" fill="#1e1e1e">600</text>
<line x1="206.4" y1="566.733" x2="209.6" y2="568.433" stroke="#222" stroke-width="0.6" />
<text x="213.2" y="580.033" font-size="9.5" text-anchor="start" font-weight="normal" fill="#1e1e1e">700</text>
<line x1="222.733" y1="561.711" x2="225.933" y2="563.411" stroke="#222" stroke-width="0.6" />
<text x="229.533" y="575.011" font-size="9.5" text-anchor="start" font-weight="normal" fill="#1e1e1e">800</text>
<line x1="239.067" y1="556.689" x2="242.267" y2="558.389" stroke="#222" stroke-width="0.6" />
<text x="245.867" y="569.989" font-size="9.5" text-anchor="start" font-weight="normal" fill="#1e1e1e">900</text>
<line x1="255.4" y1="551.667" x2="258.6" y2="553.367" stroke="#222" stroke-width="0.6" />
<text x="262.2" y="564.967" font-size="9.5" text-anchor="start" font-weight="normal" fill="#1e1e1e">1000</text>
<line x1="271.733" y1="546.644" x2="274.933" y2="548.344" stroke="#222" stroke-width="0.6" />
<text x="278.533" y="559.944" font-size="9.5" text-anchor="start" font-weight="normal" fill="#1e1e1e">1100</text>
<line x1="288.067" y1="541.622" x2="291.267" y2="543.322" stroke="#222" stroke-width="0.6" />
<text x="294.867" y="554.922" font-size="9.5" text-anchor="start" font-weight="normal" fill="#1e1e1e">1200</text>
<line x1="304.4" y1="536.6" x2="307.6" y2="538.3" stroke="#222" stroke-width="0.6" />
<text x="311.2" y="549.9" font-size="9.5" text-anchor="start" font-weight="normal" fill="#1e1e1e">1300</text>
<text x="12.7" y="454.7" font-size="15.8" text-anchor="middle" font-weight="normal" fill="#1e1e1e" transform="rotate(-90 12.7 454.7)">Wavelength/nm</text>
<text x="69.95" y="583.15" font-size="15.8" text-anchor="middle" font-weight="normal" fill="#1e1e1e" transform="rotate(27.9 69.95 583.15)">Wavelength/nm</text>
<text x="263.4" y="589" font-size="15.8" text-anchor="middle" font-weight="normal" fill="#1e1e1e" transform="rotate(-16.6 263.4 589)">Wavelength/nm</text>
<g transform="matrix(111.9 59.3 0 129 45.5 703.8)"><use href="#t7"/></g>
<g transform="matrix(147 -45.2 0 129 157.4 763.1)"><use href="#t8"/></g>
<g transform="matrix(147 -45.2 -111.9 -59.3 157.4 763.1)"><use href="#t9"/></g>
<line x1="45.5" y1="703.8" x2="192.5" y2="658.6" stroke="#333" stroke-width="0.7" />
<line x1="192.5" y1="658.6" x2="304.4" y2="717.9" stroke="#333" stroke-width="0.7" />
<line x1="45.5" y1="703.8" x2="45.5" y2="832.8" stroke="#222" stroke-width="0.7" />
<line x1="45.5" y1="832.8" x2="157.4" y2="892.1" stroke="#222" stroke-width="0.7" />
<line x1="157.4" y1="892.1" x2="304.4" y2="846.9" stroke="#222" stroke-width="0.7" />
<line x1="42.3" y1="831.1" x2="45.5" y2="832.8" stroke="#222" stroke-width="0.6" />
<text x="38.7" y="834.2" font-size="9.5" text-anchor="end" font-weight="normal" fill="#1e1e1e">400</text>
<line x1="42.3" y1="816.767" x2="45.5" y2="818.467" stroke="#222" stroke-width="0.6" />
<text x="38.7" y="819.867" font-size="9.5" text-anchor="end" font-weight="normal" fill="#1e1e1e">500</text>
<line x1="42.3" y1="802.433" x2="45.5" y2="804.133" stroke="#222" stroke-width="0.6" />
<text x="38.7" y="805.533" font-size="9.5" text-anchor="end" font-weight="normal" fill="#1e1e1e">600</text>
<line x1="42.3" y1="788.1" x2="45.5" y2="789.8" stroke="#222" stroke-width="0.6" />
<text x="38.7" y="791.2" font-size="9.5" text-anchor="end" font-weight="normal" fill="#1e1e1e">700</text>
<line x1="42.3" y1="773.767" x2="45.5" y2="775.467" stroke="#222" stroke-width="0.6" />
<text x="38.7" y="776.867" font-size="9.5" text-anchor="end" font-weight="normal" fill="#1e1e1e">800</text>
<line x1="42.3" y1="759.433" x2="45.5" y2="761.133" stroke="#222" stroke-width="0.6" />
<text x="38.7" y="762.533" font-size="9.5" text-anchor="end" font-weight="normal" fill="#1e1e1e">900</text>
<line x1="42.3" y1="745.1" x2="45.5" y2="746.8" stroke="#222" stroke-width="0.6" />
<text x="38.7" y="748.2" font-size="9.5" text-anchor="end" font-weight="normal" fill="#1e1e1e">1000</text>
<line x1="42.3" y1="730.767" x2="45.5" y2="732.467" stroke="#222" stroke-width="0.6" />
<text x="38.7" y="733.867" font-size="9.5" text-anchor="end" font-weight="normal" fill="#1e1e1e">1100</text>
<line x1="42.3" y1="716.433" x2="45.5" y2="718.133" stroke="#222" stroke-width="0.6" />
<text x="38.7" y="719.533" font-size="9.5" text-anchor="end" font-weight="normal" fill="#1e1e1e">1200</text>
<line x1="42.3" y1="702.1" x2="45.5" y2="703.8" stroke="#222" stroke-width="0.6" />
<text x="38.7" y="705.2" font-size="9.5" text-anchor="end" font-weight="normal" fill="#1e1e1e">1300</text>
<line x1="157.4" y1="892.1" x2="154.2" y2="893.05" stroke="#222" stroke-width="0.6" />
<text x="150.4" y="903.8" font-size="9.5" text-anchor="end" font-weight="normal" fill="#1e1e1e">400</text>
<line x1="144.967" y1="885.511" x2="141.767" y2="886.461" stroke="#222" stroke-width="0.6" />
<text x="137.967" y="897.211" font-size="9.5" text-anchor="end" font-weight="normal" fill="#1e1e1e">500</text>
<line x1="132.533" y1="878.922" x2="129.333" y2="879.872" stroke="#222" stroke-width="0.6" />
<text x="125.533" y="890.622" font-size="9.5" text-anchor="end" font-weight="normal" fill="#1e1e1e">600</text>
<line x1="120.1" y1="872.333" x2="116.9" y2="873.283" stroke="#222" stroke-width="0.6" />
<text x="113.1" y="884.033" font-size="9.5" text-anchor="end" font-weight="normal" fill="#1e1e1e">700</text>
<line x1="107.667" y1="865.744" x2="104.467" y2="866.694" stroke="#222" stroke-width="0.6" />
<text x="100.667" y="877.444" font-size="9.5" text-anchor="end" font-weight="normal" fill="#1e1e1e">800</text>
<line x1="95.233" y1="859.156" x2="92.033" y2="860.106" stroke="#222" stroke-width="0.6" />
<text x="88.233" y="870.856" font-size="9.5" text-anchor="end" font-weight="normal" fill="#1e1e1e">900</text>
<line x1="82.8" y1="852.567" x2="79.6" y2="853.517" stroke="#222" stroke-width="0.6" />
<text x="75.8" y="864.267" font-size="9.5" text-anchor="end" font-weight="normal" fill="#1e1e1e">1000</text>
<line x1="70.367" y1="845.978" x2="67.167" y2="846.928" stroke="#222" stroke-width="0.6" />
<text x="63.367" y="857.678" font-size="9.5" text-anchor="end" font-weight="normal" fill="#1e1e1e">1100</text>
<line x1="57.933" y1="839.389" x2="54.733" y2="840.339" stroke="#222" stroke-width="0.6" />
<text x="50.933" y="851.089" font-size="9.5" text-anchor="end" font-weight="normal" fill="#1e1e1e">1200</text>
<line x1="45.5" y1="832.8" x2="42.3" y2="833.75" stroke="#222" stroke-width="0.6" />
<text x="38.5" y="844.5" font-size="9.5" text-anchor="end" font-weight="normal" fill="#1e1e1e">1300</text>
<line x1="157.4" y1="892.1" x2="160.6" y2="893.8" stroke="#222" stroke-width="0.6" />
<text x="164.2" y="905.4" font-size="9.5" text-anchor="start" font-weight="normal" fill="#1e1e1e">400</text>
<line x1="173.733" y1="887.078" x2="176.933" y2="888.778" stroke="#222" stroke-width="0.6" />
<text x="180.533" y="900.378" font-size="9.5" text-anchor="start" font-weight="normal" fill="#1e1e1e">500</text>
<line x1="190.067" y1="882.056" x2="193.267" y2="883.756" stroke="#222" stroke-width="0.6" />
<text x="196.867" y="895.356" font-size="9.5" text-anchor="start" font-weight="normal" fill="#1e1e1e">600</text>
<line x1="206.4" y1="877.033" x2="209.6" y2="878.733" stroke="#222" stroke-width="0.6" />
<text x="213.2" y="890.333" font-size="9.5" text-anchor="start" font-weight="normal" fill="#1e1e1e">700</text>
<line x1="222.733" y1="872.011" x2="225.933" y2="873.711" stroke="#222" stroke-width="0.6" />
<text x="229.533" y="885.311" font-size="9.5" text-anchor="start" font-weight="normal" fill="#1e1e1e">800</text>
<line x1="239.067" y1="866.989" x2="242.267" y2="868.689" stroke="#222" stroke-width="0.6" />
<text x="245.867" y="880.289" font-size="9.5" text-anchor="start" font-weight="normal" fill="#1e1e1e">900</text>
<line x1="255.4" y1="861.967" x2="258.6" y2="863.667" stroke="#222" stroke-width="0.6" />
<text x="262.2" y="875.267" font-size="9.5" text-anchor="start" font-weight="normal" fill="#1e1e1e">1000</text>
<line x1="271.733" y1="856.944" x2="274.933" y2="858.644" stroke="#222" stroke-width="0.6" />
<text x="278.533" y="870.244" font-size="9.5" text-anchor="start" font-weight="normal" fill="#1e1e1e">1100</text>
<line x1="288.067" y1="851.922" x2="291.267" y2="853.622" stroke="#222" stroke-width="0.6" />
<text x="294.867" y="865.222" font-size="9.5" text-anchor="start" font-weight="normal" fill="#1e1e1e">1200</text>
<line x1="304.4" y1="846.9" x2="307.6" y2="848.6" stroke="#222" stroke-width="0.6" />
<text x="311.2" y="860.2" font-size="9.5" text-anchor="start" font-weight="normal" fill="#1e1e1e">1300</text>
<text x="12.7" y="765" font-size="15.8" text-anchor="middle" font-weight="normal" fill="#1e1e1e" transform="rotate(-90 12.7 765)">Wavelength/nm</text>
<text x="69.95" y="893.45" font-size="15.8" text-anchor="middle" font-weight="normal" fill="#1e1e1e" transform="rotate(27.9 69.95 893.45)">Wavelength/nm</text>
<text x="263.4" y="899.3" font-size="15.8" text-anchor="middle" font-weight="normal" fill="#1e1e1e" transform="rotate(-16.6 263.4 899.3)">Wavelength/nm</text>
<line x1="399.5" y1="208" x2="399.5" y2="79" stroke="#d9d9d9" stroke-width="0.6" />
<line x1="399.5" y1="208" x2="546.5" y2="162.8" stroke="#d9d9d9" stroke-width="0.6" />
<line x1="658.4" y1="222.1" x2="658.4" y2="93.1" stroke="#d9d9d9" stroke-width="0.6" />
<line x1="658.4" y1="222.1" x2="546.5" y2="162.8" stroke="#d9d9d9" stroke-width="0.6" />
<line x1="511.4" y1="267.3" x2="399.5" y2="208" stroke="#d9d9d9" stroke-width="0.6" />
<line x1="511.4" y1="267.3" x2="658.4" y2="222.1" stroke="#d9d9d9" stroke-width="0.6" />
<line x1="415.833" y1="202.978" x2="415.833" y2="73.978" stroke="#d9d9d9" stroke-width="0.6" />
<line x1="399.5" y1="193.667" x2="546.5" y2="148.467" stroke="#d9d9d9" stroke-width="0.6" />
<line x1="645.967" y1="215.511" x2="645.967" y2="86.511" stroke="#d9d9d9" stroke-width="0.6" />
<line x1="658.4" y1="207.767" x2="546.5" y2="148.467" stroke="#d9d9d9" stroke-width="0.6" />
<line x1="527.733" y1="262.278" x2="415.833" y2="202.978" stroke="#d9d9d9" stroke-width="0.6" />
<line x1="498.967" y1="260.711" x2="645.967" y2="215.511" stroke="#d9d9d9" stroke-width="0.6" />
<line x1="432.167" y1="197.956" x2="432.167" y2="68.956" stroke="#d9d9d9" stroke-width="0.6" />
<line x1="399.5" y1="179.333" x2="546.5" y2="134.133" stroke="#d9d9d9" stroke-width="0.6" />
<line x1="633.533" y1="208.922" x2="633.533" y2="79.922" stroke="#d9d9d9" stroke-width="0.6" />
<line x1="658.4" y1="193.433" x2="546.5" y2="134.133" stroke="#d9d9d9" stroke-width="0.6" />
<line x1="544.067" y1="257.256" x2="432.167" y2="197.956" stroke="#d9d9d9" stroke-width="0.6" />
<line x1="486.533" y1="254.122" x2="633.533" y2="208.922" stroke="#d9d9d9" stroke-width="0.6" />
<line x1="448.5" y1="192.933" x2="448.5" y2="63.933" stroke="#d9d9d9" stroke-width="0.6" />
<line x1="399.5" y1="165" x2="546.5" y2="119.8" stroke="#d9d9d9" stroke-width="0.6" />
<line x1="621.1" y1="202.333" x2="621.1" y2="73.333" stroke="#d9d9d9" stroke-width="0.6" />
<line x1="658.4" y1="179.1" x2="546.5" y2="119.8" stroke="#d9d9d9" stroke-width="0.6" />
<line x1="560.4" y1="252.233" x2="448.5" y2="192.933" stroke="#d9d9d9" stroke-width="0.6" />
<line x1="474.1" y1="247.533" x2="621.1" y2="202.333" stroke="#d9d9d9" stroke-width="0.6" />
<line x1="464.833" y1="187.911" x2="464.833" y2="58.911" stroke="#d9d9d9" stroke-width="0.6" />
<line x1="399.5" y1="150.667" x2="546.5" y2="105.467" stroke="#d9d9d9" stroke-width="0.6" />
<line x1="608.667" y1="195.744" x2="608.667" y2="66.744" stroke="#d9d9d9" stroke-width="0.6" />
<line x1="658.4" y1="164.767" x2="546.5" y2="105.467" stroke="#d9d9d9" stroke-width="0.6" />
<line x1="576.733" y1="247.211" x2="464.833" y2="187.911" stroke="#d9d9d9" stroke-width="0.6" />
<line x1="461.667" y1="240.944" x2="608.667" y2="195.744" stroke="#d9d9d9" stroke-width="0.6" />
<line x1="481.167" y1="182.889" x2="481.167" y2="53.889" stroke="#d9d9d9" stroke-width="0.6" />
<line x1="399.5" y1="136.333" x2="546.5" y2="91.133" stroke="#d9d9d9" stroke-width="0.6" />
<line x1="596.233" y1="189.156" x2="596.233" y2="60.156" stroke="#d9d9d9" stroke-width="0.6" />
<line x1="658.4" y1="150.433" x2="546.5" y2="91.133" stroke="#d9d9d9" stroke-width="0.6" />
<line x1="593.067" y1="242.189" x2="481.167" y2="182.889" stroke="#d9d9d9" stroke-width="0.6" />
<line x1="449.233" y1="234.356" x2="596.233" y2="189.156" stroke="#d9d9d9" stroke-width="0.6" />
<line x1="497.5" y1="177.867" x2="497.5" y2="48.867" stroke="#d9d9d9" stroke-width="0.6" />
<line x1="399.5" y1="122" x2="546.5" y2="76.8" stroke="#d9d9d9" stroke-width="0.6" />
<line x1="583.8" y1="182.567" x2="583.8" y2="53.567" stroke="#d9d9d9" stroke-width="0.6" />
<line x1="658.4" y1="136.1" x2="546.5" y2="76.8" stroke="#d9d9d9" stroke-width="0.6" />
<line x1="609.4" y1="237.167" x2="497.5" y2="177.867" stroke="#d9d9d9" stroke-width="0.6" />
<line x1="436.8" y1="227.767" x2="583.8" y2="182.567" stroke="#d9d9d9" stroke-width="0.6" />
<line x1="513.833" y1="172.844" x2="513.833" y2="43.844" stroke="#d9d9d9" stroke-width="0.6" />
<line x1="399.5" y1="107.667" x2="546.5" y2="62.467" stroke="#d9d9d9" stroke-width="0.6" />
<line x1="571.367" y1="175.978" x2="571.367" y2="46.978" stroke="#d9d9d9" stroke-width="0.6" />
<line x1="658.4" y1="121.767" x2="546.5" y2="62.467" stroke="#d9d9d9" stroke-width="0.6" />
<line x1="625.733" y1="232.144" x2="513.833" y2="172.844" stroke="#d9d9d9" stroke-width="0.6" />
<line x1="424.367" y1="221.178" x2="571.367" y2="175.978" stroke="#d9d9d9" stroke-width="0.6" />
<line x1="530.167" y1="167.822" x2="530.167" y2="38.822" stroke="#d9d9d9" stroke-width="0.6" />
<line x1="399.5" y1="93.333" x2="546.5" y2="48.133" stroke="#d9d9d9" stroke-width="0.6" />
<line x1="558.933" y1="169.389" x2="558.933" y2="40.389" stroke="#d9d9d9" stroke-width="0.6" />
<line x1="658.4" y1="107.433" x2="546.5" y2="48.133" stroke="#d9d9d9" stroke-width="0.6" />
<line x1="642.067" y1="227.122" x2="530.167" y2="167.822" stroke="#d9d9d9" stroke-width="0.6" />
<line x1="411.933" y1="214.589" x2="558.933" y2="169.389" stroke="#d9d9d9" stroke-width="0.6" />
<line x1="546.5" y1="162.8" x2="546.5" y2="33.8" stroke="#d9d9d9" stroke-width="0.6" />
<line x1="399.5" y1="79" x2="546.5" y2="33.8" stroke="#d9d9d9" stroke-width="0.6" />
<line x1="546.5" y1="162.8" x2="546.5" y2="33.8" stroke="#d9d9d9" stroke-width="0.6" />
<line x1="658.4" y1="93.1" x2="546.5" y2="33.8" stroke="#d9d9d9" stroke-width="0.6" />
<line x1="658.4" y1="222.1" x2="546.5" y2="162.8" stroke="#d9d9d9" stroke-width="0.6" />
<line x1="399.5" y1="208" x2="546.5" y2="162.8" stroke="#d9d9d9" stroke-width="0.6" />
<line x1="399.5" y1="79" x2="546.5" y2="33.8" stroke="#333" stroke-width="0.7" />
<line x1="546.5" y1="33.8" x2="658.4" y2="93.1" stroke="#333" stroke-width="0.7" />
<line x1="546.5" y1="33.8" x2="546.5" y2="162.8" stroke="#333" stroke-width="0.7" />
<line x1="399.5" y1="208" x2="546.5" y2="162.8" stroke="#888" stroke-width="0.5" />
<line x1="546.5" y1="162.8" x2="658.4" y2="222.1" stroke="#888" stroke-width="0.5" />
<line x1="658.4" y1="222.1" x2="658.4" y2="93.1" stroke="#333" stroke-width="0.7" />
<g transform="matrix(111.9 59.3 0 129 429.341 69.824)"><use href="#t10" clip-path="url(#c15)"/></g>
<g transform="matrix(147 -45.2 0 129 479.732 121.518)"><use href="#t12" clip-path="url(#c16)"/></g>
<g transform="matrix(147 -45.2 -111.9 -59.3 511.4 255.303)"><use href="#t14" clip-path="url(#c17)"/></g>
<g transform="matrix(111.9 59.3 0 129 429.341 69.824)"><use href="#t10" clip-path="url(#c18)"/></g>
<g transform="matrix(111.9 59.3 0 129 429.341 69.824)"><use href="#t10" clip-path="url(#c19)"/></g>
<g transform="matrix(147 -45.2 0 129 502.56 133.615)"><use href="#t11" clip-path="url(#c20)"/></g>
<g transform="matrix(147 -45.2 0 129 479.732 121.518)"><use href="#t12" clip-path="url(#c21)"/></g>
<g transform="matrix(147 -45.2 0 129 479.732 121.518)"><use href="#t12" clip-path="url(#c22)"/></g>
<g transform="matrix(147 -45.2 -111.9 -59.3 511.4 255.303)"><use href="#t14" clip-path="url(#c23)"/></g>
<g transform="matrix(147 -45.2 -111.9 -59.3 511.4 255.303)"><use href="#t14" clip-path="url(#c24)"/></g>
<g transform="matrix(147 -45.2 -111.9 -59.3 511.4 231.18)"><use href="#t13" clip-path="url(#c25)"/></g>
<g transform="matrix(111.9 59.3 0 129 429.341 69.824)"><use href="#t10" clip-path="url(#c26)"/></g>
<g transform="matrix(111.9 59.3 0 129 429.341 69.824)"><use href="#t10" clip-path="url(#c27)"/></g>
<g transform="matrix(111.9 59.3 0 129 429.341 69.824)"><use href="#t10" clip-path="url(#c28)"/></g>
<g transform="matrix(147 -45.2 0 129 502.56 133.615)"><use href="#t11" clip-path="url(#c29)"/></g>
<g transform="matrix(147 -45.2 0 129 502.56 133.615)"><use href="#t11" clip-path="url(#c30)"/></g>
<g transform="matrix(147 -45.2 0 129 479.732 121.518)"><use href="#t12" clip-path="url(#c31)"/></g>
<g transform="matrix(147 -45.2 0 129 479.732 121.518)"><use href="#t12" clip-path="url(#c32)"/></g>
<g transform="matrix(147 -45.2 -111.9 -59.3 511.4 255.303)"><use href="#t14" clip-path="url(#c33)"/></g>
<g transform="matrix(147 -45.2 -111.9 -59.3 511.4 255.303)"><use href="#t14" clip-path="url(#c34)"/></g>
<g transform="matrix(147 -45.2 -111.9 -59.3 511.4 231.18)"><use href="#t13" clip-path="url(#c35)"/></g>
<g transform="matrix(147 -45.2 -111.9 -59.3 511.4 231.18)"><use href="#t13" clip-path="url(#c36)"/></g>
<g transform="matrix(111.9 59.3 0 129 429.341 69.824)"><use href="#t10" clip-path="url(#c37)"/></g>
<g transform="matrix(111.9 59.3 0 129 429.341 69.824)"><use href="#t10" clip-path="url(#c38)"/></g>
<g transform="matrix(147 -45.2 0 129 502.56 133.615)"><use href="#t11" clip-path="url(#c39)"/></g>
<g transform="matrix(147 -45.2 0 129 502.56 133.615)"><use href="#t11" clip-path="url(#c40)"/></g>
<g transform="matrix(147 -45.2 0 129 479.732 121.518)"><use href="#t12" clip-path="url(#c41)"/></g>
<g transform="matrix(147 -45.2 -111.9 -59.3 511.4 255.303)"><use href="#t14" clip-path="url(#c42)"/></g>
<g transform="matrix(147 -45.2 -111.9 -59.3 511.4 231.18)"><use href="#t13" clip-path="url(#c43)"/></g>
<g transform="matrix(147 -45.2 -111.9 -59.3 511.4 231.18)"><use href="#t13" clip-path="url(#c44)"/></g>
<g transform="matrix(111.9 59.3 0 129 429.341 69.824)"><use href="#t10" clip-path="url(#c45)"/></g>
<g transform="matrix(147 -45.2 0 129 502.56 133.615)"><use href="#t11" clip-path="url(#c46)"/></g>
<g transform="matrix(147 -45.2 -111.9 -59.3 511.4 231.18)"><use href="#t13" clip-path="url(#c47)"/></g>
<line x1="399.5" y1="79" x2="399.5" y2="208" stroke="#222" stroke-width="0.7" />
<line x1="399.5" y1="208" x2="511.4" y2="267.3" stroke="#222" stroke-width="0.7" />
<line x1="511.4" y1="267.3" x2="658.4" y2="222.1" stroke="#222" stroke-width="0.7" />
<line x1="396.3" y1="206.3" x2="399.5" y2="208" stroke="#222" stroke-width="0.6" />
<text x="392.7" y="209.4" font-size="9.5" text-anchor="end" font-weight="normal" fill="#1e1e1e">400</text>
<line x1="396.3" y1="191.967" x2="399.5" y2="193.667" stroke="#222" stroke-width="0.6" />
<text x="392.7" y="195.067" font-size="9.5" text-anchor="end" font-weight="normal" fill="#1e1e1e">500</text>
<line x1="396.3" y1="177.633" x2="399.5" y2="179.333" stroke="#222" stroke-width="0.6" />
<text x="392.7" y="180.733" font-size="9.5" text-anchor="end" font-weight="normal" fill="#1e1e1e">600</text>
<line x1="396.3" y1="163.3" x2="399.5" y2="165" stroke="#222" stroke-width="0.6" />
<text x="392.7" y="166.4" font-size="9.5" text-anchor="end" font-weight="normal" fill="#1e1e1e">700</text>
<line x1="396.3" y1="148.967" x2="399.5" y2="150.667" stroke="#222" stroke-width="0.6" />
<text x="392.7" y="152.067" font-size="9.5" text-anchor="end" font-weight="normal" fill="#1e1e1e">800</text>
<line x1="396.3" y1="134.633" x2="399.5" y2="136.333" stroke="#222" stroke-width="0.6" />
<text x="392.7" y="137.733" font-size="9.5" text-anchor="end" font-weight="normal" fill="#1e1e1e">900</text>
<line x1="396.3" y1="120.3" x2="399.5" y2="122" stroke="#222" stroke-width="0.6" />
<text x="392.7" y="123.4" font-size="9.5" text-anchor="end" font-weight="normal" fill="#1e1e1e">1000</text>
<line x1="396.3" y1="105.967" x2="399.5" y2="107.667" stroke="#222" stroke-width="0.6" />
<text x="392.7" y="109.067" font-size="9.5" text-anchor="end" font-weight="normal" fill="#1e1e1e">1100</text>
<line x1="396.3" y1="91.633" x2="399.5" y2="93.333" stroke="#222" stroke-width="0.6" />
<text x="392.7" y="94.733" font-size="9.5" text-anchor="end" font-weight="normal" fill="#1e1e1e">1200</text>
<line x1="396.3" y1="77.3" x2="399.5" y2="79" stroke="#222" stroke-width="0.6" />
<text x="392.7" y="80.4" font-size="9.5" text-anchor="end" font-weight="normal" fill="#1e1e1e">1300</text>
<line x1="511.4" y1="267.3" x2="508.2" y2="268.25" stroke="#222" stroke-width="0.6" />
<text x="504.4" y="279" font-size="9.5" text-anchor="end" font-weight="normal" fill="#1e1e1e">400</text>
<line x1="498.967" y1="260.711" x2="495.767" y2="261.661" stroke="#222" stroke-width="0.6" />
<text x="491.967" y="272.411" font-size="9.5" text-anchor="end" font-weight="normal" fill="#1e1e1e">500</text>
<line x1="486.533" y1="254.122" x2="483.333" y2="255.072" stroke="#222" stroke-width="0.6" />
<text x="479.533" y="265.822" font-size="9.5" text-anchor="end" font-weight="normal" fill="#1e1e1e">600</text>
<line x1="474.1" y1="247.533" x2="470.9" y2="248.483" stroke="#222" stroke-width="0.6" />
<text x="467.1" y="259.233" font-size="9.5" text-anchor="end" font-weight="normal" fill="#1e1e1e">700</text>
<line x1="461.667" y1="240.944" x2="458.467" y2="241.894" stroke="#222" stroke-width="0.6" />
<text x="454.667" y="252.644" font-size="9.5" text-anchor="end" font-weight="normal" fill="#1e1e1e">800</text>
<line x1="449.233" y1="234.356" x2="446.033" y2="235.306" stroke="#222" stroke-width="0.6" />
<text x="442.233" y="246.056" font-size="9.5" text-anchor="end" font-weight="normal" fill="#1e1e1e">900</text>
<line x1="436.8" y1="227.767" x2="433.6" y2="228.717" stroke="#222" stroke-width="0.6" />
<text x="429.8" y="239.467" font-size="9.5" text-anchor="end" font-weight="normal" fill="#1e1e1e">1000</text>
<line x1="424.367" y1="221.178" x2="421.167" y2="222.128" stroke="#222" stroke-width="0.6" />
<text x="417.367" y="232.878" font-size="9.5" text-anchor="end" font-weight="normal" fill="#1e1e1e">1100</text>
<line x1="411.933" y1="214.589" x2="408.733" y2="215.539" stroke="#222" stroke-width="0.6" />
<text x="404.933" y="226.289" font-size="9.5" text-anchor="end" font-weight="normal" fill="#1e1e1e">1200</text>
<line x1="399.5" y1="208" x2="396.3" y2="208.95" stroke="#222" stroke-width="0.6" />
<text x="392.5" y="219.7" font-size="9.5" text-anchor="end" font-weight="normal" fill="#1e1e1e">1300</text>
<line x1="511.4" y1="267.3" x2="514.6" y2="269" stroke="#222" stroke-width="0.6" />
<text x="518.2" y="280.6" font-size="9.5" text-anchor="start" font-weight="normal" fill="#1e1e1e">400</text>
<line x1="527.733" y1="262.278" x2="530.933" y2="263.978" stroke="#222" stroke-width="0.6" />
<text x="534.533" y="275.578" font-size="9.5" text-anchor="start" font-weight="normal" fill="#1e1e1e">500</text>
<line x1="544.067" y1="257.256" x2="547.267" y2="258.956" stroke="#222" stroke-width="0.6" />
<text x="550.867" y="270.556" font-size="9.5" text-anchor="start" font-weight="normal" fill="#1e1e1e">600</text>
<line x1="560.4" y1="252.233" x2="563.6" y2="253.933" stroke="#222" stroke-width="0.6" />
<text x="567.2" y="265.533" font-size="9.5" text-anchor="start" font-weight="normal" fill="#1e1e1e">700</text>
<line x1="576.733" y1="247.211" x2="579.933" y2="248.911" stroke="#222" stroke-width="0.6" />
<text x="583.533" y="260.511" font-size="9.5" text-anchor="start" font-weight="normal" fill="#1e1e1e">800</text>
<line x1="593.067" y1="242.189" x2="596.267" y2="243.889" stroke="#222" stroke-width="0.6" />
<text x="599.867" y="255.489" font-size="9.5" text-anchor="start" font-weight="normal" fill="#1e1e1e">900</text>
<line x1="609.4" y1="237.167" x2="612.6" y2="238.867" stroke="#222" stroke-width="0.6" />
<text x="616.2" y="250.467" font-size="9.5" text-anchor="start" font-weight="normal" fill="#1e1e1e">1000</text>
<line x1="625.733" y1="232.144" x2="628.933" y2="233.844" stroke="#222" stroke-width="0.6" />
<text x="632.533" y="245.444" font-size="9.5" text-anchor="start" font-weight="normal" fill="#1e1e1e">1100</text>
<line x1="642.067" y1="227.122" x2="645.267" y2="228.822" stroke="#222" stroke-width="0.6" />
<text x="648.867" y="240.422" font-size="9.5" text-anchor="start" font-weight="normal" fill="#1e1e1e">1200</text>
<line x1="658.4" y1="222.1" x2="661.6" y2="223.8" stroke="#222" stroke-width="0.6" />
<text x="665.2" y="235.4" font-size="9.5" text-anchor="start" font-weight="normal" fill="#1e1e1e">1300</text>
<text x="366.7" y="140.2" font-size="15.8" text-anchor="middle" font-weight="normal" fill="#1e1e1e" transform="rotate(-90 366.7 140.2)">Wavelength/nm</text>
<text x="426.45" y="268.15" font-size="15.8" text-anchor="middle" font-weight="normal" fill="#1e1e1e" transform="rotate(27.9 426.45 268.15)">Wavelength/nm</text>
<text x="608.9" y="274.2" font-size="15.8" text-anchor="middle" font-weight="normal" fill="#1e1e1e" transform="rotate(-16.6 608.9 274.2)">Wavelength/nm</text>
<line x1="399.5" y1="522.5" x2="399.5" y2="393.5" stroke="#d9d9d9" stroke-width="0.6" />
<line x1="399.5" y1="522.5" x2="546.5" y2="477.3" stroke="#d9d9d9" stroke-width="0.6" />
<line x1="658.4" y1="536.6" x2="658.4" y2="407.6" stroke="#d9d9d9" stroke-width="0.6" />
<line x1="658.4" y1="536.6" x2="546.5" y2="477.3" stroke="#d9d9d9" stroke-width="0.6" />
<line x1="511.4" y1="581.8" x2="399.5" y2="522.5" stroke="#d9d9d9" stroke-width="0.6" />
<line x1="511.4" y1="581.8" x2="658.4" y2="536.6" stroke="#d9d9d9" stroke-width="0.6" />
<line x1="415.833" y1="517.478" x2="415.833" y2="388.478" stroke="#d9d9d9" stroke-width="0.6" />
<line x1="399.5" y1="508.167" x2="546.5" y2="462.967" stroke="#d9d9d9" stroke-width="0.6" />
<line x1="645.967" y1="530.011" x2="645.967" y2="401.011" stroke="#d9d9d9" stroke-width="0.6" />
<line x1="658.4" y1="522.267" x2="546.5" y2="462.967" stroke="#d9d9d9" stroke-width="0.6" />
<line x1="527.733" y1="576.778" x2="415.833" y2="517.478" stroke="#d9d9d9" stroke-width="0.6" />
<line x1="498.967" y1="575.211" x2="645.967" y2="530.011" stroke="#d9d9d9" stroke-width="0.6" />
<line x1="432.167" y1="512.456" x2="432.167" y2="383.456" stroke="#d9d9d9" stroke-width="0.6" />
<line x1="399.5" y1="493.833" x2="546.5" y2="448.633" stroke="#d9d9d9" stroke-width="0.6" />
<line x1="633.533" y1="523.422" x2="633.533" y2="394.422" stroke="#d9d9d9" stroke-width="0.6" />
<line x1="658.4" y1="507.933" x2="546.5" y2="448.633" stroke="#d9d9d9" stroke-width="0.6" />
<line x1="544.067" y1="571.756" x2="432.167" y2="512.456" stroke="#d9d9d9" stroke-width="0.6" />
<line x1="486.533" y1="568.622" x2="633.533" y2="523.422" stroke="#d9d9d9" stroke-width="0.6" />
<line x1="448.5" y1="507.433" x2="448.5" y2="378.433" stroke="#d9d9d9" stroke-width="0.6" />
<line x1="399.5" y1="479.5" x2="546.5" y2="434.3" stroke="#d9d9d9" stroke-width="0.6" />
<line x1="621.1" y1="516.833" x2="621.1" y2="387.833" stroke="#d9d9d9" stroke-width="0.6" />
<line x1="658.4" y1="493.6" x2="546.5" y2="434.3" stroke="#d9d9d9" stroke-width="0.6" />
<line x1="560.4" y1="566.733" x2="448.5" y2="507.433" stroke="#d9d9d9" stroke-width="0.6" />
<line x1="474.1" y1="562.033" x2="621.1" y2="516.833" stroke="#d9d9d9" stroke-width="0.6" />
<line x1="464.833" y1="502.411" x2="464.833" y2="373.411" stroke="#d9d9d9" stroke-width="0.6" />
<line x1="399.5" y1="465.167" x2="546.5" y2="419.967" stroke="#d9d9d9" stroke-width="0.6" />
<line x1="608.667" y1="510.244" x2="608.667" y2="381.244" stroke="#d9d9d9" stroke-width="0.6" />
<line x1="658.4" y1="479.267" x2="546.5" y2="419.967" stroke="#d9d9d9" stroke-width="0.6" />
<line x1="576.733" y1="561.711" x2="464.833" y2="502.411" stroke="#d9d9d9" stroke-width="0.6" />
<line x1="461.667" y1="555.444" x2="608.667" y2="510.244" stroke="#d9d9d9" stroke-width="0.6" />
<line x1="481.167" y1="497.389" x2="481.167" y2="368.389" stroke="#d9d9d9" stroke-width="0.6" />
<line x1="399.5" y1="450.833" x2="546.5" y2="405.633" stroke="#d9d9d9" stroke-width="0.6" />
<line x1="596.233" y1="503.656" x2="596.233" y2="374.656" stroke="#d9d9d9" stroke-width="0.6" />
<line x1="658.4" y1="464.933" x2="546.5" y2="405.633" stroke="#d9d9d9" stroke-width="0.6" />
<line x1="593.067" y1="556.689" x2="481.167" y2="497.389" stroke="#d9d9d9" stroke-width="0.6" />
<line x1="449.233" y1="548.856" x2="596.233" y2="503.656" stroke="#d9d9d9" stroke-width="0.6" />
<line x1="497.5" y1="492.367" x2="497.5" y2="363.367" stroke="#d9d9d9" stroke-width="0.6" />
<line x1="399.5" y1="436.5" x2="546.5" y2="391.3" stroke="#d9d9d9" stroke-width="0.6" />
<line x1="583.8" y1="497.067" x2="583.8" y2="368.067" stroke="#d9d9d9" stroke-width="0.6" />
<line x1="658.4" y1="450.6" x2="546.5" y2="391.3" stroke="#d9d9d9" stroke-width="0.6" />
<line x1="609.4" y1="551.667" x2="497.5" y2="492.367" stroke="#d9d9d9" stroke-width="0.6" />
<line x1="436.8" y1="542.267" x2="583.8" y2="497.067" stroke="#d9d9d9" stroke-width="0.6" />
<line x1="513.833" y1="487.344" x2="513.833" y2="358.344" stroke="#d9d9d9" stroke-width="0.6" />
<line x1="399.5" y1="422.167" x2="546.5" y2="376.967" stroke="#d9d9d9" stroke-width="0.6" />
<line x1="571.367" y1="490.478" x2="571.367" y2="361.478" stroke="#d9d9d9" stroke-width="0.6" />
<line x1="658.4" y1="436.267" x2="546.5" y2="376.967" stroke="#d9d9d9" stroke-width="0.6" />
<line x1="625.733" y1="546.644" x2="513.833" y2="487.344" stroke="#d9d9d9" stroke-width="0.6" />
<line x1="424.367" y1="535.678" x2="571.367" y2="490.478" stroke="#d9d9d9" stroke-width="0.6" />
<line x1="530.167" y1="482.322" x2="530.167" y2="353.322" stroke="#d9d9d9" stroke-width="0.6" />
<line x1="399.5" y1="407.833" x2="546.5" y2="362.633" stroke="#d9d9d9" stroke-width="0.6" />
<line x1="558.933" y1="483.889" x2="558.933" y2="354.889" stroke="#d9d9d9" stroke-width="0.6" />
<line x1="658.4" y1="421.933" x2="546.5" y2="362.633" stroke="#d9d9d9" stroke-width="0.6" />
<line x1="642.067" y1="541.622" x2="530.167" y2="482.322" stroke="#d9d9d9" stroke-width="0.6" />
<line x1="411.933" y1="529.089" x2="558.933" y2="483.889" stroke="#d9d9d9" stroke-width="0.6" />
<line x1="546.5" y1="477.3" x2="546.5" y2="348.3" stroke="#d9d9d9" stroke-width="0.6" />
<line x1="399.5" y1="393.5" x2="546.5" y2="348.3" stroke="#d9d9d9" stroke-width="0.6" />
<line x1="546.5" y1="477.3" x2="546.5" y2="348.3" stroke="#d9d9d9" stroke-width="0.6" />
<line x1="658.4" y1="407.6" x2="546.5" y2="348.3" stroke="#d9d9d9" stroke-width="0.6" />
<line x1="658.4" y1="536.6" x2="546.5" y2="477.3" stroke="#d9d9d9" stroke-width="0.6" />
<line x1="399.5" y1="522.5" x2="546.5" y2="477.3" stroke="#d9d9d9" stroke-width="0.6" />
<line x1="399.5" y1="393.5" x2="546.5" y2="348.3" stroke="#333" stroke-width="0.7" />
<line x1="546.5" y1="348.3" x2="658.4" y2="407.6" stroke="#333" stroke-width="0.7" />
<line x1="546.5" y1="348.3" x2="546.5" y2="477.3" stroke="#333" stroke-width="0.7" />
<line x1="399.5" y1="522.5" x2="546.5" y2="477.3" stroke="#888" stroke-width="0.5" />
<line x1="546.5" y1="477.3" x2="658.4" y2="536.6" stroke="#888" stroke-width="0.5" />
<line x1="658.4" y1="536.6" x2="658.4" y2="407.6" stroke="#333" stroke-width="0.7" />
<g transform="matrix(111.9 59.3 0 129 439.19 381.296)"><use href="#t48" clip-path="url(#c53)"/></g>
<g transform="matrix(147 -45.2 0 129 415.502 401.98)"><use href="#t49" clip-path="url(#c54)"/></g>
<g transform="matrix(147 -45.2 -111.9 -59.3 511.4 557.29)"><use href="#t52" clip-path="url(#c55)"/></g>
<g transform="matrix(111.9 59.3 0 129 439.19 381.296)"><use href="#t48" clip-path="url(#c56)"/></g>
<g transform="matrix(111.9 59.3 0 129 439.19 381.296)"><use href="#t48" clip-path="url(#c57)"/></g>
<g transform="matrix(147 -45.2 0 129 491.594 442.304)"><use href="#t50" clip-path="url(#c58)"/></g>
<g transform="matrix(147 -45.2 0 129 415.502 401.98)"><use href="#t49" clip-path="url(#c59)"/></g>
<g transform="matrix(147 -45.2 0 129 415.502 401.98)"><use href="#t49" clip-path="url(#c60)"/></g>
<g transform="matrix(147 -45.2 -111.9 -59.3 511.4 557.29)"><use href="#t52" clip-path="url(#c61)"/></g>
<g transform="matrix(147 -45.2 -111.9 -59.3 511.4 557.29)"><use href="#t52" clip-path="url(#c62)"/></g>
<g transform="matrix(147 -45.2 -111.9 -59.3 511.4 470.215)"><use href="#t51" clip-path="url(#c63)"/></g>
<g transform="matrix(111.9 59.3 0 129 439.19 381.296)"><use href="#t48" clip-path="url(#c64)"/></g>
<g transform="matrix(111.9 59.3 0 129 439.19 381.296)"><use href="#t48" clip-path="url(#c65)"/></g>
<g transform="matrix(111.9 59.3 0 129 439.19 381.296)"><use href="#t48" clip-path="url(#c66)"/></g>
<g transform="matrix(147 -45.2 0 129 491.594 442.304)"><use href="#t50" clip-path="url(#c67)"/></g>
<g transform="matrix(147 -45.2 0 129 491.594 442.304)"><use href="#t50" clip-path="url(#c68)"/></g>
<g transform="matrix(147 -45.2 0 129 415.502 401.98)"><use href="#t49" clip-path="url(#c69)"/></g>
<g transform="matrix(147 -45.2 0 129 415.502 401.98)"><use href="#t49" clip-path="url(#c70)"/></g>
<g transform="matrix(147 -45.2 -111.9 -59.3 511.4 557.29)"><use href="#t52" clip-path="url(#c71)"/></g>
<g transform="matrix(147 -45.2 -111.9 -59.3 511.4 557.29)"><use href="#t52" clip-path="url(#c72)"/></g>
<g transform="matrix(147 -45.2 -111.9 -59.3 511.4 470.215)"><use href="#t51" clip-path="url(#c73)"/></g>
<g transform="matrix(147 -45.2 -111.9 -59.3 511.4 470.215)"><use href="#t51" clip-path="url(#c74)"/></g>
<g transform="matrix(111.9 59.3 0 129 439.19 381.296)"><use href="#t48" clip-path="url(#c75)"/></g>
<g transform="matrix(111.9 59.3 0 129 439.19 381.296)"><use href="#t48" clip-path="url(#c76)"/></g>
<g transform="matrix(147 -45.2 0 129 491.594 442.304)"><use href="#t50" clip-path="url(#c77)"/></g>
<g transform="matrix(147 -45.2 0 129 491.594 442.304)"><use href="#t50" clip-path="url(#c78)"/></g>
<g transform="matrix(147 -45.2 0 129 415.502 401.98)"><use href="#t49" clip-path="url(#c79)"/></g>
<g transform="matrix(147 -45.2 -111.9 -59.3 511.4 557.29)"><use href="#t52" clip-path="url(#c80)"/></g>
<g transform="matrix(147 -45.2 -111.9 -59.3 511.4 470.215)"><use href="#t51" clip-path="url(#c81)"/></g>
<g transform="matrix(147 -45.2 -111.9 -59.3 511.4 470.215)"><use href="#t51" clip-path="url(#c82)"/></g>
<g transform="matrix(111.9 59.3 0 129 439.19 381.296)"><use href="#t48" clip-path="url(#c83)"/></g>
<g transform="matrix(147 -45.2 0 129 491.594 442.304)"><use href="#t50" clip-path="url(#c84)"/></g>
<g transform="matrix(147 -45.2 -111.9 -59.3 511.4 470.215)"><use href="#t51" clip-path="url(#c85)"/></g>
<line x1="399.5" y1="393.5" x2="399.5" y2="522.5" stroke="#222" stroke-width="0.7" />
<line x1="399.5" y1="522.5" x2="511.4" y2="581.8" stroke="#222" stroke-width="0.7" />
<line x1="511.4" y1="581.8" x2="658.4" y2="536.6" stroke="#222" stroke-width="0.7" />
<line x1="396.3" y1="520.8" x2="399.5" y2="522.5" stroke="#222" stroke-width="0.6" />
<text x="392.7" y="523.9" font-size="9.5" text-anchor="end" font-weight="normal" fill="#1e1e1e">400</text>
<line x1="396.3" y1="506.467" x2="399.5" y2="508.167" stroke="#222" stroke-width="0.6" />
<text x="392.7" y="509.567" font-size="9.5" text-anchor="end" font-weight="normal" fill="#1e1e1e">500</text>
<line x1="396.3" y1="492.133" x2="399.5" y2="493.833" stroke="#222" stroke-width="0.6" />
<text x="392.7" y="495.233" font-size="9.5" text-anchor="end" font-weight="normal" fill="#1e1e1e">600</text>
<line x1="396.3" y1="477.8" x2="399.5" y2="479.5" stroke="#222" stroke-width="0.6" />
<text x="392.7" y="480.9" font-size="9.5" text-anchor="end" font-weight="normal" fill="#1e1e1e">700</text>
<line x1="396.3" y1="463.467" x2="399.5" y2="465.167" stroke="#222" stroke-width="0.6" />
<text x="392.7" y="466.567" font-size="9.5" text-anchor="end" font-weight="normal" fill="#1e1e1e">800</text>
<line x1="396.3" y1="449.133" x2="399.5" y2="450.833" stroke="#222" stroke-width="0.6" />
<text x="392.7" y="452.233" font-size="9.5" text-anchor="end" font-weight="normal" fill="#1e1e1e">900</text>
<line x1="396.3" y1="434.8" x2="399.5" y2="436.5" stroke="#222" stroke-width="0.6" />
<text x="392.7" y="437.9" font-size="9.5" text-anchor="end" font-weight="normal" fill="#1e1e1e">1000</text>
<line x1="396.3" y1="420.467" x2="399.5" y2="422.167" stroke="#222" stroke-width="0.6" />
<text x="392.7" y="423.567" font-size="9.5" text-anchor="end" font-weight="normal" fill="#1e1e1e">1100</text>
<line x1="396.3" y1="406.133" x2="399.5" y2="407.833" stroke="#222" stroke-width="0.6" />
<text x="392.7" y="409.233" font-size="9.5" text-anchor="end" font-weight="normal" fill="#1e1e1e">1200</text>
<line x1="396.3" y1="391.8" x2="399.5" y2="393.5" stroke="#222" stroke-width="0.6" />
<text x="392.7" y="394.9" font-size="9.5" text-anchor="end" font-weight="normal" fill="#1e1e1e">1300</text>
<line x1="511.4" y1="581.8" x2="508.2" y2="582.75" stroke="#222" stroke-width="0.6" />
<text x="504.4" y="593.5" font-size="9.5" text-anchor="end" font-weight="normal" fill="#1e1e1e">400</text>
<line x1="498.967" y1="575.211" x2="495.767" y2="576.161" stroke="#222" stroke-width="0.6" />
<text x="491.967" y="586.911" font-size="9.5" text-anchor="end" font-weight="normal" fill="#1e1e1e">500</text>
<line x1="486.533" y1="568.622" x2="483.333" y2="569.572" stroke="#222" stroke-width="0.6" />
<text x="479.533" y="580.322" font-size="9.5" text-anchor="end" font-weight="normal" fill="#1e1e1e">600</text>
<line x1="474.1" y1="562.033" x2="470.9" y2="562.983" stroke="#222" stroke-width="0.6" />
<text x="467.1" y="573.733" font-size="9.5" text-anchor="end" font-weight="normal" fill="#1e1e1e">700</text>
<line x1="461.667" y1="555.444" x2="458.467" y2="556.394" stroke="#222" stroke-width="0.6" />
<text x="454.667" y="567.144" font-size="9.5" text-anchor="end" font-weight="normal" fill="#1e1e1e">800</text>
<line x1="449.233" y1="548.856" x2="446.033" y2="549.806" stroke="#222" stroke-width="0.6" />
<text x="442.233" y="560.556" font-size="9.5" text-anchor="end" font-weight="normal" fill="#1e1e1e">900</text>
<line x1="436.8" y1="542.267" x2="433.6" y2="543.217" stroke="#222" stroke-width="0.6" />
<text x="429.8" y="553.967" font-size="9.5" text-anchor="end" font-weight="normal" fill="#1e1e1e">1000</text>
<line x1="424.367" y1="535.678" x2="421.167" y2="536.628" stroke="#222" stroke-width="0.6" />
<text x="417.367" y="547.378" font-size="9.5" text-anchor="end" font-weight="normal" fill="#1e1e1e">1100</text>
<line x1="411.933" y1="529.089" x2="408.733" y2="530.039" stroke="#222" stroke-width="0.6" />
<text x="404.933" y="540.789" font-size="9.5" text-anchor="end" font-weight="normal" fill="#1e1e1e">1200</text>
<line x1="399.5" y1="522.5" x2="396.3" y2="523.45" stroke="#222" stroke-width="0.6" />
<text x="392.5" y="534.2" font-size="9.5" text-anchor="end" font-weight="normal" fill="#1e1e1e">1300</text>
<line x1="511.4" y1="581.8" x2="514.6" y2="583.5" stroke="#222" stroke-width="0.6" />
<text x="518.2" y="595.1" font-size="9.5" text-anchor="start" font-weight="normal" fill="#1e1e1e">400</text>
<line x1="527.733" y1="576.778" x2="530.933" y2="578.478" stroke="#222" stroke-width="0.6" />
<text x="534.533" y="590.078" font-size="9.5" text-anchor="start" font-weight="normal" fill="#1e1e1e">500</text>
<line x1="544.067" y1="571.756" x2="547.267" y2="573.456" stroke="#222" stroke-width="0.6" />
<text x="550.867" y="585.056" font-size="9.5" text-anchor="start" font-weight="normal" fill="#1e1e1e">600</text>
<line x1="560.4" y1="566.733" x2="563.6" y2="568.433" stroke="#222" stroke-width="0.6" />
<text x="567.2" y="580.033" font-size="9.5" text-anchor="start" font-weight="normal" fill="#1e1e1e">700</text>
<line x1="576.733" y1="561.711" x2="579.933" y2="563.411" stroke="#222" stroke-width="0.6" />
<text x="583.533" y="575.011" font-size="9.5" text-anchor="start" font-weight="normal" fill="#1e1e1e">800</text>
<line x1="593.067" y1="556.689" x2="596.267" y2="558.389" stroke="#222" stroke-width="0.6" />
<text x="599.867" y="569.989" font-size="9.5" text-anchor="start" font-weight="normal" fill="#1e1e1e">900</text>
<line x1="609.4" y1="551.667" x2="612.6" y2="553.367" stroke="#222" stroke-width="0.6" />
<text x="616.2" y="564.967" font-size="9.5" text-anchor="start" font-weight="normal" fill="#1e1e1e">1000</text>
<line x1="625.733" y1="546.644" x2="628.933" y2="548.344" stroke="#222" stroke-width="0.6" />
<text x="632.533" y="559.944" font-size="9.5" text-anchor="start" font-weight="normal" fill="#1e1e1e">1100</text>
<line x1="642.067" y1="541.622" x2="645.267" y2="543.322" stroke="#222" stroke-width="0.6" />
<text x="648.867" y="554.922" font-size="9.5" text-anchor="start" font-weight="normal" fill="#1e1e1e">1200</text>
<line x1="658.4" y1="536.6" x2="661.6" y2="538.3" stroke="#222" stroke-width="0.6" />
<text x="665.2" y="549.9" font-size="9.5" text-anchor="start" font-weight="normal" fill="#1e1e1e">1300</text>
<text x="366.7" y="454.7" font-size="15.8" text-anchor="middle" font-weight="normal" fill="#1e1e1e" transform="rotate(-90 366.7 454.7)">Wavelength/nm</text>
<text x="426.45" y="582.65" font-size="15.8" text-anchor="middle" font-weight="normal" fill="#1e1e1e" transform="rotate(27.9 426.45 582.65)">Wavelength/nm</text>
<text x="608.9" y="588.7" font-size="15.8" text-anchor="middle" font-weight="normal" fill="#1e1e1e" transform="rotate(-16.6 608.9 588.7)">Wavelength/nm</text>
<line x1="399.5" y1="832.8" x2="399.5" y2="703.8" stroke="#d9d9d9" stroke-width="0.6" />
<line x1="399.5" y1="832.8" x2="546.5" y2="787.6" stroke="#d9d9d9" stroke-width="0.6" />
<line x1="658.4" y1="846.9" x2="658.4" y2="717.9" stroke="#d9d9d9" stroke-width="0.6" />
<line x1="658.4" y1="846.9" x2="546.5" y2="787.6" stroke="#d9d9d9" stroke-width="0.6" />
<line x1="511.4" y1="892.1" x2="399.5" y2="832.8" stroke="#d9d9d9" stroke-width="0.6" />
<line x1="511.4" y1="892.1" x2="658.4" y2="846.9" stroke="#d9d9d9" stroke-width="0.6" />
<line x1="415.833" y1="827.778" x2="415.833" y2="698.778" stroke="#d9d9d9" stroke-width="0.6" />
<line x1="399.5" y1="818.467" x2="546.5" y2="773.267" stroke="#d9d9d9" stroke-width="0.6" />
<line x1="645.967" y1="840.311" x2="645.967" y2="711.311" stroke="#d9d9d9" stroke-width="0.6" />
<line x1="658.4" y1="832.567" x2="546.5" y2="773.267" stroke="#d9d9d9" stroke-width="0.6" />
<line x1="527.733" y1="887.078" x2="415.833" y2="827.778" stroke="#d9d9d9" stroke-width="0.6" />
<line x1="498.967" y1="885.511" x2="645.967" y2="840.311" stroke="#d9d9d9" stroke-width="0.6" />
<line x1="432.167" y1="822.756" x2="432.167" y2="693.756" stroke="#d9d9d9" stroke-width="0.6" />
<line x1="399.5" y1="804.133" x2="546.5" y2="758.933" stroke="#d9d9d9" stroke-width="0.6" />
<line x1="633.533" y1="833.722" x2="633.533" y2="704.722" stroke="#d9d9d9" stroke-width="0.6" />
<line x1="658.4" y1="818.233" x2="546.5" y2="758.933" stroke="#d9d9d9" stroke-width="0.6" />
<line x1="544.067" y1="882.056" x2="432.167" y2="822.756" stroke="#d9d9d9" stroke-width="0.6" />
<line x1="486.533" y1="878.922" x2="633.533" y2="833.722" stroke="#d9d9d9" stroke-width="0.6" />
<line x1="448.5" y1="817.733" x2="448.5" y2="688.733" stroke="#d9d9d9" stroke-width="0.6" />
<line x1="399.5" y1="789.8" x2="546.5" y2="744.6" stroke="#d9d9d9" stroke-width="0.6" />
<line x1="621.1" y1="827.133" x2="621.1" y2="698.133" stroke="#d9d9d9" stroke-width="0.6" />
<line x1="658.4" y1="803.9" x2="546.5" y2="744.6" stroke="#d9d9d9" stroke-width="0.6" />
<line x1="560.4" y1="877.033" x2="448.5" y2="817.733" stroke="#d9d9d9" stroke-width="0.6" />
<line x1="474.1" y1="872.333" x2="621.1" y2="827.133" stroke="#d9d9d9" stroke-width="0.6" />
<line x1="464.833" y1="812.711" x2="464.833" y2="683.711" stroke="#d9d9d9" stroke-width="0.6" />
<line x1="399.5" y1="775.467" x2="546.5" y2="730.267" stroke="#d9d9d9" stroke-width="0.6" />
<line x1="608.667" y1="820.544" x2="608.667" y2="691.544" stroke="#d9d9d9" stroke-width="0.6" />
<line x1="658.4" y1="789.567" x2="546.5" y2="730.267" stroke="#d9d9d9" stroke-width="0.6" />
<line x1="576.733" y1="872.011" x2="464.833" y2="812.711" stroke="#d9d9d9" stroke-width="0.6" />
<line x1="461.667" y1="865.744" x2="608.667" y2="820.544" stroke="#d9d9d9" stroke-width="0.6" />
<line x1="481.167" y1="807.689" x2="481.167" y2="678.689" stroke="#d9d9d9" stroke-width="0.6" />
<line x1="399.5" y1="761.133" x2="546.5" y2="715.933" stroke="#d9d9d9" stroke-width="0.6" />
<line x1="596.233" y1="813.956" x2="596.233" y2="684.956" stroke="#d9d9d9" stroke-width="0.6" />
<line x1="658.4" y1="775.233" x2="546.5" y2="715.933" stroke="#d9d9d9" stroke-width="0.6" />
<line x1="593.067" y1="866.989" x2="481.167" y2="807.689" stroke="#d9d9d9" stroke-width="0.6" />
<line x1="449.233" y1="859.156" x2="596.233" y2="813.956" stroke="#d9d9d9" stroke-width="0.6" />
<line x1="497.5" y1="802.667" x2="497.5" y2="673.667" stroke="#d9d9d9" stroke-width="0.6" />
<line x1="399.5" y1="746.8" x2="546.5" y2="701.6" stroke="#d9d9d9" stroke-width="0.6" />
<line x1="583.8" y1="807.367" x2="583.8" y2="678.367" stroke="#d9d9d9" stroke-width="0.6" />
<line x1="658.4" y1="760.9" x2="546.5" y2="701.6" stroke="#d9d9d9" stroke-width="0.6" />
<line x1="609.4" y1="861.967" x2="497.5" y2="802.667" stroke="#d9d9d9" stroke-width="0.6" />
<line x1="436.8" y1="852.567" x2="583.8" y2="807.367" stroke="#d9d9d9" stroke-width="0.6" />
<line x1="513.833" y1="797.644" x2="513.833" y2="668.644" stroke="#d9d9d9" stroke-width="0.6" />
<line x1="399.5" y1="732.467" x2="546.5" y2="687.267" stroke="#d9d9d9" stroke-width="0.6" />
<line x1="571.367" y1="800.778" x2="571.367" y2="671.778" stroke="#d9d9d9" stroke-width="0.6" />
<line x1="658.4" y1="746.567" x2="546.5" y2="687.267" stroke="#d9d9d9" stroke-width="0.6" />
<line x1="625.733" y1="856.944" x2="513.833" y2="797.644" stroke="#d9d9d9" stroke-width="0.6" />
<line x1="424.367" y1="845.978" x2="571.367" y2="800.778" stroke="#d9d9d9" stroke-width="0.6" />
<line x1="530.167" y1="792.622" x2="530.167" y2="663.622" stroke="#d9d9d9" stroke-width="0.6" />
<line x1="399.5" y1="718.133" x2="546.5" y2="672.933" stroke="#d9d9d9" stroke-width="0.6" />
<line x1="558.933" y1="794.189" x2="558.933" y2="665.189" stroke="#d9d9d9" stroke-width="0.6" />
<line x1="658.4" y1="732.233" x2="546.5" y2="672.933" stroke="#d9d9d9" stroke-width="0.6" />
<line x1="642.067" y1="851.922" x2="530.167" y2="792.622" stroke="#d9d9d9" stroke-width="0.6" />
<line x1="411.933" y1="839.389" x2="558.933" y2="794.189" stroke="#d9d9d9" stroke-width="0.6" />
<line x1="546.5" y1="787.6" x2="546.5" y2="658.6" stroke="#d9d9d9" stroke-width="0.6" />
<line x1="399.5" y1="703.8" x2="546.5" y2="658.6" stroke="#d9d9d9" stroke-width="0.6" />
<line x1="546.5" y1="787.6" x2="546.5" y2="658.6" stroke="#d9d9d9" stroke-width="0.6" />
<line x1="658.4" y1="717.9" x2="546.5" y2="658.6" stroke="#d9d9d9" stroke-width="0.6" />
<line x1="658.4" y1="846.9" x2="546.5" y2="787.6" stroke="#d9d9d9" stroke-width="0.6" />
<line x1="399.5" y1="832.8" x2="546.5" y2="787.6" stroke="#d9d9d9" stroke-width="0.6" />
<line x1="399.5" y1="703.8" x2="546.5" y2="658.6" stroke="#333" stroke-width="0.7" />
<line x1="546.5" y1="658.6" x2="658.4" y2="717.9" stroke="#333" stroke-width="0.7" />
<line x1="546.5" y1="658.6" x2="546.5" y2="787.6" stroke="#333" stroke-width="0.7" />
<line x1="399.5" y1="832.8" x2="546.5" y2="787.6" stroke="#888" stroke-width="0.5" />
<line x1="546.5" y1="787.6" x2="658.4" y2="846.9" stroke="#888" stroke-width="0.5" />
<line x1="658.4" y1="846.9" x2="658.4" y2="717.9" stroke="#333" stroke-width="0.7" />
<g transform="matrix(111.9 59.3 0 129 459.77 685.268)"><use href="#t86" clip-path="url(#c89)"/></g>
<g transform="matrix(147 -45.2 0 129 503.399 758.86)"><use href="#t87" clip-path="url(#c90)"/></g>
<g transform="matrix(147 -45.2 -111.9 -59.3 511.4 801.155)"><use href="#t88" clip-path="url(#c91)"/></g>
<g transform="matrix(111.9 59.3 0 129 459.77 685.268)"><use href="#t86" clip-path="url(#c92)"/></g>
<g transform="matrix(111.9 59.3 0 129 459.77 685.268)"><use href="#t86" clip-path="url(#c93)"/></g>
<g transform="matrix(147 -45.2 0 129 503.399 758.86)"><use href="#t87" clip-path="url(#c94)"/></g>
<g transform="matrix(147 -45.2 0 129 503.399 758.86)"><use href="#t87" clip-path="url(#c95)"/></g>
<g transform="matrix(147 -45.2 -111.9 -59.3 511.4 801.155)"><use href="#t88" clip-path="url(#c96)"/></g>
<g transform="matrix(147 -45.2 -111.9 -59.3 511.4 801.155)"><use href="#t88" clip-path="url(#c97)"/></g>
<g transform="matrix(111.9 59.3 0 129 459.77 685.268)"><use href="#t86" clip-path="url(#c98)"/></g>
<g transform="matrix(147 -45.2 0 129 503.399 758.86)"><use href="#t87" clip-path="url(#c99)"/></g>
<g transform="matrix(147 -45.2 -111.9 -59.3 511.4 801.155)"><use href="#t88" clip-path="url(#c100)"/></g>
<line x1="399.5" y1="703.8" x2="399.5" y2="832.8" stroke="#222" stroke-width="0.7" />
<line x1="399.5" y1="832.8" x2="511.4" y2="892.1" stroke="#222" stroke-width="0.7" />
<line x1="511.4" y1="892.1" x2="658.4" y2="846.9" stroke="#222" stroke-width="0.7" />
<line x1="396.3" y1="831.1" x2="399.5" y2="832.8" stroke="#222" stroke-width="0.6" />
<text x="392.7" y="834.2" font-size="9.5" text-anchor="end" font-weight="normal" fill="#1e1e1e">400</text>
<line x1="396.3" y1="816.767" x2="399.5" y2="818.467" stroke="#222" stroke-width="0.6" />
<text x="392.7" y="819.867" font-size="9.5" text-anchor="end" font-weight="normal" fill="#1e1e1e">500</text>
<line x1="396.3" y1="802.433" x2="399.5" y2="804.133" stroke="#222" stroke-width="0.6" />
<text x="392.7" y="805.533" font-size="9.5" text-anchor="end" font-weight="normal" fill="#1e1e1e">600</text>
<line x1="396.3" y1="788.1" x2="399.5" y2="789.8" stroke="#222" stroke-width="0.6" />
<text x="392.7" y="791.2" font-size="9.5" text-anchor="end" font-weight="normal" fill="#1e1e1e">700</text>
<line x1="396.3" y1="773.767" x2="399.5" y2="775.467" stroke="#222" stroke-width="0.6" />
<text x="392.7" y="776.867" font-size="9.5" text-anchor="end" font-weight="normal" fill="#1e1e1e">800</text>
<line x1="396.3" y1="759.433" x2="399.5" y2="761.133" stroke="#222" stroke-width="0.6" />
<text x="392.7" y="762.533" font-size="9.5" text-anchor="end" font-weight="normal" fill="#1e1e1e">900</text>
<line x1="396.3" y1="745.1" x2="399.5" y2="746.8" stroke="#222" stroke-width="0.6" />
<text x="392.7" y="748.2" font-size="9.5" text-anchor="end" font-weight="normal" fill="#1e1e1e">1000</text>
<line x1="396.3" y1="730.767" x2="399.5" y2="732.467" stroke="#222" stroke-width="0.6" />
<text x="392.7" y="733.867" font-size="9.5" text-anchor="end" font-weight="normal" fill="#1e1e1e">1100</text>
<line x1="396.3" y1="716.433" x2="399.5" y2="718.133" stroke="#222" stroke-width="0.6" />
<text x="392.7" y="719.533" font-size="9.5" text-anchor="end" font-weight="normal" fill="#1e1e1e">1200</text>
<line x1="396.3" y1="702.1" x2="399.5" y2="703.8" stroke="#222" stroke-width="0.6" />
<text x="392.7" y="705.2" font-size="9.5" text-anchor="end" font-weight="normal" fill="#1e1e1e">1300</text>
<line x1="511.4" y1="892.1" x2="508.2" y2="893.05" stroke="#222" stroke-width="0.6" />
<text x="504.4" y="903.8" font-size="9.5" text-anchor="end" font-weight="normal" fill="#1e1e1e">400</text>
<line x1="498.967" y1="885.511" x2="495.767" y2="886.461" stroke="#222" stroke-width="0.6" />
<text x="491.967" y="897.211" font-size="9.5" text-anchor="end" font-weight="normal" fill="#1e1e1e">500</text>
<line x1="486.533" y1="878.922" x2="483.333" y2="879.872" stroke="#222" stroke-width="0.6" />
<text x="479.533" y="890.622" font-size="9.5" text-anchor="end" font-weight="normal" fill="#1e1e1e">600</text>
<line x1="474.1" y1="872.333" x2="470.9" y2="873.283" stroke="#222" stroke-width="0.6" />
<text x="467.1" y="884.033" font-size="9.5" text-anchor="end" font-weight="normal" fill="#1e1e1e">700</text>
<line x1="461.667" y1="865.744" x2="458.467" y2="866.694" stroke="#222" stroke-width="0.6" />
<text x="454.667" y="877.444" font-size="9.5" text-anchor="end" font-weight="normal" fill="#1e1e1e">800</text>
<line x1="449.233" y1="859.156" x2="446.033" y2="860.106" stroke="#222" stroke-width="0.6" />
<text x="442.233" y="870.856" font-size="9.5" text-anchor="end" font-weight="normal" fill="#1e1e1e">900</text>
<line x1="436.8" y1="852.567" x2="433.6" y2="853.517" stroke="#222" stroke-width="0.6" />
<text x="429.8" y="864.267" font-size="9.5" text-anchor="end" font-weight="normal" fill="#1e1e1e">1000</text>
<line x1="424.367" y1="845.978" x2="421.167" y2="846.928" stroke="#222" stroke-width="0.6" />
<text x="417.367" y="857.678" font-size="9.5" text-anchor="end" font-weight="normal" fill="#1e1e1e">1100</text>
<line x1="411.933" y1="839.389" x2="408.733" y2="840.339" stroke="#222" stroke-width="0.6" />
<text x="404.933" y="851.089" font-size="9.5" text-anchor="end" font-weight="normal" fill="#1e1e1e">1200</text>
<line x1="399.5" y1="832.8" x2="396.3" y2="833.75" stroke="#222" stroke-width="0.6" />
<text x="392.5" y="844.5" font-size="9.5" text-anchor="end" font-weight="normal" fill="#1e1e1e">1300</text>
<line x1="511.4" y1="892.1" x2="514.6" y2="893.8" stroke="#222" stroke-width="0.6" />
<text x="518.2" y="905.4" font-size="9.5" text-anchor="start" font-weight="normal" fill="#1e1e1e">400</text>
<line x1="527.733" y1="887.078" x2="530.933" y2="888.778" stroke="#222" stroke-width="0.6" />
<text x="534.533" y="900.378" font-size="9.5" text-anchor="start" font-weight="normal" fill="#1e1e1e">500</text>
<line x1="544.067" y1="882.056" x2="547.267" y2="883.756" stroke="#222" stroke-width="0.6" />
<text x="550.867" y="895.356" font-size="9.5" text-anchor="start" font-weight="normal" fill="#1e1e1e">600</text>
<line x1="560.4" y1="877.033" x2="563.6" y2="878.733" stroke="#222" stroke-width="0.6" />
<text x="567.2" y="890.333" font-size="9.5" text-anchor="start" font-weight="normal" fill="#1e1e1e">700</text>
<line x1="576.733" y1="872.011" x2="579.933" y2="873.711" stroke="#222" stroke-width="0.6" />
<text x="583.533" y="885.311" font-size="9.5" text-anchor="start" font-weight="normal" fill="#1e1e1e">800</text>
<line x1="593.067" y1="866.989" x2="596.267" y2="868.689" stroke="#222" stroke-width="0.6" />
<text x="599.867" y="880.289" font-size="9.5" text-anchor="start" font-weight="normal" fill="#1e1e1e">900</text>
<line x1="609.4" y1="861.967" x2="612.6" y2="863.667" stroke="#222" stroke-width="0.6" />
<text x="616.2" y="875.267" font-size="9.5" text-anchor="start" font-weight="normal" fill="#1e1e1e">1000</text>
<line x1="625.733" y1="856.944" x2="628.933" y2="858.644" stroke="#222" stroke-width="0.6" />
<text x="632.533" y="870.244" font-size="9.5" text-anchor="start" font-weight="normal" fill="#1e1e1e">1100</text>
<line x1="642.067" y1="851.922" x2="645.267" y2="853.622" stroke="#222" stroke-width="0.6" />
<text x="648.867" y="865.222" font-size="9.5" text-anchor="start" font-weight="normal" fill="#1e1e1e">1200</text>
<line x1="658.4" y1="846.9" x2="661.6" y2="848.6" stroke="#222" stroke-width="0.6" />
<text x="665.2" y="860.2" font-size="9.5" text-anchor="start" font-weight="normal" fill="#1e1e1e">1300</text>
<text x="366.7" y="765" font-size="15.8" text-anchor="middle" font-weight="normal" fill="#1e1e1e" transform="rotate(-90 366.7 765)">Wavelength/nm</text>
<text x="426.45" y="892.95" font-size="15.8" text-anchor="middle" font-weight="normal" fill="#1e1e1e" transform="rotate(27.9 426.45 892.95)">Wavelength/nm</text>
<text x="608.9" y="899" font-size="15.8" text-anchor="middle" font-weight="normal" fill="#1e1e1e" transform="rotate(-16.6 608.9 899)">Wavelength/nm</text>
</svg></body></html>
